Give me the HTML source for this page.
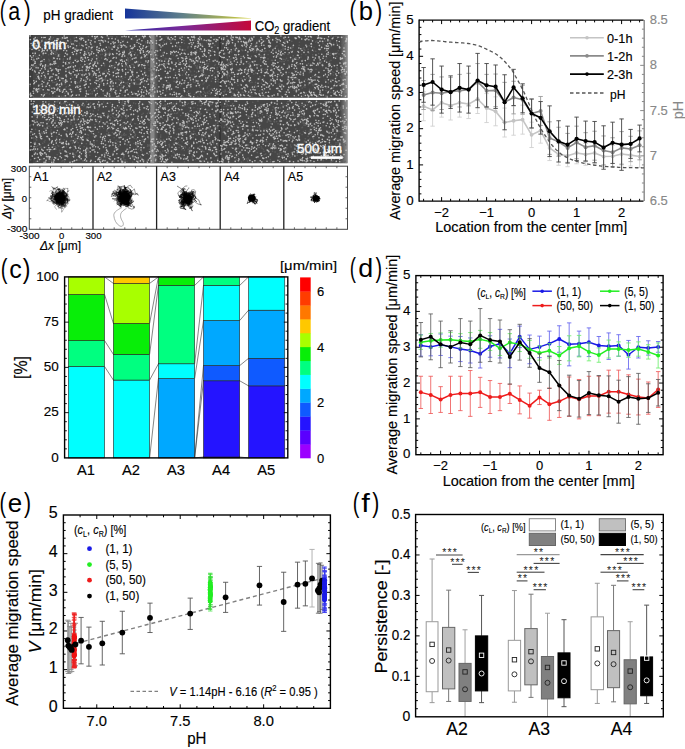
<!DOCTYPE html>
<html><head><meta charset="utf-8"><style>
html,body{margin:0;padding:0;background:#fff;width:685px;height:749px;overflow:hidden}
svg{display:block}
text{font-family:"Liberation Sans", sans-serif}
</style></head><body>
<svg width="685" height="749" viewBox="0 0 685 749">
<text x="-0.25" y="20.3" font-size="27.6" textLength="6.18" lengthAdjust="spacingAndGlyphs">(</text>
<text x="8.15" y="20.3" font-size="26" textLength="11.95" lengthAdjust="spacingAndGlyphs">a</text>
<text x="24.08" y="20.3" font-size="27.6" textLength="6.69" lengthAdjust="spacingAndGlyphs">)</text>
<text x="43.3" y="19.5" font-size="14.5" fill="#000" stroke="#000" stroke-width="0.15" textLength="69.6" lengthAdjust="spacingAndGlyphs" >pH gradient</text>
<defs>
<linearGradient id="gph" x1="0" y1="0" x2="1" y2="0">
<stop offset="0" stop-color="#15349a"/><stop offset="0.45" stop-color="#5f7f8a"/><stop offset="1" stop-color="#d4d03a"/></linearGradient>
<linearGradient id="gco" x1="0" y1="0" x2="1" y2="0">
<stop offset="0" stop-color="#2a2aa8"/><stop offset="0.45" stop-color="#7a2a98"/><stop offset="1" stop-color="#c4083a"/></linearGradient>
<linearGradient id="band" x1="0" y1="0" x2="1" y2="0">
<stop offset="0" stop-color="#909090" stop-opacity="0"/><stop offset="0.15" stop-color="#909090" stop-opacity="0.9"/><stop offset="0.5" stop-color="#909090" stop-opacity="0.85"/><stop offset="0.62" stop-color="#808080" stop-opacity="0.45"/><stop offset="0.85" stop-color="#808080" stop-opacity="0.2"/><stop offset="1" stop-color="#808080" stop-opacity="0"/></linearGradient>
<linearGradient id="redge" x1="0" y1="0" x2="1" y2="0">
<stop offset="0" stop-color="#999" stop-opacity="0"/><stop offset="1" stop-color="#9a9a9a" stop-opacity="0.9"/></linearGradient>
<filter id="soft" x="-5%" y="-5%" width="110%" height="110%"><feGaussianBlur stdDeviation="0.35"/></filter>
</defs>
<polygon points="125,8.4 125,18.4 251,18.4 251,18.2" fill="url(#gph)"/>
<polygon points="125,30.6 251,20.6 251,30.6" fill="url(#gco)"/>
<text x="254.7" y="30.5" font-size="14.5" fill="#000" stroke="#000" stroke-width="0.15" textLength="75.5" lengthAdjust="spacingAndGlyphs" >CO<tspan font-size="10" dy="3">2</tspan><tspan dy="-3"> gradient</tspan></text>
<rect x="29" y="35" width="318.5" height="62.8" fill="#464646"/>
<rect x="149.5" y="35" width="9" height="62.8" fill="url(#band)"/>
<rect x="219.3" y="35" width="1.6" height="62.8" fill="#2e2e2e" opacity="0.8"/>
<rect x="340" y="35" width="7.5" height="62.8" fill="url(#redge)"/>
<rect x="29" y="35" width="4" height="62.8" fill="#333" opacity="0.5"/>
<path d="M173.2 70.1h0M322.7 64.3h0M190.7 71.7h0M88.3 67.1h0M229.4 84.3h0M59.6 54.4h0M58.5 85.4h0M249.6 38.4h0M341.1 94.8h0M237.0 73.5h0M79.7 36.7h0M197.2 39.4h0M90.1 50.6h0M39.3 64.2h0M169.4 87.4h0M194.3 75.0h0M188.2 76.3h0M174.7 52.8h0M346.0 96.7h0M296.1 79.1h0M129.7 49.9h0M121.4 40.1h0M272.6 60.3h0M298.1 59.5h0M333.4 87.7h0M30.0 48.6h0M318.3 64.6h0M340.5 60.1h0M52.9 74.3h0M276.5 52.3h0M57.4 56.2h0M335.3 82.2h0M67.2 50.9h0M61.8 39.5h0M282.4 46.7h0M207.0 63.2h0M90.2 80.6h0M71.3 75.2h0M66.7 61.6h0M97.3 52.3h0M337.5 85.0h0M126.2 90.0h0M96.6 59.9h0M300.6 75.1h0M61.6 96.3h0M97.4 51.6h0M274.7 55.9h0M123.7 40.3h0M58.4 71.5h0M106.8 72.6h0M147.6 63.5h0M333.7 65.4h0M211.9 88.8h0M87.7 45.2h0M317.7 85.8h0M108.9 47.4h0M264.1 93.4h0M92.1 93.9h0M309.4 72.7h0M163.4 42.2h0M42.1 94.7h0M105.4 78.9h0M111.2 86.2h0M218.8 53.8h0M85.4 79.9h0M51.6 49.8h0M207.1 88.0h0M224.5 52.9h0M320.5 48.3h0M35.1 52.3h0M171.0 39.5h0M85.7 58.4h0M211.1 43.9h0M144.6 90.3h0M340.5 76.0h0M248.8 71.6h0M74.3 37.9h0M35.5 91.5h0M251.9 94.7h0M36.5 74.7h0M182.6 80.5h0M130.9 97.0h0M53.7 69.2h0M263.4 90.9h0M263.4 78.9h0M281.2 91.8h0M141.3 77.7h0M315.3 89.1h0M162.0 84.2h0M303.4 70.9h0M227.8 59.2h0M214.5 73.1h0M55.2 74.9h0M344.6 89.6h0M260.6 59.6h0M262.7 71.4h0M169.4 87.1h0M56.4 81.7h0M39.2 72.6h0M182.2 49.9h0M251.1 66.2h0M224.5 92.1h0M110.9 36.5h0M125.2 77.3h0M94.0 46.2h0M316.8 76.2h0M169.8 90.4h0M133.4 76.6h0M92.7 62.2h0M285.2 91.8h0M308.8 59.3h0M214.6 55.2h0M73.0 66.2h0M295.1 87.7h0M255.2 93.9h0M117.5 46.2h0M172.6 52.6h0M97.6 61.1h0M228.1 66.0h0M129.7 87.2h0M341.0 63.5h0M53.5 37.7h0M306.4 38.3h0M254.4 70.7h0M127.7 84.2h0M35.9 44.1h0M173.9 37.3h0M292.7 50.3h0M74.4 38.7h0M229.2 63.1h0M229.4 75.9h0M285.7 94.5h0M246.7 48.0h0M180.4 46.7h0M33.2 64.7h0M256.1 46.8h0M116.1 57.0h0M250.8 67.6h0M224.5 82.1h0M154.5 84.3h0M317.0 41.1h0M325.3 80.0h0M71.0 63.6h0M228.0 91.5h0M149.2 70.6h0M308.5 84.6h0M329.0 64.2h0M236.2 48.3h0M258.6 85.9h0M233.1 79.7h0M97.4 90.9h0M340.5 95.6h0M200.0 84.2h0M131.3 91.5h0M301.0 57.1h0M56.0 62.8h0M204.2 82.8h0M184.3 37.5h0M286.2 39.7h0M283.3 46.4h0M136.0 84.0h0M74.3 44.9h0M193.5 80.1h0M296.0 78.0h0M329.5 65.9h0M330.6 41.1h0M100.0 68.0h0M121.8 80.4h0M232.3 67.8h0M297.1 70.1h0M128.6 59.1h0M297.7 90.9h0M95.8 87.9h0M336.7 67.9h0M211.4 48.1h0M199.6 66.6h0M221.6 37.5h0M337.0 67.4h0M156.7 84.8h0M208.2 65.9h0M248.8 39.8h0M200.5 61.1h0M333.0 92.3h0M115.1 64.8h0M70.0 62.3h0M288.3 90.9h0M180.8 55.2h0M90.5 73.6h0M323.0 43.7h0M276.8 37.2h0M91.3 49.7h0M247.5 55.5h0M142.4 73.7h0M63.0 80.5h0M68.7 67.0h0M109.2 47.9h0M197.9 62.5h0M148.9 61.1h0M197.6 45.6h0M94.5 74.4h0M232.1 68.2h0M299.6 73.2h0M301.3 50.0h0M264.6 85.4h0M315.9 55.1h0M129.6 92.3h0M98.9 96.9h0M311.1 44.0h0M105.6 80.3h0M112.0 41.7h0M293.5 61.6h0M280.1 43.5h0M157.4 77.7h0M35.4 48.1h0M246.0 91.6h0M336.7 42.9h0M190.1 82.2h0M189.1 77.8h0M89.7 40.1h0M63.4 38.1h0M204.6 67.3h0M210.0 44.8h0M88.3 48.3h0M296.1 96.4h0M323.5 41.6h0M49.4 94.0h0M176.2 82.6h0M133.4 64.4h0M193.1 62.1h0M220.2 36.6h0M252.0 87.5h0M87.2 63.6h0M264.1 60.6h0M91.6 45.9h0M192.2 36.7h0M312.9 84.9h0M253.1 88.5h0M229.3 60.6h0M219.8 66.7h0M341.2 85.1h0M111.6 91.6h0M265.7 83.4h0M288.0 60.6h0M313.9 89.6h0M250.0 82.8h0M272.3 60.6h0M258.8 40.1h0M138.1 64.5h0M33.2 57.6h0M232.2 74.0h0M103.4 93.6h0M240.9 56.5h0M238.9 70.7h0M198.7 59.6h0M346.7 75.1h0M252.0 82.4h0M340.4 37.2h0M224.8 81.0h0M111.1 60.4h0M45.8 47.8h0M148.9 41.8h0M109.3 91.2h0M204.1 66.9h0M336.3 70.6h0M345.1 74.8h0M286.3 40.5h0M219.2 82.3h0M44.1 92.7h0M80.5 64.7h0M83.4 66.1h0M223.5 39.4h0M329.4 61.5h0M196.7 72.4h0M145.7 53.3h0M237.4 70.1h0M119.7 79.7h0M123.6 36.7h0M107.4 38.4h0M79.4 82.0h0M153.4 90.7h0M267.0 38.9h0M343.1 93.6h0M53.1 91.2h0M165.9 65.0h0M338.2 50.7h0M195.7 93.2h0M258.8 64.5h0M340.0 85.8h0M221.1 42.8h0M227.6 63.7h0M94.3 39.0h0M197.2 43.4h0M170.1 76.7h0M174.2 51.8h0M214.3 61.5h0M276.3 68.3h0M346.0 94.1h0M262.5 50.4h0M65.9 90.4h0M278.3 74.0h0M143.6 52.4h0M246.9 70.4h0M217.3 74.5h0M268.5 47.4h0M108.7 95.8h0M320.0 89.6h0M42.3 39.5h0M115.7 61.8h0M227.3 42.1h0M201.4 40.2h0M57.2 77.2h0M204.3 74.4h0M148.1 65.1h0M96.5 56.8h0M265.8 87.1h0M53.4 43.1h0M286.2 74.0h0M273.4 48.8h0M164.3 51.6h0M286.5 58.4h0M236.9 96.3h0M132.9 69.4h0M266.2 92.2h0M165.3 58.4h0M60.5 89.4h0M54.7 40.9h0M208.6 65.5h0M247.0 54.1h0M275.6 40.5h0M97.4 76.3h0M55.7 54.4h0M259.6 78.3h0M119.5 44.5h0M143.2 80.2h0M145.9 43.0h0M254.6 70.6h0M320.9 93.3h0M319.2 62.6h0M284.3 54.5h0M130.5 60.3h0M326.0 90.6h0M108.5 57.9h0M145.6 58.0h0M155.2 59.5h0M91.6 70.3h0M282.4 68.9h0M294.8 70.2h0M85.8 82.2h0M309.0 53.0h0M36.8 67.4h0M202.2 70.5h0M336.1 75.7h0M284.7 39.7h0M203.1 84.0h0M56.4 40.8h0M263.4 90.8h0M56.6 74.6h0M75.4 81.4h0M235.5 50.8h0M99.7 82.6h0M195.1 82.6h0M154.8 56.5h0M336.6 77.0h0M186.2 68.7h0M258.3 79.1h0M319.8 60.9h0M291.6 76.6h0M300.3 85.1h0M294.0 90.2h0M333.3 75.0h0M195.8 79.3h0M284.0 61.6h0M163.0 44.7h0M264.7 96.4h0M148.8 46.1h0M94.6 61.8h0M122.3 95.1h0M48.6 54.7h0M66.2 75.5h0M275.7 46.8h0M49.6 63.9h0M214.9 91.4h0M41.3 42.5h0M88.3 49.1h0M104.4 79.7h0M218.3 49.5h0M88.4 53.0h0M84.5 82.2h0M128.6 69.4h0M288.7 65.1h0M112.3 90.1h0M319.5 56.7h0M203.3 94.4h0M182.7 49.3h0M45.6 93.8h0M283.8 59.4h0M197.0 67.4h0M116.8 96.4h0M238.2 50.3h0M33.2 64.7h0M147.5 84.6h0M255.8 72.9h0M79.6 45.4h0M131.8 51.7h0M305.3 67.4h0M231.7 96.6h0M114.3 68.5h0M77.5 82.9h0M30.2 86.1h0M298.0 86.1h0M55.9 52.3h0M256.9 41.7h0M181.9 64.5h0M332.6 71.7h0M301.5 54.4h0M279.9 61.3h0M320.3 41.4h0M291.7 48.6h0M202.0 68.0h0M79.7 86.7h0M128.5 54.8h0M53.9 54.5h0M177.9 79.6h0M143.8 77.9h0M63.3 59.9h0M176.1 95.0h0M292.7 75.8h0M33.7 58.9h0M254.8 50.3h0M208.6 63.8h0M33.1 96.5h0M283.1 48.5h0M225.0 53.6h0M149.0 68.8h0M124.3 56.4h0M154.1 76.6h0M111.1 48.0h0M261.6 56.0h0M329.3 70.2h0M259.2 56.1h0M291.8 41.4h0M74.4 41.6h0M244.6 79.1h0M86.8 60.4h0M295.0 72.1h0M58.4 49.7h0M79.6 43.4h0M158.7 40.2h0M321.5 61.9h0M191.9 75.4h0M272.8 86.1h0M152.1 56.1h0M160.4 36.7h0M156.8 78.6h0M341.0 84.1h0M239.0 73.0h0M35.7 56.1h0M138.3 75.6h0M63.5 58.9h0M191.2 84.1h0M291.3 73.2h0M80.0 82.7h0M316.0 69.4h0M141.5 66.4h0M74.7 79.5h0M342.5 67.4h0M256.5 86.9h0M92.3 93.6h0M228.5 47.9h0M56.2 50.8h0M212.5 78.5h0M134.1 92.7h0M144.3 64.1h0M69.1 95.4h0M72.8 91.1h0M202.0 70.1h0M207.4 52.0h0M318.0 96.5h0M288.9 72.6h0M68.7 86.3h0M121.3 90.7h0M106.1 70.9h0M293.1 47.2h0M203.4 40.5h0M39.9 46.8h0M342.6 93.3h0M238.4 54.6h0M242.5 80.9h0M150.7 72.0h0M284.5 36.8h0M93.0 64.4h0M75.1 59.4h0M210.3 46.4h0M194.5 51.9h0M209.8 56.1h0M233.2 38.1h0M242.4 44.7h0M333.8 72.5h0M178.7 61.0h0M227.5 78.0h0M270.0 81.8h0M183.7 96.7h0M295.4 88.1h0M159.4 62.4h0M209.2 91.2h0M196.5 67.9h0M166.8 91.1h0M131.4 39.1h0M259.7 90.9h0M261.8 72.4h0M268.1 54.5h0M217.9 40.1h0M69.2 63.2h0M189.1 60.1h0M46.3 78.3h0M196.6 50.4h0M126.9 60.0h0M104.5 40.0h0M318.6 94.9h0M240.8 88.8h0M163.3 85.1h0M100.1 81.5h0M209.4 91.1h0M61.0 84.3h0M69.0 68.7h0M331.2 35.8h0M107.1 54.1h0M132.7 39.6h0M313.5 85.7h0M155.7 57.6h0M215.3 38.6h0M39.7 90.8h0M127.4 66.3h0M325.8 95.6h0M179.6 48.4h0M123.4 92.3h0M314.0 47.8h0M295.3 57.5h0M179.5 46.3h0M308.6 96.7h0M93.8 74.5h0M90.5 89.7h0M45.6 42.3h0M259.8 55.0h0M315.1 89.0h0M255.8 44.1h0M250.3 93.2h0M170.9 40.6h0M100.5 54.6h0M255.0 47.8h0M87.2 50.2h0M240.4 84.2h0M147.9 76.3h0M310.1 71.9h0M102.4 54.2h0M323.5 76.6h0M117.5 75.0h0M58.3 96.0h0M169.3 68.1h0M198.0 38.6h0M219.8 53.2h0M109.3 85.0h0M57.4 53.3h0M269.3 50.8h0M118.2 69.3h0M88.9 90.7h0M342.8 37.9h0M176.1 81.7h0M151.7 92.7h0M188.2 46.8h0M206.0 75.3h0M143.8 76.1h0M277.9 67.4h0M190.0 87.5h0M246.6 67.7h0M331.3 46.4h0M276.9 45.9h0M222.5 50.2h0M169.4 83.1h0M279.1 84.2h0M104.6 65.7h0M99.9 71.3h0M187.9 38.0h0M218.9 79.5h0M211.3 89.2h0M86.9 45.1h0M35.4 66.2h0M167.5 62.8h0M113.1 84.7h0M52.8 91.3h0M210.1 69.0h0M280.7 50.4h0M76.1 54.8h0M43.2 55.0h0M226.7 68.0h0M113.7 71.8h0M57.8 86.0h0M84.2 51.4h0M80.4 78.1h0M293.1 83.9h0M49.2 60.9h0M145.3 49.0h0M337.4 38.4h0M184.9 82.4h0M342.3 44.6h0M174.1 81.4h0M42.2 50.5h0M311.9 44.5h0M154.3 54.0h0M164.3 40.5h0M40.7 96.8h0M271.7 80.7h0M102.6 51.3h0M204.7 50.6h0M176.1 92.9h0M145.2 56.4h0M340.8 73.2h0M42.4 60.5h0M235.7 39.4h0M138.6 78.3h0M303.7 71.9h0M310.7 64.1h0M154.3 87.4h0M150.6 83.6h0M98.1 57.1h0M88.0 69.4h0M81.7 48.3h0M97.8 64.4h0M127.6 63.2h0M344.6 77.4h0M303.2 48.3h0M151.2 40.3h0M248.9 58.0h0M116.8 36.9h0M87.5 51.9h0M154.3 92.3h0M256.4 52.2h0M144.2 45.2h0M326.6 57.8h0M272.4 80.1h0M317.3 37.0h0M131.9 59.3h0M56.2 89.8h0M132.9 83.0h0M194.4 39.2h0M154.6 50.4h0M42.7 45.0h0M218.5 37.7h0M128.8 61.8h0M202.2 44.1h0M253.7 51.7h0M259.7 76.6h0M76.4 48.3h0M118.6 79.4h0M158.2 59.5h0M304.2 49.6h0M122.4 56.9h0M98.2 38.3h0M37.6 74.4h0M209.1 85.3h0M339.0 54.0h0M242.3 92.0h0M98.3 78.0h0M241.0 94.3h0M305.0 50.2h0M230.2 41.3h0M165.3 59.8h0M48.8 59.3h0M133.8 66.2h0M118.5 45.5h0M157.3 64.9h0M82.6 76.5h0M105.8 41.5h0M138.1 61.6h0M77.6 71.5h0M252.1 69.7h0M251.7 37.2h0M153.8 58.1h0M49.7 60.5h0M47.1 66.1h0M215.5 64.5h0M133.0 51.3h0M37.3 57.0h0M312.4 70.4h0M112.8 76.7h0M88.7 64.5h0M224.8 94.2h0M144.7 71.1h0M328.4 83.0h0M228.6 73.8h0M160.0 61.2h0M117.3 86.6h0M308.6 59.2h0M318.1 38.1h0M72.9 66.8h0M127.6 57.9h0M339.4 45.0h0M90.8 49.8h0M245.3 50.2h0M30.1 69.1h0M154.6 50.4h0M186.2 75.6h0M203.5 74.0h0M207.5 86.7h0M336.8 56.2h0M139.7 90.0h0M129.1 79.6h0M250.2 77.8h0M335.3 86.3h0M80.3 73.8h0M185.3 70.3h0M146.9 53.3h0M267.1 68.5h0M104.9 51.1h0M132.8 46.7h0M192.6 43.5h0M49.8 40.0h0M62.2 78.9h0M65.5 63.4h0M274.5 65.2h0M81.3 88.8h0M305.4 39.1h0M110.3 66.9h0M282.2 59.8h0M256.7 51.2h0M256.6 55.8h0M135.6 82.3h0M296.9 86.5h0M209.6 61.5h0M253.8 73.9h0M293.1 84.8h0M69.5 58.9h0M241.9 49.9h0M88.3 36.6h0M215.4 93.4h0M337.3 44.0h0M247.7 61.5h0M229.9 60.1h0M325.6 96.3h0M45.2 79.5h0M67.3 38.4h0M120.4 80.6h0M344.7 43.2h0M134.4 37.4h0M201.7 65.4h0M148.1 54.7h0M283.5 87.1h0M119.7 59.8h0M225.6 82.6h0M340.7 59.6h0M249.7 69.2h0M283.4 44.8h0M85.3 42.4h0M325.6 51.2h0M184.5 43.2h0M132.4 37.0h0M209.1 44.6h0M228.0 52.6h0M101.9 65.3h0M145.7 51.7h0M46.0 39.7h0M312.7 54.7h0M54.7 47.0h0M183.0 96.8h0M93.9 88.9h0M183.3 61.2h0M285.5 60.0h0M48.1 69.5h0M238.0 73.9h0M117.6 93.3h0M303.8 96.7h0M170.3 86.8h0M259.5 46.6h0M38.3 46.1h0M67.4 40.4h0M143.5 81.9h0M128.0 67.3h0M33.1 48.7h0M333.8 36.5h0M196.9 85.4h0M280.9 80.8h0M156.3 84.9h0M292.1 82.8h0M342.2 42.0h0M331.0 60.4h0M253.3 51.1h0M318.1 37.2h0M212.6 49.7h0M152.9 58.4h0M238.0 85.4h0M145.4 74.8h0M142.0 52.9h0M316.6 55.5h0M59.6 56.3h0M264.8 48.7h0M265.3 69.2h0M245.4 46.7h0M63.3 44.5h0M140.8 62.2h0M32.8 66.6h0M157.6 55.5h0M200.0 94.1h0M94.7 89.7h0M131.5 82.0h0M64.1 96.2h0M166.1 94.7h0M99.4 60.8h0M253.5 46.7h0M116.4 77.2h0M330.1 55.5h0M87.9 57.7h0M343.4 44.9h0M230.9 58.9h0M233.8 48.8h0M225.1 90.1h0M301.2 74.3h0M189.8 70.5h0M66.0 87.1h0M248.4 63.5h0M240.7 61.5h0M151.7 49.9h0M220.2 70.9h0M193.1 37.8h0M228.6 63.1h0M217.8 72.2h0M325.0 45.1h0M178.3 96.6h0M263.7 55.0h0M263.3 96.4h0M157.2 88.9h0M69.9 96.4h0M185.4 50.1h0M296.1 75.5h0M327.0 86.6h0M282.6 67.1h0M344.7 39.8h0M305.5 79.4h0M109.3 85.2h0M173.7 68.6h0M304.1 47.8h0M118.4 75.2h0M53.1 69.8h0M279.2 65.8h0M106.4 84.8h0M300.8 83.0h0M203.9 91.2h0M282.3 45.1h0M145.7 41.9h0M41.5 57.0h0M303.9 86.8h0M67.0 46.9h0M153.0 87.8h0M225.3 91.0h0M52.6 96.3h0M95.3 74.3h0M307.6 80.3h0M92.2 76.7h0M166.3 36.7h0M137.4 55.1h0M229.4 52.8h0M220.9 78.3h0M87.1 43.6h0M249.7 64.3h0M70.7 42.9h0M328.0 73.1h0M143.1 47.8h0M345.1 78.1h0M263.1 57.9h0M128.1 60.8h0M76.2 74.4h0M164.4 86.0h0M159.4 63.8h0M190.3 93.4h0M139.6 78.9h0M104.3 71.3h0M120.1 89.2h0M120.6 88.1h0M244.2 63.6h0M325.7 59.5h0M265.3 72.6h0M171.9 39.7h0M162.6 53.0h0M169.5 94.2h0M122.6 78.3h0M242.8 50.8h0M160.2 43.9h0M313.5 51.2h0M163.1 56.7h0M289.8 87.8h0M217.0 69.2h0M61.3 90.7h0M57.8 58.1h0M148.5 80.1h0M241.9 56.8h0M314.3 93.9h0M37.2 74.5h0M178.5 57.9h0M177.1 55.1h0M242.4 72.9h0M337.3 95.6h0M344.4 60.0h0M292.4 75.6h0M252.0 96.9h0M50.9 64.1h0M157.0 76.0h0M98.9 96.4h0M96.2 58.4h0M75.1 60.0h0M264.9 40.9h0M82.7 75.5h0M227.2 81.2h0M110.1 85.4h0M261.4 83.3h0M67.7 64.5h0M34.8 88.4h0M329.1 90.6h0M37.5 57.3h0M199.6 68.5h0M65.0 84.1h0M125.4 66.8h0M69.3 70.6h0M70.9 41.2h0M192.1 53.8h0M276.2 50.9h0M161.0 39.1h0M98.8 63.4h0M206.7 63.9h0M299.4 42.2h0M299.2 45.3h0M337.3 67.9h0M158.6 73.3h0M303.6 94.8h0M160.8 36.5h0M78.5 85.9h0M262.5 79.4h0M79.4 68.3h0M38.8 42.5h0M125.1 94.9h0M233.6 87.7h0M44.4 61.3h0M54.6 51.8h0M65.2 92.0h0M134.0 65.7h0M237.1 90.1h0M329.7 70.6h0M188.5 91.1h0M154.8 54.1h0M264.1 51.6h0M146.4 62.1h0M180.9 57.7h0M166.2 63.4h0M45.5 86.9h0M49.4 68.1h0M203.3 60.3h0M100.4 41.9h0M147.7 55.0h0M183.2 49.9h0M267.3 65.6h0M32.6 60.7h0M336.0 36.2h0M217.8 94.6h0M145.7 72.4h0M146.7 54.2h0M222.9 71.9h0M129.7 66.3h0M193.4 81.9h0M46.6 41.5h0M109.6 52.3h0M281.9 61.8h0M302.4 60.4h0M120.4 77.4h0M56.9 96.0h0M293.3 55.9h0M130.4 85.9h0M279.6 75.1h0M47.8 82.5h0M45.0 74.0h0M204.8 92.6h0M232.2 37.2h0M325.9 81.9h0M213.5 36.1h0M263.3 61.4h0M245.2 96.0h0M320.3 40.4h0M277.4 62.8h0M268.0 58.9h0M171.7 62.5h0M67.2 55.4h0M262.6 40.2h0M66.5 86.8h0M240.9 69.3h0M65.7 43.0h0M128.1 94.2h0M207.3 92.2h0M96.7 61.2h0M199.8 87.2h0M68.9 89.3h0M179.5 37.7h0M166.7 58.9h0M243.5 92.6h0M186.2 78.0h0M152.8 83.4h0M63.1 81.2h0M82.6 71.7h0M93.9 57.0h0M81.7 57.2h0M217.2 67.6h0M152.9 70.9h0M296.7 57.7h0M214.8 65.2h0M340.6 55.9h0M250.8 50.1h0M112.6 80.5h0M212.0 51.5h0M50.1 86.3h0M149.5 79.6h0M166.9 73.6h0M207.1 95.5h0M318.1 63.7h0M184.1 50.0h0M268.5 42.1h0M126.9 87.7h0M40.9 78.5h0M209.8 69.6h0M135.3 45.1h0M331.1 82.6h0M285.1 41.8h0M278.3 49.2h0M92.9 68.5h0M223.1 43.2h0M272.2 71.4h0M314.8 92.3h0M248.2 58.1h0M331.2 79.8h0M122.0 88.3h0M260.1 52.0h0M108.8 37.0h0M200.0 51.3h0M122.7 51.3h0M71.5 65.5h0M116.2 53.2h0M117.8 67.0h0M306.7 45.6h0M302.2 88.1h0M222.9 69.1h0M262.4 68.5h0M238.9 92.1h0M275.5 51.7h0M47.0 93.1h0M144.7 84.0h0M103.8 63.5h0M147.2 80.4h0M328.8 66.7h0M209.2 57.1h0M103.4 93.9h0M64.7 93.4h0M238.0 40.2h0M315.6 42.0h0M209.0 43.1h0M343.2 54.7h0M306.2 39.6h0M241.0 40.0h0M39.2 70.7h0M341.3 77.7h0M300.8 83.8h0M195.0 40.5h0M196.8 47.1h0M196.7 57.5h0M187.9 47.9h0M253.2 61.3h0M183.8 40.6h0M184.1 69.9h0M338.0 70.2h0M72.5 54.2h0M136.2 78.8h0M327.3 95.5h0M330.8 92.4h0M301.9 93.0h0M36.2 65.8h0M217.0 77.8h0M224.0 73.3h0M325.5 41.1h0M194.3 94.5h0M39.9 42.6h0M305.2 94.4h0M37.4 37.8h0M292.7 77.9h0M194.5 71.3h0M269.8 85.2h0M30.0 40.0h0M281.5 95.5h0M293.9 60.7h0M136.1 57.0h0M34.5 82.9h0M112.9 71.6h0M196.5 56.3h0M243.7 63.6h0M104.1 89.8h0M85.5 45.0h0M110.1 65.1h0M278.1 56.2h0M105.3 75.8h0M112.3 67.8h0M110.6 89.5h0M88.3 50.0h0M125.3 56.0h0M260.0 77.1h0M280.3 68.9h0M54.7 82.5h0M107.3 49.1h0M161.1 96.4h0M147.3 57.6h0M318.5 96.4h0M152.5 44.1h0M280.0 83.7h0M137.0 84.2h0M150.1 53.4h0M217.8 81.2h0M180.6 85.9h0M34.2 66.3h0M150.3 39.8h0M319.6 44.6h0M95.0 89.5h0M334.2 92.8h0M138.2 92.8h0M74.7 79.5h0M329.5 47.6h0M72.8 77.3h0M309.5 80.3h0M330.6 63.6h0M147.8 43.2h0M116.3 93.3h0M52.5 47.1h0M139.9 38.8h0M127.1 47.0h0M68.7 68.0h0M201.0 70.5h0M271.4 68.0h0M329.9 40.8h0M100.5 40.5h0M127.9 82.4h0M322.7 66.6h0M80.6 56.0h0M209.9 53.8h0M281.0 95.3h0M175.5 72.7h0M297.9 64.3h0M90.3 93.6h0M339.7 37.3h0M271.5 60.3h0M46.2 45.8h0M84.6 80.9h0M96.9 37.0h0M99.4 84.7h0M188.0 75.8h0M177.2 47.0h0M34.6 54.4h0M43.0 51.7h0M225.9 58.4h0M179.7 74.0h0M130.3 57.6h0M309.9 71.4h0M161.9 68.9h0M175.7 56.1h0M319.4 50.1h0M326.4 88.0h0M309.3 45.8h0M191.1 96.1h0M121.3 46.3h0M259.0 50.2h0M214.8 45.4h0M330.1 53.2h0M60.5 77.9h0M139.8 70.0h0M187.4 92.3h0M192.8 59.0h0M30.3 66.2h0M115.1 70.9h0M230.0 64.1h0M58.3 66.2h0M182.5 75.0h0M337.2 52.9h0M170.1 41.0h0M283.3 50.2h0M292.5 84.6h0M110.5 91.1h0M189.5 61.9h0M205.7 93.7h0M185.0 65.3h0M121.9 87.3h0M189.2 56.8h0M92.1 49.0h0M294.1 85.0h0M339.9 91.9h0M246.9 84.6h0M255.3 85.3h0M283.7 46.6h0M288.0 54.4h0M107.2 92.1h0M37.0 67.1h0M138.5 84.3h0M223.3 91.6h0M325.3 75.2h0M50.2 76.6h0M64.5 95.9h0M305.9 54.8h0M88.7 78.3h0M270.0 96.1h0M227.2 43.5h0M260.1 39.4h0M304.8 82.8h0M278.7 89.3h0M210.2 93.5h0M232.3 65.9h0M151.6 57.4h0M37.1 45.7h0M281.9 49.8h0M236.9 83.2h0M249.9 67.4h0M129.9 52.5h0M89.2 75.4h0M247.3 93.5h0M134.6 92.5h0M318.7 53.6h0M331.5 73.7h0M334.8 83.2h0M135.4 52.9h0M195.4 65.7h0M41.0 88.6h0M199.5 64.7h0M265.8 51.1h0M92.9 71.3h0M106.3 55.8h0M52.0 39.0h0M142.4 68.0h0M330.5 74.9h0M161.1 60.7h0M104.4 64.8h0M333.7 43.3h0M167.0 77.8h0M271.4 69.8h0M233.0 93.2h0M315.8 51.2h0M201.3 96.8h0M197.0 47.4h0M272.6 39.3h0M77.4 69.5h0M116.2 79.8h0M260.1 55.3h0M272.8 75.4h0M253.5 63.7h0M166.8 42.3h0M180.3 94.2h0M311.3 39.2h0M52.3 52.3h0M249.9 62.6h0M70.3 61.8h0M211.4 81.3h0M157.5 75.6h0M245.7 73.5h0M44.5 79.3h0M70.5 39.2h0M179.9 36.8h0M52.9 59.7h0M178.3 42.3h0M332.0 87.9h0M184.0 71.8h0M129.8 96.0h0M67.8 54.4h0M99.8 88.8h0M191.0 60.9h0M156.2 90.1h0M111.4 84.2h0M254.2 63.2h0M145.7 62.5h0M173.4 55.1h0M227.5 61.0h0M126.0 83.1h0M174.0 64.8h0M308.5 63.6h0M149.0 90.8h0M339.2 83.9h0M157.0 76.9h0M264.6 53.9h0M259.2 93.9h0M237.6 76.7h0M167.7 75.8h0M101.4 82.9h0M200.7 95.8h0M138.1 79.4h0M35.1 61.3h0M272.7 51.7h0M224.2 49.3h0M156.0 96.6h0M92.1 91.7h0M48.7 71.5h0M290.1 87.0h0M153.8 71.9h0M255.5 82.4h0M266.4 71.2h0M109.5 79.0h0M207.7 69.1h0M342.6 44.2h0M277.2 55.7h0M260.1 94.0h0M116.8 70.5h0M197.2 66.1h0M82.7 74.1h0M312.9 76.4h0M121.4 85.1h0M162.9 44.7h0M221.8 64.0h0M197.7 96.5h0M210.3 94.2h0M141.5 82.2h0M53.7 54.2h0M249.1 78.0h0M292.3 59.1h0M116.5 57.7h0M200.1 37.3h0M148.5 76.0h0M76.9 54.8h0M306.3 92.9h0M108.9 46.7h0M67.1 41.0h0M281.4 81.0h0M113.6 65.7h0M250.2 37.5h0M289.3 88.4h0M96.8 78.9h0M251.4 56.4h0M308.2 49.2h0M180.0 55.0h0M169.8 85.5h0M210.4 73.1h0M342.6 49.5h0M100.4 73.7h0M77.4 94.8h0M137.9 62.7h0M166.4 86.5h0M319.9 77.2h0M84.1 57.5h0M253.7 49.0h0M309.5 89.2h0M101.6 58.1h0M102.3 79.8h0M44.7 78.4h0M49.7 87.3h0M202.0 71.5h0M60.0 38.5h0M141.7 96.1h0M220.0 88.6h0M49.7 42.0h0M36.4 78.5h0M85.7 52.5h0M241.2 78.4h0M132.0 64.4h0M121.4 70.2h0M142.6 57.8h0M108.7 53.7h0M112.5 36.8h0M128.2 72.0h0M114.9 42.7h0M297.9 64.5h0M192.0 54.9h0M310.9 81.9h0M227.1 76.2h0M249.2 66.4h0M160.7 59.7h0M189.6 64.5h0M197.4 68.4h0M279.7 90.4h0M100.8 37.2h0M125.2 37.7h0M282.2 73.8h0M120.3 47.5h0M305.1 87.0h0M246.5 78.1h0M265.7 63.6h0M155.7 69.6h0M308.8 96.5h0M320.4 86.9h0M53.4 50.9h0M337.5 69.1h0M192.9 54.8h0M303.0 67.4h0M343.6 40.4h0M344.6 36.6h0M76.8 59.6h0M232.5 42.6h0M208.0 93.3h0M167.8 82.5h0M217.4 71.4h0M84.7 64.2h0M315.1 77.1h0M98.5 63.2h0M202.1 56.4h0M212.9 74.5h0M35.5 49.3h0M237.9 48.9h0M52.9 82.4h0M135.6 94.4h0M206.9 42.0h0M231.6 51.9h0M287.9 80.1h0M270.1 39.3h0M40.6 84.6h0M74.3 48.1h0M39.3 45.8h0M179.9 94.4h0M131.6 51.7h0M292.2 47.1h0M231.1 73.4h0M326.2 38.5h0M208.3 59.2h0M290.8 51.2h0M256.4 47.1h0M186.7 95.1h0M105.8 52.9h0M320.6 77.1h0M50.7 47.2h0M105.0 53.5h0M297.5 78.7h0M340.3 76.8h0M228.8 59.2h0M257.1 66.0h0M48.5 65.9h0M151.5 68.3h0" stroke="#626262" stroke-width="1.6" stroke-linecap="round" opacity="0.8"/>
<path d="M45.2 37.5h0M341.3 58.5h0M134.4 44.9h0M217.6 91.8h0M87.0 66.4h0M188.2 82.7h0M208.9 50.4h0M89.9 80.1h0M54.6 88.7h0M40.4 47.4h0M178.0 87.5h0M226.2 81.4h0M271.0 80.0h0M46.2 86.3h0M76.6 45.7h0M41.7 37.5h0M307.7 59.1h0M57.2 38.7h0M298.0 72.6h0M320.2 38.1h0M65.5 53.3h0M90.3 42.7h0M93.4 75.0h0M83.1 46.1h0M199.5 58.8h0M77.2 70.6h0M190.8 59.5h0M180.1 38.2h0M224.7 47.6h0M136.2 36.4h0M311.1 71.8h0M154.1 69.0h0M327.6 43.9h0M151.3 79.1h0M147.7 79.1h0M317.6 38.3h0M120.0 53.7h0M267.5 83.8h0M251.5 92.4h0M88.7 59.9h0M300.1 82.7h0M65.5 95.8h0M264.5 88.8h0M144.6 72.9h0M333.6 90.8h0M212.7 90.3h0M346.4 87.2h0M237.6 94.6h0M75.3 60.5h0M208.6 43.9h0M277.2 39.6h0M229.1 52.9h0M132.1 72.9h0M90.5 63.2h0M301.5 96.2h0M113.0 58.2h0M249.7 47.4h0M298.9 48.0h0M206.2 56.6h0M30.1 35.9h0M30.4 55.9h0M117.0 96.5h0M231.9 39.8h0M256.7 50.0h0M182.4 80.0h0M301.3 93.0h0M163.2 55.2h0M155.8 54.9h0M264.8 64.1h0M247.0 45.1h0M277.9 95.0h0M94.1 73.5h0M81.2 38.0h0M161.0 47.0h0M261.4 70.8h0M243.6 95.0h0M48.3 41.8h0M41.1 63.9h0M291.1 77.6h0M203.4 88.2h0M147.7 42.7h0M233.1 37.4h0M102.5 37.6h0M81.0 39.7h0M198.2 43.6h0M221.0 86.2h0M138.9 43.2h0M242.5 80.4h0M309.9 69.7h0M214.3 88.6h0M244.4 95.5h0M120.7 83.2h0M230.3 64.5h0M33.2 65.0h0M113.3 72.6h0M191.2 67.0h0M48.4 43.9h0M222.1 77.5h0M343.7 84.3h0M121.7 63.7h0M190.1 85.0h0M154.8 92.1h0M183.2 60.2h0M181.8 57.7h0M346.6 38.6h0M156.4 40.7h0M244.6 45.0h0M77.1 61.7h0M220.6 82.5h0M170.7 53.9h0M146.4 90.2h0M97.4 36.5h0M310.5 65.4h0M71.7 44.1h0M312.0 81.6h0M50.2 77.1h0M97.6 63.1h0M221.5 38.9h0M326.3 56.3h0M75.4 83.5h0M64.4 38.1h0M236.4 64.6h0M315.2 84.2h0M95.2 38.6h0M221.0 64.6h0M125.2 91.9h0M95.9 75.2h0M53.1 92.3h0M330.5 73.6h0M131.3 80.1h0M316.1 84.4h0M42.7 66.6h0M74.1 69.2h0M330.9 88.7h0M108.6 69.6h0M130.4 46.1h0M265.5 82.3h0M136.5 61.5h0M250.5 80.3h0M176.7 43.0h0M60.1 46.2h0M291.7 66.2h0M234.0 58.1h0M146.7 46.6h0M338.7 72.9h0M70.6 78.8h0M219.3 73.3h0M273.8 73.0h0M307.6 95.1h0M158.7 75.5h0M148.4 60.9h0M145.8 75.4h0M141.5 57.3h0M298.1 84.7h0M244.1 87.4h0M152.1 75.1h0M109.4 55.1h0M61.7 84.7h0M321.8 54.3h0M149.7 43.0h0M74.9 74.9h0M312.5 40.9h0M110.5 82.3h0M101.4 89.5h0M141.6 64.8h0M93.7 53.6h0M164.3 52.8h0M260.9 37.6h0M232.2 84.9h0M133.1 47.5h0M67.8 40.5h0M280.8 72.7h0M34.6 63.5h0M219.5 55.3h0M40.8 61.6h0M141.9 95.3h0M143.8 92.3h0M304.9 71.0h0M69.7 85.2h0M58.4 69.9h0M60.6 41.5h0M159.9 45.4h0M344.1 71.2h0M314.1 94.3h0M270.0 75.3h0M179.7 83.4h0M241.9 45.5h0M197.8 61.1h0M193.2 79.4h0M248.2 70.7h0M279.8 86.3h0M59.1 44.7h0M44.7 45.6h0M333.7 54.7h0M168.9 64.3h0M208.7 52.9h0M276.6 56.1h0M297.8 85.0h0M30.2 69.3h0M59.3 89.9h0M51.8 52.2h0M273.4 72.0h0M241.2 61.1h0M194.8 48.2h0M176.3 51.5h0M243.9 42.3h0M73.4 47.9h0M198.7 71.4h0M30.7 96.2h0M294.5 59.0h0M80.1 86.3h0M339.4 46.7h0M269.4 85.9h0M326.8 48.6h0M68.0 45.9h0M103.1 90.9h0M318.2 64.8h0M70.2 57.4h0M106.2 75.5h0M258.0 83.3h0M168.3 63.8h0M178.1 58.5h0M174.0 77.7h0M255.2 55.8h0M209.4 44.7h0M44.1 59.5h0M143.7 37.8h0M55.0 61.9h0M328.4 87.1h0M39.4 55.2h0M146.6 54.8h0M73.2 71.9h0M295.7 59.2h0M85.7 42.2h0M34.6 82.6h0M102.9 80.1h0M280.4 40.9h0M89.7 55.1h0M273.5 80.9h0M125.8 63.5h0M142.3 64.7h0M281.3 51.8h0M286.6 92.1h0M220.3 94.5h0M327.1 46.3h0M344.0 48.1h0M284.8 43.2h0M125.7 62.9h0M295.7 77.5h0M94.4 90.7h0M304.1 67.0h0M45.8 53.3h0M122.5 61.4h0M328.5 72.2h0M289.5 40.2h0M107.6 80.6h0M137.7 49.7h0M49.8 38.9h0M160.5 69.2h0M156.5 70.4h0M122.0 36.8h0M243.5 56.3h0M185.5 58.9h0M115.4 39.0h0M123.8 54.0h0M66.2 37.6h0M182.1 37.0h0M308.3 57.8h0M170.4 68.0h0M37.4 42.0h0M278.7 69.9h0M186.1 56.8h0M267.9 66.6h0M280.9 86.9h0M313.1 80.2h0M243.4 64.0h0M198.8 71.2h0M196.3 85.9h0M301.7 39.0h0M268.1 73.5h0M219.4 91.4h0M45.5 64.9h0M148.8 93.8h0M82.0 70.3h0M75.5 81.9h0M184.8 80.8h0M127.1 89.9h0M32.0 49.5h0M262.2 89.6h0M276.1 52.6h0M55.5 79.2h0M261.6 39.5h0M326.0 68.1h0M40.4 65.1h0M137.0 42.2h0M310.4 93.0h0M69.1 63.1h0M116.4 76.9h0M64.6 56.2h0M159.8 64.7h0M167.7 72.3h0M327.8 92.8h0M317.3 86.5h0M102.2 50.8h0M175.5 75.2h0M221.9 57.2h0M344.1 54.9h0M35.9 41.4h0M96.2 80.5h0M296.2 38.4h0M104.9 50.6h0M279.1 90.7h0M113.2 42.1h0M336.2 95.3h0M256.9 64.7h0M266.5 82.8h0M191.2 52.4h0M196.2 76.3h0M132.6 74.9h0M76.3 95.2h0M96.8 49.7h0M334.1 93.9h0M323.0 87.3h0M298.7 86.1h0M209.4 40.3h0M261.7 86.9h0M295.3 38.5h0M49.2 80.5h0M184.4 90.5h0M343.8 63.2h0M243.9 76.5h0M249.6 58.3h0M232.5 40.0h0M315.0 80.1h0M284.1 64.1h0M94.8 63.4h0M245.5 69.3h0M64.2 36.0h0M155.9 50.8h0M101.7 49.4h0M161.5 78.3h0M319.1 77.2h0M36.4 88.9h0M222.8 80.6h0M224.3 57.5h0M137.3 40.2h0M240.2 39.1h0M245.6 91.6h0M241.5 72.9h0M285.9 94.5h0M287.3 96.4h0M175.4 36.7h0M224.5 74.9h0M303.3 73.3h0M144.9 36.1h0M293.0 74.0h0M342.0 72.1h0M300.0 83.1h0M343.8 64.1h0M314.1 60.1h0M33.4 55.7h0M141.1 96.5h0M154.9 52.6h0M248.7 41.8h0M126.6 60.0h0M69.2 72.4h0M163.8 84.9h0M137.4 95.6h0M91.8 68.3h0M101.5 36.7h0M125.4 90.6h0M122.2 65.7h0M195.9 52.1h0M199.3 39.8h0M140.5 53.2h0M288.2 82.9h0M251.9 72.2h0M304.4 81.2h0M47.3 43.8h0M266.8 87.2h0M343.3 83.2h0M79.8 70.5h0M227.6 72.8h0M72.4 95.1h0M191.5 52.2h0M340.7 59.3h0M52.0 76.8h0M112.1 49.2h0M125.7 73.0h0M131.1 76.5h0M316.7 96.4h0M311.5 92.2h0M110.0 86.2h0M58.2 71.4h0M53.7 41.9h0M330.5 43.6h0M257.1 68.1h0M30.2 84.3h0M49.0 90.1h0M289.2 66.2h0M171.2 37.5h0M251.6 38.2h0M196.5 92.4h0M244.7 42.9h0M258.3 78.7h0M134.1 83.0h0M213.2 61.1h0M196.4 52.7h0M120.8 90.2h0M140.6 83.0h0M146.0 47.4h0M30.2 94.8h0M268.0 95.9h0M216.5 39.6h0M81.5 38.8h0M223.8 73.9h0M332.6 53.9h0M103.7 49.3h0M76.4 37.5h0M186.3 61.5h0M146.4 94.0h0M129.2 86.4h0M198.5 42.1h0M39.2 73.1h0M306.9 38.9h0M252.3 50.0h0M247.6 86.8h0M260.2 50.8h0M79.2 95.0h0M320.0 92.3h0M201.3 38.9h0M146.7 91.5h0M51.0 53.9h0M43.2 89.7h0M141.9 40.8h0M142.7 48.3h0M167.1 73.5h0M238.3 41.7h0M199.1 39.2h0M169.7 85.2h0M113.0 86.1h0M107.1 59.9h0M280.9 36.0h0M205.4 68.6h0M256.3 93.8h0M249.9 49.5h0M92.9 65.3h0M119.0 69.7h0M58.2 78.3h0M161.8 38.9h0M68.0 93.0h0M298.9 89.7h0M153.3 96.0h0M83.7 80.2h0M328.3 48.6h0M31.1 43.5h0M56.3 85.0h0M221.9 65.0h0M66.1 75.1h0M73.2 44.0h0M218.0 75.2h0M283.6 86.4h0M73.3 54.4h0M75.4 65.9h0M38.8 88.9h0M245.8 85.3h0M184.6 91.6h0M294.4 86.5h0M285.2 49.0h0M139.2 39.2h0M272.0 64.8h0M342.4 53.5h0M166.4 88.8h0M336.8 82.1h0M309.5 92.3h0M115.9 73.5h0M49.9 77.2h0M331.6 66.8h0M76.0 70.6h0M50.5 64.0h0M55.2 61.3h0M289.0 81.1h0M300.3 63.8h0M169.6 39.2h0M279.9 70.7h0M159.1 44.7h0M175.1 39.6h0M67.8 40.7h0M164.5 44.2h0M292.0 73.1h0M304.5 69.7h0M80.4 52.7h0M295.9 71.6h0M234.6 74.5h0M45.0 48.0h0M166.5 87.5h0M328.8 72.0h0M112.0 38.6h0M206.9 60.8h0M324.8 48.4h0M94.7 36.8h0M38.9 85.2h0M305.9 45.2h0M34.7 71.1h0M107.9 73.4h0M318.8 81.5h0M118.5 72.9h0M121.6 82.3h0M111.6 89.0h0M244.8 90.4h0M139.4 94.2h0M214.3 51.5h0M234.8 54.8h0M65.7 38.2h0M223.2 50.6h0M61.5 83.3h0M74.8 82.0h0M116.3 58.0h0M325.3 86.5h0M294.3 95.8h0M221.1 93.0h0M227.1 71.4h0M132.4 59.0h0M210.4 50.9h0M233.2 88.7h0M258.1 49.6h0M38.6 58.3h0M167.4 87.6h0M203.2 67.5h0M221.8 69.6h0M244.7 69.9h0M204.9 50.2h0M68.9 62.7h0M310.8 93.7h0M122.7 71.0h0M194.1 63.6h0M86.3 84.1h0M56.8 49.8h0M118.1 48.2h0M91.1 40.7h0M195.7 46.3h0M233.4 72.5h0M227.8 65.2h0M223.9 53.9h0M176.8 77.9h0M98.0 80.7h0M215.3 95.5h0M225.1 69.4h0M273.2 53.5h0M147.9 62.3h0M262.6 79.8h0M88.5 94.2h0M341.0 66.1h0M345.3 73.8h0M151.7 41.1h0M35.3 72.0h0M257.5 73.5h0M277.9 62.5h0M265.0 72.8h0M230.8 69.4h0M241.2 70.1h0M58.5 77.1h0M252.8 62.0h0M337.2 65.2h0M82.5 67.1h0M143.3 45.9h0M311.4 46.6h0M255.5 46.2h0M193.7 96.8h0M57.9 88.4h0M31.7 95.6h0M317.7 63.2h0M231.9 63.9h0M81.7 57.6h0M169.6 89.0h0M66.0 68.8h0M179.2 69.6h0M280.9 72.5h0M132.3 94.2h0M219.6 52.4h0M203.3 88.9h0M44.5 75.5h0M184.3 53.4h0M80.3 50.0h0M168.5 61.6h0M220.4 52.3h0M226.3 64.8h0M281.9 85.0h0M105.0 95.6h0M203.0 56.3h0M110.5 79.4h0M168.2 77.6h0M110.9 88.4h0M113.6 89.1h0M168.8 60.3h0M212.8 67.8h0M203.4 70.1h0M330.8 81.3h0M59.1 96.3h0M34.7 39.0h0M289.2 52.7h0M39.1 46.6h0M186.7 87.4h0M36.1 45.9h0M33.8 39.1h0M129.7 65.8h0M336.8 75.5h0M300.6 72.0h0M318.3 77.0h0M105.8 58.6h0M181.8 42.5h0M322.7 65.4h0M93.3 65.9h0M285.0 52.5h0M216.0 41.4h0M106.3 47.3h0M190.0 77.9h0M101.8 78.0h0M215.5 81.8h0M345.3 56.2h0M345.6 63.7h0M191.3 46.7h0M56.7 75.3h0M62.4 37.9h0M56.5 69.0h0M91.9 51.9h0M272.9 63.1h0M76.5 77.4h0M345.0 73.9h0M170.8 68.7h0M252.5 87.1h0M278.8 51.0h0M277.0 42.1h0M70.5 66.9h0M88.3 70.2h0M119.8 93.5h0M167.1 85.7h0M329.2 63.5h0M273.4 65.9h0M156.4 43.4h0M238.5 92.2h0M247.8 55.2h0M196.2 57.6h0M153.8 83.1h0M31.9 65.3h0M192.0 44.8h0M261.8 51.3h0M157.6 51.0h0M219.1 62.2h0M246.5 61.8h0M278.1 69.5h0M63.1 65.9h0M110.0 54.0h0M330.2 65.2h0M263.9 45.3h0M229.3 43.0h0M100.0 43.6h0M37.7 91.3h0M335.5 58.3h0M33.8 80.7h0M239.9 38.6h0M272.7 39.9h0M103.7 83.5h0M272.9 50.1h0M190.9 84.8h0M221.1 67.9h0M88.4 40.0h0M89.3 67.9h0M218.7 64.0h0M231.4 70.3h0M234.4 61.0h0M296.6 68.3h0M308.8 96.1h0M292.1 83.1h0M248.5 69.6h0M108.3 42.1h0M239.3 51.0h0M223.9 69.4h0M222.2 62.1h0M105.7 54.4h0M250.6 90.0h0M130.8 55.0h0M171.7 62.1h0M230.2 82.1h0M273.1 85.3h0M259.7 95.3h0M172.0 63.1h0M236.2 55.0h0M292.6 61.4h0M206.3 67.6h0M145.2 36.4h0M118.0 64.9h0M331.2 44.2h0M315.9 95.3h0M280.5 52.9h0M35.9 89.7h0M51.5 54.1h0M327.3 77.0h0M290.8 86.8h0M86.3 66.7h0M59.7 59.0h0M186.9 85.8h0M121.5 76.6h0M74.5 51.5h0M48.4 71.3h0M215.6 79.4h0M162.8 93.1h0M258.8 70.6h0M306.6 46.8h0M122.4 69.5h0M219.7 94.3h0M245.0 38.6h0M329.0 64.4h0M94.9 82.5h0M228.9 88.1h0M204.5 51.4h0M178.9 64.3h0M141.3 71.3h0M77.1 51.3h0M67.3 37.5h0M196.3 80.9h0M157.4 91.0h0M222.6 76.1h0M120.5 90.8h0M140.1 87.5h0M107.2 94.1h0M246.3 46.7h0M261.6 45.3h0M151.9 59.0h0M135.9 57.9h0M80.7 60.3h0M59.4 84.5h0M141.9 79.4h0M165.4 95.4h0M308.5 79.0h0M296.3 91.7h0M324.6 61.1h0M217.7 40.0h0M145.3 55.9h0M227.0 36.3h0M268.8 40.4h0M163.8 65.5h0M296.6 74.5h0M76.6 76.6h0M104.3 73.6h0M160.8 94.3h0M172.1 52.4h0M128.1 94.4h0M140.2 50.7h0M199.4 76.8h0M327.9 40.7h0M134.2 80.0h0M186.8 78.1h0M243.5 41.5h0M45.7 46.6h0M126.1 47.0h0M120.7 42.8h0M38.1 67.9h0M270.0 45.6h0M59.7 80.4h0M55.0 44.4h0M185.3 54.0h0M278.6 66.8h0M195.6 58.7h0M38.6 86.0h0M153.2 86.4h0M63.4 62.2h0M200.8 45.3h0M53.3 93.0h0M327.2 97.0h0M202.3 80.6h0M220.4 65.0h0M84.3 75.1h0M170.2 77.3h0M43.1 53.8h0M65.5 82.5h0M181.6 53.3h0M277.4 67.7h0M121.8 59.8h0M30.4 39.5h0M41.5 94.7h0M308.2 69.1h0M328.0 68.8h0M245.8 42.2h0M168.1 73.2h0M159.4 75.7h0M138.6 75.9h0M95.7 65.8h0M165.4 68.0h0M47.2 50.6h0M256.6 46.0h0M180.8 96.7h0M223.0 80.7h0M274.1 95.1h0M152.6 60.0h0M269.0 37.4h0M178.3 52.4h0M206.2 80.6h0M302.7 66.8h0M249.0 40.6h0M238.8 92.7h0M224.8 65.8h0M191.7 61.0h0M86.5 47.9h0M281.6 67.4h0M42.0 73.4h0M293.0 75.6h0M86.9 94.1h0M87.5 66.9h0M175.6 45.9h0M114.4 47.2h0M82.9 38.3h0M234.4 76.6h0M109.5 94.0h0M164.0 63.7h0M323.7 75.5h0M177.4 81.5h0M264.4 54.7h0M51.9 80.6h0M266.8 72.5h0M66.9 81.4h0M85.4 84.6h0M226.9 74.8h0M53.6 58.1h0M262.1 42.6h0M42.0 61.1h0M300.0 74.3h0M102.7 40.8h0M295.0 87.4h0M252.0 48.5h0M267.7 36.4h0M84.4 55.4h0M333.0 38.0h0M80.8 80.7h0M271.4 52.2h0M54.0 88.1h0M337.3 91.4h0M209.2 41.0h0M264.3 75.5h0M293.3 82.3h0M189.1 95.6h0M176.1 63.1h0M231.7 84.0h0M216.0 93.4h0M115.9 90.7h0M308.1 57.0h0M38.9 72.6h0M226.2 94.5h0M206.7 80.1h0M270.5 46.1h0M241.1 62.6h0M98.3 52.6h0M144.7 80.8h0M204.7 55.4h0M47.3 84.0h0M268.7 87.0h0M279.0 39.7h0M118.9 64.1h0M123.9 86.2h0M94.6 36.7h0M172.8 38.9h0M38.9 72.9h0M221.3 69.0h0M52.1 70.1h0M195.5 54.4h0M100.5 45.3h0M182.9 58.3h0M215.3 77.1h0M117.3 73.0h0M111.7 81.4h0M94.5 72.2h0M263.1 84.7h0M198.0 91.6h0M342.3 84.3h0M143.5 52.1h0M228.3 43.7h0M85.9 41.6h0M236.1 59.5h0M321.8 85.2h0M198.3 56.6h0M131.4 39.0h0M64.9 89.2h0M124.3 36.3h0M340.4 59.1h0M275.3 63.5h0M336.7 40.7h0M179.8 75.4h0M37.5 91.9h0M137.0 77.3h0M54.8 40.6h0M57.2 84.1h0M328.4 91.9h0M198.0 41.4h0M276.1 66.8h0M277.8 74.6h0M209.3 46.3h0M75.1 40.8h0M166.8 53.5h0M332.2 38.8h0M270.4 43.1h0M62.5 92.3h0M99.4 72.2h0M215.1 60.2h0M140.7 44.4h0M250.3 58.6h0M220.2 85.9h0M53.9 61.7h0M141.6 92.8h0M226.6 47.9h0M175.1 36.7h0M192.7 40.1h0M73.5 66.9h0M200.3 48.8h0M214.7 54.9h0M252.5 39.0h0M296.4 63.3h0M84.6 53.6h0M228.8 41.6h0M318.9 49.3h0M159.9 40.2h0M174.4 94.6h0M89.0 46.7h0M203.1 75.0h0M75.1 49.2h0M221.3 50.5h0M38.6 78.3h0M305.0 85.1h0M300.8 48.8h0M128.0 72.5h0M225.0 74.1h0M205.1 50.1h0M105.4 41.0h0M48.0 71.4h0M57.2 89.4h0M333.7 44.8h0M335.9 74.0h0M31.6 59.3h0M144.2 54.7h0M51.1 50.7h0M35.3 63.2h0M182.4 50.0h0M322.7 90.0h0M188.1 84.9h0M141.8 81.9h0M276.3 57.3h0M264.4 57.3h0M84.7 61.4h0M65.8 79.7h0M109.6 66.3h0M286.1 72.4h0M317.8 80.2h0M249.3 81.1h0M248.7 92.0h0M218.2 76.2h0M204.1 68.5h0M328.1 54.2h0M90.0 66.5h0M128.6 79.5h0M231.4 35.9h0M96.0 73.7h0M155.4 77.4h0M178.6 42.6h0M248.3 95.4h0M58.9 73.5h0M224.2 73.3h0M190.0 66.8h0M343.3 89.2h0M167.5 85.6h0M241.3 85.1h0M346.0 40.2h0M97.0 50.0h0M289.2 92.4h0M101.5 65.5h0M311.7 80.0h0M215.8 90.5h0M322.5 41.4h0M335.9 53.6h0M224.5 81.9h0M122.9 54.5h0M316.7 84.2h0M339.3 41.5h0M228.3 81.1h0M332.9 80.2h0M118.6 42.0h0M84.7 51.7h0M210.6 55.5h0M76.9 41.1h0M247.0 85.7h0M68.9 67.2h0M340.4 57.9h0M199.2 85.4h0M37.3 89.2h0M275.2 80.9h0M138.5 65.9h0M327.9 39.6h0M55.8 75.0h0M331.6 44.9h0M89.5 64.0h0M279.8 70.3h0M238.9 39.0h0M93.0 71.6h0M259.4 41.4h0M58.5 55.0h0M161.2 56.2h0M83.7 40.3h0M234.3 94.2h0M230.7 92.1h0M70.0 73.5h0M145.4 87.6h0M219.5 73.4h0M319.6 94.3h0M73.3 62.6h0M56.9 70.1h0M100.8 78.6h0M142.5 36.3h0M311.3 43.5h0M114.9 67.6h0M47.9 83.1h0M256.8 43.0h0M226.5 43.7h0M197.9 41.5h0M119.1 63.4h0M202.3 75.8h0M323.6 56.3h0M140.7 48.6h0M263.6 58.3h0M96.9 47.6h0M163.1 87.0h0M168.6 85.6h0M179.2 71.4h0M110.8 60.9h0M259.4 41.0h0M173.7 51.3h0M122.0 56.5h0M92.6 71.1h0M42.6 50.4h0M113.4 46.9h0M294.2 77.8h0M311.1 43.9h0M89.3 55.0h0M190.9 86.8h0M294.3 88.4h0M35.3 37.5h0M136.5 62.0h0M31.8 57.2h0M70.3 89.3h0M96.5 55.3h0M85.2 87.7h0M65.5 62.7h0M99.7 50.9h0M345.0 79.5h0M263.2 57.5h0M339.6 94.9h0M231.2 49.7h0M45.2 69.1h0M184.0 88.6h0M346.2 85.8h0M106.5 96.1h0M223.9 38.1h0M95.7 94.5h0M282.0 81.1h0M239.6 37.2h0M326.7 54.0h0M274.3 68.8h0M184.5 68.0h0M320.9 86.9h0M154.8 88.0h0M85.3 57.2h0M131.5 38.7h0M156.9 35.9h0M336.8 85.8h0M181.7 39.6h0M113.2 83.1h0M122.9 41.6h0M165.2 71.2h0M69.9 58.9h0M206.2 81.4h0M158.8 96.5h0M110.8 81.7h0M54.9 91.8h0M202.5 46.4h0M288.0 89.9h0M71.0 89.8h0M333.7 57.6h0M280.3 79.9h0M209.4 59.5h0M129.0 85.7h0M277.8 93.7h0M51.4 70.7h0M253.4 49.1h0M36.4 90.5h0M277.2 79.4h0M135.2 62.6h0M287.3 41.5h0M258.8 79.1h0M176.5 94.1h0M229.9 89.9h0M91.4 60.8h0M122.4 66.3h0M268.8 96.5h0M318.3 88.0h0M339.0 80.7h0M263.4 41.4h0M158.9 65.7h0M63.2 91.0h0M147.9 50.7h0M55.7 68.7h0M136.5 93.8h0M230.8 62.1h0M79.7 38.8h0M247.9 73.3h0M186.7 66.8h0M159.9 91.3h0M47.4 50.0h0M281.4 55.1h0M134.9 62.2h0M123.6 82.3h0M60.1 69.8h0M256.2 56.8h0M261.0 57.5h0M227.1 42.1h0M130.4 70.1h0M223.6 64.2h0M41.6 68.8h0M304.0 52.4h0M95.8 73.8h0M103.3 42.0h0M53.3 74.0h0M309.3 83.0h0M216.7 89.3h0M298.6 52.2h0M150.5 95.4h0M328.5 75.0h0M229.4 56.8h0M58.5 56.0h0M103.0 74.5h0M237.5 74.3h0M318.5 35.8h0M95.0 41.9h0M147.0 91.7h0M178.0 84.7h0M87.8 57.5h0M282.9 53.7h0M261.2 72.5h0M237.5 37.6h0M143.9 96.1h0M148.7 52.8h0M346.5 71.9h0M250.4 65.4h0M227.3 59.7h0M116.9 53.6h0M101.8 78.3h0M57.6 43.0h0M190.5 96.4h0M277.4 76.7h0M264.8 48.4h0M191.6 36.9h0M194.6 37.8h0M66.4 43.2h0M139.3 64.9h0M99.0 40.5h0M68.3 93.9h0M341.9 91.7h0M73.1 48.1h0M308.3 36.7h0M76.9 75.5h0M335.4 92.4h0M297.4 55.2h0M262.3 93.1h0M314.9 95.2h0M271.3 83.9h0M252.3 61.7h0M211.4 92.7h0M211.0 37.4h0M171.6 89.1h0M254.5 65.3h0M325.8 82.1h0M100.9 78.7h0M305.5 36.2h0M326.7 62.2h0M298.5 36.6h0M131.2 54.4h0M98.8 76.1h0M282.0 75.6h0M318.2 42.8h0M120.7 60.4h0M281.0 81.0h0M343.8 89.2h0M197.9 81.1h0M289.1 67.6h0M245.1 88.0h0M293.4 45.4h0M39.3 79.1h0M288.3 47.4h0M299.4 82.1h0M81.9 45.3h0M238.3 73.9h0M80.5 91.4h0M98.1 86.8h0M329.5 43.2h0M251.9 69.4h0M319.9 63.0h0M160.4 50.1h0M298.1 55.4h0M318.5 37.9h0M311.4 37.0h0M259.1 93.9h0M131.7 72.0h0M160.9 39.8h0M295.7 66.0h0M283.9 38.0h0M81.5 49.9h0M288.5 37.2h0M36.9 58.9h0M152.3 87.6h0M302.0 50.5h0M265.0 57.7h0M272.6 76.2h0M52.1 64.5h0M164.0 63.9h0M205.8 78.1h0M157.3 67.6h0M292.0 77.5h0M91.0 44.2h0M115.9 94.0h0M152.5 89.6h0M335.5 78.6h0M146.7 81.4h0M188.9 94.1h0M188.7 74.7h0M246.8 74.3h0M86.2 70.6h0M165.5 77.4h0M275.2 48.4h0M147.0 51.5h0M334.5 65.8h0M172.4 94.8h0M277.8 88.4h0M189.2 43.6h0M147.7 40.9h0M156.6 63.4h0M181.8 95.7h0M198.6 45.9h0M86.5 77.4h0M193.3 60.9h0M186.2 60.9h0M244.6 72.1h0M45.2 66.1h0M109.1 71.5h0M176.5 82.4h0M335.5 81.2h0M225.6 66.9h0M65.7 80.5h0M92.2 59.0h0M214.9 52.0h0M303.4 69.2h0M338.0 37.2h0M176.9 55.6h0M212.0 75.5h0M217.1 93.3h0M169.5 58.5h0M267.4 69.7h0M115.0 92.2h0M101.3 40.4h0M200.3 91.5h0M300.7 85.8h0M223.3 67.1h0M121.9 45.9h0M170.2 86.8h0M205.4 95.9h0M283.3 69.1h0M217.1 61.4h0M317.2 86.8h0M86.3 91.0h0M244.4 57.8h0M265.8 61.6h0M249.7 66.7h0M229.7 92.2h0M312.0 65.2h0M152.5 79.6h0M241.2 41.6h0M191.3 52.9h0M235.1 46.0h0M124.2 51.2h0M118.7 70.4h0M303.4 75.0h0M234.7 82.4h0M153.7 62.0h0M236.2 48.4h0M268.5 92.2h0M308.9 39.8h0M320.0 49.5h0M71.0 73.6h0M139.6 46.8h0M222.5 68.6h0M199.9 67.1h0M225.2 83.4h0M258.2 79.0h0M292.0 64.6h0M232.5 42.7h0M55.7 63.5h0M245.6 50.2h0M333.9 53.5h0M185.5 64.5h0M337.5 45.2h0M109.5 74.6h0M144.6 56.8h0M71.5 91.9h0M169.9 71.2h0M107.5 93.1h0M63.3 78.5h0M50.6 68.3h0M132.8 94.0h0M168.9 87.1h0M39.1 50.2h0M342.4 58.4h0M41.9 51.7h0M144.8 68.1h0M150.8 54.5h0M180.1 64.5h0M87.8 67.5h0M212.6 70.9h0M264.3 63.5h0M97.3 93.5h0M67.1 54.4h0M161.9 61.1h0M96.6 88.5h0M125.7 69.3h0M222.9 43.8h0M166.4 43.9h0M201.7 80.5h0M300.5 93.3h0M65.7 63.9h0M241.0 58.7h0M329.0 66.1h0M305.3 39.9h0M153.0 78.4h0M295.2 66.1h0M301.8 82.3h0M160.8 79.2h0M193.4 42.7h0M314.8 87.5h0M312.5 50.2h0M276.0 38.2h0M188.2 54.3h0M189.9 59.2h0M204.1 62.3h0M270.3 76.1h0M117.9 47.9h0M105.1 55.8h0M164.4 66.7h0M272.2 95.9h0M112.6 53.9h0M194.1 36.2h0M231.0 38.1h0M218.0 71.7h0M151.1 96.4h0M128.7 36.9h0M63.7 50.5h0M263.6 81.1h0M141.9 89.8h0M81.5 49.8h0M210.8 68.4h0M280.3 54.7h0M315.5 74.5h0M248.3 71.0h0M96.9 70.3h0M328.6 36.7h0M134.5 54.7h0M110.6 83.0h0M235.3 44.0h0M253.1 89.6h0M50.5 37.0h0M220.4 89.7h0M204.2 66.8h0M158.7 70.5h0M318.9 72.4h0M266.2 64.3h0M309.8 82.9h0M191.0 54.3h0M125.0 95.7h0M232.5 40.2h0M194.8 62.0h0M219.5 53.1h0M316.5 65.3h0M292.3 51.7h0M311.1 69.2h0M202.6 62.4h0M328.4 70.2h0M199.2 58.0h0M174.8 52.3h0M170.8 51.9h0M54.2 58.2h0M38.4 76.4h0M59.9 91.2h0M130.3 52.4h0M204.0 53.7h0M259.1 54.4h0M321.7 38.4h0M47.7 89.8h0M247.9 51.9h0M233.5 57.9h0M190.9 52.6h0M200.9 75.5h0M298.0 51.5h0M210.4 70.5h0M306.8 65.2h0M303.8 92.4h0M159.2 60.6h0M336.9 71.3h0M198.0 83.4h0M221.4 67.5h0M238.3 51.8h0M149.6 36.3h0M258.2 86.2h0M263.1 95.3h0M269.2 42.4h0M131.6 92.2h0M63.9 89.5h0M282.3 44.8h0M96.2 80.6h0M236.8 37.6h0M197.7 47.3h0M301.9 68.6h0M34.0 60.0h0M33.1 91.2h0M311.0 79.7h0M30.5 93.2h0M113.5 75.6h0M271.8 70.0h0M66.5 50.8h0M261.4 43.4h0M149.1 92.8h0M159.4 45.1h0M235.9 57.2h0M280.1 58.2h0M292.5 86.3h0M86.3 69.3h0M171.0 43.3h0M319.0 56.7h0M223.6 39.5h0M331.1 95.8h0M246.6 43.8h0M239.9 64.5h0M179.8 49.2h0M77.9 87.5h0M221.2 81.5h0M264.0 60.4h0M204.0 54.3h0M237.4 62.2h0M278.3 53.7h0M150.7 40.8h0M42.2 48.9h0M35.1 61.8h0M150.0 89.8h0M43.3 96.1h0M59.9 86.6h0M143.3 50.8h0M223.3 57.6h0M34.9 43.8h0M245.0 79.8h0M344.6 51.3h0M273.6 56.8h0M193.3 52.8h0M160.3 91.7h0M109.6 61.8h0M317.7 63.4h0M287.4 68.5h0M140.6 79.9h0M236.7 59.1h0M346.0 41.4h0M299.1 79.9h0M254.8 64.8h0M267.1 38.5h0M242.2 88.8h0M159.1 81.1h0M250.3 66.5h0M273.9 65.4h0M67.9 67.8h0M268.5 45.9h0M176.1 86.9h0M34.0 88.6h0M141.1 58.0h0M251.2 70.9h0M121.0 45.3h0M163.1 90.2h0M345.1 79.7h0M250.4 77.9h0M319.4 45.6h0M75.7 87.4h0M36.1 67.8h0M157.5 92.0h0M227.8 49.6h0M50.2 64.7h0M204.7 64.4h0M214.0 39.6h0M143.7 86.6h0M121.4 47.3h0M86.4 93.2h0M305.3 60.6h0M134.2 58.3h0M309.4 91.4h0M331.6 88.2h0M245.3 43.0h0M328.4 46.0h0M264.1 57.7h0M41.4 76.1h0M110.6 90.1h0M87.1 76.7h0M168.1 38.7h0M119.1 54.7h0M275.4 83.0h0M326.3 45.9h0M96.7 58.7h0M131.3 48.4h0M268.3 36.1h0M200.0 43.9h0M129.1 53.7h0M176.4 93.3h0M263.1 62.1h0M343.5 51.3h0M89.5 74.7h0M273.8 80.1h0M190.5 80.0h0M135.3 93.8h0M264.5 84.8h0M200.9 92.0h0M178.6 94.0h0M170.3 94.0h0M130.5 67.4h0M207.4 69.4h0M297.0 87.7h0M87.4 79.0h0M196.4 60.6h0M66.5 91.5h0M343.2 80.1h0M210.8 40.9h0M131.5 55.9h0M57.2 58.8h0M145.9 61.1h0M51.6 43.9h0M331.3 69.7h0M103.6 63.3h0M144.9 65.5h0M85.9 81.4h0M325.4 74.3h0M333.9 85.7h0M200.0 67.8h0M248.7 58.3h0M54.0 63.5h0M288.7 77.1h0M42.5 86.4h0M44.7 67.5h0M86.0 54.2h0M103.0 73.4h0M255.0 89.9h0M190.1 39.5h0M41.9 41.0h0M70.4 46.6h0M123.6 45.0h0M299.4 57.8h0M181.7 83.8h0M87.0 66.5h0M42.8 65.5h0M324.0 70.5h0M125.6 74.6h0M188.9 66.3h0M231.5 79.3h0M312.0 95.6h0M334.5 85.4h0M246.1 84.7h0M91.3 47.9h0M296.9 62.5h0M36.3 81.4h0M72.3 52.5h0M321.7 47.4h0M291.8 52.1h0M281.4 59.1h0M207.9 77.6h0M257.3 48.5h0M242.5 46.0h0M107.4 83.4h0M78.2 61.1h0M65.9 71.4h0M85.4 57.9h0M340.0 63.1h0M188.5 37.8h0M113.1 42.3h0M226.2 45.2h0M85.9 44.6h0M264.5 75.7h0M122.4 55.1h0M117.3 69.3h0M210.3 43.9h0M78.4 74.1h0M118.5 76.5h0M85.5 41.8h0M51.9 88.3h0M199.9 37.0h0M142.7 74.4h0M99.1 86.7h0M31.4 68.0h0M211.9 47.3h0M342.6 69.2h0M71.3 82.0h0M38.7 77.5h0M294.4 74.9h0M37.1 39.7h0M292.9 87.6h0M115.2 92.6h0M287.6 42.4h0M310.3 36.6h0M132.6 48.6h0M96.4 66.4h0M44.3 94.9h0M96.4 77.5h0M141.3 91.9h0M207.4 66.2h0M270.8 70.2h0M172.6 46.4h0M283.2 74.3h0M176.7 96.3h0M177.0 81.2h0M81.7 57.8h0M229.7 51.6h0M345.5 96.4h0M234.2 79.8h0M115.7 83.1h0M302.5 63.9h0M209.0 75.9h0M108.7 38.6h0M87.5 67.9h0M231.6 88.2h0M114.7 46.1h0M162.8 45.8h0M111.8 65.7h0M246.8 42.3h0M84.9 64.6h0M194.9 46.6h0M239.0 70.4h0M335.0 94.2h0M228.7 41.2h0M195.2 52.4h0M118.1 40.4h0M248.8 76.0h0M116.9 49.9h0M344.3 69.6h0M250.8 50.8h0M328.4 79.8h0M191.1 42.7h0M168.1 37.3h0M96.4 83.6h0M65.0 48.4h0M138.0 95.0h0M81.9 61.3h0M198.6 38.6h0M208.2 40.1h0M131.1 55.5h0M345.8 62.6h0M124.6 56.0h0M124.9 45.7h0M129.9 78.1h0M141.5 49.8h0M42.0 84.0h0M124.3 52.4h0M298.5 95.1h0M204.3 40.0h0M294.7 82.5h0M35.3 53.4h0M294.4 64.9h0M85.8 96.1h0M97.1 46.8h0M249.9 96.2h0M253.9 37.0h0M36.3 48.9h0M240.5 94.5h0M66.4 76.7h0M243.8 37.6h0M315.9 55.0h0M148.4 84.3h0M202.0 74.1h0M48.1 73.9h0M77.1 86.2h0M275.1 75.5h0M234.2 95.6h0M292.6 79.6h0M143.9 36.6h0M346.7 39.7h0M43.5 72.2h0M344.3 63.0h0M96.1 37.0h0M80.9 58.0h0M140.4 52.3h0M308.3 97.0h0M339.9 47.8h0M250.7 45.8h0M176.3 66.4h0M129.7 83.8h0M99.4 84.9h0M272.5 74.3h0M53.9 43.2h0M285.3 94.5h0M105.7 76.6h0M270.0 89.0h0M72.9 48.3h0M49.7 78.2h0M143.3 78.5h0M82.0 74.9h0M116.2 62.6h0M216.8 94.0h0M90.5 83.7h0M45.7 46.6h0M250.6 40.9h0M296.3 90.2h0M99.3 79.1h0M235.5 95.6h0M186.8 58.3h0M308.1 52.1h0M319.2 58.0h0M158.9 86.9h0M269.6 47.1h0M238.6 96.3h0M156.6 69.9h0M237.7 79.9h0M153.6 59.1h0M85.9 74.1h0M134.4 83.9h0M43.8 82.3h0M80.6 89.0h0M290.6 57.6h0M61.3 48.7h0M95.6 95.7h0M285.4 37.3h0M32.5 70.0h0M173.8 69.6h0M296.4 87.1h0M72.5 95.1h0M175.3 64.6h0M77.7 50.4h0M88.8 53.0h0M202.2 51.6h0M115.1 42.6h0M51.7 91.5h0M168.8 63.5h0M71.3 96.0h0M33.8 83.8h0M43.6 53.4h0M183.8 63.7h0M253.0 70.7h0M252.2 39.9h0M122.7 52.6h0M182.4 61.4h0M64.0 43.7h0M49.1 39.2h0M234.9 94.8h0M217.9 47.9h0M223.4 66.1h0M119.5 85.0h0M113.1 54.5h0M44.2 50.6h0M322.2 65.1h0M260.8 65.8h0M113.9 57.5h0M191.1 54.7h0M193.1 37.3h0M152.6 42.9h0M181.4 68.3h0M318.5 89.2h0M312.9 63.0h0M123.3 87.7h0M67.5 59.0h0M49.4 85.5h0M265.9 92.5h0M88.7 87.0h0M250.8 69.1h0M170.4 85.1h0M179.6 93.7h0M323.0 58.3h0M200.5 62.1h0M315.4 88.1h0M156.8 58.3h0M130.3 76.5h0M240.6 73.8h0M195.0 76.9h0M31.7 65.1h0M249.6 80.4h0M288.0 49.6h0M323.4 95.1h0M226.4 86.0h0M92.2 47.3h0M98.7 68.5h0M312.9 57.2h0M325.6 86.6h0M43.9 37.6h0M346.0 66.4h0M276.6 88.5h0M126.1 36.7h0M304.4 92.8h0M156.3 76.2h0M33.5 93.3h0M223.5 95.6h0M248.0 57.8h0M86.7 67.3h0M303.8 68.5h0M200.7 49.3h0M76.4 50.4h0M126.2 64.7h0M328.3 52.4h0M102.1 81.1h0M327.0 50.2h0M124.5 61.2h0M49.1 41.5h0M204.6 50.8h0M103.8 85.1h0M182.5 70.3h0M237.7 81.2h0M321.7 95.2h0M65.3 81.1h0M37.7 43.1h0M110.9 43.7h0M78.1 50.1h0M287.2 83.9h0M188.7 69.4h0M266.8 72.0h0M54.2 63.9h0M94.0 64.6h0M339.6 47.9h0M132.0 71.4h0M238.7 54.5h0M154.9 66.3h0M324.4 38.8h0M311.9 69.9h0M320.2 59.7h0M235.9 37.2h0M100.3 75.5h0M134.2 67.5h0M341.3 70.1h0M241.8 70.3h0M109.8 96.1h0M150.3 37.3h0M164.6 61.2h0M95.1 62.0h0M52.8 93.4h0M194.8 53.3h0M203.4 72.0h0M153.1 85.3h0M174.1 92.3h0M272.7 78.2h0M81.3 78.9h0M340.2 85.6h0M43.7 53.2h0M30.4 76.5h0M310.7 77.8h0M240.2 69.0h0M261.2 69.3h0M283.0 45.3h0M178.9 74.3h0M51.5 70.2h0M319.9 41.2h0M262.4 79.8h0M311.8 94.9h0M231.8 72.4h0M180.2 62.7h0M220.5 56.5h0M282.9 69.2h0M167.6 67.3h0M254.5 87.0h0M288.1 79.2h0M107.2 35.8h0M68.0 41.0h0M190.5 40.5h0M179.8 82.1h0M169.4 89.2h0M143.8 65.5h0M113.8 43.8h0M212.9 43.4h0M76.6 53.6h0M260.5 95.7h0M98.6 50.5h0M337.1 71.3h0M282.2 96.9h0M238.8 50.9h0M340.9 90.4h0M30.7 95.0h0M235.3 50.0h0M180.1 54.3h0M275.3 60.3h0M57.0 90.2h0M134.7 46.5h0M251.5 43.8h0M221.6 63.0h0M68.3 94.2h0M249.5 39.2h0M314.9 75.3h0M290.5 83.0h0M83.7 55.0h0M84.4 85.4h0M330.0 70.9h0M240.8 95.6h0M194.9 62.8h0M118.8 96.1h0M68.5 47.4h0M299.5 37.4h0M92.6 68.2h0M104.8 59.3h0M37.8 76.7h0M53.4 53.5h0M62.0 78.4h0M98.7 69.7h0M40.3 70.5h0M138.3 91.4h0M91.2 53.9h0M305.1 39.5h0M185.3 65.5h0M122.0 46.1h0M187.9 37.6h0M32.8 53.3h0M149.5 51.6h0M255.0 61.2h0M222.7 71.9h0M255.1 92.8h0M207.7 78.3h0M206.2 40.5h0M294.2 68.2h0M42.3 81.3h0M188.7 93.8h0M162.0 64.6h0M313.7 92.6h0M273.9 63.0h0M166.5 80.8h0M314.1 63.8h0M252.4 70.2h0M204.6 48.9h0M119.1 51.4h0M341.7 37.4h0M99.2 48.2h0M288.3 76.9h0M127.5 42.3h0M243.1 81.5h0M233.1 79.5h0M219.4 37.6h0M281.8 89.1h0M82.8 59.2h0M341.5 95.6h0M288.7 87.4h0M79.6 89.4h0M290.5 48.0h0M318.8 85.6h0M320.1 90.8h0M59.2 46.2h0M285.2 46.4h0M140.1 84.1h0M292.9 60.2h0M160.6 78.4h0M345.3 74.2h0M139.7 50.5h0M89.1 73.2h0M258.0 49.4h0M265.6 72.8h0M211.3 68.0h0M160.1 36.7h0M200.2 76.3h0M311.1 95.3h0M235.1 45.6h0M302.0 61.1h0M335.1 93.6h0M58.4 39.0h0M45.4 77.1h0M185.7 74.0h0M132.7 72.1h0M59.9 48.4h0M262.3 49.8h0M65.9 75.5h0M341.4 93.1h0M309.2 79.5h0M32.3 45.3h0M214.3 68.4h0M295.1 37.7h0M228.0 40.2h0M269.1 41.3h0M184.1 83.1h0M342.0 84.6h0M277.7 54.1h0M232.2 68.9h0M186.6 72.2h0M170.8 59.0h0M271.6 75.4h0M338.8 92.5h0M283.5 42.5h0M189.4 66.2h0M280.2 91.5h0M92.2 36.4h0M305.4 95.5h0M137.0 72.6h0M151.9 59.3h0M231.7 78.1h0M315.3 58.1h0M186.5 63.4h0M342.3 67.5h0M320.7 95.1h0" stroke="#cdcdcd" stroke-width="1.6" stroke-linecap="round" opacity="0.88" filter="url(#soft)"/>
<rect x="29" y="100" width="318.5" height="63.2" fill="#464646"/>
<rect x="149.5" y="100" width="9" height="63.2" fill="url(#band)"/>
<rect x="219.3" y="100" width="1.6" height="63.2" fill="#2e2e2e" opacity="0.8"/>
<rect x="340" y="100" width="7.5" height="63.2" fill="url(#redge)"/>
<rect x="29" y="100" width="4" height="63.2" fill="#333" opacity="0.5"/>
<path d="M322.9 159.2h0M312.6 105.9h0M217.4 126.9h0M197.8 108.8h0M90.6 128.2h0M99.8 128.8h0M37.6 106.1h0M254.8 126.7h0M192.3 146.0h0M143.6 104.3h0M278.0 137.1h0M238.3 139.1h0M337.4 123.1h0M270.6 123.5h0M211.1 141.5h0M129.4 106.1h0M180.0 145.0h0M217.0 128.4h0M233.4 112.0h0M86.4 120.7h0M288.4 112.8h0M66.0 106.9h0M42.1 117.8h0M211.3 151.4h0M134.6 123.6h0M121.2 119.6h0M276.2 134.6h0M111.7 107.4h0M278.2 144.4h0M292.4 115.5h0M202.7 157.4h0M217.6 159.0h0M82.8 160.9h0M47.5 126.4h0M37.2 150.7h0M247.6 160.8h0M284.9 159.2h0M200.5 161.7h0M267.2 122.1h0M338.6 124.0h0M91.1 105.5h0M177.5 112.9h0M325.7 159.3h0M98.2 107.2h0M197.4 111.3h0M202.1 150.9h0M110.0 126.8h0M315.3 128.2h0M138.4 155.8h0M287.7 155.9h0M247.7 126.2h0M249.4 151.9h0M232.5 115.5h0M123.4 126.0h0M274.3 135.1h0M204.1 151.7h0M64.2 139.7h0M135.2 135.3h0M294.5 116.1h0M331.3 105.6h0M207.9 134.2h0M104.3 135.3h0M179.0 128.5h0M257.5 101.0h0M149.3 149.2h0M74.8 154.2h0M94.3 142.8h0M84.7 128.5h0M163.7 105.8h0M251.5 130.4h0M248.1 134.0h0M206.0 133.2h0M124.2 156.2h0M57.2 154.8h0M303.4 131.5h0M276.0 142.3h0M221.5 118.8h0M131.1 122.3h0M125.6 159.9h0M138.0 124.7h0M162.8 151.1h0M181.2 134.9h0M110.8 117.9h0M58.0 114.2h0M113.4 153.3h0M189.0 107.6h0M176.4 108.2h0M209.2 128.0h0M301.8 116.8h0M299.4 116.1h0M341.2 139.9h0M43.3 150.5h0M117.2 123.1h0M76.3 152.4h0M58.4 146.3h0M155.2 142.7h0M122.7 105.6h0M319.8 141.1h0M83.6 160.9h0M318.8 112.0h0M35.9 138.4h0M73.9 145.9h0M178.4 144.5h0M210.4 148.3h0M290.2 137.9h0M217.2 120.9h0M72.3 106.5h0M301.4 113.5h0M165.0 120.3h0M226.2 133.7h0M302.0 127.7h0M144.5 140.9h0M265.8 157.8h0M128.6 155.4h0M340.8 161.3h0M70.7 124.2h0M275.1 152.0h0M42.3 125.1h0M259.3 147.5h0M199.4 113.8h0M158.7 104.4h0M129.8 127.1h0M290.6 137.1h0M161.1 115.9h0M129.7 142.1h0M171.0 111.5h0M290.2 136.3h0M336.4 133.8h0M227.3 127.1h0M222.6 157.4h0M340.8 141.5h0M166.1 104.7h0M296.1 124.9h0M151.0 104.3h0M40.6 124.9h0M338.7 146.4h0M254.4 142.0h0M116.3 111.2h0M220.7 104.7h0M216.2 132.5h0M201.7 108.3h0M51.2 130.0h0M75.9 140.3h0M127.9 139.0h0M267.5 138.2h0M198.3 113.0h0M139.8 161.0h0M114.9 118.3h0M186.1 134.4h0M280.4 119.0h0M334.9 102.2h0M280.3 135.9h0M315.4 110.2h0M248.2 159.1h0M241.2 107.7h0M321.6 160.5h0M64.9 151.8h0M54.9 105.8h0M281.9 145.1h0M333.1 139.7h0M192.0 117.6h0M211.3 161.9h0M234.7 154.7h0M92.4 146.1h0M261.7 105.2h0M289.7 111.6h0M98.7 104.6h0M239.8 109.6h0M339.0 100.8h0M286.3 147.6h0M210.2 136.0h0M282.7 140.0h0M74.0 149.9h0M141.9 136.8h0M192.2 156.5h0M161.1 153.4h0M55.7 120.9h0M242.3 138.5h0M293.6 113.6h0M284.6 149.8h0M75.1 109.4h0M214.6 160.9h0M224.3 127.2h0M190.4 150.7h0M195.3 133.9h0M217.8 158.2h0M283.4 152.5h0M114.2 137.8h0M290.6 145.0h0M331.4 157.2h0M70.2 132.1h0M143.2 113.4h0M188.5 161.4h0M273.3 106.9h0M108.3 123.6h0M310.3 129.1h0M80.4 134.7h0M108.1 103.2h0M217.6 161.8h0M275.7 146.2h0M78.2 135.4h0M231.6 147.6h0M171.4 104.1h0M323.8 117.2h0M263.8 129.4h0M276.7 121.6h0M59.1 127.2h0M181.9 149.6h0M157.7 141.9h0M149.1 145.9h0M85.0 155.0h0M329.1 102.3h0M301.8 148.7h0M249.4 107.3h0M262.0 148.3h0M228.3 160.2h0M329.9 139.8h0M322.9 109.7h0M124.3 133.4h0M195.4 159.5h0M231.3 139.1h0M226.7 159.0h0M156.7 146.3h0M220.0 125.6h0M137.2 110.3h0M33.3 121.5h0M124.9 105.8h0M183.6 122.4h0M323.3 148.9h0M240.6 153.0h0M116.8 108.0h0M223.0 114.8h0M342.0 127.0h0M310.6 115.9h0M59.5 139.4h0M249.4 116.6h0M323.5 160.7h0M247.6 161.3h0M341.4 109.9h0M261.3 146.8h0M261.7 121.7h0M202.0 137.0h0M299.2 104.0h0M148.7 120.2h0M280.6 108.0h0M49.3 107.9h0M66.6 127.6h0M304.1 122.7h0M61.9 142.1h0M135.2 136.0h0M266.7 128.9h0M262.2 139.0h0M299.7 147.8h0M315.4 146.8h0M119.2 131.9h0M274.5 149.1h0M261.2 152.7h0M291.1 134.1h0M232.8 103.5h0M181.1 145.6h0M319.3 153.1h0M169.0 114.9h0M310.4 141.3h0M90.5 103.1h0M308.1 136.3h0M64.5 161.8h0M215.9 147.5h0M285.4 116.6h0M195.3 111.4h0M223.9 127.6h0M280.2 107.9h0M94.9 124.6h0M30.3 125.8h0M334.8 154.1h0M86.9 152.0h0M101.1 115.6h0M231.9 118.9h0M93.6 106.1h0M85.8 112.7h0M318.8 103.4h0M201.0 113.9h0M258.1 101.0h0M147.5 146.2h0M38.0 126.1h0M133.1 130.6h0M229.0 105.7h0M304.2 117.4h0M274.5 109.0h0M59.5 112.7h0M56.4 116.1h0M74.0 106.1h0M299.8 133.4h0M187.2 132.1h0M286.7 103.6h0M44.2 141.8h0M32.0 132.0h0M227.8 153.1h0M30.0 125.6h0M129.0 136.5h0M40.3 147.2h0M333.1 134.6h0M240.9 152.2h0M297.2 151.3h0M184.2 106.2h0M281.6 152.8h0M251.9 120.2h0M338.8 139.2h0M128.8 149.2h0M100.8 115.6h0M316.7 104.2h0M305.4 125.2h0M211.1 143.4h0M315.8 114.3h0M59.3 132.3h0M100.8 126.9h0M64.7 106.3h0M209.6 104.0h0M114.3 124.7h0M59.9 150.4h0M315.5 102.8h0M285.5 111.6h0M261.0 104.5h0M266.0 158.2h0M111.9 111.0h0M137.7 153.8h0M277.0 110.5h0M315.6 146.3h0M333.1 160.7h0M80.0 145.6h0M37.6 112.6h0M199.8 115.2h0M99.0 122.8h0M175.4 157.3h0M214.0 135.1h0M257.7 112.4h0M284.4 147.8h0M287.8 128.5h0M201.5 105.4h0M175.1 140.5h0M330.8 156.0h0M137.3 147.4h0M301.1 160.0h0M245.5 121.1h0M306.6 101.8h0M209.6 129.0h0M309.5 139.1h0M93.4 111.0h0M41.2 147.1h0M278.0 123.8h0M100.7 135.1h0M91.7 133.2h0M138.7 120.5h0M248.8 116.1h0M134.8 135.5h0M328.3 110.0h0M126.9 117.6h0M129.6 130.8h0M289.7 112.0h0M257.6 127.4h0M211.1 131.8h0M220.9 111.9h0M225.0 125.6h0M278.3 137.5h0M159.1 161.6h0M86.5 101.6h0M68.8 143.3h0M58.9 146.1h0M57.8 119.1h0M227.0 102.1h0M167.0 162.4h0M260.5 124.8h0M317.7 135.9h0M286.8 122.0h0M150.7 144.0h0M270.9 143.5h0M77.4 126.8h0M130.6 115.1h0M66.6 146.9h0M74.6 122.6h0M35.7 144.2h0M228.0 105.6h0M330.9 162.1h0M267.5 150.4h0M252.8 102.2h0M116.3 115.4h0M36.7 140.1h0M217.2 123.1h0M266.9 115.2h0M118.8 107.9h0M104.3 153.2h0M185.1 146.2h0M304.8 141.8h0M144.3 160.4h0M55.2 126.2h0M310.3 142.8h0M141.9 151.8h0M270.0 145.4h0M114.3 142.7h0M237.6 152.5h0M192.3 158.0h0M258.0 113.7h0M213.1 112.9h0M225.5 120.9h0M346.0 121.9h0M280.1 152.3h0M148.1 137.1h0M103.6 123.9h0M169.0 144.6h0M190.8 110.7h0M235.5 132.6h0M196.2 128.2h0M304.5 141.1h0M239.5 131.7h0M157.1 127.1h0M244.9 127.8h0M51.8 114.4h0M46.7 103.8h0M143.6 124.1h0M174.4 113.2h0M103.7 128.3h0M121.8 116.9h0M185.6 147.8h0M49.0 101.6h0M171.8 155.9h0M230.1 123.3h0M338.1 142.6h0M291.4 152.7h0M42.1 112.8h0M280.4 124.9h0M315.1 105.2h0M327.0 139.0h0M160.2 151.9h0M199.5 129.1h0M88.2 149.1h0M76.1 119.3h0M57.7 101.8h0M123.9 103.5h0M178.5 122.2h0M35.5 129.4h0M120.6 115.1h0M201.3 121.3h0M47.1 158.1h0M337.7 115.4h0M238.7 136.8h0M108.6 134.0h0M113.9 117.8h0M173.5 103.6h0M102.7 161.4h0M273.9 121.2h0M345.6 121.1h0M299.6 120.7h0M313.1 128.6h0M306.1 109.2h0M154.8 122.0h0M277.5 154.1h0M72.8 126.1h0M84.5 104.9h0M71.0 105.3h0M125.4 127.3h0M316.5 141.0h0M270.9 121.2h0M131.8 126.2h0M103.6 102.0h0M117.1 158.0h0M46.0 131.8h0M103.3 147.8h0M41.9 132.2h0M259.5 129.3h0M75.3 155.6h0M35.9 157.9h0M289.1 155.3h0M304.1 123.6h0M228.2 129.8h0M215.2 124.2h0M300.6 119.8h0M207.6 105.0h0M48.4 155.3h0M142.8 123.9h0M342.2 145.3h0M79.1 134.2h0M182.9 138.0h0M116.2 117.8h0M329.2 137.5h0M204.4 143.4h0M268.2 111.8h0M277.9 130.5h0M77.5 120.3h0M343.8 152.9h0M316.1 131.6h0M231.4 125.2h0M262.6 133.8h0M143.1 161.0h0M188.5 103.3h0M287.8 106.7h0M118.5 128.7h0M96.9 128.5h0M169.2 133.5h0M236.5 143.0h0M45.8 115.4h0M66.8 121.3h0M174.6 153.3h0M34.3 150.7h0M79.2 146.4h0M298.7 161.5h0M212.2 104.2h0M120.9 127.6h0M243.6 160.5h0M307.6 104.7h0M70.6 140.9h0M95.4 136.7h0M191.2 134.4h0M140.4 156.9h0M122.8 123.0h0M81.0 118.7h0M71.9 140.2h0M36.3 115.7h0M285.8 153.3h0M137.4 146.1h0M286.5 140.8h0M226.6 147.2h0M131.1 121.2h0M111.0 115.0h0M192.5 134.0h0M90.3 106.1h0M37.6 113.9h0M79.3 139.1h0M287.0 133.7h0M233.9 126.7h0M53.4 146.8h0M272.5 109.9h0M128.2 142.8h0M253.4 110.9h0M152.5 124.6h0M202.8 151.3h0M76.2 124.0h0M322.2 111.7h0M85.8 149.2h0M227.5 130.1h0M175.1 104.6h0M232.9 117.1h0M169.7 158.0h0M187.0 125.1h0M141.5 118.3h0M225.6 144.9h0M66.3 101.1h0M155.0 111.0h0M219.5 110.7h0M189.6 130.0h0M338.2 120.5h0M112.9 121.6h0M238.7 115.6h0M106.4 144.6h0M197.6 105.2h0M298.0 108.6h0M123.7 134.4h0M174.5 148.0h0M76.8 141.1h0M86.5 108.0h0M251.3 148.6h0M64.0 102.9h0M93.4 136.2h0M39.8 159.4h0M35.6 146.5h0M284.9 124.5h0M288.1 111.6h0M275.4 136.2h0M299.6 149.7h0M279.2 154.0h0M110.4 102.7h0M84.1 146.8h0M193.9 131.2h0M179.7 102.3h0M323.3 135.8h0M215.3 131.2h0M310.2 129.9h0M200.6 150.0h0M76.8 151.7h0M227.7 121.3h0M76.9 132.5h0M122.8 100.9h0M291.1 146.9h0M314.9 147.8h0M158.4 157.1h0M105.9 116.7h0M178.3 142.6h0M61.2 104.3h0M325.0 101.7h0M265.1 129.7h0M334.0 153.7h0M176.9 134.5h0M250.7 116.9h0M36.0 161.8h0M202.1 150.1h0M200.4 105.5h0M62.4 115.3h0M335.7 151.1h0M122.5 128.3h0M336.6 131.9h0M130.2 133.4h0M83.3 135.9h0M52.5 132.9h0M65.0 103.2h0M269.1 131.9h0M80.4 125.4h0M311.1 123.0h0M116.3 130.4h0M313.5 138.7h0M179.9 139.5h0M141.6 158.4h0M116.1 114.3h0M184.3 150.1h0M274.5 141.5h0M30.5 150.0h0M318.7 108.5h0M92.1 114.3h0M71.1 109.8h0M188.9 143.6h0M177.0 134.1h0M247.5 151.6h0M338.1 144.3h0M187.3 104.3h0M123.1 112.7h0M333.8 145.6h0M70.5 121.6h0M163.5 139.5h0M338.5 121.3h0M251.3 126.2h0M316.4 131.7h0M272.8 136.7h0M257.9 147.3h0M153.5 128.3h0M226.5 144.8h0M217.7 122.9h0M184.7 132.2h0M150.7 120.6h0M50.4 104.9h0M79.1 106.2h0M147.9 160.5h0M156.8 157.0h0M248.0 158.1h0M236.3 159.8h0M284.9 105.7h0M30.6 160.0h0M137.8 141.1h0M331.9 161.6h0M196.2 121.0h0M216.9 143.7h0M59.5 150.3h0M31.0 124.7h0M297.2 155.4h0M302.9 154.1h0M174.0 127.0h0M181.4 132.6h0M98.7 123.7h0M181.7 102.0h0M211.1 104.8h0M207.1 104.4h0M88.4 129.0h0M270.6 161.7h0M272.5 151.2h0M167.8 132.7h0M203.1 160.5h0M298.6 101.6h0M248.5 145.1h0M312.1 158.1h0M155.4 126.3h0M104.4 112.6h0M308.1 146.5h0M292.9 120.7h0M271.8 101.8h0M187.7 120.0h0M125.0 161.7h0M30.8 159.6h0M241.6 162.0h0M158.3 156.2h0M204.6 136.3h0M228.7 116.9h0M221.6 111.6h0M40.1 145.2h0M38.2 157.6h0M101.6 156.9h0M127.2 144.9h0M137.1 143.6h0M87.0 114.9h0M114.3 161.3h0M315.5 124.6h0M333.3 158.4h0M74.9 138.9h0M97.1 122.0h0M126.3 114.6h0M215.7 114.2h0M135.0 109.5h0M114.5 148.5h0M120.8 160.5h0M64.9 102.5h0M108.7 132.5h0M128.2 125.5h0M266.8 141.6h0M106.3 155.0h0M144.1 136.0h0M144.0 147.4h0M213.1 131.5h0M84.5 105.5h0M112.5 153.2h0M323.1 125.8h0M52.8 113.1h0M326.2 108.7h0M161.7 105.3h0M187.0 122.0h0M341.5 161.4h0M189.2 152.3h0M243.3 129.3h0M274.0 102.9h0M83.1 151.6h0M193.8 142.9h0M221.5 152.6h0M109.6 111.7h0M121.4 154.3h0M189.5 147.8h0M274.5 121.9h0M263.4 149.3h0M191.4 133.2h0M179.0 128.8h0M96.5 136.1h0M301.3 116.5h0M162.1 123.8h0M123.7 157.9h0M260.5 106.1h0M193.5 122.3h0M145.6 107.6h0M220.7 122.9h0M244.5 108.2h0M193.9 128.1h0M232.4 104.7h0M279.4 133.2h0M109.5 111.1h0M287.7 101.6h0M215.6 119.7h0M138.5 160.3h0M73.6 112.2h0M33.4 123.3h0M53.8 103.5h0M246.4 159.0h0M83.1 137.8h0M335.1 111.7h0M78.9 131.9h0M46.3 136.5h0M294.1 155.0h0M65.9 135.1h0M189.5 128.6h0M88.1 138.1h0M78.1 142.8h0M58.0 100.9h0M300.8 121.6h0M159.3 132.4h0M181.6 101.9h0M289.3 161.1h0M126.0 118.4h0M117.9 141.5h0M196.9 135.2h0M223.5 116.8h0M194.6 133.6h0M228.2 140.2h0M340.8 108.9h0M191.6 137.3h0M80.9 123.6h0M107.7 134.3h0M252.4 117.1h0M176.3 113.5h0M159.6 161.8h0M311.0 123.1h0M137.8 112.0h0M309.4 157.8h0M44.4 128.4h0M156.6 115.5h0M240.5 151.7h0M146.5 161.3h0M222.8 115.7h0M246.6 109.0h0M160.6 136.5h0M88.3 107.4h0M150.0 153.6h0M94.3 129.9h0M223.2 112.2h0M148.4 154.2h0M280.4 135.2h0M228.3 101.2h0M104.7 122.7h0M47.9 128.5h0M224.2 141.8h0M222.6 132.3h0M295.3 115.7h0M124.1 115.4h0M123.6 154.3h0M174.6 157.0h0M183.8 124.7h0M225.1 102.9h0M181.7 122.5h0M183.0 125.9h0M240.1 140.8h0M30.2 133.0h0M161.5 123.7h0M88.7 150.6h0M86.5 116.7h0M133.5 157.0h0M181.8 110.4h0M97.2 119.7h0M290.3 101.0h0M106.6 145.3h0M57.0 136.9h0M295.7 129.1h0M250.4 135.4h0M309.3 160.5h0M217.4 145.4h0M253.1 151.8h0M158.7 140.8h0M161.2 153.6h0M289.3 121.3h0M201.8 161.6h0M262.5 114.6h0M182.0 105.7h0M115.1 150.3h0M86.4 138.7h0M270.4 159.6h0M164.9 104.3h0M163.3 140.9h0M270.9 153.5h0M50.6 127.5h0M261.1 117.6h0M286.8 161.3h0M134.1 138.3h0M44.6 142.1h0M331.6 148.7h0M133.0 157.9h0M30.8 135.5h0M49.0 126.1h0M115.4 108.5h0M307.8 150.8h0M199.3 110.9h0M191.4 114.7h0M203.7 142.2h0M329.2 116.0h0M114.3 112.3h0M328.8 150.3h0M141.0 127.3h0M290.0 136.7h0M215.9 126.0h0M217.8 100.8h0M85.1 152.5h0M322.3 135.4h0M238.6 127.6h0M143.8 136.7h0M277.5 156.8h0M110.4 128.8h0M169.4 146.9h0M306.1 160.7h0M242.0 138.0h0M65.4 104.5h0M36.6 139.0h0M212.6 103.2h0M309.8 143.3h0M248.0 116.1h0M125.9 134.9h0M135.5 134.2h0M236.9 137.8h0M132.7 162.0h0M110.6 135.2h0M151.0 103.0h0M141.6 141.1h0M305.4 125.2h0M80.2 139.8h0M45.2 132.6h0M66.7 143.8h0M270.6 148.7h0M138.4 149.4h0M192.8 115.2h0M254.0 114.2h0M330.9 151.2h0M33.3 143.3h0M173.1 104.0h0M179.7 137.5h0M37.8 110.5h0M272.8 116.8h0M304.0 125.1h0M238.8 123.7h0M35.4 142.2h0M121.9 135.2h0M251.9 134.8h0M89.7 110.8h0M292.2 156.2h0M136.4 138.9h0M334.7 110.1h0M190.1 149.2h0M236.9 136.1h0M280.5 123.7h0M100.8 120.1h0M129.8 128.0h0M67.9 152.6h0M234.3 144.1h0M238.4 148.2h0M171.4 116.9h0M99.2 107.8h0M336.0 142.6h0M231.0 138.1h0M166.6 133.0h0M42.7 143.2h0M165.2 106.1h0M328.4 132.6h0M34.8 115.8h0M131.4 131.4h0M30.0 125.9h0M239.2 141.7h0M137.5 145.3h0M76.1 103.4h0M36.4 111.4h0M290.5 120.2h0M317.1 145.8h0M283.7 160.5h0M235.7 142.4h0M287.0 141.7h0M165.3 142.9h0M56.1 149.3h0M49.8 159.0h0M243.1 158.8h0M232.4 125.6h0M189.0 128.5h0M59.5 152.2h0M83.5 114.3h0M133.9 143.5h0M159.7 119.8h0M215.1 120.1h0M87.4 149.9h0M173.4 143.3h0M38.8 161.4h0M87.2 134.6h0M84.9 120.9h0M276.7 132.7h0M341.2 107.8h0M307.0 156.7h0M132.5 157.3h0M117.1 144.3h0M134.4 133.2h0M229.1 153.3h0M132.3 105.8h0M118.6 146.4h0M137.4 128.8h0M237.0 125.9h0M309.6 125.7h0M183.0 154.6h0M46.9 124.4h0M242.5 141.4h0M169.4 127.8h0M317.6 156.2h0M112.6 127.8h0M32.7 107.4h0M140.3 123.5h0M252.2 109.4h0M173.0 152.7h0M68.0 114.1h0M142.0 136.5h0M328.1 113.5h0M174.0 138.0h0M290.2 157.4h0M315.0 111.0h0M135.7 103.6h0M40.4 125.3h0M168.1 138.6h0M328.6 108.0h0M335.9 144.4h0M72.5 143.1h0M68.3 105.3h0M238.4 109.4h0M240.2 127.1h0M240.7 120.2h0M223.9 106.7h0M302.8 149.8h0M144.9 140.8h0M59.5 139.4h0M105.4 160.0h0M67.6 102.6h0M312.1 143.0h0M226.2 106.2h0M169.5 145.8h0M52.3 149.8h0M217.3 108.5h0M195.0 126.5h0M282.6 135.6h0M294.6 147.6h0M187.8 113.0h0M343.8 120.4h0M229.4 152.3h0M88.8 103.9h0M279.7 145.9h0M81.1 119.5h0M226.1 135.6h0M299.4 130.5h0M89.6 147.9h0M161.4 117.3h0M74.5 116.2h0M69.2 110.3h0M193.9 107.7h0M86.4 143.8h0M86.9 147.3h0M36.2 119.7h0M76.7 134.1h0M183.7 146.9h0M167.7 153.3h0M48.4 137.6h0M48.5 121.8h0M317.4 115.3h0M49.0 161.3h0M33.8 137.9h0M77.0 138.3h0M291.1 108.2h0M321.2 142.6h0M68.0 112.5h0M153.6 149.2h0M304.0 112.2h0M305.5 138.7h0M40.9 133.7h0M119.0 135.9h0M275.4 108.0h0M54.4 104.4h0M200.0 146.2h0M115.4 145.3h0M305.5 130.8h0M60.3 101.6h0M63.7 146.9h0M288.4 101.3h0M231.4 157.2h0M124.1 159.9h0M278.5 112.5h0M89.0 152.6h0M122.2 102.7h0M35.0 142.6h0M245.6 111.5h0M317.5 122.4h0M108.8 115.6h0M236.4 147.8h0M301.5 105.2h0M230.1 120.7h0M57.0 141.1h0M83.8 106.1h0M337.7 104.0h0M183.5 124.9h0M85.4 161.5h0M50.4 104.5h0M131.6 137.0h0M207.5 144.4h0M212.2 129.7h0M340.8 107.5h0M178.2 120.7h0M339.9 131.3h0M188.2 149.3h0M342.9 142.0h0M41.9 110.4h0M70.4 104.0h0M41.1 159.4h0M159.3 146.8h0M112.6 113.7h0M341.7 106.1h0M304.2 104.5h0M181.3 128.1h0M209.0 138.2h0M69.9 154.3h0M94.2 116.5h0M46.0 114.5h0M215.2 129.9h0M332.1 151.4h0M142.4 119.9h0M189.3 117.8h0M143.5 141.0h0M101.0 159.1h0M309.9 142.1h0M258.0 162.2h0M181.5 126.5h0M235.5 148.7h0M169.3 114.4h0M345.6 144.9h0M244.1 106.2h0M159.4 139.0h0M306.2 119.6h0M57.6 145.2h0M302.1 134.6h0M255.8 121.1h0M130.4 108.0h0M62.5 149.6h0M288.8 136.0h0M202.9 132.6h0M283.1 106.1h0M98.4 110.1h0M341.0 131.2h0M253.7 119.7h0M286.8 148.8h0M155.2 162.2h0M342.1 147.5h0M137.9 159.1h0M336.3 135.7h0M144.2 139.4h0M130.4 108.0h0M126.0 124.5h0M182.7 134.0h0M323.5 140.6h0M172.7 130.7h0M281.2 139.9h0M162.3 124.0h0M264.5 141.0h0M139.6 109.8h0M83.1 102.6h0M257.3 152.6h0M210.6 102.6h0M141.9 114.6h0M60.6 138.5h0M300.7 152.6h0M286.9 116.3h0M262.4 118.8h0M139.8 148.2h0M36.0 138.9h0M130.4 129.9h0M102.2 113.2h0M335.4 129.4h0M97.0 140.8h0M309.1 131.3h0M215.2 151.4h0M309.9 129.5h0M208.9 110.1h0M79.0 160.1h0M106.5 134.1h0M98.9 107.5h0M114.1 126.9h0M107.5 157.5h0M123.4 157.0h0M238.3 156.5h0M176.6 102.0h0M77.6 105.6h0M70.4 104.0h0M106.9 131.1h0M240.7 112.8h0M160.0 146.3h0M63.3 143.8h0M56.9 101.6h0M275.6 133.8h0M220.6 118.8h0M77.9 135.8h0M127.1 161.7h0M281.8 155.9h0M86.4 123.8h0M149.9 108.2h0M182.0 137.9h0M123.8 111.7h0M38.6 115.1h0M184.5 161.7h0M255.8 116.2h0M114.0 113.3h0M307.3 101.2h0M318.6 148.4h0M124.3 135.2h0M65.3 144.1h0M63.0 160.5h0M160.7 139.9h0M335.4 156.3h0M290.2 138.8h0M148.3 133.5h0M268.9 120.3h0M327.9 138.7h0M323.6 110.0h0M186.9 132.2h0M123.9 135.2h0M187.8 123.2h0M112.4 132.6h0M153.7 116.2h0M45.6 128.7h0M243.8 109.0h0M314.2 109.3h0M63.2 103.7h0M286.8 112.4h0M49.3 143.5h0M106.0 122.5h0M211.3 118.4h0M309.9 126.8h0M230.3 141.7h0M203.7 146.9h0M124.5 111.2h0M173.7 152.0h0M180.8 130.0h0M313.6 152.7h0M330.9 144.8h0M244.2 126.3h0M104.3 153.8h0M237.9 160.7h0M105.7 157.7h0M95.5 146.6h0M168.2 152.1h0M224.2 119.0h0M285.0 112.6h0M262.2 139.7h0M265.7 154.1h0M73.6 154.7h0M268.8 150.1h0M335.7 137.3h0M276.8 131.2h0M329.0 131.4h0M199.3 101.9h0M159.9 108.3h0M32.3 133.0h0M52.7 107.1h0M335.9 114.0h0M136.4 145.7h0M41.1 153.9h0M180.2 105.2h0M60.4 120.4h0M239.3 132.5h0M127.2 105.1h0M258.3 116.2h0M173.4 126.6h0M210.6 158.8h0M283.0 155.5h0M116.2 140.2h0M243.7 147.5h0M161.8 157.6h0M182.3 155.0h0M179.8 145.0h0M99.9 114.9h0M200.6 139.6h0M190.0 152.8h0M302.4 127.3h0M53.2 123.7h0M80.3 151.6h0M115.1 142.3h0M259.7 129.2h0M308.9 123.7h0M177.4 159.0h0M90.9 143.3h0M40.0 115.7h0M184.8 157.9h0M305.7 149.3h0M73.1 136.5h0M119.3 106.5h0M264.0 151.2h0M168.7 136.6h0M139.6 121.7h0M55.2 146.6h0M258.7 118.9h0M122.7 161.7h0M98.6 132.2h0M52.7 157.8h0M269.9 133.6h0M148.3 110.4h0M81.9 141.0h0M176.4 122.9h0M200.7 113.9h0M292.1 138.5h0M71.2 122.8h0M67.0 131.4h0M172.0 113.6h0M341.4 144.2h0M148.6 138.8h0M233.1 106.3h0M193.2 137.4h0M124.7 124.2h0M236.0 140.4h0M314.4 112.8h0M144.6 154.6h0M57.2 105.9h0M50.2 117.8h0M80.2 123.7h0M185.1 116.0h0M213.6 143.9h0M130.9 109.6h0M341.6 127.4h0M54.8 107.7h0M259.8 127.6h0M326.8 146.8h0M55.8 147.4h0M335.6 162.3h0M299.2 139.4h0M321.8 149.8h0M162.6 118.5h0M34.1 106.2h0M156.4 106.0h0M71.5 128.7h0M111.1 160.2h0M88.6 135.1h0M194.6 125.8h0M280.2 159.5h0M294.3 104.8h0M142.1 126.5h0M319.0 143.3h0M147.8 144.9h0M338.6 106.1h0M338.1 107.0h0M32.7 103.8h0M303.0 119.9h0M305.2 138.7h0M45.9 160.3h0M80.9 159.1h0M311.9 134.4h0M54.9 106.1h0M103.5 113.0h0M267.2 113.6h0M168.3 106.5h0M297.1 121.7h0M37.8 145.8h0M247.8 131.5h0M269.8 120.9h0M286.0 150.5h0M179.2 147.5h0M123.7 134.5h0M227.1 104.3h0M219.6 150.7h0M340.9 162.4h0M160.6 137.4h0M62.0 161.2h0M45.0 140.3h0M172.7 150.7h0M324.0 158.1h0M338.3 156.9h0M36.0 107.4h0M182.2 141.8h0M300.5 151.4h0M267.7 130.0h0M93.9 114.4h0M268.1 120.7h0M52.7 142.3h0M213.7 142.8h0M180.7 115.5h0M337.9 131.8h0M210.7 141.3h0M33.1 111.7h0M138.1 159.1h0M43.3 159.1h0M221.3 127.0h0M264.2 154.8h0M277.4 101.7h0M303.0 122.9h0M296.4 131.4h0M302.7 105.0h0M188.6 152.1h0M130.1 151.9h0M76.3 135.1h0M36.5 146.5h0M114.7 143.0h0M57.6 127.2h0M207.1 110.3h0M124.7 143.0h0M205.6 137.3h0M44.0 147.1h0M182.2 138.6h0M38.3 156.9h0M42.6 133.6h0M161.7 117.4h0M61.8 116.0h0M286.9 110.8h0M159.8 155.4h0M122.9 153.0h0M66.9 121.1h0M149.2 104.4h0M79.9 136.5h0M154.5 100.9h0M109.1 116.8h0M160.8 135.0h0M168.5 153.0h0M296.7 144.3h0M174.4 157.6h0M121.8 126.6h0M58.5 127.2h0M345.2 161.3h0M126.5 129.0h0M106.8 129.9h0M277.0 118.1h0M344.5 162.0h0M266.8 109.5h0M51.5 160.5h0M336.9 139.1h0M112.9 116.4h0M300.5 110.8h0M189.6 111.1h0M89.8 155.2h0M313.3 138.1h0M147.5 113.4h0M56.8 108.4h0M121.8 104.5h0M122.9 110.0h0M241.4 144.8h0M334.3 110.8h0M292.4 151.8h0M312.6 141.8h0M285.0 152.8h0M46.0 147.0h0M300.2 158.5h0M230.5 128.7h0M148.7 134.5h0M153.9 126.3h0M293.9 144.7h0M169.5 144.3h0M44.0 147.4h0M184.2 123.5h0M344.3 115.8h0M102.8 161.2h0M268.7 116.8h0M260.6 155.9h0M223.7 117.3h0M116.1 132.6h0M164.5 162.4h0M149.4 145.1h0M133.7 103.1h0M51.1 159.4h0M161.5 143.8h0M149.1 112.1h0M142.6 139.8h0M199.2 128.6h0M187.6 127.2h0M301.5 109.3h0M125.2 104.3h0M306.6 120.4h0M271.3 102.5h0M267.3 107.7h0M135.8 123.7h0M202.6 151.1h0M322.2 146.4h0M236.1 157.1h0M150.1 122.6h0M50.8 132.0h0M283.0 105.2h0M196.8 142.0h0M171.7 116.5h0M324.7 148.4h0M44.3 117.8h0M185.5 125.8h0M240.5 121.0h0M108.2 114.1h0M160.5 153.6h0M196.7 114.2h0M178.7 110.7h0M94.6 134.9h0M310.7 152.0h0M326.7 156.9h0" stroke="#626262" stroke-width="1.6" stroke-linecap="round" opacity="0.8"/>
<path d="M119.3 102.6h0M313.3 156.2h0M60.7 113.3h0M116.6 149.9h0M112.4 109.4h0M333.5 110.5h0M286.3 159.1h0M159.5 123.2h0M61.6 124.5h0M270.4 115.5h0M68.6 143.5h0M278.2 114.1h0M252.8 126.8h0M160.3 123.2h0M102.4 161.3h0M224.1 140.8h0M317.9 141.8h0M48.8 114.8h0M59.7 103.1h0M63.3 142.5h0M232.6 122.0h0M326.4 103.7h0M188.1 160.3h0M318.0 153.0h0M243.3 142.8h0M298.7 106.6h0M174.0 126.2h0M317.7 160.1h0M323.0 147.5h0M97.6 114.3h0M205.2 102.4h0M39.7 159.6h0M120.0 132.1h0M331.0 112.1h0M258.8 135.3h0M253.3 148.3h0M286.9 145.0h0M107.6 162.2h0M82.6 127.8h0M324.3 154.5h0M137.3 111.5h0M81.4 153.7h0M302.1 158.7h0M143.9 147.8h0M181.2 133.9h0M66.4 141.4h0M104.5 156.7h0M116.5 147.8h0M35.4 149.1h0M322.3 139.4h0M314.5 129.6h0M183.8 159.1h0M87.2 107.0h0M282.5 112.3h0M308.2 140.4h0M299.1 147.4h0M206.5 140.3h0M256.5 142.6h0M59.6 113.2h0M155.1 146.1h0M143.0 121.8h0M196.7 115.4h0M34.0 101.5h0M116.6 135.6h0M191.4 119.4h0M51.8 136.2h0M263.1 137.9h0M277.1 104.1h0M40.1 112.6h0M244.9 135.3h0M209.2 101.9h0M55.7 114.9h0M130.3 105.5h0M323.5 154.1h0M46.3 154.3h0M239.4 139.4h0M162.6 108.1h0M284.0 116.1h0M121.2 108.9h0M94.5 106.9h0M216.4 103.7h0M302.1 160.3h0M164.1 108.0h0M228.5 159.4h0M233.7 124.2h0M229.2 128.3h0M328.1 102.1h0M318.8 120.7h0M297.7 116.4h0M235.5 108.0h0M162.2 129.3h0M139.4 126.9h0M44.8 152.9h0M274.2 137.0h0M254.4 126.3h0M215.5 155.8h0M212.8 102.3h0M78.6 108.1h0M283.4 124.8h0M173.0 123.2h0M62.2 122.7h0M232.5 156.3h0M160.1 156.2h0M160.9 116.9h0M344.2 114.2h0M293.2 106.6h0M253.1 130.8h0M315.4 104.7h0M36.7 137.3h0M49.7 107.2h0M90.2 151.8h0M66.0 143.3h0M239.1 144.2h0M189.1 121.0h0M225.0 119.2h0M336.9 105.0h0M316.3 122.6h0M285.2 151.9h0M339.4 101.0h0M63.8 146.9h0M133.7 149.5h0M251.9 146.9h0M331.3 101.7h0M54.2 160.1h0M263.2 144.2h0M43.1 150.6h0M252.9 129.2h0M326.3 102.4h0M141.1 147.6h0M165.6 159.5h0M101.8 155.1h0M233.2 140.9h0M341.9 157.3h0M86.5 157.1h0M56.6 139.2h0M55.0 123.1h0M316.3 144.4h0M255.0 110.4h0M321.2 146.5h0M256.0 130.3h0M110.6 141.9h0M202.8 128.7h0M294.7 125.4h0M219.5 161.7h0M82.5 124.9h0M38.3 157.6h0M49.4 151.4h0M54.8 101.7h0M262.5 142.0h0M201.0 130.2h0M82.1 105.0h0M203.5 142.8h0M153.9 123.6h0M137.7 111.0h0M224.1 132.1h0M329.5 140.6h0M228.1 113.1h0M77.5 129.7h0M64.7 101.6h0M159.6 102.3h0M280.8 148.9h0M223.6 112.5h0M260.8 131.0h0M152.6 130.5h0M245.7 139.6h0M72.0 120.0h0M322.3 141.7h0M151.0 156.6h0M323.9 109.9h0M194.5 156.1h0M244.6 107.8h0M310.3 116.7h0M310.5 124.1h0M255.4 115.2h0M129.8 138.4h0M166.7 139.2h0M306.6 108.9h0M151.5 117.0h0M196.3 116.1h0M299.2 108.6h0M198.0 148.3h0M227.3 124.0h0M254.9 160.8h0M146.6 127.4h0M205.8 149.0h0M228.5 152.0h0M294.4 132.6h0M183.0 113.0h0M323.1 122.4h0M47.0 123.6h0M142.1 159.4h0M280.1 121.1h0M329.0 137.1h0M161.0 157.2h0M235.5 111.8h0M37.4 107.0h0M112.9 155.0h0M334.2 158.6h0M207.4 153.9h0M310.8 160.8h0M90.5 127.2h0M99.5 148.7h0M37.6 149.1h0M43.8 131.8h0M61.6 143.4h0M182.7 132.8h0M48.6 104.7h0M74.0 118.3h0M116.5 119.8h0M204.4 161.3h0M202.8 132.8h0M175.8 147.6h0M253.6 151.5h0M152.9 150.0h0M37.4 116.1h0M228.0 122.0h0M48.9 147.8h0M316.4 128.2h0M278.4 141.2h0M155.3 155.1h0M135.8 144.0h0M340.8 155.6h0M281.0 117.5h0M136.3 152.2h0M173.3 106.9h0M156.7 139.2h0M79.2 116.7h0M229.0 138.6h0M275.8 110.1h0M199.5 112.0h0M49.2 159.1h0M334.3 150.4h0M182.4 102.7h0M37.3 154.1h0M228.4 142.5h0M240.3 138.6h0M244.8 139.3h0M103.4 106.9h0M173.8 130.8h0M39.7 153.0h0M307.8 118.5h0M61.2 135.6h0M39.6 144.5h0M199.7 130.6h0M47.2 119.4h0M115.9 147.6h0M78.0 105.0h0M245.6 145.4h0M54.0 149.3h0M338.6 120.8h0M162.8 142.4h0M52.2 121.6h0M133.9 132.1h0M243.3 157.3h0M287.5 134.7h0M61.0 125.7h0M174.7 106.1h0M64.0 129.5h0M240.5 115.9h0M346.5 128.8h0M341.2 150.7h0M54.8 148.9h0M182.9 105.6h0M161.1 144.4h0M156.4 155.2h0M261.5 119.4h0M167.6 159.4h0M223.7 109.6h0M158.5 112.0h0M109.6 135.4h0M118.1 160.9h0M205.2 133.6h0M231.8 108.9h0M247.1 134.2h0M217.7 106.0h0M191.6 146.6h0M131.5 126.1h0M312.7 105.4h0M169.2 138.9h0M67.1 128.1h0M334.6 133.8h0M141.7 117.1h0M136.8 128.4h0M139.6 132.2h0M226.7 145.5h0M288.1 114.6h0M39.3 130.9h0M168.2 110.7h0M185.5 127.4h0M219.3 121.4h0M151.4 103.6h0M73.1 131.9h0M76.8 160.0h0M72.5 161.7h0M286.0 129.1h0M173.8 129.8h0M138.2 116.3h0M145.3 123.0h0M284.4 140.8h0M314.0 161.5h0M119.4 134.0h0M146.5 108.8h0M288.1 104.4h0M121.6 154.2h0M337.0 126.8h0M324.6 141.6h0M311.1 132.4h0M273.8 147.6h0M222.8 161.9h0M97.4 129.3h0M73.2 101.8h0M181.9 146.5h0M319.0 137.7h0M221.4 150.0h0M276.2 107.5h0M55.7 158.1h0M81.3 121.1h0M259.6 125.6h0M238.8 107.1h0M165.0 112.5h0M252.4 113.8h0M340.9 137.0h0M303.0 120.6h0M334.5 154.5h0M329.4 142.7h0M291.0 125.4h0M238.0 112.3h0M92.9 114.4h0M326.1 153.6h0M70.1 153.5h0M201.4 124.7h0M147.7 106.6h0M270.3 154.9h0M53.9 159.9h0M173.9 117.9h0M90.4 107.0h0M274.2 148.1h0M245.5 104.6h0M299.0 136.9h0M285.4 147.7h0M95.9 135.7h0M193.7 148.1h0M228.3 122.8h0M329.9 110.8h0M345.1 141.1h0M72.8 110.7h0M268.0 110.6h0M116.5 114.8h0M302.7 147.3h0M118.8 115.9h0M325.1 150.0h0M73.5 101.9h0M257.8 108.9h0M238.3 132.4h0M337.5 130.9h0M302.0 154.3h0M80.0 112.5h0M217.7 160.4h0M321.0 134.6h0M221.6 111.5h0M105.0 124.1h0M264.0 106.0h0M212.9 140.7h0M113.0 124.7h0M46.1 160.3h0M328.4 155.4h0M99.6 121.8h0M170.5 140.3h0M294.6 110.1h0M243.3 125.9h0M93.9 140.6h0M39.6 109.8h0M81.0 131.3h0M334.9 127.9h0M122.3 113.4h0M338.0 116.3h0M215.3 129.2h0M176.6 143.4h0M275.7 114.2h0M162.2 156.7h0M323.3 152.3h0M204.2 120.0h0M75.8 134.7h0M262.7 158.1h0M94.7 137.0h0M80.4 122.0h0M124.8 144.0h0M79.7 156.8h0M167.6 124.7h0M181.0 133.0h0M122.0 109.5h0M201.4 151.8h0M51.7 141.7h0M294.6 124.7h0M150.5 132.1h0M120.2 125.2h0M44.7 117.5h0M125.9 151.4h0M103.5 146.9h0M148.3 109.5h0M119.4 114.9h0M311.0 129.6h0M82.9 115.8h0M302.9 110.5h0M307.0 124.0h0M345.4 100.8h0M217.1 110.4h0M333.8 111.6h0M258.6 123.8h0M240.0 145.9h0M171.2 102.8h0M279.0 156.5h0M320.3 123.2h0M330.5 124.1h0M134.5 152.3h0M193.0 160.0h0M176.2 139.0h0M203.6 123.8h0M123.9 110.5h0M161.4 161.4h0M298.1 123.0h0M43.1 105.2h0M271.6 102.6h0M138.3 157.9h0M109.0 158.5h0M246.4 111.6h0M97.7 152.5h0M314.2 115.7h0M99.9 161.5h0M150.9 129.3h0M58.2 108.5h0M59.1 134.3h0M310.6 106.7h0M327.3 132.1h0M162.3 155.6h0M301.5 150.6h0M199.5 158.0h0M218.4 106.0h0M137.8 118.4h0M228.4 136.6h0M173.7 132.9h0M170.2 127.7h0M163.8 115.5h0M319.3 140.9h0M320.9 103.6h0M170.2 131.0h0M227.6 157.4h0M226.4 124.8h0M57.4 130.5h0M216.1 111.8h0M94.0 103.8h0M120.6 124.6h0M117.7 121.4h0M279.9 136.2h0M149.6 151.7h0M250.8 141.3h0M309.4 143.7h0M338.0 140.6h0M317.1 109.8h0M228.8 159.4h0M136.9 161.2h0M269.5 144.0h0M320.8 142.6h0M165.0 162.1h0M329.5 127.0h0M41.0 138.5h0M247.7 126.1h0M39.8 105.8h0M259.8 120.9h0M152.4 151.3h0M155.8 159.3h0M139.7 109.7h0M160.4 158.9h0M33.7 106.4h0M68.0 121.9h0M125.8 151.5h0M197.1 158.3h0M163.4 146.9h0M257.5 140.6h0M180.1 123.9h0M80.3 148.8h0M313.3 111.2h0M268.9 151.8h0M242.7 129.0h0M330.1 120.6h0M154.2 125.5h0M138.4 120.1h0M59.9 142.3h0M243.7 147.7h0M224.8 148.6h0M309.7 115.9h0M110.1 140.0h0M137.8 141.6h0M268.4 119.0h0M234.0 133.2h0M268.2 108.9h0M103.6 113.8h0M51.5 142.9h0M158.2 151.0h0M327.0 105.7h0M188.6 127.8h0M206.8 127.8h0M115.6 146.0h0M44.1 162.3h0M318.0 132.4h0M294.8 145.0h0M112.1 110.8h0M235.1 144.1h0M293.0 136.7h0M210.0 149.7h0M245.1 132.9h0M165.0 130.4h0M199.4 126.1h0M323.1 118.3h0M139.2 106.0h0M41.1 114.8h0M261.7 155.6h0M236.5 151.6h0M99.7 104.7h0M336.4 112.3h0M144.1 141.7h0M98.7 102.0h0M267.0 161.2h0M325.1 114.4h0M108.9 111.3h0M234.8 157.7h0M230.6 122.8h0M300.8 152.0h0M185.0 104.8h0M281.4 121.0h0M53.2 120.8h0M209.4 105.9h0M52.3 147.3h0M130.2 124.3h0M257.9 156.9h0M290.1 100.8h0M317.7 134.1h0M212.2 109.3h0M290.9 119.4h0M99.6 126.5h0M336.6 117.1h0M196.9 142.8h0M329.3 107.0h0M216.7 155.5h0M46.4 132.7h0M112.8 128.7h0M298.7 123.9h0M323.0 148.0h0M95.6 146.8h0M155.1 121.9h0M171.9 162.2h0M279.4 135.2h0M51.6 122.9h0M35.0 122.6h0M238.0 111.8h0M192.0 104.1h0M230.4 112.1h0M102.5 139.7h0M158.3 129.4h0M204.2 102.9h0M52.8 125.5h0M179.5 109.8h0M214.2 132.6h0M117.5 105.7h0M305.4 149.3h0M98.3 116.7h0M315.3 110.5h0M252.7 112.5h0M222.1 150.1h0M273.5 143.9h0M186.6 137.7h0M196.7 152.0h0M214.1 147.6h0M121.8 162.0h0M167.8 119.9h0M145.5 138.9h0M70.3 133.5h0M294.0 119.6h0M72.9 154.2h0M244.7 109.7h0M66.3 156.1h0M152.9 115.9h0M187.8 115.5h0M336.3 105.2h0M149.6 158.5h0M87.1 140.0h0M304.4 113.4h0M194.3 152.0h0M114.8 120.7h0M215.4 128.0h0M239.0 159.5h0M229.2 157.5h0M139.0 108.5h0M279.5 111.7h0M305.6 153.3h0M344.0 142.1h0M175.6 155.6h0M168.1 150.9h0M88.1 140.6h0M259.1 107.4h0M164.4 125.4h0M34.0 121.1h0M339.6 159.5h0M118.0 117.0h0M202.8 140.6h0M198.7 132.9h0M263.7 158.4h0M254.8 150.8h0M238.0 127.4h0M311.5 158.2h0M310.0 133.0h0M219.3 130.8h0M72.7 128.5h0M292.6 112.7h0M173.6 110.6h0M298.8 135.9h0M117.2 134.9h0M49.4 119.7h0M154.8 113.1h0M157.3 103.9h0M87.2 140.1h0M232.9 116.8h0M248.5 118.2h0M188.7 114.2h0M101.6 141.7h0M247.6 103.5h0M285.0 113.0h0M54.8 111.0h0M242.2 126.5h0M142.5 104.4h0M261.1 153.5h0M228.6 161.9h0M49.5 139.8h0M77.6 138.5h0M309.7 144.6h0M161.6 145.2h0M49.4 139.0h0M109.9 120.1h0M260.2 160.7h0M71.2 120.1h0M160.6 101.2h0M242.4 105.6h0M276.7 132.9h0M203.8 116.0h0M187.5 141.9h0M326.6 111.7h0M90.6 119.4h0M343.2 129.5h0M217.9 125.7h0M179.5 154.6h0M144.0 124.1h0M166.2 129.3h0M118.0 128.5h0M201.4 101.6h0M210.8 101.8h0M182.7 122.7h0M123.3 139.1h0M195.7 139.4h0M52.4 113.2h0M114.1 133.9h0M193.2 134.2h0M330.5 123.8h0M112.4 161.5h0M65.2 155.8h0M210.2 149.9h0M137.7 137.5h0M138.1 143.6h0M220.9 119.0h0M289.5 108.8h0M221.2 109.6h0M103.4 136.9h0M81.8 143.4h0M306.1 154.5h0M81.5 132.4h0M326.8 131.2h0M169.2 132.7h0M158.5 114.7h0M114.4 151.4h0M308.3 121.4h0M193.0 103.6h0M91.2 131.6h0M280.9 130.7h0M206.5 100.9h0M306.1 123.6h0M157.5 132.3h0M159.0 111.6h0M206.9 112.4h0M152.0 150.8h0M282.6 158.1h0M211.8 130.2h0M41.1 155.4h0M277.9 160.3h0M162.7 127.0h0M315.9 120.3h0M64.4 119.7h0M109.9 145.6h0M326.1 106.3h0M308.8 102.1h0M326.2 155.3h0M114.2 124.3h0M212.5 150.5h0M300.5 122.0h0M155.0 148.3h0M191.5 102.1h0M240.2 107.7h0M193.4 122.8h0M160.3 106.6h0M42.6 104.4h0M331.7 136.8h0M253.4 122.5h0M287.7 156.4h0M73.4 156.6h0M95.2 127.4h0M320.4 152.7h0M90.4 131.3h0M64.7 129.4h0M130.3 145.1h0M323.7 136.0h0M279.7 161.5h0M79.4 106.9h0M127.7 121.9h0M321.3 155.7h0M34.5 154.4h0M177.9 154.7h0M272.4 130.1h0M95.5 119.6h0M172.0 147.3h0M238.0 138.8h0M163.4 109.3h0M143.8 127.6h0M102.6 137.9h0M230.3 138.4h0M54.4 104.7h0M297.2 130.7h0M340.1 140.0h0M263.5 104.8h0M74.5 142.6h0M94.0 145.2h0M83.0 103.5h0M114.7 125.3h0M144.1 107.9h0M50.7 149.6h0M92.2 150.1h0M179.0 156.8h0M273.5 137.5h0M87.7 126.8h0M216.2 106.7h0M40.8 110.4h0M200.3 118.1h0M55.6 140.6h0M283.3 141.1h0M225.5 142.3h0M267.2 150.1h0M70.4 115.7h0M66.3 134.0h0M185.3 143.2h0M128.6 141.9h0M318.0 123.2h0M138.9 103.8h0M45.3 107.0h0M271.4 102.9h0M59.9 120.2h0M240.9 123.2h0M84.8 112.6h0M109.3 146.0h0M228.4 117.3h0M228.5 140.4h0M243.2 136.5h0M78.6 156.5h0M183.2 148.2h0M180.1 125.0h0M65.0 151.0h0M203.9 122.9h0M80.0 126.5h0M244.8 109.1h0M30.3 150.1h0M325.7 156.4h0M41.7 138.7h0M48.4 111.2h0M286.0 135.4h0M206.1 129.1h0M158.8 107.6h0M77.9 150.8h0M261.8 112.1h0M256.6 122.7h0M271.1 127.1h0M112.9 161.0h0M211.4 134.8h0M321.1 107.7h0M274.8 145.9h0M175.4 155.0h0M326.6 158.7h0M214.6 125.7h0M83.7 120.0h0M136.0 149.3h0M191.2 137.6h0M323.9 122.0h0M85.6 156.0h0M193.8 143.5h0M120.4 131.7h0M287.4 128.0h0M227.2 120.1h0M256.2 135.2h0M131.2 114.4h0M55.8 109.2h0M200.3 157.3h0M207.8 162.2h0M260.2 113.1h0M314.4 124.0h0M58.2 159.4h0M176.2 157.9h0M85.8 153.4h0M112.0 123.3h0M157.9 141.8h0M344.9 121.5h0M251.8 142.6h0M167.2 159.7h0M142.4 104.2h0M197.6 124.0h0M288.2 124.4h0M149.1 120.1h0M79.5 155.5h0M279.3 132.4h0M62.4 143.3h0M104.1 115.6h0M115.4 132.5h0M143.6 120.8h0M252.4 161.8h0M139.5 107.8h0M93.1 104.2h0M31.9 129.4h0M244.4 159.1h0M120.9 137.4h0M320.6 145.8h0M225.5 158.0h0M197.2 112.5h0M225.9 152.0h0M236.5 148.7h0M232.2 126.7h0M67.2 136.4h0M244.1 142.4h0M275.8 148.0h0M216.6 151.9h0M199.2 134.2h0M272.4 148.6h0M340.0 144.9h0M225.7 158.0h0M73.4 140.8h0M92.1 119.9h0M183.7 140.3h0M153.5 139.0h0M171.0 114.3h0M64.5 113.1h0M147.9 137.1h0M128.7 126.6h0M287.0 123.1h0M81.9 127.9h0M286.5 105.7h0M98.5 158.3h0M175.5 143.1h0M80.5 128.3h0M123.8 154.7h0M288.5 137.0h0M128.0 153.0h0M165.2 150.7h0M191.2 110.5h0M289.7 118.3h0M74.1 107.2h0M176.9 118.0h0M44.9 112.2h0M39.5 133.4h0M128.7 156.0h0M307.0 120.7h0M41.2 153.3h0M38.6 124.1h0M54.1 132.3h0M166.7 131.7h0M283.6 151.2h0M157.9 121.9h0M187.0 158.3h0M110.5 123.6h0M124.9 103.8h0M190.5 138.8h0M323.9 155.7h0M229.1 157.7h0M172.5 108.9h0M286.4 117.8h0M167.4 115.8h0M270.3 117.4h0M306.2 161.7h0M47.2 128.0h0M325.3 104.1h0M333.0 131.1h0M31.2 104.1h0M211.4 162.1h0M191.1 150.9h0M255.5 107.2h0M243.0 141.0h0M165.8 131.6h0M319.5 157.5h0M98.1 147.1h0M147.0 153.2h0M78.7 147.9h0M240.2 112.6h0M46.8 110.1h0M131.1 107.5h0M211.7 161.8h0M225.4 142.6h0M158.8 117.9h0M229.7 155.5h0M266.4 139.6h0M50.3 157.0h0M94.8 137.1h0M228.8 101.3h0M242.0 150.1h0M133.6 114.4h0M161.2 129.4h0M301.9 119.3h0M274.0 161.5h0M292.9 108.3h0M300.3 159.7h0M57.5 117.2h0M76.0 125.0h0M189.7 131.6h0M186.9 121.9h0M221.0 154.0h0M78.3 136.8h0M48.8 156.5h0M184.0 122.1h0M88.8 127.4h0M85.3 115.5h0M73.6 116.7h0M124.6 128.9h0M232.8 113.4h0M318.2 115.9h0M175.6 108.4h0M144.2 133.5h0M141.7 144.7h0M209.5 147.6h0M40.2 135.1h0M91.8 144.1h0M142.3 154.6h0M135.2 156.7h0M106.0 147.8h0M40.4 137.1h0M151.3 160.7h0M267.3 113.3h0M247.8 148.1h0M180.0 101.0h0M150.8 155.7h0M107.7 128.6h0M72.6 132.4h0M220.7 145.6h0M327.6 116.2h0M49.0 104.0h0M130.9 134.6h0M249.7 151.0h0M147.4 162.2h0M229.8 144.6h0M299.4 114.8h0M40.5 154.6h0M252.8 143.0h0M96.1 121.2h0M114.7 158.9h0M55.4 107.8h0M317.0 115.5h0M95.8 156.5h0M65.8 101.5h0M46.1 130.4h0M266.7 110.9h0M43.1 122.7h0M323.5 152.2h0M55.0 127.2h0M343.5 139.4h0M316.5 101.4h0M165.3 113.0h0M337.1 105.7h0M63.8 121.5h0M278.8 148.2h0M71.5 136.8h0M303.7 110.8h0M166.4 152.5h0M103.1 160.4h0M248.0 130.0h0M214.3 115.1h0M231.8 156.6h0M336.3 112.9h0M86.7 161.0h0M232.9 148.2h0M39.7 125.4h0M160.3 125.2h0M31.3 101.1h0M166.4 160.8h0M336.3 161.4h0M239.4 105.1h0M201.9 134.9h0M232.1 134.6h0M337.7 146.8h0M214.5 131.4h0M187.6 156.9h0M143.3 155.2h0M137.9 162.1h0M271.2 148.1h0M225.4 133.7h0M215.2 129.1h0M98.3 159.4h0M62.9 114.5h0M221.5 148.2h0M134.4 159.4h0M169.6 134.0h0M106.6 150.8h0M119.3 111.3h0M261.4 106.7h0M112.5 104.6h0M314.0 149.1h0M156.0 146.6h0M231.6 112.5h0M37.2 117.6h0M69.7 147.8h0M53.2 117.4h0M62.6 108.2h0M256.6 140.4h0M236.1 143.6h0M224.7 116.0h0M173.9 157.2h0M164.9 141.4h0M78.6 107.5h0M159.8 112.2h0M202.5 156.2h0M92.2 144.4h0M163.4 127.3h0M345.7 133.3h0M221.7 119.9h0M182.1 125.1h0M162.1 154.5h0M107.6 151.2h0M274.3 138.9h0M41.0 122.7h0M246.4 148.0h0M212.3 102.5h0M120.3 144.8h0M210.4 126.7h0M330.7 151.1h0M74.2 115.3h0M81.2 158.8h0M192.7 123.1h0M93.9 149.9h0M178.3 108.7h0M74.1 119.7h0M267.6 106.1h0M329.5 150.6h0M129.9 147.8h0M125.1 162.4h0M159.8 123.3h0M83.4 129.8h0M192.2 128.0h0M245.9 138.0h0M168.8 115.0h0M105.9 106.5h0M184.0 123.3h0M238.0 130.5h0M70.9 110.3h0M185.7 113.9h0M331.5 123.1h0M313.8 136.3h0M139.8 140.5h0M246.3 125.9h0M33.2 103.7h0M75.9 148.3h0M158.2 109.8h0M127.2 139.8h0M284.0 148.6h0M231.2 125.7h0M61.4 121.0h0M128.2 116.1h0M68.2 119.1h0M335.8 119.7h0M104.7 155.0h0M173.1 128.4h0M144.3 121.2h0M46.9 136.5h0M154.7 113.4h0M220.1 111.9h0M30.9 142.5h0M235.7 140.1h0M236.6 155.1h0M261.8 161.9h0M295.4 119.0h0M200.6 156.2h0M283.4 110.9h0M264.0 130.9h0M118.6 157.7h0M299.6 140.1h0M295.5 136.8h0M306.6 122.4h0M140.3 144.0h0M37.0 106.7h0M327.5 139.5h0M62.5 147.5h0M139.7 101.9h0M95.5 115.7h0M143.5 161.7h0M72.9 153.3h0M165.3 109.2h0M302.7 157.6h0M186.8 139.1h0M309.7 101.5h0M275.7 112.1h0M129.0 106.1h0M168.2 114.2h0M60.4 106.6h0M200.7 141.7h0M315.2 134.8h0M123.5 105.8h0M44.4 115.3h0M213.9 153.4h0M323.2 104.3h0M246.8 145.1h0M260.3 134.9h0M298.3 116.1h0M331.0 146.7h0M92.1 144.9h0M293.5 161.8h0M90.5 161.5h0M90.3 144.0h0M116.4 130.0h0M126.2 151.0h0M215.1 137.3h0M43.6 104.0h0M162.5 159.7h0M339.2 146.3h0M90.3 148.1h0M267.4 131.8h0M321.0 159.9h0M307.9 147.1h0M261.0 110.9h0M118.2 157.8h0M339.8 144.6h0M67.0 135.9h0M196.3 111.6h0M342.9 121.1h0M239.6 116.5h0M181.9 109.5h0M301.6 111.7h0M269.5 129.4h0M170.1 116.4h0M51.8 162.3h0M149.0 101.8h0M184.9 102.9h0M87.9 120.4h0M127.1 149.3h0M75.2 142.0h0M130.9 151.5h0M88.5 122.8h0M266.7 130.6h0M215.8 149.4h0M105.4 136.4h0M224.9 132.7h0M248.1 135.7h0M83.8 150.5h0M255.4 115.5h0M50.9 118.5h0M259.1 119.6h0M155.6 160.8h0M313.2 150.3h0M289.5 131.6h0M176.8 122.9h0M102.0 104.0h0M200.3 141.3h0M235.2 161.4h0M278.8 156.7h0M266.3 157.5h0M126.1 128.5h0M238.5 160.7h0M242.3 146.5h0M107.1 162.4h0M136.9 152.7h0M115.7 132.9h0M215.1 116.7h0M108.4 153.2h0M307.6 160.9h0M46.5 156.4h0M210.1 116.8h0M316.4 150.0h0M37.4 125.1h0M261.9 120.8h0M238.6 117.2h0M226.1 145.5h0M318.3 125.9h0M302.4 113.8h0M165.6 145.5h0M35.0 143.2h0M122.3 154.2h0M245.8 104.7h0M174.2 144.7h0M64.7 121.7h0M177.3 154.0h0M205.1 109.5h0M338.1 124.7h0M92.9 146.7h0M275.3 108.0h0M289.4 107.6h0M70.3 147.5h0M67.6 156.8h0M238.7 140.3h0M128.7 100.9h0M80.7 137.5h0M232.1 142.7h0M118.3 113.0h0M217.8 109.7h0M328.8 110.2h0M317.6 145.6h0M159.4 142.6h0M296.9 150.6h0M325.6 154.8h0M205.9 148.0h0M190.6 108.0h0M77.9 108.2h0M330.7 154.0h0M340.5 117.6h0M101.3 134.0h0M140.3 142.7h0M306.0 119.3h0M80.6 130.5h0M218.4 100.8h0M47.2 156.7h0M187.0 127.1h0M338.7 110.4h0M186.6 144.0h0M49.9 114.1h0M220.2 102.2h0M304.6 132.8h0M157.2 131.7h0M260.5 120.6h0M207.6 143.7h0M266.1 107.9h0M142.2 122.8h0M277.5 138.5h0M99.7 159.7h0M304.0 114.7h0M231.1 144.5h0M185.4 102.4h0M85.0 121.4h0M87.4 127.4h0M87.8 126.8h0M331.4 159.9h0M86.2 152.4h0M30.9 131.7h0M336.5 104.4h0M45.7 162.1h0M257.6 130.6h0M344.0 123.0h0M60.1 118.4h0M318.7 130.4h0M307.5 158.3h0M64.9 129.8h0M208.9 135.6h0M313.6 110.7h0M85.4 159.1h0M110.0 159.2h0M217.6 102.8h0M70.6 147.6h0M209.4 136.3h0M323.1 145.6h0M87.6 120.1h0M111.9 127.3h0M192.9 101.8h0M295.7 104.4h0M114.5 107.6h0M320.1 130.7h0M51.4 133.8h0M223.1 121.4h0M235.6 112.2h0M208.7 149.5h0M200.9 161.3h0M316.4 150.8h0M323.3 114.5h0M53.1 119.7h0M305.6 154.5h0M344.8 116.8h0M108.6 141.8h0M215.6 111.1h0M167.6 149.3h0M277.0 118.1h0M157.7 143.2h0M294.1 151.9h0M107.9 155.2h0M296.1 102.3h0M75.1 146.6h0M226.8 114.5h0M126.1 123.3h0M280.1 150.4h0M270.8 135.4h0M133.3 119.1h0M264.0 117.1h0M228.0 131.2h0M319.0 148.4h0M68.7 144.4h0M74.7 160.6h0M238.7 135.4h0M85.2 134.3h0M85.6 150.9h0M334.2 139.8h0M198.2 113.6h0M47.2 149.7h0M150.3 157.9h0M268.1 150.7h0M230.8 130.1h0M32.4 120.9h0M60.7 153.4h0M101.4 143.6h0M339.2 101.1h0M45.0 152.9h0M312.8 143.8h0M268.4 156.7h0M314.1 127.2h0M273.0 145.0h0M32.3 156.1h0M193.2 120.1h0M256.3 157.4h0M186.0 158.9h0M326.2 125.7h0M125.5 128.6h0M334.8 101.3h0M44.5 147.5h0M274.8 103.2h0M200.2 100.8h0M270.6 130.9h0M302.4 160.7h0M49.3 157.8h0M204.5 119.1h0M157.2 116.2h0M248.5 152.8h0M320.0 153.1h0M86.9 113.8h0M314.1 112.1h0M292.4 153.1h0M199.5 149.3h0M178.2 137.2h0M140.7 121.3h0M306.1 158.7h0M162.4 147.3h0M42.6 153.9h0M252.9 138.1h0M260.6 153.8h0M204.9 104.5h0M243.1 126.2h0M297.7 105.3h0M205.6 109.2h0M216.1 103.1h0M333.8 126.3h0M79.8 152.4h0M318.0 149.0h0M260.2 141.4h0M275.8 130.9h0M48.8 117.4h0M135.6 110.1h0M113.0 145.1h0M308.3 146.7h0M69.5 104.6h0M286.2 154.5h0M116.9 153.8h0M115.8 143.2h0M302.1 103.2h0M342.8 157.5h0M343.6 139.9h0M83.5 122.0h0M271.8 135.4h0M122.7 162.0h0M205.3 122.3h0M206.7 120.8h0M192.0 118.7h0M327.1 112.8h0M180.7 158.0h0M289.9 161.3h0M125.7 127.6h0M47.0 107.7h0M281.9 112.6h0M42.0 149.7h0M97.7 104.2h0M208.6 104.9h0M132.8 130.1h0M44.9 105.8h0M72.6 133.2h0M120.1 120.5h0M345.5 133.0h0M178.8 134.8h0M315.6 142.9h0M255.3 105.6h0M306.2 142.1h0M267.1 103.9h0M43.0 101.7h0M86.8 122.3h0M190.4 135.8h0M83.2 139.9h0M215.5 139.5h0M201.8 155.2h0M306.0 153.4h0M160.7 103.7h0M31.1 146.2h0M321.1 130.2h0M311.9 125.8h0M251.6 155.2h0M231.3 142.9h0M249.9 160.4h0M229.9 118.3h0M119.0 100.8h0M304.4 119.6h0M205.2 146.8h0M200.4 108.9h0M39.2 143.7h0M247.1 102.0h0M274.6 132.1h0M208.2 123.7h0M260.7 140.4h0M42.8 116.9h0M333.5 124.2h0M340.7 146.7h0M205.1 134.0h0M112.3 106.2h0M126.9 110.0h0M289.5 161.5h0M286.8 141.1h0M330.7 102.3h0M346.3 119.8h0M195.7 118.4h0M224.1 142.9h0M202.3 146.4h0M335.4 110.1h0M231.9 113.5h0M236.3 130.6h0M54.6 107.1h0M227.1 155.8h0M90.0 116.8h0M226.7 141.8h0M286.4 141.1h0M59.4 117.6h0M92.9 131.2h0M227.1 115.7h0M139.7 123.5h0M155.4 123.1h0M229.9 121.5h0M222.4 159.8h0M49.3 138.8h0M284.2 157.4h0M223.5 113.0h0M339.9 143.2h0M156.3 109.6h0M135.7 128.0h0M215.8 106.1h0M124.1 112.9h0M102.4 126.5h0M220.9 120.2h0M132.9 137.0h0M141.0 150.0h0M210.1 143.0h0M154.3 143.9h0M330.5 118.3h0M339.0 125.5h0M286.3 158.7h0M169.3 109.8h0M127.6 101.1h0M66.6 144.4h0M287.6 109.2h0M293.1 115.1h0M320.8 135.3h0M104.6 138.8h0M246.4 114.7h0M194.1 152.8h0M70.0 162.3h0M57.4 111.0h0M166.6 121.4h0M95.3 161.6h0M87.6 113.1h0M233.1 133.2h0M227.9 109.6h0M123.1 114.1h0M290.8 115.5h0M90.3 142.0h0M167.7 103.7h0M163.1 122.8h0M230.4 117.3h0M242.6 121.7h0M147.2 106.6h0M34.8 154.0h0M196.1 121.0h0M108.9 127.7h0M344.8 128.3h0M236.3 118.8h0M117.8 149.1h0M216.5 149.4h0M88.8 107.5h0M272.2 124.0h0M125.3 141.0h0M66.7 105.3h0M48.4 114.4h0M333.0 129.4h0M297.3 152.8h0M214.5 154.4h0M296.3 139.7h0M233.5 133.4h0M58.8 122.7h0M126.5 128.5h0M346.7 127.0h0M215.8 138.6h0M146.2 116.9h0M334.1 108.0h0M165.6 155.4h0M325.4 111.2h0M78.3 119.2h0M66.8 135.0h0M154.7 149.0h0M274.6 119.5h0M154.3 155.9h0M168.9 125.2h0M263.2 141.0h0M343.2 129.6h0M194.9 126.2h0M340.9 121.6h0M167.8 118.1h0M203.5 135.4h0M132.5 119.9h0M85.8 149.7h0M157.3 121.7h0M269.4 133.9h0M33.4 124.8h0M280.8 139.9h0M225.0 121.7h0M338.2 122.3h0M152.5 144.9h0M60.9 123.3h0M273.9 129.4h0M188.6 116.6h0M285.5 140.6h0M89.3 130.3h0M264.5 104.5h0M37.4 161.3h0M181.4 133.0h0M312.1 146.9h0M233.7 105.7h0M321.3 159.4h0M263.1 105.1h0M185.3 132.2h0M65.7 151.2h0M283.2 107.0h0M128.5 151.9h0M236.0 148.4h0M251.6 114.7h0M343.3 108.0h0M222.2 158.7h0M281.4 149.8h0M87.6 123.2h0M225.9 101.0h0M319.5 129.6h0M311.1 152.9h0M70.4 112.7h0M298.2 149.4h0M337.1 131.2h0M279.0 135.7h0M141.9 129.9h0M239.0 136.6h0M44.1 158.6h0M32.1 116.9h0M49.3 113.0h0M336.9 130.0h0M81.4 138.1h0M182.4 129.0h0M107.6 126.1h0M73.8 108.2h0M282.0 128.9h0M49.2 149.5h0M207.8 127.9h0M344.0 154.6h0M118.5 130.7h0M172.2 119.5h0M163.9 161.6h0M53.5 144.5h0M239.4 141.7h0M160.9 141.4h0M215.4 147.2h0M219.6 140.6h0M93.5 133.7h0M150.2 113.2h0M169.7 103.5h0M199.9 161.1h0M242.2 108.6h0M288.7 125.0h0M71.6 134.7h0M155.6 125.6h0M224.7 103.9h0M315.6 148.8h0M312.8 136.7h0M319.3 128.7h0M296.2 145.9h0M233.5 116.4h0M332.1 119.6h0M105.1 140.7h0M53.1 115.4h0M178.8 134.0h0M303.7 152.0h0M329.3 140.3h0M193.9 116.8h0M187.2 144.6h0M346.1 150.3h0M175.3 110.5h0M251.4 149.3h0M208.9 136.4h0M64.6 129.0h0M155.8 102.6h0M48.4 145.3h0M84.6 160.2h0M41.7 149.2h0M112.7 109.8h0M239.6 135.4h0M122.8 139.3h0M205.4 147.1h0M225.1 133.8h0M140.4 160.9h0M308.9 133.9h0M254.6 147.4h0M202.3 103.6h0M268.5 145.8h0M161.8 128.3h0M157.4 149.7h0M221.4 161.4h0M243.6 124.5h0M120.8 159.3h0M317.6 109.1h0M59.5 124.1h0M60.1 156.5h0M113.2 154.3h0M125.1 101.8h0M308.3 126.2h0M32.2 112.1h0M307.0 159.9h0M335.1 138.7h0M272.9 161.8h0M67.0 155.2h0M115.8 120.4h0M221.7 146.1h0M32.8 134.6h0M171.4 151.2h0M174.5 149.2h0M157.3 127.8h0M41.2 136.5h0M223.4 160.0h0M162.6 158.2h0M265.6 145.7h0M162.3 143.5h0M198.5 120.1h0M238.8 158.9h0M211.2 144.8h0M130.4 128.5h0M247.4 109.5h0M235.9 137.1h0M298.0 114.4h0M344.9 116.9h0M163.8 156.1h0M112.8 142.8h0M184.2 125.4h0M109.9 156.5h0M156.4 151.5h0M260.0 108.3h0M113.6 128.5h0M224.6 144.9h0M264.8 109.6h0M263.8 134.1h0M193.7 142.3h0M281.7 129.0h0M86.4 155.0h0M100.0 116.7h0M33.4 106.3h0M86.6 113.4h0M161.9 144.4h0M252.2 110.0h0M186.0 142.9h0M290.8 135.3h0M141.3 132.9h0M343.2 106.1h0M239.5 121.2h0M286.9 115.9h0M246.7 126.2h0M144.7 119.5h0M206.0 102.0h0M319.4 111.9h0M105.0 160.8h0M53.8 132.4h0M203.4 124.6h0M86.8 148.4h0M175.7 149.8h0M79.6 157.5h0M310.7 106.6h0M269.6 104.9h0M278.2 107.9h0M229.1 158.3h0M180.9 158.6h0M136.4 157.8h0M281.7 145.2h0M218.0 140.1h0M186.0 115.5h0M184.3 155.2h0M275.3 138.4h0M32.1 149.7h0M99.8 157.5h0M171.0 136.7h0M130.3 109.3h0M233.3 131.6h0M142.5 136.6h0M326.5 110.5h0M308.8 124.8h0M267.4 137.2h0M176.5 149.2h0M315.1 150.1h0M51.5 134.1h0M292.6 107.6h0M342.9 127.2h0M327.4 157.2h0M204.7 115.5h0M329.8 151.9h0M298.1 161.1h0M195.3 103.4h0M277.1 115.0h0M216.3 103.8h0M89.6 120.9h0M103.3 122.7h0M202.8 121.8h0M108.4 135.3h0M334.6 150.0h0M252.5 109.8h0M88.3 104.5h0M146.4 116.1h0M107.7 117.8h0M75.4 147.1h0M66.2 151.9h0M310.0 142.8h0M252.6 130.1h0M249.6 133.7h0M294.9 156.1h0M117.4 130.6h0M325.6 141.8h0M310.2 157.3h0M281.4 127.8h0M256.5 148.9h0M181.9 138.3h0M310.4 123.5h0M215.8 120.6h0M329.1 101.8h0M292.9 140.2h0M34.6 158.5h0M259.2 144.7h0M198.8 141.5h0M81.4 114.5h0M140.9 127.1h0M305.4 105.3h0M34.1 146.8h0M335.7 115.3h0M314.7 113.5h0M293.1 121.6h0M78.9 124.4h0M345.0 126.4h0M87.0 111.5h0M305.5 148.0h0M294.2 138.1h0M287.3 122.6h0M106.6 149.9h0M197.6 126.3h0M84.5 123.9h0M272.6 147.1h0M270.5 154.0h0M54.3 112.1h0M81.6 110.9h0M59.7 139.7h0M144.5 128.1h0M271.4 112.7h0M148.4 160.0h0M100.5 137.0h0M160.0 105.9h0M52.3 140.9h0M165.2 101.1h0M276.5 113.4h0M156.5 109.9h0M299.7 112.0h0M71.2 129.9h0M341.1 151.7h0M329.6 158.0h0M90.6 113.8h0M323.4 155.6h0M261.3 121.1h0M82.2 139.6h0M193.8 152.8h0M245.2 150.4h0M44.5 133.2h0M127.3 139.8h0M88.6 104.3h0M183.0 120.7h0M33.7 149.1h0M155.4 112.7h0M227.3 141.6h0M325.3 144.9h0M190.6 118.1h0M190.3 136.7h0M273.1 133.9h0M116.5 110.6h0M144.6 139.7h0M53.5 113.4h0M169.9 125.9h0M239.3 120.8h0M212.8 142.1h0M54.7 157.6h0M132.9 156.0h0M108.0 116.2h0M235.3 109.3h0M297.7 140.4h0M189.5 153.4h0M327.3 149.5h0M297.0 105.2h0M301.8 145.2h0M223.4 113.9h0M213.5 125.6h0M34.8 144.4h0M266.0 109.7h0M292.6 154.6h0M320.5 152.8h0M244.1 136.1h0M82.6 136.9h0M280.3 145.6h0M298.9 139.1h0M151.8 139.4h0M223.9 149.2h0M176.5 103.8h0M102.3 155.0h0M172.2 119.7h0M238.7 153.8h0M309.6 153.0h0M34.5 133.8h0M236.1 112.9h0M152.4 141.7h0M206.3 159.0h0M178.2 119.5h0M280.5 124.3h0M316.2 130.5h0M339.7 161.7h0M284.1 132.8h0M76.5 127.4h0M91.3 115.7h0M147.3 131.8h0M307.1 120.2h0M135.8 142.6h0M119.2 137.8h0M85.4 129.7h0M34.1 109.5h0M102.9 113.3h0M226.2 156.4h0M210.9 157.9h0M276.6 136.2h0M342.1 136.9h0M186.5 131.7h0M123.4 108.0h0M282.5 146.2h0M320.5 127.8h0M289.3 140.3h0M209.8 114.4h0M123.7 128.0h0M249.3 148.5h0M242.7 155.1h0M318.5 141.4h0M106.3 152.9h0M227.8 159.1h0M297.3 146.3h0M189.5 151.0h0M288.1 153.9h0M239.8 152.3h0M215.4 139.7h0M117.7 123.6h0M289.0 134.5h0M165.1 108.1h0M260.2 111.2h0M252.0 116.6h0M79.8 132.2h0M53.7 162.1h0M100.4 162.3h0M130.3 158.4h0M216.8 143.7h0M148.1 129.5h0M146.8 131.7h0M56.7 125.8h0M193.9 155.6h0M304.0 106.7h0M66.7 113.1h0M298.6 152.3h0M206.1 132.3h0M121.9 161.0h0M83.1 118.7h0M46.2 119.8h0M105.3 145.0h0M53.2 125.1h0M56.3 143.1h0M35.5 153.0h0M56.4 132.7h0M291.8 102.6h0M60.5 122.7h0M329.1 133.0h0M103.2 143.6h0M222.2 146.0h0M51.4 109.6h0M246.9 122.3h0M235.0 101.1h0M306.5 120.1h0M61.4 157.7h0M346.7 108.1h0M304.2 160.8h0M297.7 144.6h0M143.1 160.0h0M31.8 138.0h0M250.3 142.3h0M281.6 103.2h0M257.6 109.4h0M120.2 141.9h0M81.5 133.3h0M49.6 156.7h0M125.7 116.0h0M324.0 105.5h0M42.7 125.9h0M94.9 151.9h0M336.6 121.1h0M183.7 122.0h0M99.4 105.9h0M74.0 161.0h0M66.2 116.4h0M305.5 133.1h0M344.3 132.7h0M183.1 126.7h0M231.5 142.2h0M133.6 110.7h0M147.9 119.1h0M194.3 112.5h0M281.2 117.2h0M303.3 153.1h0M155.4 117.3h0M311.2 102.8h0M292.2 141.7h0M186.5 132.7h0M230.9 153.6h0M172.1 108.3h0M138.1 146.5h0M202.3 139.0h0M101.1 117.4h0M149.9 102.8h0M198.3 158.8h0M45.8 102.0h0M132.1 150.9h0M51.6 133.5h0M300.8 160.2h0M124.2 122.6h0M204.1 142.7h0M35.9 136.2h0M128.4 102.6h0M63.0 143.7h0M177.2 154.7h0M236.6 101.3h0M184.9 101.9h0M72.4 112.6h0M295.0 149.0h0M37.1 122.1h0M151.2 141.4h0M331.3 132.7h0M193.2 154.8h0M65.0 159.6h0M122.8 153.4h0M231.0 105.7h0M208.4 103.8h0M327.2 155.3h0M69.7 134.2h0M235.4 149.7h0M230.5 113.5h0M325.8 105.0h0M113.1 113.6h0M156.8 119.9h0M147.4 133.3h0M322.5 135.4h0M97.8 159.8h0M191.8 145.4h0M107.4 103.2h0M107.0 122.0h0M277.2 100.9h0M282.3 157.4h0M91.0 160.4h0M328.1 150.9h0M73.6 156.9h0M165.5 124.8h0M279.7 115.2h0M327.4 123.3h0M176.9 143.6h0M152.9 139.1h0M262.3 140.2h0M223.3 144.5h0M332.7 155.9h0M206.5 117.6h0M257.5 145.4h0M228.3 121.2h0M171.8 124.6h0M235.1 141.4h0M47.4 136.5h0M120.9 159.0h0M187.9 118.8h0M252.2 143.9h0M182.6 135.3h0M33.6 107.5h0M94.8 108.2h0M233.8 138.2h0M337.5 107.7h0M40.5 152.3h0" stroke="#cdcdcd" stroke-width="1.6" stroke-linecap="round" opacity="0.88" filter="url(#soft)"/>
<text x="32.2" y="49" font-size="13" fill="#fff" textLength="34" lengthAdjust="spacingAndGlyphs" stroke="#fff" stroke-width="0.35">0 min</text>
<text x="32.8" y="114.1" font-size="13" fill="#fff" textLength="48" lengthAdjust="spacingAndGlyphs" stroke="#fff" stroke-width="0.35">180 min</text>
<text x="297" y="152.5" font-size="13" fill="#fff" textLength="45" lengthAdjust="spacingAndGlyphs" stroke="#fff" stroke-width="0.35">500 μm</text>
<rect x="311" y="156.3" width="31.6" height="2.6" fill="#fff" stroke="none" stroke-width="1" />
<rect x="29.3" y="166.2" width="318.2" height="63.1" fill="none" stroke="#444" stroke-width="1" />
<line x1="93" y1="166.2" x2="93" y2="229.3" stroke="#222" stroke-width="1.3" />
<line x1="156.6" y1="166.2" x2="156.6" y2="229.3" stroke="#222" stroke-width="1.3" />
<line x1="220.2" y1="166.2" x2="220.2" y2="229.3" stroke="#222" stroke-width="1.3" />
<line x1="283.8" y1="166.2" x2="283.8" y2="229.3" stroke="#222" stroke-width="1.3" />
<line x1="39.92" y1="166.2" x2="39.92" y2="168.2" stroke="#444" stroke-width="0.8" />
<line x1="39.92" y1="229.3" x2="39.92" y2="227.3" stroke="#444" stroke-width="0.8" />
<line x1="50.53" y1="166.2" x2="50.53" y2="168.2" stroke="#444" stroke-width="0.8" />
<line x1="50.53" y1="229.3" x2="50.53" y2="227.3" stroke="#444" stroke-width="0.8" />
<line x1="61.15" y1="166.2" x2="61.15" y2="168.2" stroke="#444" stroke-width="0.8" />
<line x1="61.15" y1="229.3" x2="61.15" y2="227.3" stroke="#444" stroke-width="0.8" />
<line x1="71.77" y1="166.2" x2="71.77" y2="168.2" stroke="#444" stroke-width="0.8" />
<line x1="71.77" y1="229.3" x2="71.77" y2="227.3" stroke="#444" stroke-width="0.8" />
<line x1="82.38" y1="166.2" x2="82.38" y2="168.2" stroke="#444" stroke-width="0.8" />
<line x1="82.38" y1="229.3" x2="82.38" y2="227.3" stroke="#444" stroke-width="0.8" />
<line x1="103.6" y1="166.2" x2="103.6" y2="168.2" stroke="#444" stroke-width="0.8" />
<line x1="103.6" y1="229.3" x2="103.6" y2="227.3" stroke="#444" stroke-width="0.8" />
<line x1="114.2" y1="166.2" x2="114.2" y2="168.2" stroke="#444" stroke-width="0.8" />
<line x1="114.2" y1="229.3" x2="114.2" y2="227.3" stroke="#444" stroke-width="0.8" />
<line x1="124.8" y1="166.2" x2="124.8" y2="168.2" stroke="#444" stroke-width="0.8" />
<line x1="124.8" y1="229.3" x2="124.8" y2="227.3" stroke="#444" stroke-width="0.8" />
<line x1="135.4" y1="166.2" x2="135.4" y2="168.2" stroke="#444" stroke-width="0.8" />
<line x1="135.4" y1="229.3" x2="135.4" y2="227.3" stroke="#444" stroke-width="0.8" />
<line x1="146" y1="166.2" x2="146" y2="168.2" stroke="#444" stroke-width="0.8" />
<line x1="146" y1="229.3" x2="146" y2="227.3" stroke="#444" stroke-width="0.8" />
<line x1="167.2" y1="166.2" x2="167.2" y2="168.2" stroke="#444" stroke-width="0.8" />
<line x1="167.2" y1="229.3" x2="167.2" y2="227.3" stroke="#444" stroke-width="0.8" />
<line x1="177.8" y1="166.2" x2="177.8" y2="168.2" stroke="#444" stroke-width="0.8" />
<line x1="177.8" y1="229.3" x2="177.8" y2="227.3" stroke="#444" stroke-width="0.8" />
<line x1="188.4" y1="166.2" x2="188.4" y2="168.2" stroke="#444" stroke-width="0.8" />
<line x1="188.4" y1="229.3" x2="188.4" y2="227.3" stroke="#444" stroke-width="0.8" />
<line x1="199" y1="166.2" x2="199" y2="168.2" stroke="#444" stroke-width="0.8" />
<line x1="199" y1="229.3" x2="199" y2="227.3" stroke="#444" stroke-width="0.8" />
<line x1="209.6" y1="166.2" x2="209.6" y2="168.2" stroke="#444" stroke-width="0.8" />
<line x1="209.6" y1="229.3" x2="209.6" y2="227.3" stroke="#444" stroke-width="0.8" />
<line x1="230.8" y1="166.2" x2="230.8" y2="168.2" stroke="#444" stroke-width="0.8" />
<line x1="230.8" y1="229.3" x2="230.8" y2="227.3" stroke="#444" stroke-width="0.8" />
<line x1="241.4" y1="166.2" x2="241.4" y2="168.2" stroke="#444" stroke-width="0.8" />
<line x1="241.4" y1="229.3" x2="241.4" y2="227.3" stroke="#444" stroke-width="0.8" />
<line x1="252" y1="166.2" x2="252" y2="168.2" stroke="#444" stroke-width="0.8" />
<line x1="252" y1="229.3" x2="252" y2="227.3" stroke="#444" stroke-width="0.8" />
<line x1="262.6" y1="166.2" x2="262.6" y2="168.2" stroke="#444" stroke-width="0.8" />
<line x1="262.6" y1="229.3" x2="262.6" y2="227.3" stroke="#444" stroke-width="0.8" />
<line x1="273.2" y1="166.2" x2="273.2" y2="168.2" stroke="#444" stroke-width="0.8" />
<line x1="273.2" y1="229.3" x2="273.2" y2="227.3" stroke="#444" stroke-width="0.8" />
<line x1="294.42" y1="166.2" x2="294.42" y2="168.2" stroke="#444" stroke-width="0.8" />
<line x1="294.42" y1="229.3" x2="294.42" y2="227.3" stroke="#444" stroke-width="0.8" />
<line x1="305.03" y1="166.2" x2="305.03" y2="168.2" stroke="#444" stroke-width="0.8" />
<line x1="305.03" y1="229.3" x2="305.03" y2="227.3" stroke="#444" stroke-width="0.8" />
<line x1="315.65" y1="166.2" x2="315.65" y2="168.2" stroke="#444" stroke-width="0.8" />
<line x1="315.65" y1="229.3" x2="315.65" y2="227.3" stroke="#444" stroke-width="0.8" />
<line x1="326.27" y1="166.2" x2="326.27" y2="168.2" stroke="#444" stroke-width="0.8" />
<line x1="326.27" y1="229.3" x2="326.27" y2="227.3" stroke="#444" stroke-width="0.8" />
<line x1="336.88" y1="166.2" x2="336.88" y2="168.2" stroke="#444" stroke-width="0.8" />
<line x1="336.88" y1="229.3" x2="336.88" y2="227.3" stroke="#444" stroke-width="0.8" />
<line x1="29.3" y1="176.72" x2="31.3" y2="176.72" stroke="#444" stroke-width="0.8" />
<line x1="347.5" y1="176.72" x2="345.5" y2="176.72" stroke="#444" stroke-width="0.8" />
<line x1="29.3" y1="187.23" x2="31.3" y2="187.23" stroke="#444" stroke-width="0.8" />
<line x1="347.5" y1="187.23" x2="345.5" y2="187.23" stroke="#444" stroke-width="0.8" />
<line x1="29.3" y1="197.75" x2="31.3" y2="197.75" stroke="#444" stroke-width="0.8" />
<line x1="347.5" y1="197.75" x2="345.5" y2="197.75" stroke="#444" stroke-width="0.8" />
<line x1="29.3" y1="208.27" x2="31.3" y2="208.27" stroke="#444" stroke-width="0.8" />
<line x1="347.5" y1="208.27" x2="345.5" y2="208.27" stroke="#444" stroke-width="0.8" />
<line x1="29.3" y1="218.78" x2="31.3" y2="218.78" stroke="#444" stroke-width="0.8" />
<line x1="347.5" y1="218.78" x2="345.5" y2="218.78" stroke="#444" stroke-width="0.8" />
<text x="33.3" y="181.2" font-size="12.5" fill="#000" stroke="#000" stroke-width="0.15" textLength="15.3" lengthAdjust="spacingAndGlyphs" >A1</text>
<text x="97" y="181.2" font-size="12.5" fill="#000" stroke="#000" stroke-width="0.15" textLength="15.3" lengthAdjust="spacingAndGlyphs" >A2</text>
<text x="160.6" y="181.2" font-size="12.5" fill="#000" stroke="#000" stroke-width="0.15" textLength="15.3" lengthAdjust="spacingAndGlyphs" >A3</text>
<text x="224.2" y="181.2" font-size="12.5" fill="#000" stroke="#000" stroke-width="0.15" textLength="15.3" lengthAdjust="spacingAndGlyphs" >A4</text>
<text x="287.8" y="181.2" font-size="12.5" fill="#000" stroke="#000" stroke-width="0.15" textLength="15.3" lengthAdjust="spacingAndGlyphs" >A5</text>
<path d="M63.9 202.3L63.7 200.5L61.3 200.4L59.2 197.4L59.7 197.7L60.7 196.0L60.7 196.0L57.7 197.2L58.5 201.9L59.0 201.3L61.5 201.4L63.1 200.4L63.3 202.2L64.4 202.1L61.9 202.7M60.2 200.2L60.6 202.1L60.5 202.2L61.7 199.7L60.8 198.6L64.6 198.4L65.5 199.6L64.5 196.4L66.0 195.8L66.9 193.4L65.5 196.2L67.8 193.8L64.6 194.1L65.7 194.7L65.8 193.1M61.8 201.4L60.8 198.3L59.2 199.8L56.0 199.4L54.4 199.1L54.3 199.0L57.7 199.7L60.5 199.3L59.5 200.0L54.1 199.7L54.8 197.2L56.2 196.2L51.7 195.9L50.5 195.1L50.9 197.7M60.3 197.9L61.0 194.4L63.3 192.6L63.9 190.9L61.7 190.7L65.3 192.6L63.7 192.5L61.1 192.9L59.9 194.7L57.3 194.3L55.9 193.2L57.6 193.8L58.9 196.5L61.2 193.9L62.2 190.9M59.8 203.8L59.4 202.6L59.8 202.3L59.9 200.4L62.0 202.0L61.4 202.3L62.6 203.9L63.1 204.8L62.4 202.2L61.2 203.8L63.0 203.6L61.7 203.8L64.8 205.9L63.1 205.2L60.0 202.4M60.6 198.1L62.4 200.5L63.8 202.9L62.4 200.3L63.2 205.3L63.6 202.5L63.8 204.9L61.5 205.9L60.2 207.7L61.7 207.5L65.4 206.0L63.7 208.9L61.7 212.3L61.5 209.1L61.4 208.5M60.6 197.4L62.6 193.0L61.4 192.9L64.8 189.4L63.7 187.9L62.1 190.0L62.8 193.4L61.4 194.3L63.5 196.3L62.6 198.6L60.6 202.1L60.9 201.5L61.3 202.9L64.6 202.2L63.5 203.0M57.4 192.9L59.2 192.6L61.4 191.0L55.7 192.1L56.4 195.7L57.7 196.5L59.0 195.9L59.2 193.5L60.3 192.3L59.4 194.1L61.2 192.4L65.0 191.7L66.2 194.1L66.1 194.7L69.1 196.7M61.3 192.5L59.8 195.2L60.2 193.6L58.9 193.4L60.3 194.5L62.2 193.2L64.0 192.6L63.1 196.4L63.0 196.2L62.3 195.6L65.1 198.5L66.1 198.8L67.6 198.6L67.9 199.3L67.4 202.4M65.3 202.0L61.1 205.2L62.4 203.8L62.2 205.5L64.3 206.5L64.2 205.9L65.5 205.1L63.3 203.3L62.8 203.6L66.9 200.5L67.3 200.1L67.3 202.5L69.1 201.9L67.3 198.9L66.6 201.3M59.2 200.1L60.6 200.7L62.7 200.3L60.9 197.8L62.6 197.1L61.8 198.8L60.1 202.2L61.4 200.8L60.1 202.7L57.8 201.1L58.0 201.2L58.1 201.7L57.6 201.2L60.2 202.2L59.3 205.2M54.0 198.3L55.8 200.1L56.3 199.2L57.8 198.7L58.9 193.2L59.7 192.0L61.5 193.9L62.8 193.5L63.4 193.2L63.6 193.3L61.6 197.5L62.9 193.6L64.4 191.2L63.6 190.6L62.3 191.7M59.0 193.7L59.1 194.7L62.6 194.2L60.1 193.7L61.3 192.4L59.8 193.9L59.8 194.7L58.6 193.3L58.1 193.4L57.6 194.6L58.9 195.9L59.9 194.4L57.7 196.2L57.9 196.6L55.9 196.3M58.1 195.4L57.0 192.7L57.4 195.4L56.3 195.8L54.5 197.3L58.5 194.9L58.2 197.9L59.0 198.2L55.2 197.9L57.3 200.6L58.8 199.3L57.5 195.7L55.7 198.0L55.8 195.5L58.7 192.4M63.8 197.0L64.1 198.4L64.3 200.8L64.0 200.0L62.4 197.0L60.9 199.0L62.4 201.6L67.5 202.7L67.8 199.8L66.7 203.9L67.2 203.2L67.2 199.1L65.1 196.5L60.5 198.1L62.3 197.7M61.0 195.0L61.8 196.7L64.6 199.8L65.2 199.4L63.2 198.1L64.1 199.2L63.8 202.3L64.8 202.0L64.0 201.9L61.9 199.6L62.4 198.4L61.7 200.7L61.2 203.0L61.1 205.6L61.9 201.6M63.7 197.4L59.6 197.6L60.0 195.2L58.8 196.5L61.6 198.8L63.8 200.9L58.7 199.3L59.2 194.0L60.8 196.0L59.2 195.4L57.4 195.6L57.6 195.8L55.8 196.7L55.5 198.6L56.4 195.7M55.7 198.2L55.1 199.1L57.0 199.1L54.0 196.7L55.6 194.7L58.1 194.8L59.2 193.4L59.1 188.0L58.8 189.9L57.1 188.9L57.3 189.8L55.9 191.8L53.1 194.4L50.9 193.1L54.2 191.6M55.0 198.2L53.7 196.1L52.8 194.8L51.5 193.0L55.3 192.1L57.6 189.9L58.8 188.1L58.0 190.1L57.1 187.0L56.3 187.6L57.7 186.5L57.3 187.5L54.3 188.1L53.2 189.8L53.5 190.1M52.8 197.7L52.6 195.9L52.2 193.6L53.2 195.2L54.9 194.4L58.5 196.4L56.8 196.2L53.9 196.2L55.8 198.8L55.3 195.2L55.4 198.1L56.0 200.5L57.9 203.4L59.3 201.6L60.2 206.3M58.4 192.4L62.6 193.7L61.2 192.8L58.1 194.6L58.6 193.7L57.9 193.2L60.1 193.2L62.8 192.0L61.4 191.5L60.2 191.9L62.2 194.7L59.9 197.4L60.1 200.5L59.8 198.7L61.3 199.9M58.6 198.1L59.0 198.7L55.8 196.3L56.2 196.9L55.5 193.6L58.4 193.4L56.6 196.8L59.0 198.9L60.7 199.9L58.8 199.8L59.6 200.9L60.5 198.7L59.3 198.0L59.0 196.3L55.5 194.1M60.9 198.0L62.0 194.3L61.0 196.3L57.1 194.4L54.1 197.0L54.7 196.0L55.4 196.0L57.5 198.4L59.5 199.0L61.0 200.5L63.2 196.8L63.6 197.0L63.6 196.6L63.2 197.7L63.3 197.9M56.8 194.2L55.6 191.1L54.9 190.0L51.9 186.9L51.6 186.7L56.5 189.2L55.3 189.0L53.7 188.2L53.5 188.9L52.8 191.2L54.6 195.5L52.5 197.0L52.4 194.0L52.4 191.1L53.0 197.0M63.9 203.5L65.9 200.0L66.2 200.1L66.6 198.0L62.2 202.0L64.3 202.3L63.0 202.3L60.4 203.8L60.7 203.1L59.8 202.5L60.1 201.4L61.9 201.5L61.6 199.6L63.8 202.0L64.8 198.1M59.0 201.0L59.1 203.2L58.3 204.3L59.5 199.1L58.7 198.5L57.6 196.8L60.9 196.6L62.3 194.2L58.1 193.6L59.1 192.5L60.2 194.5L59.3 194.7L57.9 197.0L61.5 198.1L60.4 196.7M59.2 200.7L57.8 203.3L55.6 202.9L58.5 205.9L57.8 206.8L62.9 208.4L58.4 208.1L63.1 205.0L64.6 200.4L67.3 198.6L68.3 200.3L62.3 197.4L62.7 194.5L62.5 192.9L64.9 192.4M57.3 199.9L59.8 199.5L60.4 200.3L59.4 197.8L60.5 197.2L57.8 198.9L58.8 199.1L57.5 198.6L58.8 199.5L57.3 197.6L58.2 198.0L60.0 195.7L61.8 199.3L63.5 199.5L64.9 196.9M58.7 204.2L55.6 201.4L57.6 199.9L56.7 197.6L60.2 196.4L59.6 193.1L61.1 193.4L62.0 196.9L62.2 194.6L60.0 195.1L62.6 193.0L61.9 193.1L63.0 191.8L63.4 193.8L63.0 193.9M61.9 199.7L64.1 197.5L66.2 197.1L63.5 196.1L60.8 195.9L62.8 191.7L60.3 193.7L59.7 195.6L57.1 195.7L52.3 194.2L54.4 196.9L58.0 196.8L56.4 196.2L53.0 199.0L55.8 197.1M65.5 193.9L66.1 192.7L62.3 193.9L59.9 196.5L58.1 196.8L57.4 197.2L56.4 198.9L57.8 198.9L57.8 202.7L56.6 201.4L58.4 201.1L55.3 200.6L55.0 198.5L55.7 196.2L55.6 194.2M64.7 197.2L65.2 197.8L66.1 197.5L67.1 197.8L61.8 198.4L59.2 200.2L59.6 199.3L54.8 195.1L52.9 194.6L50.8 198.7L52.5 198.5L51.2 197.8L51.4 196.9L51.9 198.6L49.2 199.0M63.3 193.9L62.7 193.5L60.3 195.7L59.6 198.1L60.4 197.5L60.9 196.8L57.7 199.7L58.6 201.8L55.2 203.5L57.2 203.0L53.3 202.8L52.6 202.0L53.3 200.0L53.5 199.8L56.9 199.5M67.1 194.5L66.2 197.1L62.7 198.4L63.2 197.2L62.5 200.3L61.4 200.6L62.2 202.7L58.0 199.5L55.6 198.8L57.1 200.4L56.8 203.1L56.9 204.0L55.7 205.2L54.6 206.8L56.7 209.7M58.7 194.5L60.4 195.4L59.4 193.0L61.0 189.7L60.0 192.4L59.5 193.7L60.5 195.2L62.5 196.7L61.6 194.4L60.9 193.4L61.6 196.2L63.0 195.0L63.1 195.2L62.0 198.0L63.0 198.7M56.3 190.1L55.2 193.0L55.2 193.3L55.1 194.6L55.4 198.2L55.6 197.7L58.7 199.1L60.1 200.1L60.0 200.5L61.1 200.5L57.3 203.0L56.6 201.5L56.2 199.8L54.8 199.5L57.0 198.8M61.4 193.9L62.8 192.1L63.9 191.1L62.4 189.2L59.8 189.5L57.9 189.8L60.3 188.8L59.6 189.3L58.5 190.0L59.0 192.6L57.7 192.6L57.6 195.4L55.8 195.9L57.7 197.2L56.5 195.3M54.4 196.4L54.4 193.6L56.5 194.3L56.3 193.6L57.5 193.4L58.7 192.8L60.8 190.1L58.7 194.2L60.8 197.7L59.2 199.1L61.2 200.8L60.8 203.4L61.5 200.5L66.1 200.5L68.1 199.0M57.2 200.6L59.0 199.0L59.6 196.4L55.6 198.6L53.8 200.0L56.3 200.5L59.5 201.0L60.2 200.8L61.0 201.3L59.1 200.9L58.4 206.2L60.9 204.0L62.0 200.1L61.9 203.5L61.9 205.5M58.9 199.4L59.7 195.0L58.2 198.9L56.7 201.2L60.3 200.8L62.2 201.3L60.9 202.2L61.7 199.9L60.7 197.2L60.0 197.2L58.1 193.6L59.5 196.4L57.8 196.7L56.7 191.7L61.0 192.8M55.8 201.8L57.5 204.2L59.1 204.8L62.0 203.7L62.3 201.1L59.9 201.3L60.3 198.0L61.0 199.9L58.5 199.1L62.0 197.4L62.9 198.9L63.0 199.2L63.9 199.6L63.8 196.6L64.0 195.2M64.5 204.7L66.3 200.0L67.7 200.0L65.0 197.5L66.6 196.3L66.0 196.6L67.3 191.5L69.1 190.5L67.6 192.3L67.7 188.3L68.2 188.7L65.6 188.3L62.0 190.6L64.7 190.0L63.4 187.8M57.9 194.9L58.1 198.5L60.3 200.4L58.4 201.8L57.1 199.8L58.8 199.5L63.7 199.7L62.8 201.0L60.3 202.1L63.3 201.5L62.1 203.4L59.7 203.7L58.7 203.8L57.3 204.5L58.6 207.4M58.9 199.3L55.6 197.7L56.5 195.1L56.5 193.6L57.7 195.1L57.0 196.6L56.2 196.9L57.5 198.1L58.8 201.4L57.7 200.8L54.3 202.3L52.6 200.8L52.2 201.3L52.3 200.5L53.1 199.7M59.9 195.1L58.9 192.9L60.6 195.1L61.9 196.0L60.5 197.2L57.5 192.4L55.4 195.8L56.2 198.9L55.2 200.8L58.6 202.5L59.3 204.2L58.5 207.1L56.4 204.9L56.7 202.9L60.3 203.8M57.8 203.0L60.6 201.9L63.6 203.9L62.3 202.3L62.7 204.2L65.5 206.6L64.2 202.5L60.6 205.0L62.6 206.8L62.4 206.2L63.1 206.5L63.0 203.9L60.1 203.7L59.8 206.0L57.8 201.5M54.1 197.9L57.8 197.2L56.6 198.0L59.9 200.1L61.6 201.8L60.9 201.6L61.6 204.8L57.2 203.2L58.2 202.3L58.1 201.5L56.4 202.2L59.2 201.2L60.1 203.0L58.8 202.5L56.4 205.2M65.2 197.4L68.6 199.1L64.4 200.0L64.5 200.8L65.5 199.7L67.2 200.2L70.3 199.8L64.6 203.3L65.3 199.3L63.7 197.7L65.3 196.5L67.1 195.6L68.4 194.7L65.4 196.1L64.5 197.2M55.0 194.9L54.8 198.9L56.0 195.6L50.2 199.4L51.6 196.8L54.2 198.6L58.8 198.9L58.0 200.4L55.5 199.4L53.9 198.2L51.9 195.3L50.4 196.3L51.3 196.3L52.9 197.9L54.4 201.9M60.9 199.2L59.8 201.2L62.6 195.2L64.0 193.3L64.4 193.8L61.6 191.5L60.9 197.1L58.5 196.4L58.0 196.0L60.4 200.2L60.2 200.8L59.6 203.6L59.5 204.5L59.2 206.1L59.1 203.9M65.7 192.2L65.6 191.9L63.4 196.5L63.8 195.8L61.8 196.6L61.6 196.3L60.2 199.3L60.6 198.9L58.1 197.3L59.7 195.9L61.0 195.9L61.7 196.7L60.7 196.3L60.5 197.7L65.1 199.4M56.1 204.7L56.2 202.8L56.7 202.3L57.5 201.9L57.6 204.0L61.1 203.7L64.1 205.1L66.0 205.0L66.0 206.0L63.6 205.5L61.2 206.7L61.5 207.1L60.7 204.9L62.5 203.5L61.9 203.1M61.4 198.2L59.3 196.1L61.3 195.7L60.7 194.2L62.5 195.4L61.2 192.3L64.6 191.6L62.0 191.2L59.6 191.7L58.6 189.9L60.0 188.9L56.4 190.3L55.7 188.8L52.8 188.2L52.2 188.0M58.5 201.8L60.7 202.1L61.7 200.9L58.8 201.7L61.5 200.0L60.1 198.5L57.5 199.6L55.6 202.1L59.2 201.9L59.2 200.0L61.0 200.0L58.0 198.0L59.1 197.0L60.0 197.6L62.8 197.4M63.2 201.3L65.5 200.4L65.6 205.1L64.8 203.4L64.6 200.7L62.6 199.6L61.8 201.4L59.6 200.8L60.1 200.0L61.5 204.2L59.3 202.0L58.4 200.6L57.5 201.2L61.0 205.7L60.8 201.2M64.7 198.0L63.5 200.2L63.0 199.6L61.1 201.2L62.6 199.3L61.3 201.6L59.8 200.5L58.4 199.8L60.2 199.8L62.1 200.8L58.0 200.6L58.1 197.2L59.8 197.1L58.8 198.2L60.8 199.6M58.4 197.9L63.3 195.4L63.2 195.7L65.8 197.0L65.8 196.5L67.7 196.8L66.9 197.2L67.7 197.4L67.6 198.9L65.6 198.4L65.3 199.7L65.9 198.6L63.4 197.9L62.2 199.6L63.3 199.6M56.8 194.1L57.3 195.6L58.2 195.3L59.5 191.7L61.7 195.1L61.9 195.8L61.4 197.7L59.5 196.6L60.3 194.0L61.2 195.2L61.1 194.4L64.4 193.7L64.3 195.6L64.0 197.8L63.7 198.3M60.0 200.0L58.7 201.5L60.8 199.2L57.9 196.6L56.5 198.0L56.9 201.7L60.2 198.4L59.4 197.8L62.6 199.3L64.2 197.6L67.8 195.5L67.2 193.9L64.9 194.7L62.8 196.3L63.5 196.5M61.9 201.4L63.9 198.9L64.8 200.6L63.7 199.6L65.7 200.8L65.5 203.3L66.9 206.2L65.6 207.5L61.3 205.5L64.4 203.0L63.8 201.9L64.4 203.8L67.2 203.1L67.2 204.4L68.9 203.3M64.1 193.7L64.3 191.4L63.0 190.4L66.2 194.2L67.2 194.8L62.9 191.8L63.0 193.7L63.8 192.6L62.0 194.1L66.2 195.8L65.6 195.8L66.0 196.6L62.8 199.7L63.4 200.6L62.3 202.5M63.0 195.8L64.8 194.6L60.8 196.5L58.9 195.6L57.1 195.6L56.7 196.1L57.8 199.4L58.9 200.3L59.9 201.7L61.7 201.9L59.3 199.8L59.9 199.0L59.1 197.9L57.8 200.1L59.5 197.4M60.6 197.9L59.6 200.0L60.3 200.0L58.6 201.6L59.2 201.9L57.9 204.5L52.1 201.3L49.5 198.5L48.4 197.5L48.7 197.9L52.2 199.0L53.1 198.6L54.3 200.1L53.4 203.4L53.9 204.6M52.7 198.6L52.5 201.2L55.0 201.5L56.7 200.6L55.2 202.6L53.2 201.3L51.5 199.2L51.4 200.7L50.2 201.9L47.4 200.0L46.8 201.1L50.4 196.4L51.3 199.6L52.0 202.7L54.9 202.9M55.8 196.0L59.1 194.5L57.1 193.9L59.8 194.4L56.8 193.5L58.4 196.1L61.5 197.2L62.3 195.4L61.0 193.0L60.6 194.2L60.7 192.7L61.7 194.9L64.0 190.9L59.0 189.4L60.1 192.1M62.2 198.1L62.5 197.6L61.0 195.8L67.0 195.5L67.5 196.7L68.7 196.7L69.8 200.7L67.8 199.4L65.2 198.6L62.4 199.2L63.5 201.4L65.7 200.4L65.6 198.7L65.3 198.8L65.9 198.6M56.8 201.0L56.8 198.1L53.8 199.4L50.8 200.6L54.5 201.4L56.5 202.2L55.6 202.3L52.4 203.2L54.2 203.0L56.8 202.3L53.8 204.7L54.4 203.0L53.9 201.9L54.8 199.1L55.4 198.4M61.9 197.1L63.0 195.4L63.5 195.1L65.2 196.0L66.8 195.3L65.1 195.4L62.7 195.1L64.9 193.3L63.4 193.8L66.3 198.2L64.7 197.3L64.8 196.1L60.7 197.4L61.3 198.0L62.3 198.4M58.1 199.9L58.2 200.0L56.3 200.1L56.5 198.2L55.3 197.4L55.7 196.3L53.9 196.5L52.1 197.3L51.1 197.0L53.9 192.8L51.9 192.2L52.2 191.0L51.1 190.4L49.9 191.2L49.3 191.4M60.1 200.0L58.9 199.0L59.8 194.8L59.9 193.4L61.6 193.1L59.8 195.5L58.7 194.0L59.7 190.6L59.4 192.6L57.1 194.8L56.7 194.0L53.8 197.0L56.8 196.4L57.8 192.9L58.1 194.0" fill="none" stroke="#000" stroke-width="0.3"/>
<ellipse cx="60" cy="198" rx="5.2" ry="5.2" fill="#000"/>
<path d="M131.5 195.5L131.6 195.9L132.5 193.6L131.2 192.6L128.8 191.5L127.5 191.5L125.7 192.7L124.6 187.5L126.7 187.6L125.2 188.9L125.6 189.7L124.0 190.6L121.3 193.7L119.4 193.6L119.8 194.3M123.8 198.9L117.5 198.4L117.5 197.4L120.5 195.4L120.5 191.8L121.0 189.2L118.3 193.8L119.8 193.8L120.3 191.3L118.5 192.4L115.0 193.0L112.5 193.4L111.3 196.6L113.9 195.5L111.2 194.0M123.9 194.1L124.3 195.9L123.9 195.0L125.1 194.5L126.4 193.9L128.9 193.5L126.4 193.7L124.9 192.1L124.4 193.7L120.4 193.7L120.2 193.5L121.7 191.3L122.9 191.1L123.0 191.0L122.3 190.4M125.4 203.6L127.0 204.4L127.6 202.8L128.2 205.9L125.5 206.5L127.0 206.1L128.0 207.7L131.5 209.1L133.8 208.6L134.4 207.9L134.0 206.1L134.3 207.9L133.1 207.4L133.4 206.5L134.3 206.2M120.8 194.2L122.3 195.5L124.3 196.0L124.6 193.3L127.0 192.0L128.6 190.3L127.0 191.1L126.0 190.3L127.4 192.0L127.8 191.8L126.1 191.4L125.0 191.8L126.2 191.9L124.7 191.2L126.9 192.0M125.2 198.3L126.1 198.4L128.0 199.8L122.7 199.3L128.1 196.9L128.0 198.9L127.7 201.1L125.2 198.6L124.8 197.2L122.9 198.2L123.5 198.2L122.9 198.6L122.8 197.2L123.8 197.9L124.0 199.1M121.2 197.1L120.5 199.4L121.7 203.0L124.7 201.9L122.8 202.4L122.4 201.7L120.7 202.4L121.4 202.7L122.1 200.7L118.4 200.0L117.8 198.9L120.0 198.6L123.0 198.8L124.3 199.6L125.8 197.2M127.8 197.8L125.8 198.9L126.3 201.0L127.4 201.4L124.3 204.0L127.0 204.8L127.6 206.4L125.8 206.9L125.7 204.4L126.3 204.4L129.1 205.5L125.9 201.5L125.7 200.8L124.0 198.0L123.7 195.9M122.4 200.1L123.0 198.6L121.2 198.1L124.5 197.2L127.5 195.9L126.9 197.2L125.3 197.3L122.9 198.5L125.1 197.3L125.3 196.6L121.5 201.5L122.8 202.6L123.6 202.5L127.9 198.9L127.0 198.0M123.9 199.6L122.7 197.1L120.8 197.9L122.8 199.3L125.7 198.3L127.4 199.4L126.8 197.9L128.2 196.7L127.4 195.1L130.2 195.2L128.9 194.9L128.1 195.3L124.8 193.4L125.7 195.6L123.8 196.0M122.8 190.7L122.4 189.3L124.1 189.6L124.0 187.7L124.3 185.0L124.7 188.5L122.6 190.7L125.2 190.9L127.1 191.5L126.0 188.5L124.0 186.6L128.2 187.9L127.6 186.3L130.4 185.2L132.5 188.1M124.7 195.5L124.6 193.3L125.7 196.6L127.2 198.5L125.8 199.0L123.9 198.1L125.2 202.4L125.3 202.1L121.9 202.0L120.5 199.2L118.2 199.3L118.0 200.3L118.1 200.1L121.2 201.3L122.8 203.6M125.2 194.5L123.7 192.0L124.4 191.7L125.3 193.7L123.8 194.3L126.1 194.7L127.6 194.6L125.7 194.4L122.3 195.9L121.5 198.4L119.6 198.5L120.6 198.1L121.6 196.7L119.9 194.3L119.3 193.1M125.2 196.4L124.0 195.2L120.7 194.7L121.7 192.6L121.5 194.2L120.5 194.8L120.1 199.3L122.9 201.3L121.8 202.1L121.7 202.4L120.9 202.3L119.9 202.4L123.3 199.6L121.1 200.3L122.8 199.4M126.3 198.8L127.1 201.1L125.8 202.0L126.0 200.4L126.8 197.9L124.0 199.8L122.0 202.6L124.1 201.3L122.6 197.0L122.6 194.1L125.5 191.4L125.5 187.0L124.8 190.2L124.0 189.3L123.2 190.6M127.2 196.8L123.3 197.4L125.2 201.5L125.4 201.5L124.3 202.5L127.5 200.3L127.4 198.2L125.9 197.8L126.7 196.3L126.0 198.8L126.7 199.9L127.3 199.4L127.8 200.2L127.5 201.8L127.3 203.0M124.5 199.7L123.3 198.5L121.3 200.6L122.5 200.7L123.8 199.0L124.0 197.9L120.7 197.4L119.4 200.0L118.5 198.6L120.7 198.5L118.6 198.8L117.7 201.8L116.4 200.1L112.1 198.7L116.4 198.3M121.5 198.4L121.2 198.2L125.9 201.8L128.7 204.4L126.7 200.3L127.8 200.8L127.6 200.3L128.7 201.1L128.8 201.7L128.1 200.7L130.3 200.0L133.4 200.9L132.8 202.6L131.2 201.9L130.1 201.5M126.6 203.9L127.4 201.5L125.6 197.9L126.9 199.4L127.3 199.9L128.0 200.5L128.8 200.6L126.7 202.1L128.9 198.8L128.2 196.6L128.8 196.2L131.0 198.3L129.6 197.3L128.2 198.4L126.2 199.1M120.2 200.7L121.4 198.4L120.2 198.5L121.1 193.3L121.7 196.4L121.1 194.0L123.6 194.7L124.0 196.0L121.8 195.0L120.0 193.1L119.8 191.6L123.0 192.9L124.6 190.3L124.2 190.6L124.5 192.0M122.0 194.7L123.9 198.9L127.7 198.3L126.0 198.5L126.7 201.6L126.1 199.9L127.8 198.4L126.0 199.3L125.6 197.3L125.0 196.5L124.5 195.3L125.6 194.8L124.4 196.9L122.7 198.3L123.9 197.7M125.1 192.9L125.5 191.4L123.9 192.4L122.6 193.0L123.5 195.2L124.3 197.2L122.9 196.6L124.2 198.8L125.0 197.7L123.1 196.0L125.2 194.4L124.7 195.7L125.4 194.6L128.9 195.1L129.0 196.7M123.5 199.6L123.4 197.8L121.7 198.5L122.1 198.1L121.5 197.6L123.1 199.5L122.8 199.8L119.6 197.6L118.8 196.0L120.5 192.4L121.6 194.0L125.8 193.4L126.4 196.4L127.9 194.8L127.0 193.0M124.7 199.6L127.1 200.4L128.4 202.0L126.7 202.8L128.2 202.1L126.2 202.0L126.4 202.8L123.1 201.8L126.7 203.7L126.3 202.7L125.7 200.6L124.8 200.2L122.6 199.9L123.3 197.4L122.6 194.7M124.6 198.2L123.7 198.2L124.7 199.4L122.4 198.7L120.0 195.2L122.2 196.8L124.6 198.2L123.7 198.5L122.8 200.8L118.8 201.2L118.3 202.2L120.9 200.7L123.6 202.3L120.9 205.2L119.1 202.2M127.3 195.3L127.5 195.4L125.5 198.4L128.0 198.5L130.5 198.4L130.5 197.8L127.7 197.1L125.7 197.9L125.9 196.9L128.0 197.6L131.0 196.9L129.8 195.6L129.8 195.5L129.4 198.7L130.4 197.5M125.7 196.7L125.1 196.4L125.2 197.6L126.9 197.7L125.3 197.7L124.9 197.2L122.7 197.0L119.7 199.2L121.4 200.4L120.0 200.6L122.6 200.0L120.9 199.6L117.2 201.1L118.5 198.4L120.2 200.3M126.4 199.5L129.0 199.7L131.1 199.2L129.4 198.5L127.1 199.1L125.7 199.6L126.2 202.3L129.1 201.0L128.5 200.4L127.1 203.4L129.0 202.5L126.3 201.0L126.2 203.5L123.8 205.5L121.3 205.5M121.0 196.2L117.1 197.4L117.8 195.6L114.6 195.6L115.3 193.2L116.9 193.3L115.5 192.2L111.9 193.9L114.6 193.9L113.2 192.2L113.5 191.0L114.9 190.0L117.2 192.7L116.8 191.6L112.2 192.1M125.6 194.6L127.4 193.7L125.1 195.4L125.8 191.9L124.5 190.1L124.1 191.0L123.3 191.7L124.9 191.6L122.7 190.3L124.2 193.9L123.9 194.8L122.5 194.0L124.4 193.4L124.6 193.9L126.6 194.6M124.3 196.6L123.3 198.4L127.1 195.5L128.7 193.9L127.3 193.6L126.2 193.3L125.0 196.7L122.4 195.6L121.2 196.1L119.2 196.1L119.8 199.6L121.3 199.3L121.7 202.4L121.7 200.7L120.8 199.8M127.1 194.5L125.9 194.6L124.1 196.0L123.4 196.9L124.4 199.6L127.4 197.9L124.8 195.8L125.6 196.8L125.5 196.8L128.0 198.4L128.1 199.3L125.2 201.2L128.7 201.2L127.6 203.0L126.5 202.7M126.3 197.0L127.4 193.7L122.9 195.2L123.9 195.8L123.3 196.0L124.1 194.1L124.6 193.0L128.2 194.0L128.4 196.1L129.7 197.8L128.2 198.1L129.4 198.4L129.2 197.3L129.2 199.8L126.7 197.2M120.9 192.9L123.4 196.5L124.4 196.8L126.8 198.6L122.7 198.4L127.1 197.7L125.6 196.6L128.3 195.9L128.7 198.1L128.7 198.1L126.6 195.9L128.3 193.8L129.9 196.3L132.0 196.1L130.0 196.4M128.4 199.1L128.9 198.8L130.2 195.3L127.7 198.2L128.2 199.4L124.7 197.8L123.9 197.6L126.0 196.6L126.1 195.4L125.6 196.3L126.2 198.1L123.9 199.4L124.8 197.9L127.0 196.7L126.2 197.7M128.7 196.3L130.9 197.1L129.1 198.4L128.9 197.1L128.3 199.3L128.6 198.7L129.7 196.2L130.4 198.6L127.9 196.6L126.2 196.4L124.7 196.4L123.0 197.0L124.1 197.8L123.2 199.3L120.6 198.0M124.3 201.3L123.6 202.1L126.5 205.1L129.4 203.1L129.5 203.6L130.2 204.0L129.6 203.6L126.8 204.3L127.2 202.8L130.1 202.4L128.5 203.1L129.0 203.8L128.5 204.6L128.4 206.1L128.7 204.1M121.5 199.2L123.4 196.6L124.6 196.6L125.0 195.3L123.1 194.5L121.8 194.0L122.3 194.4L125.7 193.0L124.9 193.6L125.9 192.1L123.4 193.0L124.1 194.4L125.3 192.0L127.1 192.3L130.5 192.1M118.2 197.2L119.0 197.8L119.8 196.9L117.4 196.7L117.4 195.6L118.1 195.3L115.2 194.0L114.5 193.9L118.1 194.1L119.6 190.8L122.1 190.4L123.2 189.1L123.2 191.2L123.3 192.1L122.1 191.3M125.3 197.0L125.5 195.9L124.8 197.3L127.2 196.7L125.9 197.0L127.4 197.5L129.0 197.2L127.0 194.0L128.3 194.7L126.9 195.6L124.7 197.5L126.5 199.5L125.6 201.8L126.9 204.2L123.9 205.3M128.4 196.7L129.7 197.0L131.8 196.6L131.3 194.7L134.3 193.6L131.8 192.4L131.4 192.9L131.6 195.9L132.7 193.6L132.4 193.6L133.1 194.2L134.7 194.7L137.3 193.3L138.3 195.3L136.0 193.2M122.6 198.7L125.6 196.1L125.1 194.1L126.4 194.6L126.3 196.2L126.7 198.8L126.1 197.7L126.0 197.7L128.1 197.0L127.0 195.9L125.5 192.7L125.7 194.0L125.9 193.0L127.4 194.6L127.6 196.0M124.2 198.7L125.2 196.6L124.3 195.5L125.0 191.2L125.5 191.7L125.1 192.9L122.6 193.7L121.4 192.9L124.1 192.8L125.9 193.1L125.3 192.8L122.8 192.6L123.2 195.5L124.6 197.1L123.1 195.8M125.6 199.1L123.7 200.8L122.7 201.0L122.1 202.0L123.8 203.4L122.3 203.2L126.4 202.8L127.1 202.6L126.0 205.2L128.6 203.4L129.2 206.2L129.6 205.6L131.0 206.4L128.4 204.4L130.8 202.9M124.4 195.7L127.7 193.7L127.8 193.4L127.1 191.6L125.5 191.8L125.9 189.1L126.0 188.3L125.8 188.3L125.5 188.7L126.2 189.4L123.2 185.9L120.9 187.4L118.3 186.4L122.0 186.7L121.8 188.2M126.4 196.0L126.4 192.6L126.8 194.0L123.7 195.9L127.0 191.6L126.5 194.5L127.5 193.5L126.2 193.2L127.2 192.0L124.5 192.7L123.1 196.0L121.4 196.6L121.3 194.1L120.7 190.9L121.6 189.8M120.8 192.8L123.5 194.1L121.8 194.0L123.1 195.3L123.2 191.8L126.2 192.0L128.5 190.2L129.5 193.1L131.1 191.3L130.1 194.5L128.3 195.9L127.6 193.4L129.0 195.7L129.8 196.2L131.1 192.9M124.4 202.6L125.2 204.1L124.7 204.1L122.7 204.5L123.3 203.3L123.4 203.0L123.8 203.9L125.6 199.6L126.0 201.4L123.9 200.8L128.1 199.4L129.5 199.7L126.6 199.1L123.3 198.4L124.9 199.4M125.4 195.9L126.4 198.2L127.6 199.9L128.2 200.5L126.3 202.9L124.4 200.9L123.1 199.4L125.6 198.9L125.0 198.3L125.0 200.5L127.6 199.5L130.3 200.4L130.4 202.5L130.2 202.7L130.0 200.3M120.8 194.6L119.6 193.9L119.0 196.1L119.5 197.6L120.5 196.1L120.3 193.6L117.7 194.6L118.2 194.9L120.4 192.8L120.4 189.2L119.2 190.9L116.9 189.1L116.9 192.7L118.8 192.7L120.3 193.2M123.2 195.8L124.1 195.7L125.4 194.9L126.7 194.3L128.5 196.3L127.0 200.3L127.3 198.9L124.9 198.9L125.1 197.4L123.1 196.6L121.3 195.5L120.0 196.4L115.9 199.9L115.8 199.6L114.1 201.3M124.0 196.4L122.4 197.5L123.3 196.3L126.2 194.8L128.1 195.3L125.4 195.0L126.2 194.4L126.2 194.4L126.7 193.5L129.7 194.3L131.8 194.1L131.5 192.7L131.0 195.6L131.0 194.5L129.5 195.7M123.9 203.5L124.4 203.0L125.6 205.4L122.9 203.5L121.8 199.6L121.7 199.2L123.3 200.2L124.5 201.0L123.8 205.6L126.4 204.4L124.6 204.7L126.4 205.0L127.5 206.1L128.0 203.7L126.9 200.2M127.2 195.9L127.3 199.7L125.7 199.5L124.2 196.2L125.9 196.1L125.7 197.5L125.2 198.7L127.3 197.4L127.8 197.6L129.4 201.8L127.3 204.2L127.2 204.8L127.6 203.9L125.2 203.4L123.7 205.4M125.8 195.8L125.1 197.8L122.6 198.1L123.0 196.5L124.9 195.9L126.7 196.3L125.4 196.2L127.0 194.7L125.4 194.7L126.3 196.0L124.5 194.1L124.3 193.9L124.8 191.6L123.9 190.1L126.6 187.1M121.7 195.9L118.9 195.2L118.0 192.7L117.7 195.3L118.4 197.8L121.1 197.9L120.8 194.1L117.6 194.7L118.2 195.2L117.2 194.8L115.9 196.5L116.7 193.1L116.3 195.5L115.1 193.7L114.2 193.1M124.7 196.9L124.9 196.0L126.0 198.5L124.3 198.8L124.8 199.0L124.7 199.7L124.3 198.4L123.0 199.5L122.2 196.3L121.6 195.5L123.3 197.4L121.5 199.5L122.3 201.9L121.6 202.7L123.0 204.9M120.7 197.4L121.2 197.1L120.0 196.7L120.5 200.0L120.9 201.6L120.3 201.7L120.6 201.5L118.4 201.1L123.4 200.8L121.2 204.5L122.3 204.5L119.9 203.5L119.8 202.7L118.5 203.4L116.7 204.9M124.5 196.2L121.8 196.9L122.6 194.5L125.6 194.3L122.9 196.6L121.3 195.1L119.1 193.7L119.0 192.1L119.9 190.8L120.0 187.5L119.4 188.1L120.8 188.2L121.3 189.4L120.0 190.9L120.8 190.5M120.8 201.1L122.9 201.1L124.8 203.2L124.5 203.7L125.4 203.9L125.1 202.6L126.3 202.5L128.9 202.8L128.6 200.3L128.1 200.5L127.5 199.0L122.3 197.3L122.6 199.9L120.8 200.6L118.8 201.9M123.7 197.4L124.3 196.2L123.2 198.0L120.8 196.3L122.4 197.5L121.1 196.2L121.5 199.4L124.2 198.7L123.3 198.4L120.3 198.7L119.9 200.3L118.8 200.6L118.2 199.4L121.6 197.6L121.6 198.2M129.9 198.3L128.7 198.6L131.3 199.4L131.8 203.1L129.7 204.6L127.8 206.1L128.4 206.5L128.6 206.2L123.3 203.4L126.9 203.1L126.5 203.6L127.9 203.5L129.4 204.0L128.0 203.8L129.4 201.7M124.6 195.3L124.1 192.8L124.3 192.1L126.2 191.9L129.5 194.3L127.8 198.0L127.7 198.6L125.3 198.4L124.1 196.1L122.2 198.4L121.4 198.3L120.2 197.4L119.6 197.1L120.0 198.5L120.1 198.1M121.9 199.0L122.7 198.3L119.7 197.9L116.4 200.3L117.0 202.1L117.1 203.1L120.4 203.9L118.9 200.7L118.2 200.6L116.6 196.9L115.9 196.4L113.2 196.0L115.1 193.9L115.9 193.8L116.7 194.3M121.2 198.6L124.7 198.8L121.9 197.9L125.1 197.2L125.0 194.8L122.0 194.5L122.5 193.3L123.0 192.7L119.2 192.3L120.4 196.3L117.9 196.7L118.8 197.2L119.2 199.6L121.4 198.0L119.9 197.7M119.8 197.5L121.2 196.3L120.7 194.9L121.0 195.7L119.3 197.2L117.8 197.1L118.6 195.3L118.3 193.4L120.3 193.2L117.8 194.6L117.5 197.8L117.6 198.7L116.0 198.0L116.2 199.2L118.9 199.1M123.7 194.5L122.4 194.3L124.2 197.4L123.6 196.1L121.8 197.4L124.2 198.4L126.9 198.2L125.9 198.4L123.5 197.7L122.4 194.3L122.5 195.4L124.8 195.1L126.6 193.8L128.3 192.7L127.6 190.6M129.3 196.0L130.7 195.9L130.5 197.1L127.9 197.8L126.9 195.9L128.4 195.7L130.3 195.9L129.1 195.0L128.7 194.0L129.9 193.2L131.8 192.8L131.0 192.0L134.4 188.9L134.9 191.4L136.0 195.0M128.9 192.5L128.7 191.2L128.0 191.3L129.4 193.1L129.0 192.0L129.1 192.5L127.9 194.4L129.9 193.2L131.6 191.5L130.2 189.2L130.2 192.7L127.6 191.9L125.4 192.4L127.1 190.2L128.1 194.0M123.5 197.2L124.4 193.8L122.7 194.8L122.7 196.2L121.0 195.9L119.9 193.9L121.3 197.0L119.8 197.6L121.2 199.8L120.1 196.8L121.2 195.4L119.1 194.9L119.4 195.3L119.3 191.7L115.8 192.8M128.3 198.8L126.0 200.2L124.1 202.1L124.5 203.1L123.0 203.6L119.5 205.2L117.7 204.4L119.7 205.4L120.3 202.1L122.9 201.1L120.6 203.3L125.5 202.3L127.4 203.6L127.9 204.3L128.2 200.2M122.3 196.1L121.0 196.3L121.1 197.6L125.3 196.3L126.5 199.5L126.4 196.5L126.1 198.8L127.1 196.2L127.4 196.0L126.4 197.6L121.8 200.2L125.3 199.3L123.5 196.7L124.3 195.8L120.8 192.3M126.1 200.3L123.7 202.6L122.8 202.4L121.2 203.8L121.1 203.2L121.9 201.4L124.5 201.7L123.4 199.2L123.7 199.3L123.5 197.1L125.8 197.3L127.4 198.3L126.8 197.0L124.3 198.6L124.0 200.9M128.9 199.1L128.7 200.8L131.4 200.5L132.1 203.1L129.8 203.9L129.2 204.4L130.6 203.7L130.9 206.2L131.8 206.7L131.6 206.2L133.1 205.3L131.8 203.9L130.8 203.8L130.4 203.1L134.1 201.0M125.3 199.8L125.4 200.0L123.2 200.1L124.8 198.6L125.6 200.1L125.8 200.3L123.2 202.2L127.4 204.2L130.2 198.9L128.5 198.0L128.3 196.9L124.7 196.5L121.8 195.9L123.5 199.2L124.5 200.3M118.9 193.8L120.4 195.1L120.9 194.0L120.3 194.9L123.7 194.9L119.7 199.0L121.3 197.9L124.0 199.1L123.1 198.0L124.7 198.0L127.1 196.9L125.5 194.6L125.0 198.4L121.0 199.0L119.3 197.2M130.4 191.4L129.0 187.8L127.3 189.4L127.0 191.7L128.0 191.2L127.7 192.5L126.7 188.9L125.6 190.0L125.8 187.3L124.1 189.2L122.6 191.4L120.6 188.5L118.7 193.1L117.7 192.2L118.9 191.5M118.2 195.6L120.4 192.7L118.3 192.6L119.0 191.7L122.5 191.5L120.3 192.2L121.0 192.5L120.7 196.4L123.6 197.3L123.3 198.6L124.7 198.9L123.0 200.7L124.0 198.3L125.3 200.0L126.4 199.2M123.8 195.5L123.2 197.7L124.4 195.8L125.2 198.1L127.8 199.0L126.1 198.3L124.8 197.0L122.5 197.2L123.0 196.1L126.4 195.5L127.7 199.2L127.1 202.4L127.7 205.4L128.9 203.1L127.3 200.0M122.7 195.5L123.3 191.9L120.0 191.5L119.2 193.5L119.0 192.4L120.2 189.8L121.0 192.1L122.8 191.1L126.0 192.3L126.7 194.5L129.0 193.1L128.6 193.1L128.3 194.3L129.2 194.4L130.3 197.0M125.4 192.8L121.8 192.5L121.6 192.6L121.9 192.8L124.4 193.1L123.5 192.5L124.7 191.7L124.1 191.8L122.6 189.3L120.4 187.9L118.7 187.7L119.7 187.5L117.6 190.3L117.9 187.0L118.1 185.3M123.1 195.9L123.7 192.8L124.0 194.9L121.4 196.3L122.5 196.8L125.3 195.4L124.3 196.2L125.3 196.3L125.8 195.9L126.4 195.2L126.6 194.2L125.6 191.6L124.2 191.9L122.9 192.4L125.0 192.4M122.1 196.3L118.9 197.9L121.8 195.8L127.1 194.2L128.3 194.6L130.8 196.6L132.2 199.1L132.0 200.1L129.7 203.2L129.3 203.9L129.2 202.0L127.1 200.7L126.3 198.5L126.3 199.3L126.8 198.1M124.4 201.4L126.0 200.6L125.2 201.8L121.4 202.5L119.7 201.0L119.4 202.2L116.8 202.8L120.0 200.5L121.2 204.3L121.0 205.2L120.5 204.7L116.6 203.7L120.6 206.3L119.8 206.3L119.4 205.4M121.9 201.9L121.3 204.3L120.9 206.6L120.8 203.6L119.9 203.4L121.9 204.2L120.2 206.5L121.1 206.2L120.3 207.4L120.4 204.2L120.7 204.4L120.6 203.1L121.4 200.2L123.2 198.9L120.9 199.4M129.1 201.1L126.5 199.3L127.6 199.8L128.3 200.9L125.0 203.3L122.8 203.3L121.3 203.7L124.0 204.3L122.8 203.8L123.0 203.0L124.7 201.1L125.8 199.0L127.0 200.4L127.3 202.3L129.7 202.1M125.6 193.8L123.9 196.2L120.4 199.2L122.3 198.0L122.9 196.7L125.4 195.6L127.8 195.8L125.7 197.7L126.8 198.7L128.7 197.8L125.8 197.6L126.4 198.2L124.9 199.1L122.7 199.4L124.1 200.0M126.5 192.9L125.9 192.9L125.4 192.6L125.7 194.3L127.2 194.4L126.7 195.4L123.8 197.1L122.9 198.6L123.8 199.2L126.4 201.2L127.4 199.3L125.6 198.4L125.0 197.2L123.4 199.5L120.3 204.0M124.5 197.5L121.0 197.8L122.1 199.5L118.9 198.1L122.1 198.3L124.7 199.6L127.0 198.5L128.2 198.6L124.2 199.1L123.0 199.6L123.1 196.5L125.6 196.4L125.9 192.9L126.0 193.7L126.9 191.8M128.4 193.3L129.1 194.6L130.1 193.0L130.5 189.7L131.3 190.4L131.9 191.5L128.3 194.5L128.5 196.8L124.3 198.8L123.5 197.0L124.7 197.8L128.6 201.6L128.0 202.3L128.7 202.1L126.7 200.6" fill="none" stroke="#000" stroke-width="0.4"/>
<ellipse cx="124.5" cy="197.5" rx="5.5" ry="5" fill="#000"/>
<path d="M122 207.5 C118 209.5 113.5 212 113.8 215.5 C114.2 219.5 116 224 119.8 226 C123 227.3 124.3 224.5 122.6 221.5 C120.6 218.5 119.6 215 121.6 212.3 C123 210.3 125 209.5 126.5 208.3" fill="none" stroke="#777" stroke-width="0.6"/>
<path d="M187.8 201.9L186.1 203.4L185.8 202.5L189.2 202.5L189.0 203.5L190.9 203.0L191.6 200.9L190.7 200.0L188.1 197.2L185.2 196.9L185.1 196.5L185.4 194.3L185.4 195.1L186.9 193.9L186.2 190.7M186.1 192.5L183.7 194.9L180.2 196.6L181.4 196.2L182.6 197.3L184.9 197.0L184.0 196.0L182.6 196.2L181.6 198.2L178.8 196.3L177.8 192.8L181.9 189.1L181.9 188.9L185.2 186.2L187.3 185.9M187.1 196.7L188.2 194.8L188.0 195.7L191.2 191.7L193.6 193.9L192.2 194.8L191.0 198.0L191.1 197.7L190.4 197.4L189.9 195.9L193.3 192.8L186.5 193.0L186.4 194.1L186.1 194.2L186.8 196.3M186.3 197.5L189.8 198.5L187.9 202.5L189.2 201.2L187.0 201.5L185.6 199.4L183.5 198.5L185.7 197.7L183.3 198.9L183.8 200.4L186.2 199.9L186.0 199.7L184.2 200.8L186.8 200.9L186.5 200.3M185.4 196.3L184.8 195.0L184.3 192.5L185.1 193.1L183.3 189.5L183.6 192.1L182.7 191.8L182.1 193.5L180.9 195.6L180.9 197.5L181.5 197.1L179.4 196.0L179.6 197.4L180.6 196.3L181.9 198.2M187.1 197.3L186.4 198.8L187.5 197.2L188.1 196.4L186.8 198.8L188.3 197.5L188.3 198.4L187.1 198.2L188.3 195.1L188.8 196.7L189.6 194.5L190.0 193.3L190.8 194.8L190.9 193.7L189.6 195.6M185.0 199.9L186.1 199.3L190.4 199.3L193.9 195.7L189.5 197.7L190.5 197.2L190.1 194.0L188.8 192.5L188.3 194.6L188.3 195.5L187.1 195.0L187.3 194.8L189.5 193.6L192.7 192.2L194.1 191.4M192.0 198.9L192.4 200.1L190.9 198.2L187.1 200.4L185.9 199.2L186.0 202.6L183.1 202.7L182.7 203.3L180.0 202.2L182.0 204.6L185.3 202.7L185.5 202.1L183.3 199.3L184.9 199.7L184.9 201.7M184.7 199.9L185.0 199.7L186.0 199.9L186.6 200.3L190.1 199.6L191.6 200.6L190.7 201.8L188.9 203.6L187.4 202.3L188.0 203.5L189.5 204.6L189.0 202.5L189.9 202.7L188.0 204.0L188.3 201.9M188.7 194.9L187.1 195.9L184.4 196.1L182.3 197.6L181.4 198.0L179.3 197.4L181.6 198.3L178.9 200.0L181.1 199.2L184.1 197.3L184.2 199.3L186.8 201.5L184.9 198.1L185.8 195.7L185.7 193.7M190.4 200.7L191.2 200.6L190.9 199.9L191.3 200.2L191.8 199.3L194.8 199.7L196.7 202.0L194.4 198.7L196.0 198.0L195.5 197.6L195.1 195.6L194.3 195.0L193.7 191.2L194.7 192.4L191.1 191.6M187.6 200.2L187.6 202.5L187.6 200.4L186.4 201.6L185.4 202.8L187.4 203.5L189.2 202.8L189.0 201.4L187.8 198.4L186.8 196.6L184.4 197.0L185.4 196.5L188.0 198.3L189.8 197.3L187.0 198.3M188.3 200.5L189.0 202.5L188.4 203.4L186.7 199.0L186.0 201.5L183.2 203.1L182.4 202.0L182.9 202.1L181.5 202.0L182.8 203.2L181.8 205.5L185.6 209.2L183.4 208.6L180.5 208.5L182.0 205.7M183.1 199.0L184.6 197.6L184.4 193.2L183.4 193.9L184.0 197.1L182.3 193.2L183.5 192.6L184.3 194.3L185.6 197.2L188.1 194.4L188.0 198.2L187.2 199.9L187.1 199.1L189.9 200.9L189.3 202.3M183.9 196.5L185.8 196.7L184.0 197.7L184.9 200.0L186.8 199.4L186.0 199.1L185.7 201.6L188.6 203.7L189.2 202.9L190.6 201.9L190.8 198.7L189.8 201.2L187.8 198.4L187.5 201.3L190.0 200.5M186.2 198.2L184.7 198.3L184.4 195.7L183.6 195.5L182.4 193.8L184.4 197.5L184.1 196.8L185.3 196.5L184.1 199.1L182.6 197.8L181.8 196.3L181.8 197.5L184.8 198.7L185.1 196.5L185.2 195.0M187.2 201.2L187.6 200.6L186.3 200.4L186.6 198.6L185.8 200.2L183.0 199.2L181.3 201.9L182.9 202.5L183.9 202.7L184.7 199.6L185.4 200.5L183.1 201.8L184.6 198.9L184.0 198.3L183.4 199.0M184.0 197.9L184.7 199.2L185.0 198.7L186.4 195.2L188.1 194.9L185.9 194.5L182.8 191.2L182.6 190.5L184.3 189.5L182.3 188.6L185.7 189.4L184.8 188.4L183.1 188.9L184.2 191.7L186.4 192.7M185.7 196.1L181.8 194.5L183.0 194.3L184.0 192.2L185.8 193.3L186.0 194.4L182.2 193.7L181.1 197.3L181.3 196.5L183.3 194.8L186.1 193.9L186.1 192.7L187.6 189.3L188.8 188.6L188.8 187.4M188.1 199.0L189.1 199.5L190.1 201.2L189.2 198.9L186.8 200.1L186.2 201.8L186.4 199.7L188.1 203.0L187.7 201.0L186.2 202.4L185.3 201.4L186.7 201.2L186.9 200.0L185.9 200.2L186.3 201.1M186.1 199.4L187.1 199.5L188.1 201.2L188.4 201.1L186.6 201.5L186.5 200.7L185.2 201.5L189.8 202.0L189.8 202.5L188.6 202.4L187.3 200.9L187.8 201.1L187.5 199.5L188.0 197.6L189.3 197.0M187.5 200.7L188.5 198.2L188.0 198.9L186.0 194.7L186.0 194.9L186.9 195.3L187.2 196.0L189.6 197.0L190.4 196.5L192.1 196.3L193.0 192.8L193.0 193.1L191.8 195.8L192.1 195.7L190.8 199.2M189.6 200.3L188.1 202.4L189.0 201.7L188.7 198.6L189.7 196.7L191.0 196.0L189.7 196.9L189.9 195.0L189.5 196.4L188.9 194.2L188.4 192.9L187.3 193.4L187.2 193.4L184.4 194.5L184.3 194.1M187.9 203.8L185.6 200.6L187.1 199.0L189.4 197.3L188.4 198.8L189.9 199.6L190.5 199.3L189.5 198.8L191.6 200.0L191.3 200.5L192.4 202.4L191.8 201.9L192.0 206.2L192.1 207.8L189.1 208.5M183.7 195.5L182.9 195.5L183.5 196.4L184.3 195.8L189.0 196.7L190.1 200.4L191.5 201.2L191.8 204.2L189.5 202.1L189.6 198.3L188.1 200.3L187.3 200.4L188.5 198.2L188.9 197.2L186.9 196.8M187.3 197.4L186.2 199.2L188.3 200.1L188.1 198.1L186.6 196.2L187.0 198.0L188.7 198.0L187.9 198.3L188.1 199.4L190.6 198.1L194.0 194.5L190.4 192.2L188.4 192.3L191.9 191.6L193.4 191.5M187.9 195.7L191.8 195.9L190.4 200.0L190.5 200.6L190.0 199.0L187.3 198.7L190.1 199.4L189.6 201.1L187.8 203.3L187.8 201.5L188.9 202.1L188.2 202.2L189.9 204.4L188.2 199.3L191.7 198.8M186.4 199.7L185.7 201.4L183.7 200.8L181.8 203.3L181.9 204.8L184.7 202.2L184.6 203.2L184.9 202.5L186.5 203.8L185.6 203.1L186.9 203.1L187.2 200.8L190.2 200.2L190.5 200.0L190.4 200.2M185.2 199.5L187.5 200.1L188.7 200.9L188.7 203.8L187.4 204.1L189.2 204.1L187.2 201.8L190.0 199.9L189.8 200.7L189.8 197.4L186.3 197.3L185.1 197.0L185.4 197.4L183.3 194.6L185.2 193.8M184.3 193.1L185.5 191.3L183.8 193.0L184.7 194.4L182.7 189.7L181.4 189.9L180.7 192.1L181.9 190.8L183.3 191.2L182.8 193.7L180.3 195.9L182.7 192.5L182.8 192.7L181.2 192.2L180.3 192.8M186.0 192.6L188.2 194.7L186.7 196.5L190.3 193.9L189.3 193.4L190.1 193.3L187.5 195.9L186.9 197.4L191.0 196.2L190.0 197.9L189.6 198.9L189.4 203.8L190.4 203.9L190.4 204.2L187.3 203.3M189.5 195.2L189.5 195.3L188.4 199.9L189.6 200.4L188.0 200.4L187.5 200.1L187.9 204.3L190.2 206.9L192.4 211.1L190.8 207.9L190.9 207.6L190.7 205.8L191.7 208.2L191.7 207.0L193.5 205.8M186.5 199.4L182.6 202.6L182.8 203.2L183.8 203.5L181.7 206.2L183.2 206.2L189.1 203.3L190.2 202.8L187.4 205.8L184.7 205.5L184.8 205.3L183.4 207.1L184.1 204.2L182.3 204.2L180.7 204.6M188.4 196.9L185.0 194.8L185.8 194.2L189.2 193.8L189.7 195.3L189.7 196.1L191.3 196.1L191.6 195.7L194.8 196.2L195.7 191.2L194.2 189.8L193.7 189.7L191.4 190.0L192.5 192.5L191.2 194.9M185.8 200.2L184.5 201.9L188.8 201.1L190.8 198.4L189.5 203.1L189.2 203.6L186.2 203.2L185.0 204.9L184.2 208.9L182.6 208.6L179.5 207.1L182.3 206.2L180.4 206.5L182.7 206.6L184.8 203.5M192.5 200.5L188.4 203.6L187.6 204.1L184.1 202.5L181.2 203.7L181.3 201.7L181.1 203.4L180.3 204.0L178.8 200.7L178.6 200.0L179.7 201.5L179.6 200.6L181.6 201.2L181.9 201.4L178.6 200.2M183.1 197.5L185.0 194.7L186.8 194.0L186.5 193.6L187.9 192.8L184.2 193.8L184.2 195.3L185.5 193.4L186.0 194.0L186.0 194.6L186.7 193.9L186.5 196.0L184.7 196.1L183.2 194.4L182.8 195.0M191.7 197.9L193.0 198.9L192.7 193.5L192.5 194.0L190.3 194.6L192.6 192.9L191.3 194.9L187.9 193.4L188.3 195.5L190.4 197.0L194.2 197.8L191.4 197.5L192.2 198.3L188.4 199.0L187.0 198.6M191.5 198.0L190.0 197.9L188.7 201.5L190.1 202.9L188.7 201.4L189.0 197.3L190.7 195.2L190.6 196.1L189.0 196.9L190.1 200.3L190.6 203.4L191.1 202.6L192.4 201.4L192.2 202.3L193.8 202.4M183.5 202.1L184.1 201.3L183.0 202.1L183.9 203.0L184.0 205.3L183.8 205.5L184.4 206.8L183.5 205.6L183.4 203.9L182.6 201.3L184.3 203.7L182.9 204.6L181.2 202.7L181.2 202.6L182.5 198.9M183.9 198.7L183.7 202.4L183.6 201.0L186.0 196.1L182.8 201.0L182.1 201.0L182.2 199.2L182.4 196.8L184.5 198.3L185.9 196.7L182.6 196.0L181.1 196.9L178.8 195.4L179.7 196.4L180.5 194.3M185.6 204.0L187.4 202.1L190.7 201.6L190.4 199.9L192.8 199.9L192.3 198.2L189.6 198.5L189.5 201.2L187.7 200.4L189.4 201.6L188.1 203.9L188.8 205.0L189.3 206.2L188.4 205.2L190.3 205.3M188.5 201.6L188.8 202.1L184.8 200.9L186.5 199.1L186.0 199.5L185.9 200.9L186.9 200.4L188.8 199.6L187.4 200.0L188.5 199.7L186.6 198.7L187.0 199.8L190.1 199.4L189.5 195.6L191.6 197.4M187.5 196.5L182.9 198.0L181.9 200.6L183.7 202.7L183.7 204.4L181.6 206.5L182.0 203.8L181.7 201.7L182.6 200.1L180.8 199.4L180.9 199.6L182.7 201.7L183.7 204.3L179.7 203.7L182.0 201.0M186.9 199.1L184.3 198.0L185.6 197.5L188.4 201.7L188.2 199.4L188.1 198.4L185.5 197.7L184.8 197.1L186.7 199.1L187.4 198.4L188.2 198.4L188.5 196.7L183.0 198.4L182.3 197.5L182.7 197.5M186.7 202.7L186.9 202.7L185.4 202.2L186.4 201.8L187.0 199.9L187.7 198.0L186.9 196.7L187.3 198.7L187.8 197.2L188.0 199.1L189.2 199.9L187.1 198.8L186.0 198.0L186.5 198.1L186.0 199.1M185.5 197.6L185.9 195.3L184.5 193.1L182.9 193.3L183.1 194.3L184.0 192.7L187.5 195.5L185.4 194.5L184.7 195.2L186.0 195.4L181.7 200.7L183.6 201.9L182.6 201.8L184.6 200.7L186.8 200.7M191.8 198.6L194.1 195.8L196.0 196.8L194.7 198.8L193.6 200.2L194.8 201.9L198.0 204.0L201.5 204.8L200.7 205.0L199.6 202.3L198.8 199.9L197.4 199.3L195.7 197.4L195.2 197.4L197.0 198.6M190.1 197.2L189.3 195.1L187.7 196.6L187.3 196.5L186.3 199.4L186.3 201.3L186.4 202.7L184.8 200.0L186.9 199.4L187.4 200.8L188.6 201.1L186.5 199.7L186.6 200.7L187.6 201.1L186.2 200.9M190.1 196.1L188.9 197.9L191.6 198.6L191.3 197.0L190.7 195.7L190.7 197.2L191.2 199.5L189.2 197.3L191.4 199.2L189.4 199.3L187.4 199.2L187.9 200.8L186.2 198.5L187.3 197.9L189.8 195.9M185.7 191.0L187.8 193.9L188.5 193.8L184.9 191.8L184.2 195.6L186.0 194.8L186.9 196.1L187.8 194.7L187.0 196.7L188.3 196.3L192.5 196.9L191.4 198.6L192.5 198.4L195.2 200.3L194.6 201.4M189.3 197.7L190.5 196.9L189.8 198.2L187.5 197.6L185.8 198.9L185.0 202.1L187.8 200.6L188.1 199.8L188.0 200.9L190.6 204.5L193.5 201.9L192.2 201.3L191.3 201.3L192.2 200.3L190.8 204.3M189.4 204.4L188.3 206.3L191.1 208.0L189.6 208.2L188.1 205.5L188.0 205.9L187.6 205.1L188.7 203.4L189.4 204.4L190.4 204.9L188.4 203.9L187.6 204.7L184.6 204.5L182.1 205.2L181.6 204.7M190.1 203.2L188.2 203.0L184.7 202.3L183.8 203.2L183.9 203.0L182.3 202.1L180.8 201.9L178.6 202.1L181.2 206.3L184.4 208.0L186.0 210.0L186.1 209.8L183.0 208.1L185.4 204.3L186.1 203.8M186.6 199.4L186.7 197.4L186.6 194.4L189.3 194.7L190.7 193.4L193.7 195.6L193.8 196.3L194.0 195.2L193.3 195.1L193.5 198.1L195.0 198.6L195.6 198.1L194.1 195.4L191.4 193.6L191.0 193.7M188.7 201.7L189.8 201.2L188.9 200.5L189.8 198.8L187.1 198.4L188.9 200.6L189.9 197.1L189.5 198.5L191.2 201.7L189.3 202.1L186.5 201.5L185.9 202.7L186.3 199.3L186.2 199.9L188.9 198.6M185.2 196.9L187.2 196.6L187.4 197.5L186.0 199.5L183.3 202.6L182.5 200.7L181.6 198.5L180.6 197.2L179.1 197.0L180.3 196.1L181.2 194.9L182.1 194.6L180.7 195.1L181.0 194.2L181.4 195.5M184.2 197.1L185.5 197.3L187.0 201.5L184.9 201.9L184.5 204.1L185.7 201.3L187.8 201.1L187.2 200.9L187.6 199.2L186.9 201.5L185.2 200.2L186.7 198.5L186.5 199.0L185.0 198.4L183.6 198.1M188.3 198.5L188.6 199.2L189.9 197.3L189.9 200.1L189.3 199.5L189.2 198.2L190.0 198.2L189.5 199.5L191.4 197.0L190.3 196.6L187.6 197.9L191.3 199.4L193.2 195.9L191.9 193.8L192.9 194.0M187.0 199.8L188.4 202.6L190.7 203.9L187.6 205.6L187.7 202.4L188.0 201.6L187.8 203.1L185.4 203.8L187.7 201.4L190.1 200.0L188.6 201.5L188.5 198.1L187.3 199.3L186.4 198.4L186.5 198.4" fill="none" stroke="#000" stroke-width="0.4"/>
<ellipse cx="187.5" cy="199" rx="4.5" ry="4.2" fill="#000"/>
<path d="M177 186 C180 188 184 190 186 193" fill="none" stroke="#000" stroke-width="0.5"/>
<path d="M251.9 199.0L251.4 199.3L252.3 199.6L253.7 198.6L253.6 198.0L252.8 197.8L252.9 198.2L253.3 200.3L253.9 198.6L254.0 198.0L253.3 199.3L253.0 197.4L253.2 197.2L252.0 196.4L251.4 196.5M251.1 198.3L252.8 197.6L252.0 197.4L253.0 196.8L254.2 195.7L253.1 195.9L252.2 195.5L252.5 196.4L252.6 196.3L253.8 196.8L253.4 198.0L252.4 198.2L253.0 198.2L252.4 198.5L251.8 197.9M250.0 200.5L249.6 201.4L250.2 200.9L250.9 200.9L251.1 199.4L251.2 200.1L251.7 200.9L253.1 201.1L254.8 199.4L254.3 197.0L254.9 197.2L256.2 196.9L254.0 198.2L252.6 197.1L252.4 197.7M250.9 198.5L249.3 200.1L249.4 200.1L250.1 200.1L250.4 199.1L250.4 199.4L251.5 199.2L251.6 199.4L252.2 199.5L251.9 198.9L252.9 199.1L252.9 202.3L253.6 202.7L253.6 201.4L254.5 201.1M251.9 200.0L252.8 200.1L252.8 201.9L253.2 200.6L253.8 200.6L253.7 201.0L253.7 202.6L253.8 202.5L254.7 201.6L255.4 201.3L256.2 200.3L256.2 198.6L255.5 198.6L255.6 200.4L257.0 199.0M250.5 200.4L251.0 199.0L251.5 197.9L250.7 196.7L250.6 198.9L251.0 198.8L253.4 198.3L253.1 198.0L253.4 197.8L254.6 197.5L254.9 197.8L253.9 196.9L253.7 194.9L253.5 195.3L253.5 195.4M252.4 197.6L253.0 196.1L253.7 195.5L254.0 195.3L253.4 194.8L254.5 194.1L253.2 194.6L253.3 194.9L252.3 194.6L253.1 193.9L253.6 194.9L253.6 194.1L255.2 194.5L255.1 194.5L253.9 194.5M252.2 196.7L252.2 197.9L252.6 197.8L253.5 198.7L254.2 197.9L252.3 198.7L252.4 198.3L252.8 197.9L252.1 199.6L250.6 200.2L251.7 201.7L251.9 201.9L251.1 201.6L249.2 200.8L249.4 200.5M251.0 200.2L249.6 200.2L249.4 200.1L249.6 201.7L248.8 202.7L250.4 202.2L249.9 200.7L249.3 202.4L247.5 202.5L247.2 203.9L247.9 202.2L247.7 202.1L248.2 200.9L248.2 200.2L248.9 200.3M252.2 197.2L252.9 196.7L252.0 196.5L251.7 196.3L250.0 197.7L250.7 199.0L250.4 199.6L250.7 199.5L252.4 198.9L252.9 197.2L253.3 197.2L252.3 196.7L250.3 195.8L250.6 193.6L251.7 194.9M250.5 195.6L249.3 194.7L248.8 196.9L248.0 197.7L249.5 196.9L249.4 197.6L249.0 198.8L251.2 198.7L250.5 199.2L250.9 198.5L250.9 198.5L251.4 199.5L251.0 198.2L249.6 199.9L249.4 199.4M256.1 200.1L257.8 199.8L256.7 199.2L256.9 199.5L256.9 201.5L257.7 200.2L257.6 200.6L256.5 202.6L257.0 203.6L256.1 202.1L256.4 201.6L255.5 201.3L255.4 201.2L254.9 201.3L257.3 202.2M250.9 201.8L250.5 200.1L249.4 198.0L250.6 197.0L249.4 196.6L249.4 195.6L249.1 195.8L249.9 195.1L250.5 195.6L251.1 195.3L250.1 196.4L250.8 195.9L250.1 196.7L252.1 197.2L254.4 197.5M252.4 199.0L253.3 197.6L253.3 198.8L251.8 199.0L252.5 200.5L253.8 200.3L255.6 199.1L254.0 200.2L254.4 199.0L255.2 199.7L255.6 199.2L254.1 197.6L253.7 197.5L253.1 197.0L253.8 196.0M250.5 201.7L250.0 200.8L251.1 198.9L252.7 197.7L251.8 196.5L250.9 196.0L251.9 196.1L253.1 197.0L251.9 197.1L251.3 196.8L251.4 197.2L251.9 195.3L251.7 195.1L253.4 195.1L253.3 195.4M253.2 196.2L252.9 196.2L252.8 196.1L252.2 196.4L251.0 198.0L251.0 196.3L250.8 197.3L250.7 197.3L248.6 198.6L248.9 196.8L248.7 198.2L249.3 196.8L249.0 197.2L251.1 197.5L251.9 197.2M251.9 196.4L250.6 195.3L250.2 196.7L250.3 197.9L251.1 198.1L250.7 200.1L251.8 201.0L254.1 202.2L254.1 202.2L254.5 204.0L253.3 201.8L252.7 201.6L252.1 202.1L252.6 201.8L252.6 203.3M255.3 201.3L254.7 202.2L253.4 200.1L254.9 200.8L255.2 201.9L256.5 201.9L256.4 202.2L256.8 202.0L255.2 204.0L254.2 203.0L254.6 202.6L254.9 204.5L256.0 203.6L255.9 203.1L256.8 201.9M250.1 195.3L250.8 195.9L251.5 196.9L250.4 196.6L249.6 197.9L250.6 196.6L251.2 196.9L251.4 197.6L250.9 197.4L250.3 196.9L249.5 198.1L250.2 197.9L248.9 200.0L249.2 200.1L250.0 201.5M251.3 194.1L251.1 194.4L250.6 196.1L250.3 196.6L249.7 197.4L249.3 198.3L249.6 198.5L250.1 197.0L249.8 197.3L249.7 198.5L250.7 197.8L251.9 197.7L252.4 198.9L251.3 198.1L251.4 197.9" fill="none" stroke="#000" stroke-width="0.45"/>
<ellipse cx="251.8" cy="198.2" rx="3.8" ry="3.4" fill="#000"/>
<path d="M313.4 196.0L314.2 194.0L314.2 192.3L315.3 192.9L316.6 192.9L316.9 193.0L316.1 193.5L314.9 193.6L315.6 194.0L315.2 196.3L315.3 195.9L315.4 195.6L315.1 195.5L317.0 195.7L317.0 196.5M319.0 197.6L318.2 199.9L316.6 199.4L317.1 201.4L316.1 198.9L316.7 198.4L316.2 198.7L316.4 199.0L315.9 200.1L317.3 199.9L316.7 200.5L317.1 199.3L316.5 200.2L316.3 199.7L316.5 199.5M315.5 194.6L317.1 195.1L316.2 196.2L316.4 196.4L317.3 198.6L317.7 200.0L319.5 198.9L318.7 199.5L316.8 199.2L317.9 200.0L318.3 198.1L320.2 198.6L320.5 199.0L318.6 197.6L317.2 199.4M314.0 197.6L313.9 198.1L314.5 198.4L313.4 195.5L313.8 195.9L315.0 196.0L314.5 196.5L313.1 195.7L312.4 196.1L314.6 197.0L315.7 197.3L315.9 196.9L315.7 194.8L314.5 193.8L315.4 194.8M317.5 200.7L317.1 201.5L318.7 201.2L319.5 200.8L317.7 200.7L316.7 200.6L316.2 200.6L314.2 202.4L315.5 201.7L314.7 201.4L315.4 201.5L315.8 199.4L314.7 200.5L315.0 198.9L314.2 197.5M313.7 200.1L313.7 200.9L314.0 199.3L313.5 201.3L312.9 200.1L314.3 200.0L314.4 201.2L312.8 201.4L312.1 199.8L311.6 200.7L311.7 198.8L311.0 200.1L312.3 198.9L314.9 198.5L313.8 198.4M317.2 200.9L318.0 200.2L317.3 198.7L317.1 198.1L317.2 196.9L316.6 196.1L315.3 195.2L314.4 194.3L315.0 194.7L313.8 195.4L314.2 197.0L314.1 196.9L313.6 197.1L314.2 197.3L314.1 197.9M315.7 198.4L314.8 198.6L313.9 197.8L314.2 199.8L315.2 199.6L315.1 200.4L316.4 201.4L316.2 201.3L315.8 200.8L315.0 200.3L313.0 199.0L313.6 198.0L314.2 196.8L314.0 197.3L313.1 196.7M319.9 196.8L318.9 196.3L318.7 196.4L319.3 197.3L318.7 197.0L317.1 195.7L316.2 196.6L316.3 197.4L317.1 197.3L319.0 196.9L318.1 196.6L319.0 196.6L318.0 197.1L318.9 197.1L318.4 198.2M317.3 199.7L316.4 199.8L316.7 198.0L317.7 198.1L317.2 200.2L317.2 199.4L317.0 199.8L317.7 199.6L316.7 198.8L315.8 197.7L315.8 197.3L315.8 196.6L315.0 196.5L314.7 197.7L313.9 197.9M315.4 195.7L316.1 196.0L314.1 196.7L315.1 196.1L316.7 196.4L315.5 197.0L315.2 195.9L313.2 196.3L312.7 197.0L313.3 196.6L313.0 198.4L314.8 199.0L314.5 198.0L314.2 199.6L314.7 199.2M313.3 198.3L312.7 198.3L313.6 199.3L313.9 198.8L314.2 200.5L314.7 199.0L316.2 199.1L319.4 198.6L319.0 198.3L319.1 197.7L317.4 195.9L317.1 195.6L316.5 197.8L317.1 198.8L316.5 199.0M315.1 197.6L315.9 198.2L316.1 198.4L314.7 197.6L315.1 197.3L314.4 197.7L313.7 197.1L314.6 196.8L316.0 197.4L316.7 198.5L314.6 198.4L313.5 197.9L313.6 199.1L313.7 200.6L313.3 200.3M315.7 199.7L315.6 199.0L315.3 197.6L316.5 198.3L316.8 198.5L316.1 198.1L316.8 197.4L316.0 198.9L317.4 199.1L317.8 199.2L318.9 198.7L318.7 199.1L319.8 198.8L319.7 198.2L318.7 197.6M315.6 199.6L315.0 198.9L314.7 199.1L315.4 197.9L315.7 197.0L316.4 196.2L315.3 195.7L315.2 194.9L315.5 195.3L315.5 195.8L316.3 195.3L316.3 195.5L314.3 196.0L313.7 195.5L313.4 195.8M316.1 198.9L315.4 199.4L315.8 199.0L315.7 199.6L316.1 200.1L316.2 201.0L318.2 201.2L316.5 202.5L315.9 200.9L313.7 201.1L314.8 201.7L314.5 202.8L314.5 201.8L314.7 201.7L314.8 201.8M311.7 200.7L311.4 201.1L311.0 201.0L311.2 199.3L311.9 199.8L311.2 197.7L310.9 197.0L311.4 197.0L313.2 197.7L313.2 197.9L310.7 197.1L310.2 197.0L310.9 197.3L312.2 196.7L312.7 196.7M315.5 198.6L315.3 198.7L315.2 199.6L315.2 199.7L317.6 200.2L317.9 201.0L316.8 201.4L317.4 201.5L318.1 202.0L319.0 201.1L319.1 200.3L320.0 200.3L318.4 200.2L317.3 200.9L316.8 198.7" fill="none" stroke="#000" stroke-width="0.45"/>
<ellipse cx="316" cy="198.4" rx="3.5" ry="2.9" fill="#000"/>
<text x="27" y="171.7" font-size="9.5" text-anchor="end" fill="#000" stroke="#000" stroke-width="0.15" textLength="16.2" lengthAdjust="spacingAndGlyphs" >300</text>
<text x="27" y="201.6" font-size="9.5" text-anchor="end" fill="#000" stroke="#000" stroke-width="0.15" >0</text>
<text x="27.4" y="232.2" font-size="9.5" text-anchor="end" fill="#000" stroke="#000" stroke-width="0.15" textLength="20.4" lengthAdjust="spacingAndGlyphs" >-300</text>
<text x="29.5" y="239" font-size="9.5" text-anchor="middle" fill="#000" stroke="#000" stroke-width="0.15" textLength="20" lengthAdjust="spacingAndGlyphs" >-300</text>
<text x="61.7" y="239" font-size="9.5" text-anchor="middle" fill="#000" stroke="#000" stroke-width="0.15" >0</text>
<text x="93.5" y="239" font-size="9.5" text-anchor="middle" fill="#000" stroke="#000" stroke-width="0.15" textLength="16.2" lengthAdjust="spacingAndGlyphs" >300</text>
<text x="40" y="249.5" font-size="12.5" fill="#000" stroke="#000" stroke-width="0.15" textLength="41" lengthAdjust="spacingAndGlyphs" ><tspan font-style="italic">Δx</tspan> [μm]</text>
<text x="10.5" y="219" font-size="12.5" fill="#000" stroke="#000" stroke-width="0.15" textLength="41" lengthAdjust="spacingAndGlyphs" transform="rotate(-90 10.5 219)" ><tspan font-style="italic">Δy</tspan> [μm]</text>
<text x="349.38" y="20.4" font-size="27.6" textLength="6.56" lengthAdjust="spacingAndGlyphs">(</text>
<text x="358.76" y="20.4" font-size="26" textLength="14.21" lengthAdjust="spacingAndGlyphs">b</text>
<text x="375.48" y="20.4" font-size="27.6" textLength="6.56" lengthAdjust="spacingAndGlyphs">)</text>
<line x1="419.1" y1="193.86" x2="421.4" y2="193.86" stroke="#000" stroke-width="1" />
<line x1="419.1" y1="186.62" x2="421.4" y2="186.62" stroke="#000" stroke-width="1" />
<line x1="419.1" y1="179.38" x2="421.4" y2="179.38" stroke="#000" stroke-width="1" />
<line x1="419.1" y1="172.14" x2="421.4" y2="172.14" stroke="#000" stroke-width="1" />
<line x1="419.1" y1="164.9" x2="423.1" y2="164.9" stroke="#000" stroke-width="1" />
<line x1="419.1" y1="157.66" x2="421.4" y2="157.66" stroke="#000" stroke-width="1" />
<line x1="419.1" y1="150.42" x2="421.4" y2="150.42" stroke="#000" stroke-width="1" />
<line x1="419.1" y1="143.18" x2="421.4" y2="143.18" stroke="#000" stroke-width="1" />
<line x1="419.1" y1="135.94" x2="421.4" y2="135.94" stroke="#000" stroke-width="1" />
<line x1="419.1" y1="128.7" x2="423.1" y2="128.7" stroke="#000" stroke-width="1" />
<line x1="419.1" y1="121.46" x2="421.4" y2="121.46" stroke="#000" stroke-width="1" />
<line x1="419.1" y1="114.22" x2="421.4" y2="114.22" stroke="#000" stroke-width="1" />
<line x1="419.1" y1="106.98" x2="421.4" y2="106.98" stroke="#000" stroke-width="1" />
<line x1="419.1" y1="99.74" x2="421.4" y2="99.74" stroke="#000" stroke-width="1" />
<line x1="419.1" y1="92.5" x2="423.1" y2="92.5" stroke="#000" stroke-width="1" />
<line x1="419.1" y1="85.26" x2="421.4" y2="85.26" stroke="#000" stroke-width="1" />
<line x1="419.1" y1="78.02" x2="421.4" y2="78.02" stroke="#000" stroke-width="1" />
<line x1="419.1" y1="70.78" x2="421.4" y2="70.78" stroke="#000" stroke-width="1" />
<line x1="419.1" y1="63.54" x2="421.4" y2="63.54" stroke="#000" stroke-width="1" />
<line x1="419.1" y1="56.3" x2="423.1" y2="56.3" stroke="#000" stroke-width="1" />
<line x1="419.1" y1="49.06" x2="421.4" y2="49.06" stroke="#000" stroke-width="1" />
<line x1="419.1" y1="41.82" x2="421.4" y2="41.82" stroke="#000" stroke-width="1" />
<line x1="419.1" y1="34.58" x2="421.4" y2="34.58" stroke="#000" stroke-width="1" />
<line x1="419.1" y1="27.34" x2="421.4" y2="27.34" stroke="#000" stroke-width="1" />
<line x1="423.6" y1="201.1" x2="423.6" y2="198.8" stroke="#000" stroke-width="1" />
<line x1="423.6" y1="20.1" x2="423.6" y2="22.4" stroke="#000" stroke-width="1" />
<line x1="432.6" y1="201.1" x2="432.6" y2="198.8" stroke="#000" stroke-width="1" />
<line x1="432.6" y1="20.1" x2="432.6" y2="22.4" stroke="#000" stroke-width="1" />
<line x1="441.6" y1="201.1" x2="441.6" y2="197.1" stroke="#000" stroke-width="1" />
<line x1="441.6" y1="20.1" x2="441.6" y2="24.1" stroke="#000" stroke-width="1" />
<line x1="450.6" y1="201.1" x2="450.6" y2="198.8" stroke="#000" stroke-width="1" />
<line x1="450.6" y1="20.1" x2="450.6" y2="22.4" stroke="#000" stroke-width="1" />
<line x1="459.6" y1="201.1" x2="459.6" y2="198.8" stroke="#000" stroke-width="1" />
<line x1="459.6" y1="20.1" x2="459.6" y2="22.4" stroke="#000" stroke-width="1" />
<line x1="468.6" y1="201.1" x2="468.6" y2="198.8" stroke="#000" stroke-width="1" />
<line x1="468.6" y1="20.1" x2="468.6" y2="22.4" stroke="#000" stroke-width="1" />
<line x1="477.6" y1="201.1" x2="477.6" y2="198.8" stroke="#000" stroke-width="1" />
<line x1="477.6" y1="20.1" x2="477.6" y2="22.4" stroke="#000" stroke-width="1" />
<line x1="486.6" y1="201.1" x2="486.6" y2="197.1" stroke="#000" stroke-width="1" />
<line x1="486.6" y1="20.1" x2="486.6" y2="24.1" stroke="#000" stroke-width="1" />
<line x1="495.6" y1="201.1" x2="495.6" y2="198.8" stroke="#000" stroke-width="1" />
<line x1="495.6" y1="20.1" x2="495.6" y2="22.4" stroke="#000" stroke-width="1" />
<line x1="504.6" y1="201.1" x2="504.6" y2="198.8" stroke="#000" stroke-width="1" />
<line x1="504.6" y1="20.1" x2="504.6" y2="22.4" stroke="#000" stroke-width="1" />
<line x1="513.6" y1="201.1" x2="513.6" y2="198.8" stroke="#000" stroke-width="1" />
<line x1="513.6" y1="20.1" x2="513.6" y2="22.4" stroke="#000" stroke-width="1" />
<line x1="522.6" y1="201.1" x2="522.6" y2="198.8" stroke="#000" stroke-width="1" />
<line x1="522.6" y1="20.1" x2="522.6" y2="22.4" stroke="#000" stroke-width="1" />
<line x1="531.6" y1="201.1" x2="531.6" y2="197.1" stroke="#000" stroke-width="1" />
<line x1="531.6" y1="20.1" x2="531.6" y2="24.1" stroke="#000" stroke-width="1" />
<line x1="540.6" y1="201.1" x2="540.6" y2="198.8" stroke="#000" stroke-width="1" />
<line x1="540.6" y1="20.1" x2="540.6" y2="22.4" stroke="#000" stroke-width="1" />
<line x1="549.6" y1="201.1" x2="549.6" y2="198.8" stroke="#000" stroke-width="1" />
<line x1="549.6" y1="20.1" x2="549.6" y2="22.4" stroke="#000" stroke-width="1" />
<line x1="558.6" y1="201.1" x2="558.6" y2="198.8" stroke="#000" stroke-width="1" />
<line x1="558.6" y1="20.1" x2="558.6" y2="22.4" stroke="#000" stroke-width="1" />
<line x1="567.6" y1="201.1" x2="567.6" y2="198.8" stroke="#000" stroke-width="1" />
<line x1="567.6" y1="20.1" x2="567.6" y2="22.4" stroke="#000" stroke-width="1" />
<line x1="576.6" y1="201.1" x2="576.6" y2="197.1" stroke="#000" stroke-width="1" />
<line x1="576.6" y1="20.1" x2="576.6" y2="24.1" stroke="#000" stroke-width="1" />
<line x1="585.6" y1="201.1" x2="585.6" y2="198.8" stroke="#000" stroke-width="1" />
<line x1="585.6" y1="20.1" x2="585.6" y2="22.4" stroke="#000" stroke-width="1" />
<line x1="594.6" y1="201.1" x2="594.6" y2="198.8" stroke="#000" stroke-width="1" />
<line x1="594.6" y1="20.1" x2="594.6" y2="22.4" stroke="#000" stroke-width="1" />
<line x1="603.6" y1="201.1" x2="603.6" y2="198.8" stroke="#000" stroke-width="1" />
<line x1="603.6" y1="20.1" x2="603.6" y2="22.4" stroke="#000" stroke-width="1" />
<line x1="612.6" y1="201.1" x2="612.6" y2="198.8" stroke="#000" stroke-width="1" />
<line x1="612.6" y1="20.1" x2="612.6" y2="22.4" stroke="#000" stroke-width="1" />
<line x1="621.6" y1="201.1" x2="621.6" y2="197.1" stroke="#000" stroke-width="1" />
<line x1="621.6" y1="20.1" x2="621.6" y2="24.1" stroke="#000" stroke-width="1" />
<line x1="630.6" y1="201.1" x2="630.6" y2="198.8" stroke="#000" stroke-width="1" />
<line x1="630.6" y1="20.1" x2="630.6" y2="22.4" stroke="#000" stroke-width="1" />
<line x1="639.6" y1="201.1" x2="639.6" y2="198.8" stroke="#000" stroke-width="1" />
<line x1="639.6" y1="20.1" x2="639.6" y2="22.4" stroke="#000" stroke-width="1" />
<line x1="644.2" y1="192.05" x2="641.9" y2="192.05" stroke="#888" stroke-width="1" />
<line x1="644.2" y1="183" x2="641.9" y2="183" stroke="#888" stroke-width="1" />
<line x1="644.2" y1="173.95" x2="641.9" y2="173.95" stroke="#888" stroke-width="1" />
<line x1="644.2" y1="164.9" x2="641.9" y2="164.9" stroke="#888" stroke-width="1" />
<line x1="644.2" y1="155.85" x2="640.2" y2="155.85" stroke="#888" stroke-width="1" />
<line x1="644.2" y1="146.8" x2="641.9" y2="146.8" stroke="#888" stroke-width="1" />
<line x1="644.2" y1="137.75" x2="641.9" y2="137.75" stroke="#888" stroke-width="1" />
<line x1="644.2" y1="128.7" x2="641.9" y2="128.7" stroke="#888" stroke-width="1" />
<line x1="644.2" y1="119.65" x2="641.9" y2="119.65" stroke="#888" stroke-width="1" />
<line x1="644.2" y1="110.6" x2="640.2" y2="110.6" stroke="#888" stroke-width="1" />
<line x1="644.2" y1="101.55" x2="641.9" y2="101.55" stroke="#888" stroke-width="1" />
<line x1="644.2" y1="92.5" x2="641.9" y2="92.5" stroke="#888" stroke-width="1" />
<line x1="644.2" y1="83.45" x2="641.9" y2="83.45" stroke="#888" stroke-width="1" />
<line x1="644.2" y1="74.4" x2="641.9" y2="74.4" stroke="#888" stroke-width="1" />
<line x1="644.2" y1="65.35" x2="640.2" y2="65.35" stroke="#888" stroke-width="1" />
<line x1="644.2" y1="56.3" x2="641.9" y2="56.3" stroke="#888" stroke-width="1" />
<line x1="644.2" y1="47.25" x2="641.9" y2="47.25" stroke="#888" stroke-width="1" />
<line x1="644.2" y1="38.2" x2="641.9" y2="38.2" stroke="#888" stroke-width="1" />
<line x1="644.2" y1="29.15" x2="641.9" y2="29.15" stroke="#888" stroke-width="1" />
<line x1="644.2" y1="20.1" x2="644.2" y2="201.1" stroke="#888" stroke-width="1.4" />
<line x1="419.1" y1="20.1" x2="643.5" y2="20.1" stroke="#000" stroke-width="1.4" />
<line x1="419.1" y1="201.1" x2="643.5" y2="201.1" stroke="#000" stroke-width="1.4" />
<line x1="419.1" y1="19.4" x2="419.1" y2="201.8" stroke="#000" stroke-width="1.4" />
<text x="413.6" y="204.8" font-size="13.3" text-anchor="end" fill="#000" stroke="#000" stroke-width="0.15" >0</text>
<text x="413.6" y="168.6" font-size="13.3" text-anchor="end" fill="#000" stroke="#000" stroke-width="0.15" >1</text>
<text x="413.6" y="132.4" font-size="13.3" text-anchor="end" fill="#000" stroke="#000" stroke-width="0.15" >2</text>
<text x="413.6" y="96.2" font-size="13.3" text-anchor="end" fill="#000" stroke="#000" stroke-width="0.15" >3</text>
<text x="413.6" y="60" font-size="13.3" text-anchor="end" fill="#000" stroke="#000" stroke-width="0.15" >4</text>
<text x="413.6" y="23.8" font-size="13.3" text-anchor="end" fill="#000" stroke="#000" stroke-width="0.15" >5</text>
<text x="649.7" y="205" font-size="13" fill="#888" stroke="#888" stroke-width="0.15" >6.5</text>
<text x="649.7" y="159.75" font-size="13" fill="#888" stroke="#888" stroke-width="0.15" >7</text>
<text x="649.7" y="114.5" font-size="13" fill="#888" stroke="#888" stroke-width="0.15" >7.5</text>
<text x="649.7" y="69.25" font-size="13" fill="#888" stroke="#888" stroke-width="0.15" >8</text>
<text x="649.7" y="24" font-size="13" fill="#888" stroke="#888" stroke-width="0.15" >8.5</text>
<text x="441.6" y="217.2" font-size="13" text-anchor="middle" fill="#000" stroke="#000" stroke-width="0.15" >−2</text>
<text x="486.6" y="217.2" font-size="13" text-anchor="middle" fill="#000" stroke="#000" stroke-width="0.15" >−1</text>
<text x="531.6" y="217.2" font-size="13" text-anchor="middle" fill="#000" stroke="#000" stroke-width="0.15" >0</text>
<text x="576.6" y="217.2" font-size="13" text-anchor="middle" fill="#000" stroke="#000" stroke-width="0.15" >1</text>
<text x="621.6" y="217.2" font-size="13" text-anchor="middle" fill="#000" stroke="#000" stroke-width="0.15" >2</text>
<text x="435.2" y="232.2" font-size="14" fill="#000" stroke="#000" stroke-width="0.15" textLength="192" lengthAdjust="spacingAndGlyphs" >Location from the center [mm]</text>
<text x="399.8" y="220.1" font-size="14" fill="#000" stroke="#000" stroke-width="0.15" textLength="218.5" lengthAdjust="spacingAndGlyphs" transform="rotate(-90 399.8 220.1)" >Average migration speed [μm/min]</text>
<text x="683.5" y="119.2" font-size="14.5" fill="#888" stroke="#888" stroke-width="0.15" transform="rotate(-90 683.5 119.2)" >pH</text>
<line x1="423.6" y1="91.78" x2="423.6" y2="120.74" stroke="#d0d0d0" stroke-width="0.9" />
<line x1="421.4" y1="91.78" x2="425.8" y2="91.78" stroke="#d0d0d0" stroke-width="0.9" />
<line x1="421.4" y1="120.74" x2="425.8" y2="120.74" stroke="#d0d0d0" stroke-width="0.9" />
<line x1="432.6" y1="93.59" x2="432.6" y2="126.17" stroke="#d0d0d0" stroke-width="0.9" />
<line x1="430.4" y1="93.59" x2="434.8" y2="93.59" stroke="#d0d0d0" stroke-width="0.9" />
<line x1="430.4" y1="126.17" x2="434.8" y2="126.17" stroke="#d0d0d0" stroke-width="0.9" />
<line x1="441.6" y1="88.16" x2="441.6" y2="117.12" stroke="#d0d0d0" stroke-width="0.9" />
<line x1="439.4" y1="88.16" x2="443.8" y2="88.16" stroke="#d0d0d0" stroke-width="0.9" />
<line x1="439.4" y1="117.12" x2="443.8" y2="117.12" stroke="#d0d0d0" stroke-width="0.9" />
<line x1="450.6" y1="91.05" x2="450.6" y2="120.01" stroke="#d0d0d0" stroke-width="0.9" />
<line x1="448.4" y1="91.05" x2="452.8" y2="91.05" stroke="#d0d0d0" stroke-width="0.9" />
<line x1="448.4" y1="120.01" x2="452.8" y2="120.01" stroke="#d0d0d0" stroke-width="0.9" />
<line x1="459.6" y1="88.16" x2="459.6" y2="117.12" stroke="#d0d0d0" stroke-width="0.9" />
<line x1="457.4" y1="88.16" x2="461.8" y2="88.16" stroke="#d0d0d0" stroke-width="0.9" />
<line x1="457.4" y1="117.12" x2="461.8" y2="117.12" stroke="#d0d0d0" stroke-width="0.9" />
<line x1="468.6" y1="89.6" x2="468.6" y2="118.56" stroke="#d0d0d0" stroke-width="0.9" />
<line x1="466.4" y1="89.6" x2="470.8" y2="89.6" stroke="#d0d0d0" stroke-width="0.9" />
<line x1="466.4" y1="118.56" x2="470.8" y2="118.56" stroke="#d0d0d0" stroke-width="0.9" />
<line x1="477.6" y1="84.54" x2="477.6" y2="113.5" stroke="#d0d0d0" stroke-width="0.9" />
<line x1="475.4" y1="84.54" x2="479.8" y2="84.54" stroke="#d0d0d0" stroke-width="0.9" />
<line x1="475.4" y1="113.5" x2="479.8" y2="113.5" stroke="#d0d0d0" stroke-width="0.9" />
<line x1="486.6" y1="93.59" x2="486.6" y2="122.55" stroke="#d0d0d0" stroke-width="0.9" />
<line x1="484.4" y1="93.59" x2="488.8" y2="93.59" stroke="#d0d0d0" stroke-width="0.9" />
<line x1="484.4" y1="122.55" x2="488.8" y2="122.55" stroke="#d0d0d0" stroke-width="0.9" />
<line x1="495.6" y1="96.84" x2="495.6" y2="125.8" stroke="#d0d0d0" stroke-width="0.9" />
<line x1="493.4" y1="96.84" x2="497.8" y2="96.84" stroke="#d0d0d0" stroke-width="0.9" />
<line x1="493.4" y1="125.8" x2="497.8" y2="125.8" stroke="#d0d0d0" stroke-width="0.9" />
<line x1="504.6" y1="108.07" x2="504.6" y2="137.03" stroke="#d0d0d0" stroke-width="0.9" />
<line x1="502.4" y1="108.07" x2="506.8" y2="108.07" stroke="#d0d0d0" stroke-width="0.9" />
<line x1="502.4" y1="137.03" x2="506.8" y2="137.03" stroke="#d0d0d0" stroke-width="0.9" />
<line x1="513.6" y1="106.26" x2="513.6" y2="135.22" stroke="#d0d0d0" stroke-width="0.9" />
<line x1="511.4" y1="106.26" x2="515.8" y2="106.26" stroke="#d0d0d0" stroke-width="0.9" />
<line x1="511.4" y1="135.22" x2="515.8" y2="135.22" stroke="#d0d0d0" stroke-width="0.9" />
<line x1="522.6" y1="105.17" x2="522.6" y2="134.13" stroke="#d0d0d0" stroke-width="0.9" />
<line x1="520.4" y1="105.17" x2="524.8" y2="105.17" stroke="#d0d0d0" stroke-width="0.9" />
<line x1="520.4" y1="134.13" x2="524.8" y2="134.13" stroke="#d0d0d0" stroke-width="0.9" />
<line x1="531.6" y1="122.18" x2="531.6" y2="147.52" stroke="#d0d0d0" stroke-width="0.9" />
<line x1="529.4" y1="122.18" x2="533.8" y2="122.18" stroke="#d0d0d0" stroke-width="0.9" />
<line x1="529.4" y1="147.52" x2="533.8" y2="147.52" stroke="#d0d0d0" stroke-width="0.9" />
<line x1="540.6" y1="117.84" x2="540.6" y2="143.18" stroke="#d0d0d0" stroke-width="0.9" />
<line x1="538.4" y1="117.84" x2="542.8" y2="117.84" stroke="#d0d0d0" stroke-width="0.9" />
<line x1="538.4" y1="143.18" x2="542.8" y2="143.18" stroke="#d0d0d0" stroke-width="0.9" />
<line x1="549.6" y1="135.22" x2="549.6" y2="160.56" stroke="#d0d0d0" stroke-width="0.9" />
<line x1="547.4" y1="135.22" x2="551.8" y2="135.22" stroke="#d0d0d0" stroke-width="0.9" />
<line x1="547.4" y1="160.56" x2="551.8" y2="160.56" stroke="#d0d0d0" stroke-width="0.9" />
<line x1="558.6" y1="143.54" x2="558.6" y2="165.26" stroke="#d0d0d0" stroke-width="0.9" />
<line x1="556.4" y1="143.54" x2="560.8" y2="143.54" stroke="#d0d0d0" stroke-width="0.9" />
<line x1="556.4" y1="165.26" x2="560.8" y2="165.26" stroke="#d0d0d0" stroke-width="0.9" />
<line x1="567.6" y1="144.99" x2="567.6" y2="166.71" stroke="#d0d0d0" stroke-width="0.9" />
<line x1="565.4" y1="144.99" x2="569.8" y2="144.99" stroke="#d0d0d0" stroke-width="0.9" />
<line x1="565.4" y1="166.71" x2="569.8" y2="166.71" stroke="#d0d0d0" stroke-width="0.9" />
<line x1="576.6" y1="142.09" x2="576.6" y2="163.81" stroke="#d0d0d0" stroke-width="0.9" />
<line x1="574.4" y1="142.09" x2="578.8" y2="142.09" stroke="#d0d0d0" stroke-width="0.9" />
<line x1="574.4" y1="163.81" x2="578.8" y2="163.81" stroke="#d0d0d0" stroke-width="0.9" />
<line x1="585.6" y1="143.54" x2="585.6" y2="165.26" stroke="#d0d0d0" stroke-width="0.9" />
<line x1="583.4" y1="143.54" x2="587.8" y2="143.54" stroke="#d0d0d0" stroke-width="0.9" />
<line x1="583.4" y1="165.26" x2="587.8" y2="165.26" stroke="#d0d0d0" stroke-width="0.9" />
<line x1="594.6" y1="142.09" x2="594.6" y2="163.81" stroke="#d0d0d0" stroke-width="0.9" />
<line x1="592.4" y1="142.09" x2="596.8" y2="142.09" stroke="#d0d0d0" stroke-width="0.9" />
<line x1="592.4" y1="163.81" x2="596.8" y2="163.81" stroke="#d0d0d0" stroke-width="0.9" />
<line x1="603.6" y1="145.71" x2="603.6" y2="167.43" stroke="#d0d0d0" stroke-width="0.9" />
<line x1="601.4" y1="145.71" x2="605.8" y2="145.71" stroke="#d0d0d0" stroke-width="0.9" />
<line x1="601.4" y1="167.43" x2="605.8" y2="167.43" stroke="#d0d0d0" stroke-width="0.9" />
<line x1="612.6" y1="145.35" x2="612.6" y2="167.07" stroke="#d0d0d0" stroke-width="0.9" />
<line x1="610.4" y1="145.35" x2="614.8" y2="145.35" stroke="#d0d0d0" stroke-width="0.9" />
<line x1="610.4" y1="167.07" x2="614.8" y2="167.07" stroke="#d0d0d0" stroke-width="0.9" />
<line x1="621.6" y1="143.18" x2="621.6" y2="164.9" stroke="#d0d0d0" stroke-width="0.9" />
<line x1="619.4" y1="143.18" x2="623.8" y2="143.18" stroke="#d0d0d0" stroke-width="0.9" />
<line x1="619.4" y1="164.9" x2="623.8" y2="164.9" stroke="#d0d0d0" stroke-width="0.9" />
<line x1="630.6" y1="144.27" x2="630.6" y2="165.99" stroke="#d0d0d0" stroke-width="0.9" />
<line x1="628.4" y1="144.27" x2="632.8" y2="144.27" stroke="#d0d0d0" stroke-width="0.9" />
<line x1="628.4" y1="165.99" x2="632.8" y2="165.99" stroke="#d0d0d0" stroke-width="0.9" />
<line x1="639.6" y1="145.71" x2="639.6" y2="167.43" stroke="#d0d0d0" stroke-width="0.9" />
<line x1="637.4" y1="145.71" x2="641.8" y2="145.71" stroke="#d0d0d0" stroke-width="0.9" />
<line x1="637.4" y1="167.43" x2="641.8" y2="167.43" stroke="#d0d0d0" stroke-width="0.9" />
<polyline points="423.6,106.26 432.6,109.88 441.6,102.64 450.6,105.53 459.6,102.64 468.6,104.08 477.6,99.02 486.6,108.07 495.6,111.32 504.6,122.55 513.6,120.74 522.6,119.65 531.6,134.85 540.6,130.51 549.6,147.89 558.6,154.4 567.6,155.85 576.6,152.95 585.6,154.4 594.6,152.95 603.6,156.57 612.6,156.21 621.6,154.04 630.6,155.13 639.6,156.57" fill="none" stroke="#c4c4c4" stroke-width="1.6" stroke-linejoin="round" />
<circle cx="423.6" cy="106.26" r="1.9" fill="#c4c4c4"/>
<circle cx="432.6" cy="109.88" r="1.9" fill="#c4c4c4"/>
<circle cx="441.6" cy="102.64" r="1.9" fill="#c4c4c4"/>
<circle cx="450.6" cy="105.53" r="1.9" fill="#c4c4c4"/>
<circle cx="459.6" cy="102.64" r="1.9" fill="#c4c4c4"/>
<circle cx="468.6" cy="104.08" r="1.9" fill="#c4c4c4"/>
<circle cx="477.6" cy="99.02" r="1.9" fill="#c4c4c4"/>
<circle cx="486.6" cy="108.07" r="1.9" fill="#c4c4c4"/>
<circle cx="495.6" cy="111.32" r="1.9" fill="#c4c4c4"/>
<circle cx="504.6" cy="122.55" r="1.9" fill="#c4c4c4"/>
<circle cx="513.6" cy="120.74" r="1.9" fill="#c4c4c4"/>
<circle cx="522.6" cy="119.65" r="1.9" fill="#c4c4c4"/>
<circle cx="531.6" cy="134.85" r="1.9" fill="#c4c4c4"/>
<circle cx="540.6" cy="130.51" r="1.9" fill="#c4c4c4"/>
<circle cx="549.6" cy="147.89" r="1.9" fill="#c4c4c4"/>
<circle cx="558.6" cy="154.4" r="1.9" fill="#c4c4c4"/>
<circle cx="567.6" cy="155.85" r="1.9" fill="#c4c4c4"/>
<circle cx="576.6" cy="152.95" r="1.9" fill="#c4c4c4"/>
<circle cx="585.6" cy="154.4" r="1.9" fill="#c4c4c4"/>
<circle cx="594.6" cy="152.95" r="1.9" fill="#c4c4c4"/>
<circle cx="603.6" cy="156.57" r="1.9" fill="#c4c4c4"/>
<circle cx="612.6" cy="156.21" r="1.9" fill="#c4c4c4"/>
<circle cx="621.6" cy="154.04" r="1.9" fill="#c4c4c4"/>
<circle cx="630.6" cy="155.13" r="1.9" fill="#c4c4c4"/>
<circle cx="639.6" cy="156.57" r="1.9" fill="#c4c4c4"/>
<line x1="423.6" y1="80.55" x2="423.6" y2="109.51" stroke="#9a9a9a" stroke-width="0.9" />
<line x1="421.4" y1="80.55" x2="425.8" y2="80.55" stroke="#9a9a9a" stroke-width="0.9" />
<line x1="421.4" y1="109.51" x2="425.8" y2="109.51" stroke="#9a9a9a" stroke-width="0.9" />
<line x1="432.6" y1="74.4" x2="432.6" y2="110.6" stroke="#9a9a9a" stroke-width="0.9" />
<line x1="430.4" y1="74.4" x2="434.8" y2="74.4" stroke="#9a9a9a" stroke-width="0.9" />
<line x1="430.4" y1="110.6" x2="434.8" y2="110.6" stroke="#9a9a9a" stroke-width="0.9" />
<line x1="441.6" y1="76.93" x2="441.6" y2="109.51" stroke="#9a9a9a" stroke-width="0.9" />
<line x1="439.4" y1="76.93" x2="443.8" y2="76.93" stroke="#9a9a9a" stroke-width="0.9" />
<line x1="439.4" y1="109.51" x2="443.8" y2="109.51" stroke="#9a9a9a" stroke-width="0.9" />
<line x1="450.6" y1="77.3" x2="450.6" y2="106.26" stroke="#9a9a9a" stroke-width="0.9" />
<line x1="448.4" y1="77.3" x2="452.8" y2="77.3" stroke="#9a9a9a" stroke-width="0.9" />
<line x1="448.4" y1="106.26" x2="452.8" y2="106.26" stroke="#9a9a9a" stroke-width="0.9" />
<line x1="459.6" y1="74.4" x2="459.6" y2="106.98" stroke="#9a9a9a" stroke-width="0.9" />
<line x1="457.4" y1="74.4" x2="461.8" y2="74.4" stroke="#9a9a9a" stroke-width="0.9" />
<line x1="457.4" y1="106.98" x2="461.8" y2="106.98" stroke="#9a9a9a" stroke-width="0.9" />
<line x1="468.6" y1="73.31" x2="468.6" y2="105.89" stroke="#9a9a9a" stroke-width="0.9" />
<line x1="466.4" y1="73.31" x2="470.8" y2="73.31" stroke="#9a9a9a" stroke-width="0.9" />
<line x1="466.4" y1="105.89" x2="470.8" y2="105.89" stroke="#9a9a9a" stroke-width="0.9" />
<line x1="477.6" y1="63.54" x2="477.6" y2="99.74" stroke="#9a9a9a" stroke-width="0.9" />
<line x1="475.4" y1="63.54" x2="479.8" y2="63.54" stroke="#9a9a9a" stroke-width="0.9" />
<line x1="475.4" y1="99.74" x2="479.8" y2="99.74" stroke="#9a9a9a" stroke-width="0.9" />
<line x1="486.6" y1="74.4" x2="486.6" y2="106.98" stroke="#9a9a9a" stroke-width="0.9" />
<line x1="484.4" y1="74.4" x2="488.8" y2="74.4" stroke="#9a9a9a" stroke-width="0.9" />
<line x1="484.4" y1="106.98" x2="488.8" y2="106.98" stroke="#9a9a9a" stroke-width="0.9" />
<line x1="495.6" y1="74.04" x2="495.6" y2="106.62" stroke="#9a9a9a" stroke-width="0.9" />
<line x1="493.4" y1="74.04" x2="497.8" y2="74.04" stroke="#9a9a9a" stroke-width="0.9" />
<line x1="493.4" y1="106.62" x2="497.8" y2="106.62" stroke="#9a9a9a" stroke-width="0.9" />
<line x1="504.6" y1="82.36" x2="504.6" y2="122.18" stroke="#9a9a9a" stroke-width="0.9" />
<line x1="502.4" y1="82.36" x2="506.8" y2="82.36" stroke="#9a9a9a" stroke-width="0.9" />
<line x1="502.4" y1="122.18" x2="506.8" y2="122.18" stroke="#9a9a9a" stroke-width="0.9" />
<line x1="513.6" y1="81.28" x2="513.6" y2="113.86" stroke="#9a9a9a" stroke-width="0.9" />
<line x1="511.4" y1="81.28" x2="515.8" y2="81.28" stroke="#9a9a9a" stroke-width="0.9" />
<line x1="511.4" y1="113.86" x2="515.8" y2="113.86" stroke="#9a9a9a" stroke-width="0.9" />
<line x1="522.6" y1="85.26" x2="522.6" y2="114.22" stroke="#9a9a9a" stroke-width="0.9" />
<line x1="520.4" y1="85.26" x2="524.8" y2="85.26" stroke="#9a9a9a" stroke-width="0.9" />
<line x1="520.4" y1="114.22" x2="524.8" y2="114.22" stroke="#9a9a9a" stroke-width="0.9" />
<line x1="531.6" y1="99.02" x2="531.6" y2="127.98" stroke="#9a9a9a" stroke-width="0.9" />
<line x1="529.4" y1="99.02" x2="533.8" y2="99.02" stroke="#9a9a9a" stroke-width="0.9" />
<line x1="529.4" y1="127.98" x2="533.8" y2="127.98" stroke="#9a9a9a" stroke-width="0.9" />
<line x1="540.6" y1="96.48" x2="540.6" y2="125.44" stroke="#9a9a9a" stroke-width="0.9" />
<line x1="538.4" y1="96.48" x2="542.8" y2="96.48" stroke="#9a9a9a" stroke-width="0.9" />
<line x1="538.4" y1="125.44" x2="542.8" y2="125.44" stroke="#9a9a9a" stroke-width="0.9" />
<line x1="549.6" y1="121.82" x2="549.6" y2="154.4" stroke="#9a9a9a" stroke-width="0.9" />
<line x1="547.4" y1="121.82" x2="551.8" y2="121.82" stroke="#9a9a9a" stroke-width="0.9" />
<line x1="547.4" y1="154.4" x2="551.8" y2="154.4" stroke="#9a9a9a" stroke-width="0.9" />
<line x1="558.6" y1="127.25" x2="558.6" y2="156.21" stroke="#9a9a9a" stroke-width="0.9" />
<line x1="556.4" y1="127.25" x2="560.8" y2="127.25" stroke="#9a9a9a" stroke-width="0.9" />
<line x1="556.4" y1="156.21" x2="560.8" y2="156.21" stroke="#9a9a9a" stroke-width="0.9" />
<line x1="567.6" y1="133.41" x2="567.6" y2="162.37" stroke="#9a9a9a" stroke-width="0.9" />
<line x1="565.4" y1="133.41" x2="569.8" y2="133.41" stroke="#9a9a9a" stroke-width="0.9" />
<line x1="565.4" y1="162.37" x2="569.8" y2="162.37" stroke="#9a9a9a" stroke-width="0.9" />
<line x1="576.6" y1="126.17" x2="576.6" y2="158.75" stroke="#9a9a9a" stroke-width="0.9" />
<line x1="574.4" y1="126.17" x2="578.8" y2="126.17" stroke="#9a9a9a" stroke-width="0.9" />
<line x1="574.4" y1="158.75" x2="578.8" y2="158.75" stroke="#9a9a9a" stroke-width="0.9" />
<line x1="585.6" y1="132.68" x2="585.6" y2="161.64" stroke="#9a9a9a" stroke-width="0.9" />
<line x1="583.4" y1="132.68" x2="587.8" y2="132.68" stroke="#9a9a9a" stroke-width="0.9" />
<line x1="583.4" y1="161.64" x2="587.8" y2="161.64" stroke="#9a9a9a" stroke-width="0.9" />
<line x1="594.6" y1="131.23" x2="594.6" y2="160.19" stroke="#9a9a9a" stroke-width="0.9" />
<line x1="592.4" y1="131.23" x2="596.8" y2="131.23" stroke="#9a9a9a" stroke-width="0.9" />
<line x1="592.4" y1="160.19" x2="596.8" y2="160.19" stroke="#9a9a9a" stroke-width="0.9" />
<line x1="603.6" y1="135.94" x2="603.6" y2="164.9" stroke="#9a9a9a" stroke-width="0.9" />
<line x1="601.4" y1="135.94" x2="605.8" y2="135.94" stroke="#9a9a9a" stroke-width="0.9" />
<line x1="601.4" y1="164.9" x2="605.8" y2="164.9" stroke="#9a9a9a" stroke-width="0.9" />
<line x1="612.6" y1="137.75" x2="612.6" y2="166.71" stroke="#9a9a9a" stroke-width="0.9" />
<line x1="610.4" y1="137.75" x2="614.8" y2="137.75" stroke="#9a9a9a" stroke-width="0.9" />
<line x1="610.4" y1="166.71" x2="614.8" y2="166.71" stroke="#9a9a9a" stroke-width="0.9" />
<line x1="621.6" y1="131.6" x2="621.6" y2="164.18" stroke="#9a9a9a" stroke-width="0.9" />
<line x1="619.4" y1="131.6" x2="623.8" y2="131.6" stroke="#9a9a9a" stroke-width="0.9" />
<line x1="619.4" y1="164.18" x2="623.8" y2="164.18" stroke="#9a9a9a" stroke-width="0.9" />
<line x1="630.6" y1="136.3" x2="630.6" y2="161.64" stroke="#9a9a9a" stroke-width="0.9" />
<line x1="628.4" y1="136.3" x2="632.8" y2="136.3" stroke="#9a9a9a" stroke-width="0.9" />
<line x1="628.4" y1="161.64" x2="632.8" y2="161.64" stroke="#9a9a9a" stroke-width="0.9" />
<line x1="639.6" y1="130.87" x2="639.6" y2="159.83" stroke="#9a9a9a" stroke-width="0.9" />
<line x1="637.4" y1="130.87" x2="641.8" y2="130.87" stroke="#9a9a9a" stroke-width="0.9" />
<line x1="637.4" y1="159.83" x2="641.8" y2="159.83" stroke="#9a9a9a" stroke-width="0.9" />
<polyline points="423.6,95.03 432.6,92.5 441.6,93.22 450.6,91.78 459.6,90.69 468.6,89.6 477.6,81.64 486.6,90.69 495.6,90.33 504.6,102.27 513.6,97.57 522.6,99.74 531.6,113.5 540.6,110.96 549.6,138.11 558.6,141.73 567.6,147.89 576.6,142.46 585.6,147.16 594.6,145.71 603.6,150.42 612.6,152.23 621.6,147.89 630.6,148.97 639.6,145.35" fill="none" stroke="#8a8a8a" stroke-width="1.6" stroke-linejoin="round" />
<circle cx="423.6" cy="95.03" r="2.0" fill="#8a8a8a"/>
<circle cx="432.6" cy="92.5" r="2.0" fill="#8a8a8a"/>
<circle cx="441.6" cy="93.22" r="2.0" fill="#8a8a8a"/>
<circle cx="450.6" cy="91.78" r="2.0" fill="#8a8a8a"/>
<circle cx="459.6" cy="90.69" r="2.0" fill="#8a8a8a"/>
<circle cx="468.6" cy="89.6" r="2.0" fill="#8a8a8a"/>
<circle cx="477.6" cy="81.64" r="2.0" fill="#8a8a8a"/>
<circle cx="486.6" cy="90.69" r="2.0" fill="#8a8a8a"/>
<circle cx="495.6" cy="90.33" r="2.0" fill="#8a8a8a"/>
<circle cx="504.6" cy="102.27" r="2.0" fill="#8a8a8a"/>
<circle cx="513.6" cy="97.57" r="2.0" fill="#8a8a8a"/>
<circle cx="522.6" cy="99.74" r="2.0" fill="#8a8a8a"/>
<circle cx="531.6" cy="113.5" r="2.0" fill="#8a8a8a"/>
<circle cx="540.6" cy="110.96" r="2.0" fill="#8a8a8a"/>
<circle cx="549.6" cy="138.11" r="2.0" fill="#8a8a8a"/>
<circle cx="558.6" cy="141.73" r="2.0" fill="#8a8a8a"/>
<circle cx="567.6" cy="147.89" r="2.0" fill="#8a8a8a"/>
<circle cx="576.6" cy="142.46" r="2.0" fill="#8a8a8a"/>
<circle cx="585.6" cy="147.16" r="2.0" fill="#8a8a8a"/>
<circle cx="594.6" cy="145.71" r="2.0" fill="#8a8a8a"/>
<circle cx="603.6" cy="150.42" r="2.0" fill="#8a8a8a"/>
<circle cx="612.6" cy="152.23" r="2.0" fill="#8a8a8a"/>
<circle cx="621.6" cy="147.89" r="2.0" fill="#8a8a8a"/>
<circle cx="630.6" cy="148.97" r="2.0" fill="#8a8a8a"/>
<circle cx="639.6" cy="145.35" r="2.0" fill="#8a8a8a"/>
<polyline points="419.1,41.4 419.7,41.36 420.52,41.3 421.49,41.23 422.57,41.16 423.69,41.08 424.8,41 425.91,40.91 427.06,40.8 428.26,40.68 429.5,40.58 430.78,40.52 432.1,40.5 433.5,40.55 434.98,40.64 436.5,40.77 438.02,40.91 439.5,41.06 440.9,41.2 442.19,41.33 443.39,41.47 444.55,41.61 445.71,41.74 446.91,41.88 448.2,42 449.58,42.11 451.03,42.21 452.51,42.31 454.02,42.41 455.52,42.5 457,42.6 458.47,42.69 459.96,42.78 461.44,42.87 462.91,42.96 464.33,43.07 465.7,43.2 467,43.34 468.24,43.49 469.44,43.66 470.62,43.84 471.8,44.05 473,44.3 474.22,44.58 475.43,44.88 476.65,45.21 477.87,45.57 479.08,45.97 480.3,46.4 481.52,46.88 482.73,47.4 483.95,47.95 485.17,48.53 486.38,49.11 487.6,49.7 488.83,50.29 490.09,50.88 491.34,51.49 492.57,52.11 493.76,52.74 494.9,53.4 495.97,54.06 496.97,54.73 497.94,55.41 498.89,56.13 499.84,56.88 500.8,57.7 501.77,58.57 502.74,59.5 503.71,60.46 504.67,61.47 505.63,62.52 506.6,63.6 507.6,64.76 508.64,66 509.68,67.29 510.67,68.56 511.6,69.78 512.4,70.9 513.04,71.87 513.55,72.71 513.98,73.51 514.39,74.31 514.85,75.18 515.4,76.2 516.06,77.36 516.78,78.61 517.54,79.94 518.33,81.33 519.12,82.75 519.9,84.2 520.66,85.64 521.42,87.1 522.18,88.59 522.96,90.15 523.76,91.81 524.6,93.6 525.48,95.56 526.4,97.68 527.34,99.9 528.3,102.16 529.26,104.41 530.2,106.6 531.13,108.75 532.07,110.91 533,113.07 533.93,115.19 534.87,117.24 535.8,119.2 536.74,121.08 537.69,122.89 538.63,124.64 539.57,126.32 540.5,127.94 541.4,129.5 542.27,130.97 543.11,132.34 543.94,133.64 544.77,134.92 545.62,136.19 546.5,137.5 547.41,138.84 548.33,140.19 549.26,141.54 550.23,142.89 551.24,144.21 552.3,145.5 553.43,146.79 554.62,148.08 555.86,149.36 557.11,150.59 558.37,151.74 559.6,152.8 560.82,153.75 562.03,154.62 563.25,155.41 564.47,156.15 565.68,156.84 566.9,157.5 568.1,158.12 569.28,158.67 570.46,159.19 571.66,159.67 572.9,160.14 574.2,160.6 575.56,161.06 576.97,161.5 578.42,161.93 579.91,162.33 581.43,162.72 583,163.1 584.62,163.46 586.3,163.8 588.01,164.13 589.75,164.44 591.48,164.73 593.2,165 594.88,165.24 596.55,165.46 598.21,165.66 599.9,165.85 601.62,166.03 603.4,166.2 605.25,166.37 607.16,166.54 609.1,166.69 611.07,166.84 613.04,166.98 615,167.1 616.89,167.21 618.72,167.31 620.55,167.39 622.46,167.47 624.52,167.54 626.8,167.6 629.55,167.65 632.77,167.7 636.14,167.73 639.34,167.76 642.07,167.78 644,167.8" fill="none" stroke="#555" stroke-width="1.3" stroke-linejoin="round" stroke-dasharray="3.5 2.5"/>
<line x1="423.6" y1="67.52" x2="423.6" y2="102.27" stroke="#444" stroke-width="0.9" />
<line x1="421.4" y1="67.52" x2="425.8" y2="67.52" stroke="#444" stroke-width="0.9" />
<line x1="421.4" y1="102.27" x2="425.8" y2="102.27" stroke="#444" stroke-width="0.9" />
<line x1="432.6" y1="58.83" x2="432.6" y2="105.17" stroke="#444" stroke-width="0.9" />
<line x1="430.4" y1="58.83" x2="434.8" y2="58.83" stroke="#444" stroke-width="0.9" />
<line x1="430.4" y1="105.17" x2="434.8" y2="105.17" stroke="#444" stroke-width="0.9" />
<line x1="441.6" y1="66.07" x2="441.6" y2="113.13" stroke="#444" stroke-width="0.9" />
<line x1="439.4" y1="66.07" x2="443.8" y2="66.07" stroke="#444" stroke-width="0.9" />
<line x1="439.4" y1="113.13" x2="443.8" y2="113.13" stroke="#444" stroke-width="0.9" />
<line x1="450.6" y1="75.85" x2="450.6" y2="108.43" stroke="#444" stroke-width="0.9" />
<line x1="448.4" y1="75.85" x2="452.8" y2="75.85" stroke="#444" stroke-width="0.9" />
<line x1="448.4" y1="108.43" x2="452.8" y2="108.43" stroke="#444" stroke-width="0.9" />
<line x1="459.6" y1="63.54" x2="459.6" y2="112.05" stroke="#444" stroke-width="0.9" />
<line x1="457.4" y1="63.54" x2="461.8" y2="63.54" stroke="#444" stroke-width="0.9" />
<line x1="457.4" y1="112.05" x2="461.8" y2="112.05" stroke="#444" stroke-width="0.9" />
<line x1="468.6" y1="66.07" x2="468.6" y2="113.13" stroke="#444" stroke-width="0.9" />
<line x1="466.4" y1="66.07" x2="470.8" y2="66.07" stroke="#444" stroke-width="0.9" />
<line x1="466.4" y1="113.13" x2="470.8" y2="113.13" stroke="#444" stroke-width="0.9" />
<line x1="477.6" y1="53.4" x2="477.6" y2="107.7" stroke="#444" stroke-width="0.9" />
<line x1="475.4" y1="53.4" x2="479.8" y2="53.4" stroke="#444" stroke-width="0.9" />
<line x1="475.4" y1="107.7" x2="479.8" y2="107.7" stroke="#444" stroke-width="0.9" />
<line x1="486.6" y1="63.54" x2="486.6" y2="106.98" stroke="#444" stroke-width="0.9" />
<line x1="484.4" y1="63.54" x2="488.8" y2="63.54" stroke="#444" stroke-width="0.9" />
<line x1="484.4" y1="106.98" x2="488.8" y2="106.98" stroke="#444" stroke-width="0.9" />
<line x1="495.6" y1="64.99" x2="495.6" y2="108.43" stroke="#444" stroke-width="0.9" />
<line x1="493.4" y1="64.99" x2="497.8" y2="64.99" stroke="#444" stroke-width="0.9" />
<line x1="493.4" y1="108.43" x2="497.8" y2="108.43" stroke="#444" stroke-width="0.9" />
<line x1="504.6" y1="74.76" x2="504.6" y2="129.79" stroke="#444" stroke-width="0.9" />
<line x1="502.4" y1="74.76" x2="506.8" y2="74.76" stroke="#444" stroke-width="0.9" />
<line x1="502.4" y1="129.79" x2="506.8" y2="129.79" stroke="#444" stroke-width="0.9" />
<line x1="513.6" y1="69.33" x2="513.6" y2="105.53" stroke="#444" stroke-width="0.9" />
<line x1="511.4" y1="69.33" x2="515.8" y2="69.33" stroke="#444" stroke-width="0.9" />
<line x1="511.4" y1="105.53" x2="515.8" y2="105.53" stroke="#444" stroke-width="0.9" />
<line x1="522.6" y1="83.81" x2="522.6" y2="112.77" stroke="#444" stroke-width="0.9" />
<line x1="520.4" y1="83.81" x2="524.8" y2="83.81" stroke="#444" stroke-width="0.9" />
<line x1="520.4" y1="112.77" x2="524.8" y2="112.77" stroke="#444" stroke-width="0.9" />
<line x1="531.6" y1="99.02" x2="531.6" y2="127.98" stroke="#444" stroke-width="0.9" />
<line x1="529.4" y1="99.02" x2="533.8" y2="99.02" stroke="#444" stroke-width="0.9" />
<line x1="529.4" y1="127.98" x2="533.8" y2="127.98" stroke="#444" stroke-width="0.9" />
<line x1="540.6" y1="101.55" x2="540.6" y2="134.13" stroke="#444" stroke-width="0.9" />
<line x1="538.4" y1="101.55" x2="542.8" y2="101.55" stroke="#444" stroke-width="0.9" />
<line x1="538.4" y1="134.13" x2="542.8" y2="134.13" stroke="#444" stroke-width="0.9" />
<line x1="549.6" y1="105.89" x2="549.6" y2="156.57" stroke="#444" stroke-width="0.9" />
<line x1="547.4" y1="105.89" x2="551.8" y2="105.89" stroke="#444" stroke-width="0.9" />
<line x1="547.4" y1="156.57" x2="551.8" y2="156.57" stroke="#444" stroke-width="0.9" />
<line x1="558.6" y1="120.74" x2="558.6" y2="162" stroke="#444" stroke-width="0.9" />
<line x1="556.4" y1="120.74" x2="560.8" y2="120.74" stroke="#444" stroke-width="0.9" />
<line x1="556.4" y1="162" x2="560.8" y2="162" stroke="#444" stroke-width="0.9" />
<line x1="567.6" y1="126.17" x2="567.6" y2="163.09" stroke="#444" stroke-width="0.9" />
<line x1="565.4" y1="126.17" x2="569.8" y2="126.17" stroke="#444" stroke-width="0.9" />
<line x1="565.4" y1="163.09" x2="569.8" y2="163.09" stroke="#444" stroke-width="0.9" />
<line x1="576.6" y1="117.12" x2="576.6" y2="160.56" stroke="#444" stroke-width="0.9" />
<line x1="574.4" y1="117.12" x2="578.8" y2="117.12" stroke="#444" stroke-width="0.9" />
<line x1="574.4" y1="160.56" x2="578.8" y2="160.56" stroke="#444" stroke-width="0.9" />
<line x1="585.6" y1="121.1" x2="585.6" y2="160.92" stroke="#444" stroke-width="0.9" />
<line x1="583.4" y1="121.1" x2="587.8" y2="121.1" stroke="#444" stroke-width="0.9" />
<line x1="583.4" y1="160.92" x2="587.8" y2="160.92" stroke="#444" stroke-width="0.9" />
<line x1="594.6" y1="121.46" x2="594.6" y2="162.73" stroke="#444" stroke-width="0.9" />
<line x1="592.4" y1="121.46" x2="596.8" y2="121.46" stroke="#444" stroke-width="0.9" />
<line x1="592.4" y1="162.73" x2="596.8" y2="162.73" stroke="#444" stroke-width="0.9" />
<line x1="603.6" y1="125.8" x2="603.6" y2="169.24" stroke="#444" stroke-width="0.9" />
<line x1="601.4" y1="125.8" x2="605.8" y2="125.8" stroke="#444" stroke-width="0.9" />
<line x1="601.4" y1="169.24" x2="605.8" y2="169.24" stroke="#444" stroke-width="0.9" />
<line x1="612.6" y1="122.18" x2="612.6" y2="163.45" stroke="#444" stroke-width="0.9" />
<line x1="610.4" y1="122.18" x2="614.8" y2="122.18" stroke="#444" stroke-width="0.9" />
<line x1="610.4" y1="163.45" x2="614.8" y2="163.45" stroke="#444" stroke-width="0.9" />
<line x1="621.6" y1="118.93" x2="621.6" y2="170.33" stroke="#444" stroke-width="0.9" />
<line x1="619.4" y1="118.93" x2="623.8" y2="118.93" stroke="#444" stroke-width="0.9" />
<line x1="619.4" y1="170.33" x2="623.8" y2="170.33" stroke="#444" stroke-width="0.9" />
<line x1="630.6" y1="129.42" x2="630.6" y2="158.38" stroke="#444" stroke-width="0.9" />
<line x1="628.4" y1="129.42" x2="632.8" y2="129.42" stroke="#444" stroke-width="0.9" />
<line x1="628.4" y1="158.38" x2="632.8" y2="158.38" stroke="#444" stroke-width="0.9" />
<line x1="639.6" y1="125.08" x2="639.6" y2="151.87" stroke="#444" stroke-width="0.9" />
<line x1="637.4" y1="125.08" x2="641.8" y2="125.08" stroke="#444" stroke-width="0.9" />
<line x1="637.4" y1="151.87" x2="641.8" y2="151.87" stroke="#444" stroke-width="0.9" />
<polyline points="423.6,84.9 432.6,82 441.6,89.6 450.6,92.14 459.6,87.79 468.6,89.6 477.6,80.55 486.6,85.26 495.6,86.71 504.6,102.27 513.6,87.43 522.6,98.29 531.6,113.5 540.6,117.84 549.6,131.23 558.6,141.37 567.6,144.63 576.6,138.84 585.6,141.01 594.6,142.09 603.6,147.52 612.6,142.82 621.6,144.63 630.6,143.9 639.6,138.47" fill="none" stroke="#000" stroke-width="1.6" stroke-linejoin="round" />
<circle cx="423.6" cy="84.9" r="2.1" fill="#000"/>
<circle cx="432.6" cy="82" r="2.1" fill="#000"/>
<circle cx="441.6" cy="89.6" r="2.1" fill="#000"/>
<circle cx="450.6" cy="92.14" r="2.1" fill="#000"/>
<circle cx="459.6" cy="87.79" r="2.1" fill="#000"/>
<circle cx="468.6" cy="89.6" r="2.1" fill="#000"/>
<circle cx="477.6" cy="80.55" r="2.1" fill="#000"/>
<circle cx="486.6" cy="85.26" r="2.1" fill="#000"/>
<circle cx="495.6" cy="86.71" r="2.1" fill="#000"/>
<circle cx="504.6" cy="102.27" r="2.1" fill="#000"/>
<circle cx="513.6" cy="87.43" r="2.1" fill="#000"/>
<circle cx="522.6" cy="98.29" r="2.1" fill="#000"/>
<circle cx="531.6" cy="113.5" r="2.1" fill="#000"/>
<circle cx="540.6" cy="117.84" r="2.1" fill="#000"/>
<circle cx="549.6" cy="131.23" r="2.1" fill="#000"/>
<circle cx="558.6" cy="141.37" r="2.1" fill="#000"/>
<circle cx="567.6" cy="144.63" r="2.1" fill="#000"/>
<circle cx="576.6" cy="138.84" r="2.1" fill="#000"/>
<circle cx="585.6" cy="141.01" r="2.1" fill="#000"/>
<circle cx="594.6" cy="142.09" r="2.1" fill="#000"/>
<circle cx="603.6" cy="147.52" r="2.1" fill="#000"/>
<circle cx="612.6" cy="142.82" r="2.1" fill="#000"/>
<circle cx="621.6" cy="144.63" r="2.1" fill="#000"/>
<circle cx="630.6" cy="143.9" r="2.1" fill="#000"/>
<circle cx="639.6" cy="138.47" r="2.1" fill="#000"/>
<line x1="570" y1="37.7" x2="603.8" y2="37.7" stroke="#c4c4c4" stroke-width="1.6" />
<circle cx="587" cy="37.7" r="1.8" fill="#c4c4c4"/>
<text x="607" y="42.5" font-size="13.5" fill="#000" stroke="#000" stroke-width="0.15" textLength="25.5" lengthAdjust="spacingAndGlyphs" >0-1h</text>
<line x1="570" y1="55.9" x2="603.8" y2="55.9" stroke="#8a8a8a" stroke-width="1.6" />
<circle cx="587" cy="55.9" r="1.8" fill="#8a8a8a"/>
<text x="607" y="60.7" font-size="13.5" fill="#000" stroke="#000" stroke-width="0.15" textLength="25.5" lengthAdjust="spacingAndGlyphs" >1-2h</text>
<line x1="570" y1="74.1" x2="603.8" y2="74.1" stroke="#000" stroke-width="1.6" />
<circle cx="587" cy="74.1" r="1.8" fill="#000"/>
<text x="607" y="78.9" font-size="13.5" fill="#000" stroke="#000" stroke-width="0.15" textLength="25.5" lengthAdjust="spacingAndGlyphs" >2-3h</text>
<line x1="570" y1="93" x2="603.8" y2="93" stroke="#555" stroke-width="1.3" stroke-dasharray="3.5 2.5"/>
<text x="610" y="98.6" font-size="13.5" fill="#000" stroke="#000" stroke-width="0.15" textLength="15.5" lengthAdjust="spacingAndGlyphs" >pH</text>
<text x="0.76" y="277.5" font-size="27.6" textLength="6.69" lengthAdjust="spacingAndGlyphs">(</text>
<text x="9.15" y="277.5" font-size="26" textLength="12.5" lengthAdjust="spacingAndGlyphs">c</text>
<text x="22.66" y="277.5" font-size="27.6" textLength="7.69" lengthAdjust="spacingAndGlyphs">)</text>
<rect x="68.35" y="366.5" width="36.2" height="91.4" fill="#00ffff" stroke="#222" stroke-width="0.6" />
<rect x="68.35" y="340.61" width="36.2" height="25.88" fill="#00ff80" stroke="#222" stroke-width="0.6" />
<rect x="68.35" y="294.46" width="36.2" height="46.15" fill="#08ee08" stroke="#222" stroke-width="0.6" />
<rect x="68.35" y="276.9" width="36.2" height="17.56" fill="#a8ff00" stroke="#222" stroke-width="0.6" />
<rect x="113.4" y="380.07" width="36.2" height="77.83" fill="#00ffff" stroke="#222" stroke-width="0.6" />
<rect x="113.4" y="354.37" width="36.2" height="25.7" fill="#00ff80" stroke="#222" stroke-width="0.6" />
<rect x="113.4" y="323.42" width="36.2" height="30.95" fill="#08ee08" stroke="#222" stroke-width="0.6" />
<rect x="113.4" y="283.42" width="36.2" height="40" fill="#a8ff00" stroke="#222" stroke-width="0.6" />
<rect x="113.4" y="276.9" width="36.2" height="6.52" fill="#ffc800" stroke="#222" stroke-width="0.6" />
<rect x="158.45" y="378.62" width="36.2" height="79.28" fill="#00a8ff" stroke="#222" stroke-width="0.6" />
<rect x="158.45" y="363.78" width="36.2" height="14.84" fill="#00ffff" stroke="#222" stroke-width="0.6" />
<rect x="158.45" y="285.41" width="36.2" height="78.37" fill="#00ff80" stroke="#222" stroke-width="0.6" />
<rect x="158.45" y="276.9" width="36.2" height="8.51" fill="#08ee08" stroke="#222" stroke-width="0.6" />
<rect x="203.5" y="457" width="36.2" height="0.9" fill="#5a00ff" stroke="#222" stroke-width="0.6" />
<rect x="203.5" y="380.79" width="36.2" height="76.2" fill="#2414ff" stroke="#222" stroke-width="0.6" />
<rect x="203.5" y="365.59" width="36.2" height="15.2" fill="#0f5aff" stroke="#222" stroke-width="0.6" />
<rect x="203.5" y="320.52" width="36.2" height="45.07" fill="#00a8ff" stroke="#222" stroke-width="0.6" />
<rect x="203.5" y="285.41" width="36.2" height="35.11" fill="#00ffff" stroke="#222" stroke-width="0.6" />
<rect x="203.5" y="276.9" width="36.2" height="8.51" fill="#00ff80" stroke="#222" stroke-width="0.6" />
<rect x="248.55" y="385.86" width="36.2" height="72.04" fill="#2414ff" stroke="#222" stroke-width="0.6" />
<rect x="248.55" y="358.35" width="36.2" height="27.51" fill="#0f5aff" stroke="#222" stroke-width="0.6" />
<rect x="248.55" y="310.2" width="36.2" height="48.15" fill="#00a8ff" stroke="#222" stroke-width="0.6" />
<rect x="248.55" y="276.9" width="36.2" height="33.3" fill="#00ffff" stroke="#222" stroke-width="0.6" />
<line x1="104.55" y1="366.5" x2="113.4" y2="380.07" stroke="#333" stroke-width="0.6" />
<line x1="104.55" y1="340.61" x2="113.4" y2="354.37" stroke="#333" stroke-width="0.6" />
<line x1="104.55" y1="294.46" x2="113.4" y2="323.42" stroke="#333" stroke-width="0.6" />
<line x1="104.55" y1="276.9" x2="113.4" y2="283.42" stroke="#333" stroke-width="0.6" />
<line x1="104.55" y1="276.9" x2="113.4" y2="276.9" stroke="#333" stroke-width="0.6" />
<line x1="149.6" y1="457.9" x2="158.45" y2="378.62" stroke="#333" stroke-width="0.6" />
<line x1="149.6" y1="380.07" x2="158.45" y2="363.78" stroke="#333" stroke-width="0.6" />
<line x1="149.6" y1="354.37" x2="158.45" y2="285.41" stroke="#333" stroke-width="0.6" />
<line x1="149.6" y1="323.42" x2="158.45" y2="276.9" stroke="#333" stroke-width="0.6" />
<line x1="149.6" y1="283.42" x2="158.45" y2="276.9" stroke="#333" stroke-width="0.6" />
<line x1="149.6" y1="276.9" x2="158.45" y2="276.9" stroke="#333" stroke-width="0.6" />
<line x1="194.65" y1="457.9" x2="203.5" y2="457" stroke="#333" stroke-width="0.6" />
<line x1="194.65" y1="457.9" x2="203.5" y2="380.79" stroke="#333" stroke-width="0.6" />
<line x1="194.65" y1="457.9" x2="203.5" y2="365.59" stroke="#333" stroke-width="0.6" />
<line x1="194.65" y1="378.62" x2="203.5" y2="320.52" stroke="#333" stroke-width="0.6" />
<line x1="194.65" y1="363.78" x2="203.5" y2="285.41" stroke="#333" stroke-width="0.6" />
<line x1="194.65" y1="285.41" x2="203.5" y2="276.9" stroke="#333" stroke-width="0.6" />
<line x1="194.65" y1="276.9" x2="203.5" y2="276.9" stroke="#333" stroke-width="0.6" />
<line x1="239.7" y1="457" x2="248.55" y2="457.9" stroke="#333" stroke-width="0.6" />
<line x1="239.7" y1="380.79" x2="248.55" y2="385.86" stroke="#333" stroke-width="0.6" />
<line x1="239.7" y1="365.59" x2="248.55" y2="358.35" stroke="#333" stroke-width="0.6" />
<line x1="239.7" y1="320.52" x2="248.55" y2="310.2" stroke="#333" stroke-width="0.6" />
<line x1="239.7" y1="285.41" x2="248.55" y2="276.9" stroke="#333" stroke-width="0.6" />
<line x1="239.7" y1="276.9" x2="248.55" y2="276.9" stroke="#333" stroke-width="0.6" />
<line x1="64.6" y1="448.85" x2="66.9" y2="448.85" stroke="#000" stroke-width="0.9" />
<line x1="287.8" y1="448.85" x2="285.5" y2="448.85" stroke="#000" stroke-width="0.9" />
<line x1="64.6" y1="439.8" x2="66.9" y2="439.8" stroke="#000" stroke-width="0.9" />
<line x1="287.8" y1="439.8" x2="285.5" y2="439.8" stroke="#000" stroke-width="0.9" />
<line x1="64.6" y1="430.75" x2="66.9" y2="430.75" stroke="#000" stroke-width="0.9" />
<line x1="287.8" y1="430.75" x2="285.5" y2="430.75" stroke="#000" stroke-width="0.9" />
<line x1="64.6" y1="421.7" x2="66.9" y2="421.7" stroke="#000" stroke-width="0.9" />
<line x1="287.8" y1="421.7" x2="285.5" y2="421.7" stroke="#000" stroke-width="0.9" />
<line x1="64.6" y1="412.65" x2="68.6" y2="412.65" stroke="#000" stroke-width="0.9" />
<line x1="287.8" y1="412.65" x2="283.8" y2="412.65" stroke="#000" stroke-width="0.9" />
<line x1="64.6" y1="403.6" x2="66.9" y2="403.6" stroke="#000" stroke-width="0.9" />
<line x1="287.8" y1="403.6" x2="285.5" y2="403.6" stroke="#000" stroke-width="0.9" />
<line x1="64.6" y1="394.55" x2="66.9" y2="394.55" stroke="#000" stroke-width="0.9" />
<line x1="287.8" y1="394.55" x2="285.5" y2="394.55" stroke="#000" stroke-width="0.9" />
<line x1="64.6" y1="385.5" x2="66.9" y2="385.5" stroke="#000" stroke-width="0.9" />
<line x1="287.8" y1="385.5" x2="285.5" y2="385.5" stroke="#000" stroke-width="0.9" />
<line x1="64.6" y1="376.45" x2="66.9" y2="376.45" stroke="#000" stroke-width="0.9" />
<line x1="287.8" y1="376.45" x2="285.5" y2="376.45" stroke="#000" stroke-width="0.9" />
<line x1="64.6" y1="367.4" x2="68.6" y2="367.4" stroke="#000" stroke-width="0.9" />
<line x1="287.8" y1="367.4" x2="283.8" y2="367.4" stroke="#000" stroke-width="0.9" />
<line x1="64.6" y1="358.35" x2="66.9" y2="358.35" stroke="#000" stroke-width="0.9" />
<line x1="287.8" y1="358.35" x2="285.5" y2="358.35" stroke="#000" stroke-width="0.9" />
<line x1="64.6" y1="349.3" x2="66.9" y2="349.3" stroke="#000" stroke-width="0.9" />
<line x1="287.8" y1="349.3" x2="285.5" y2="349.3" stroke="#000" stroke-width="0.9" />
<line x1="64.6" y1="340.25" x2="66.9" y2="340.25" stroke="#000" stroke-width="0.9" />
<line x1="287.8" y1="340.25" x2="285.5" y2="340.25" stroke="#000" stroke-width="0.9" />
<line x1="64.6" y1="331.2" x2="66.9" y2="331.2" stroke="#000" stroke-width="0.9" />
<line x1="287.8" y1="331.2" x2="285.5" y2="331.2" stroke="#000" stroke-width="0.9" />
<line x1="64.6" y1="322.15" x2="68.6" y2="322.15" stroke="#000" stroke-width="0.9" />
<line x1="287.8" y1="322.15" x2="283.8" y2="322.15" stroke="#000" stroke-width="0.9" />
<line x1="64.6" y1="313.1" x2="66.9" y2="313.1" stroke="#000" stroke-width="0.9" />
<line x1="287.8" y1="313.1" x2="285.5" y2="313.1" stroke="#000" stroke-width="0.9" />
<line x1="64.6" y1="304.05" x2="66.9" y2="304.05" stroke="#000" stroke-width="0.9" />
<line x1="287.8" y1="304.05" x2="285.5" y2="304.05" stroke="#000" stroke-width="0.9" />
<line x1="64.6" y1="295" x2="66.9" y2="295" stroke="#000" stroke-width="0.9" />
<line x1="287.8" y1="295" x2="285.5" y2="295" stroke="#000" stroke-width="0.9" />
<line x1="64.6" y1="285.95" x2="66.9" y2="285.95" stroke="#000" stroke-width="0.9" />
<line x1="287.8" y1="285.95" x2="285.5" y2="285.95" stroke="#000" stroke-width="0.9" />
<rect x="64.6" y="276.9" width="223.2" height="181" fill="none" stroke="#000" stroke-width="1.4" />
<text x="58.8" y="461.7" font-size="13.5" text-anchor="end" fill="#000" stroke="#000" stroke-width="0.15" >0</text>
<text x="58.8" y="416.45" font-size="13.5" text-anchor="end" fill="#000" stroke="#000" stroke-width="0.15" >25</text>
<text x="58.8" y="371.2" font-size="13.5" text-anchor="end" fill="#000" stroke="#000" stroke-width="0.15" >50</text>
<text x="58.8" y="325.95" font-size="13.5" text-anchor="end" fill="#000" stroke="#000" stroke-width="0.15" >75</text>
<text x="58.8" y="280.7" font-size="13.5" text-anchor="end" fill="#000" stroke="#000" stroke-width="0.15" >100</text>
<text x="85.95" y="475" font-size="14.3" text-anchor="middle" fill="#000" stroke="#000" stroke-width="0.15" textLength="18" lengthAdjust="spacingAndGlyphs" >A1</text>
<text x="131" y="475" font-size="14.3" text-anchor="middle" fill="#000" stroke="#000" stroke-width="0.15" textLength="18" lengthAdjust="spacingAndGlyphs" >A2</text>
<text x="176.05" y="475" font-size="14.3" text-anchor="middle" fill="#000" stroke="#000" stroke-width="0.15" textLength="18" lengthAdjust="spacingAndGlyphs" >A3</text>
<text x="221.1" y="475" font-size="14.3" text-anchor="middle" fill="#000" stroke="#000" stroke-width="0.15" textLength="18" lengthAdjust="spacingAndGlyphs" >A4</text>
<text x="266.15" y="475" font-size="14.3" text-anchor="middle" fill="#000" stroke="#000" stroke-width="0.15" textLength="18" lengthAdjust="spacingAndGlyphs" >A5</text>
<text x="26.8" y="367.5" font-size="18.5" text-anchor="middle" fill="#000" stroke="#000" stroke-width="0.15" textLength="23" lengthAdjust="spacingAndGlyphs" transform="rotate(-90 26.8 367.5)" >[%]</text>
<rect x="300.1" y="444.11" width="10.6" height="14.19" fill="#9b00ff" stroke="none" stroke-width="1" />
<rect x="300.1" y="430.22" width="10.6" height="14.19" fill="#5a00ff" stroke="none" stroke-width="1" />
<rect x="300.1" y="416.32" width="10.6" height="14.19" fill="#2414ff" stroke="none" stroke-width="1" />
<rect x="300.1" y="402.43" width="10.6" height="14.19" fill="#0f5aff" stroke="none" stroke-width="1" />
<rect x="300.1" y="388.54" width="10.6" height="14.19" fill="#00a8ff" stroke="none" stroke-width="1" />
<rect x="300.1" y="374.65" width="10.6" height="14.19" fill="#00ffff" stroke="none" stroke-width="1" />
<rect x="300.1" y="360.75" width="10.6" height="14.19" fill="#00ff80" stroke="none" stroke-width="1" />
<rect x="300.1" y="346.86" width="10.6" height="14.19" fill="#08ee08" stroke="none" stroke-width="1" />
<rect x="300.1" y="332.97" width="10.6" height="14.19" fill="#a8ff00" stroke="none" stroke-width="1" />
<rect x="300.1" y="319.08" width="10.6" height="14.19" fill="#ffc800" stroke="none" stroke-width="1" />
<rect x="300.1" y="305.18" width="10.6" height="14.19" fill="#ff7800" stroke="none" stroke-width="1" />
<rect x="300.1" y="291.29" width="10.6" height="14.19" fill="#ff3c00" stroke="none" stroke-width="1" />
<rect x="300.1" y="277.4" width="10.6" height="14.19" fill="#ff0000" stroke="none" stroke-width="1" />
<text x="317" y="462.7" font-size="13" fill="#000" stroke="#000" stroke-width="0.15" >0</text>
<text x="317" y="407.13" font-size="13" fill="#000" stroke="#000" stroke-width="0.15" >2</text>
<text x="317" y="351.56" font-size="13" fill="#000" stroke="#000" stroke-width="0.15" >4</text>
<text x="317" y="295.99" font-size="13" fill="#000" stroke="#000" stroke-width="0.15" >6</text>
<text x="280" y="270" font-size="13.5" fill="#000" stroke="#000" stroke-width="0.15" textLength="57" lengthAdjust="spacingAndGlyphs" >[μm/min]</text>
<text x="349.75" y="277" font-size="27.6" textLength="6.18" lengthAdjust="spacingAndGlyphs">(</text>
<text x="358.37" y="277" font-size="26" textLength="14.95" lengthAdjust="spacingAndGlyphs">d</text>
<text x="375.48" y="277" font-size="27.6" textLength="6.56" lengthAdjust="spacingAndGlyphs">)</text>
<line x1="415.9" y1="447.54" x2="418.2" y2="447.54" stroke="#000" stroke-width="1" />
<line x1="663.1" y1="447.54" x2="660.8" y2="447.54" stroke="#000" stroke-width="1" />
<line x1="415.9" y1="440.37" x2="418.2" y2="440.37" stroke="#000" stroke-width="1" />
<line x1="663.1" y1="440.37" x2="660.8" y2="440.37" stroke="#000" stroke-width="1" />
<line x1="415.9" y1="433.21" x2="418.2" y2="433.21" stroke="#000" stroke-width="1" />
<line x1="663.1" y1="433.21" x2="660.8" y2="433.21" stroke="#000" stroke-width="1" />
<line x1="415.9" y1="426.04" x2="418.2" y2="426.04" stroke="#000" stroke-width="1" />
<line x1="663.1" y1="426.04" x2="660.8" y2="426.04" stroke="#000" stroke-width="1" />
<line x1="415.9" y1="418.88" x2="419.9" y2="418.88" stroke="#000" stroke-width="1" />
<line x1="663.1" y1="418.88" x2="659.1" y2="418.88" stroke="#000" stroke-width="1" />
<line x1="415.9" y1="411.72" x2="418.2" y2="411.72" stroke="#000" stroke-width="1" />
<line x1="663.1" y1="411.72" x2="660.8" y2="411.72" stroke="#000" stroke-width="1" />
<line x1="415.9" y1="404.55" x2="418.2" y2="404.55" stroke="#000" stroke-width="1" />
<line x1="663.1" y1="404.55" x2="660.8" y2="404.55" stroke="#000" stroke-width="1" />
<line x1="415.9" y1="397.39" x2="418.2" y2="397.39" stroke="#000" stroke-width="1" />
<line x1="663.1" y1="397.39" x2="660.8" y2="397.39" stroke="#000" stroke-width="1" />
<line x1="415.9" y1="390.22" x2="418.2" y2="390.22" stroke="#000" stroke-width="1" />
<line x1="663.1" y1="390.22" x2="660.8" y2="390.22" stroke="#000" stroke-width="1" />
<line x1="415.9" y1="383.06" x2="419.9" y2="383.06" stroke="#000" stroke-width="1" />
<line x1="663.1" y1="383.06" x2="659.1" y2="383.06" stroke="#000" stroke-width="1" />
<line x1="415.9" y1="375.9" x2="418.2" y2="375.9" stroke="#000" stroke-width="1" />
<line x1="663.1" y1="375.9" x2="660.8" y2="375.9" stroke="#000" stroke-width="1" />
<line x1="415.9" y1="368.73" x2="418.2" y2="368.73" stroke="#000" stroke-width="1" />
<line x1="663.1" y1="368.73" x2="660.8" y2="368.73" stroke="#000" stroke-width="1" />
<line x1="415.9" y1="361.57" x2="418.2" y2="361.57" stroke="#000" stroke-width="1" />
<line x1="663.1" y1="361.57" x2="660.8" y2="361.57" stroke="#000" stroke-width="1" />
<line x1="415.9" y1="354.4" x2="418.2" y2="354.4" stroke="#000" stroke-width="1" />
<line x1="663.1" y1="354.4" x2="660.8" y2="354.4" stroke="#000" stroke-width="1" />
<line x1="415.9" y1="347.24" x2="419.9" y2="347.24" stroke="#000" stroke-width="1" />
<line x1="663.1" y1="347.24" x2="659.1" y2="347.24" stroke="#000" stroke-width="1" />
<line x1="415.9" y1="340.08" x2="418.2" y2="340.08" stroke="#000" stroke-width="1" />
<line x1="663.1" y1="340.08" x2="660.8" y2="340.08" stroke="#000" stroke-width="1" />
<line x1="415.9" y1="332.91" x2="418.2" y2="332.91" stroke="#000" stroke-width="1" />
<line x1="663.1" y1="332.91" x2="660.8" y2="332.91" stroke="#000" stroke-width="1" />
<line x1="415.9" y1="325.75" x2="418.2" y2="325.75" stroke="#000" stroke-width="1" />
<line x1="663.1" y1="325.75" x2="660.8" y2="325.75" stroke="#000" stroke-width="1" />
<line x1="415.9" y1="318.58" x2="418.2" y2="318.58" stroke="#000" stroke-width="1" />
<line x1="663.1" y1="318.58" x2="660.8" y2="318.58" stroke="#000" stroke-width="1" />
<line x1="415.9" y1="311.42" x2="419.9" y2="311.42" stroke="#000" stroke-width="1" />
<line x1="663.1" y1="311.42" x2="659.1" y2="311.42" stroke="#000" stroke-width="1" />
<line x1="415.9" y1="304.26" x2="418.2" y2="304.26" stroke="#000" stroke-width="1" />
<line x1="663.1" y1="304.26" x2="660.8" y2="304.26" stroke="#000" stroke-width="1" />
<line x1="415.9" y1="297.09" x2="418.2" y2="297.09" stroke="#000" stroke-width="1" />
<line x1="663.1" y1="297.09" x2="660.8" y2="297.09" stroke="#000" stroke-width="1" />
<line x1="415.9" y1="289.93" x2="418.2" y2="289.93" stroke="#000" stroke-width="1" />
<line x1="663.1" y1="289.93" x2="660.8" y2="289.93" stroke="#000" stroke-width="1" />
<line x1="415.9" y1="282.76" x2="418.2" y2="282.76" stroke="#000" stroke-width="1" />
<line x1="663.1" y1="282.76" x2="660.8" y2="282.76" stroke="#000" stroke-width="1" />
<line x1="420.84" y1="454.7" x2="420.84" y2="452.4" stroke="#000" stroke-width="1" />
<line x1="420.84" y1="275.6" x2="420.84" y2="277.9" stroke="#000" stroke-width="1" />
<line x1="430.73" y1="454.7" x2="430.73" y2="452.4" stroke="#000" stroke-width="1" />
<line x1="430.73" y1="275.6" x2="430.73" y2="277.9" stroke="#000" stroke-width="1" />
<line x1="440.62" y1="454.7" x2="440.62" y2="450.7" stroke="#000" stroke-width="1" />
<line x1="440.62" y1="275.6" x2="440.62" y2="279.6" stroke="#000" stroke-width="1" />
<line x1="450.51" y1="454.7" x2="450.51" y2="452.4" stroke="#000" stroke-width="1" />
<line x1="450.51" y1="275.6" x2="450.51" y2="277.9" stroke="#000" stroke-width="1" />
<line x1="460.4" y1="454.7" x2="460.4" y2="452.4" stroke="#000" stroke-width="1" />
<line x1="460.4" y1="275.6" x2="460.4" y2="277.9" stroke="#000" stroke-width="1" />
<line x1="470.28" y1="454.7" x2="470.28" y2="452.4" stroke="#000" stroke-width="1" />
<line x1="470.28" y1="275.6" x2="470.28" y2="277.9" stroke="#000" stroke-width="1" />
<line x1="480.17" y1="454.7" x2="480.17" y2="452.4" stroke="#000" stroke-width="1" />
<line x1="480.17" y1="275.6" x2="480.17" y2="277.9" stroke="#000" stroke-width="1" />
<line x1="490.06" y1="454.7" x2="490.06" y2="450.7" stroke="#000" stroke-width="1" />
<line x1="490.06" y1="275.6" x2="490.06" y2="279.6" stroke="#000" stroke-width="1" />
<line x1="499.95" y1="454.7" x2="499.95" y2="452.4" stroke="#000" stroke-width="1" />
<line x1="499.95" y1="275.6" x2="499.95" y2="277.9" stroke="#000" stroke-width="1" />
<line x1="509.84" y1="454.7" x2="509.84" y2="452.4" stroke="#000" stroke-width="1" />
<line x1="509.84" y1="275.6" x2="509.84" y2="277.9" stroke="#000" stroke-width="1" />
<line x1="519.72" y1="454.7" x2="519.72" y2="452.4" stroke="#000" stroke-width="1" />
<line x1="519.72" y1="275.6" x2="519.72" y2="277.9" stroke="#000" stroke-width="1" />
<line x1="529.61" y1="454.7" x2="529.61" y2="452.4" stroke="#000" stroke-width="1" />
<line x1="529.61" y1="275.6" x2="529.61" y2="277.9" stroke="#000" stroke-width="1" />
<line x1="539.5" y1="454.7" x2="539.5" y2="450.7" stroke="#000" stroke-width="1" />
<line x1="539.5" y1="275.6" x2="539.5" y2="279.6" stroke="#000" stroke-width="1" />
<line x1="549.39" y1="454.7" x2="549.39" y2="452.4" stroke="#000" stroke-width="1" />
<line x1="549.39" y1="275.6" x2="549.39" y2="277.9" stroke="#000" stroke-width="1" />
<line x1="559.28" y1="454.7" x2="559.28" y2="452.4" stroke="#000" stroke-width="1" />
<line x1="559.28" y1="275.6" x2="559.28" y2="277.9" stroke="#000" stroke-width="1" />
<line x1="569.16" y1="454.7" x2="569.16" y2="452.4" stroke="#000" stroke-width="1" />
<line x1="569.16" y1="275.6" x2="569.16" y2="277.9" stroke="#000" stroke-width="1" />
<line x1="579.05" y1="454.7" x2="579.05" y2="452.4" stroke="#000" stroke-width="1" />
<line x1="579.05" y1="275.6" x2="579.05" y2="277.9" stroke="#000" stroke-width="1" />
<line x1="588.94" y1="454.7" x2="588.94" y2="450.7" stroke="#000" stroke-width="1" />
<line x1="588.94" y1="275.6" x2="588.94" y2="279.6" stroke="#000" stroke-width="1" />
<line x1="598.83" y1="454.7" x2="598.83" y2="452.4" stroke="#000" stroke-width="1" />
<line x1="598.83" y1="275.6" x2="598.83" y2="277.9" stroke="#000" stroke-width="1" />
<line x1="608.72" y1="454.7" x2="608.72" y2="452.4" stroke="#000" stroke-width="1" />
<line x1="608.72" y1="275.6" x2="608.72" y2="277.9" stroke="#000" stroke-width="1" />
<line x1="618.6" y1="454.7" x2="618.6" y2="452.4" stroke="#000" stroke-width="1" />
<line x1="618.6" y1="275.6" x2="618.6" y2="277.9" stroke="#000" stroke-width="1" />
<line x1="628.49" y1="454.7" x2="628.49" y2="452.4" stroke="#000" stroke-width="1" />
<line x1="628.49" y1="275.6" x2="628.49" y2="277.9" stroke="#000" stroke-width="1" />
<line x1="638.38" y1="454.7" x2="638.38" y2="450.7" stroke="#000" stroke-width="1" />
<line x1="638.38" y1="275.6" x2="638.38" y2="279.6" stroke="#000" stroke-width="1" />
<line x1="648.27" y1="454.7" x2="648.27" y2="452.4" stroke="#000" stroke-width="1" />
<line x1="648.27" y1="275.6" x2="648.27" y2="277.9" stroke="#000" stroke-width="1" />
<line x1="658.16" y1="454.7" x2="658.16" y2="452.4" stroke="#000" stroke-width="1" />
<line x1="658.16" y1="275.6" x2="658.16" y2="277.9" stroke="#000" stroke-width="1" />
<rect x="415.9" y="275.6" width="247.2" height="179.1" fill="none" stroke="#000" stroke-width="1.4" />
<text x="410.4" y="458.4" font-size="13.3" text-anchor="end" fill="#000" stroke="#000" stroke-width="0.15" >0</text>
<text x="410.4" y="422.58" font-size="13.3" text-anchor="end" fill="#000" stroke="#000" stroke-width="0.15" >1</text>
<text x="410.4" y="386.76" font-size="13.3" text-anchor="end" fill="#000" stroke="#000" stroke-width="0.15" >2</text>
<text x="410.4" y="350.94" font-size="13.3" text-anchor="end" fill="#000" stroke="#000" stroke-width="0.15" >3</text>
<text x="410.4" y="315.12" font-size="13.3" text-anchor="end" fill="#000" stroke="#000" stroke-width="0.15" >4</text>
<text x="410.4" y="279.3" font-size="13.3" text-anchor="end" fill="#000" stroke="#000" stroke-width="0.15" >5</text>
<text x="440.62" y="469.5" font-size="13" text-anchor="middle" fill="#000" stroke="#000" stroke-width="0.15" >−2</text>
<text x="490.06" y="469.5" font-size="13" text-anchor="middle" fill="#000" stroke="#000" stroke-width="0.15" >−1</text>
<text x="539.5" y="469.5" font-size="13" text-anchor="middle" fill="#000" stroke="#000" stroke-width="0.15" >0</text>
<text x="588.94" y="469.5" font-size="13" text-anchor="middle" fill="#000" stroke="#000" stroke-width="0.15" >1</text>
<text x="638.38" y="469.5" font-size="13" text-anchor="middle" fill="#000" stroke="#000" stroke-width="0.15" >2</text>
<text x="442.7" y="485.8" font-size="14" fill="#000" stroke="#000" stroke-width="0.15" textLength="192" lengthAdjust="spacingAndGlyphs" >Location from the center [mm]</text>
<text x="396.6" y="474.5" font-size="14" fill="#000" stroke="#000" stroke-width="0.15" textLength="219.7" lengthAdjust="spacingAndGlyphs" transform="rotate(-90 396.6 474.5)" >Average migration speed [μm/min]</text>
<line x1="420.84" y1="376.25" x2="420.84" y2="408.49" stroke="#ee5050" stroke-width="0.8" />
<line x1="418.64" y1="376.25" x2="423.04" y2="376.25" stroke="#ee5050" stroke-width="0.8" />
<line x1="418.64" y1="408.49" x2="423.04" y2="408.49" stroke="#ee5050" stroke-width="0.8" />
<line x1="430.73" y1="376.25" x2="430.73" y2="413.51" stroke="#ee5050" stroke-width="0.8" />
<line x1="428.53" y1="376.25" x2="432.93" y2="376.25" stroke="#ee5050" stroke-width="0.8" />
<line x1="428.53" y1="413.51" x2="432.93" y2="413.51" stroke="#ee5050" stroke-width="0.8" />
<line x1="440.62" y1="386.64" x2="440.62" y2="412.43" stroke="#ee5050" stroke-width="0.8" />
<line x1="438.42" y1="386.64" x2="442.82" y2="386.64" stroke="#ee5050" stroke-width="0.8" />
<line x1="438.42" y1="412.43" x2="442.82" y2="412.43" stroke="#ee5050" stroke-width="0.8" />
<line x1="450.51" y1="376.25" x2="450.51" y2="413.51" stroke="#ee5050" stroke-width="0.8" />
<line x1="448.31" y1="376.25" x2="452.71" y2="376.25" stroke="#ee5050" stroke-width="0.8" />
<line x1="448.31" y1="413.51" x2="452.71" y2="413.51" stroke="#ee5050" stroke-width="0.8" />
<line x1="460.4" y1="376.25" x2="460.4" y2="410.64" stroke="#ee5050" stroke-width="0.8" />
<line x1="458.2" y1="376.25" x2="462.6" y2="376.25" stroke="#ee5050" stroke-width="0.8" />
<line x1="458.2" y1="410.64" x2="462.6" y2="410.64" stroke="#ee5050" stroke-width="0.8" />
<line x1="470.28" y1="370.52" x2="470.28" y2="416.37" stroke="#ee5050" stroke-width="0.8" />
<line x1="468.08" y1="370.52" x2="472.48" y2="370.52" stroke="#ee5050" stroke-width="0.8" />
<line x1="468.08" y1="416.37" x2="472.48" y2="416.37" stroke="#ee5050" stroke-width="0.8" />
<line x1="480.17" y1="377.33" x2="480.17" y2="407.42" stroke="#ee5050" stroke-width="0.8" />
<line x1="477.97" y1="377.33" x2="482.37" y2="377.33" stroke="#ee5050" stroke-width="0.8" />
<line x1="477.97" y1="407.42" x2="482.37" y2="407.42" stroke="#ee5050" stroke-width="0.8" />
<line x1="490.06" y1="380.55" x2="490.06" y2="413.51" stroke="#ee5050" stroke-width="0.8" />
<line x1="487.86" y1="380.55" x2="492.26" y2="380.55" stroke="#ee5050" stroke-width="0.8" />
<line x1="487.86" y1="413.51" x2="492.26" y2="413.51" stroke="#ee5050" stroke-width="0.8" />
<line x1="499.95" y1="383.42" x2="499.95" y2="410.64" stroke="#ee5050" stroke-width="0.8" />
<line x1="497.75" y1="383.42" x2="502.15" y2="383.42" stroke="#ee5050" stroke-width="0.8" />
<line x1="497.75" y1="410.64" x2="502.15" y2="410.64" stroke="#ee5050" stroke-width="0.8" />
<line x1="509.84" y1="384.13" x2="509.84" y2="403.48" stroke="#ee5050" stroke-width="0.8" />
<line x1="507.64" y1="384.13" x2="512.04" y2="384.13" stroke="#ee5050" stroke-width="0.8" />
<line x1="507.64" y1="403.48" x2="512.04" y2="403.48" stroke="#ee5050" stroke-width="0.8" />
<line x1="519.72" y1="385.93" x2="519.72" y2="413.87" stroke="#ee5050" stroke-width="0.8" />
<line x1="517.52" y1="385.93" x2="521.92" y2="385.93" stroke="#ee5050" stroke-width="0.8" />
<line x1="517.52" y1="413.87" x2="521.92" y2="413.87" stroke="#ee5050" stroke-width="0.8" />
<line x1="529.61" y1="393.09" x2="529.61" y2="418.16" stroke="#ee5050" stroke-width="0.8" />
<line x1="527.41" y1="393.09" x2="531.81" y2="393.09" stroke="#ee5050" stroke-width="0.8" />
<line x1="527.41" y1="418.16" x2="531.81" y2="418.16" stroke="#ee5050" stroke-width="0.8" />
<line x1="539.5" y1="390.22" x2="539.5" y2="404.55" stroke="#ee5050" stroke-width="0.8" />
<line x1="537.3" y1="390.22" x2="541.7" y2="390.22" stroke="#ee5050" stroke-width="0.8" />
<line x1="537.3" y1="404.55" x2="541.7" y2="404.55" stroke="#ee5050" stroke-width="0.8" />
<line x1="549.39" y1="388.07" x2="549.39" y2="420.31" stroke="#ee5050" stroke-width="0.8" />
<line x1="547.19" y1="388.07" x2="551.59" y2="388.07" stroke="#ee5050" stroke-width="0.8" />
<line x1="547.19" y1="420.31" x2="551.59" y2="420.31" stroke="#ee5050" stroke-width="0.8" />
<line x1="559.28" y1="385.21" x2="559.28" y2="417.45" stroke="#ee5050" stroke-width="0.8" />
<line x1="557.08" y1="385.21" x2="561.48" y2="385.21" stroke="#ee5050" stroke-width="0.8" />
<line x1="557.08" y1="417.45" x2="561.48" y2="417.45" stroke="#ee5050" stroke-width="0.8" />
<line x1="569.16" y1="376.97" x2="569.16" y2="416.37" stroke="#ee5050" stroke-width="0.8" />
<line x1="566.96" y1="376.97" x2="571.36" y2="376.97" stroke="#ee5050" stroke-width="0.8" />
<line x1="566.96" y1="416.37" x2="571.36" y2="416.37" stroke="#ee5050" stroke-width="0.8" />
<line x1="579.05" y1="379.48" x2="579.05" y2="418.88" stroke="#ee5050" stroke-width="0.8" />
<line x1="576.85" y1="379.48" x2="581.25" y2="379.48" stroke="#ee5050" stroke-width="0.8" />
<line x1="576.85" y1="418.88" x2="581.25" y2="418.88" stroke="#ee5050" stroke-width="0.8" />
<line x1="588.94" y1="376.25" x2="588.94" y2="415.66" stroke="#ee5050" stroke-width="0.8" />
<line x1="586.74" y1="376.25" x2="591.14" y2="376.25" stroke="#ee5050" stroke-width="0.8" />
<line x1="586.74" y1="415.66" x2="591.14" y2="415.66" stroke="#ee5050" stroke-width="0.8" />
<line x1="598.83" y1="376.25" x2="598.83" y2="415.66" stroke="#ee5050" stroke-width="0.8" />
<line x1="596.63" y1="376.25" x2="601.03" y2="376.25" stroke="#ee5050" stroke-width="0.8" />
<line x1="596.63" y1="415.66" x2="601.03" y2="415.66" stroke="#ee5050" stroke-width="0.8" />
<line x1="608.72" y1="370.16" x2="608.72" y2="413.15" stroke="#ee5050" stroke-width="0.8" />
<line x1="606.52" y1="370.16" x2="610.92" y2="370.16" stroke="#ee5050" stroke-width="0.8" />
<line x1="606.52" y1="413.15" x2="610.92" y2="413.15" stroke="#ee5050" stroke-width="0.8" />
<line x1="618.6" y1="370.16" x2="618.6" y2="413.15" stroke="#ee5050" stroke-width="0.8" />
<line x1="616.4" y1="370.16" x2="620.8" y2="370.16" stroke="#ee5050" stroke-width="0.8" />
<line x1="616.4" y1="413.15" x2="620.8" y2="413.15" stroke="#ee5050" stroke-width="0.8" />
<line x1="628.49" y1="374.82" x2="628.49" y2="414.22" stroke="#ee5050" stroke-width="0.8" />
<line x1="626.29" y1="374.82" x2="630.69" y2="374.82" stroke="#ee5050" stroke-width="0.8" />
<line x1="626.29" y1="414.22" x2="630.69" y2="414.22" stroke="#ee5050" stroke-width="0.8" />
<line x1="638.38" y1="379.12" x2="638.38" y2="414.94" stroke="#ee5050" stroke-width="0.8" />
<line x1="636.18" y1="379.12" x2="640.58" y2="379.12" stroke="#ee5050" stroke-width="0.8" />
<line x1="636.18" y1="414.94" x2="640.58" y2="414.94" stroke="#ee5050" stroke-width="0.8" />
<line x1="648.27" y1="381.99" x2="648.27" y2="414.22" stroke="#ee5050" stroke-width="0.8" />
<line x1="646.07" y1="381.99" x2="650.47" y2="381.99" stroke="#ee5050" stroke-width="0.8" />
<line x1="646.07" y1="414.22" x2="650.47" y2="414.22" stroke="#ee5050" stroke-width="0.8" />
<line x1="658.16" y1="371.6" x2="658.16" y2="407.42" stroke="#ee5050" stroke-width="0.8" />
<line x1="655.96" y1="371.6" x2="660.36" y2="371.6" stroke="#ee5050" stroke-width="0.8" />
<line x1="655.96" y1="407.42" x2="660.36" y2="407.42" stroke="#ee5050" stroke-width="0.8" />
<polyline points="420.84,392.37 430.73,394.88 440.62,399.54 450.51,394.88 460.4,393.45 470.28,393.45 480.17,392.37 490.06,397.03 499.95,397.03 509.84,393.81 519.72,399.9 529.61,405.63 539.5,397.39 549.39,404.19 559.28,401.33 569.16,396.67 579.05,399.18 588.94,395.96 598.83,395.96 608.72,391.66 618.6,391.66 628.49,394.52 638.38,397.03 648.27,398.1 658.16,389.51" fill="none" stroke="#ee1c1c" stroke-width="1.5" stroke-linejoin="round" />
<circle cx="420.84" cy="392.37" r="2.0" fill="#ee1c1c"/>
<circle cx="430.73" cy="394.88" r="2.0" fill="#ee1c1c"/>
<circle cx="440.62" cy="399.54" r="2.0" fill="#ee1c1c"/>
<circle cx="450.51" cy="394.88" r="2.0" fill="#ee1c1c"/>
<circle cx="460.4" cy="393.45" r="2.0" fill="#ee1c1c"/>
<circle cx="470.28" cy="393.45" r="2.0" fill="#ee1c1c"/>
<circle cx="480.17" cy="392.37" r="2.0" fill="#ee1c1c"/>
<circle cx="490.06" cy="397.03" r="2.0" fill="#ee1c1c"/>
<circle cx="499.95" cy="397.03" r="2.0" fill="#ee1c1c"/>
<circle cx="509.84" cy="393.81" r="2.0" fill="#ee1c1c"/>
<circle cx="519.72" cy="399.9" r="2.0" fill="#ee1c1c"/>
<circle cx="529.61" cy="405.63" r="2.0" fill="#ee1c1c"/>
<circle cx="539.5" cy="397.39" r="2.0" fill="#ee1c1c"/>
<circle cx="549.39" cy="404.19" r="2.0" fill="#ee1c1c"/>
<circle cx="559.28" cy="401.33" r="2.0" fill="#ee1c1c"/>
<circle cx="569.16" cy="396.67" r="2.0" fill="#ee1c1c"/>
<circle cx="579.05" cy="399.18" r="2.0" fill="#ee1c1c"/>
<circle cx="588.94" cy="395.96" r="2.0" fill="#ee1c1c"/>
<circle cx="598.83" cy="395.96" r="2.0" fill="#ee1c1c"/>
<circle cx="608.72" cy="391.66" r="2.0" fill="#ee1c1c"/>
<circle cx="618.6" cy="391.66" r="2.0" fill="#ee1c1c"/>
<circle cx="628.49" cy="394.52" r="2.0" fill="#ee1c1c"/>
<circle cx="638.38" cy="397.03" r="2.0" fill="#ee1c1c"/>
<circle cx="648.27" cy="398.1" r="2.0" fill="#ee1c1c"/>
<circle cx="658.16" cy="389.51" r="2.0" fill="#ee1c1c"/>
<line x1="420.84" y1="334.7" x2="420.84" y2="356.19" stroke="#5a5aee" stroke-width="0.8" />
<line x1="418.64" y1="334.7" x2="423.04" y2="334.7" stroke="#5a5aee" stroke-width="0.8" />
<line x1="418.64" y1="356.19" x2="423.04" y2="356.19" stroke="#5a5aee" stroke-width="0.8" />
<line x1="430.73" y1="337.93" x2="430.73" y2="355.84" stroke="#5a5aee" stroke-width="0.8" />
<line x1="428.53" y1="337.93" x2="432.93" y2="337.93" stroke="#5a5aee" stroke-width="0.8" />
<line x1="428.53" y1="355.84" x2="432.93" y2="355.84" stroke="#5a5aee" stroke-width="0.8" />
<line x1="440.62" y1="333.99" x2="440.62" y2="355.48" stroke="#5a5aee" stroke-width="0.8" />
<line x1="438.42" y1="333.99" x2="442.82" y2="333.99" stroke="#5a5aee" stroke-width="0.8" />
<line x1="438.42" y1="355.48" x2="442.82" y2="355.48" stroke="#5a5aee" stroke-width="0.8" />
<line x1="450.51" y1="336.14" x2="450.51" y2="357.63" stroke="#5a5aee" stroke-width="0.8" />
<line x1="448.31" y1="336.14" x2="452.71" y2="336.14" stroke="#5a5aee" stroke-width="0.8" />
<line x1="448.31" y1="357.63" x2="452.71" y2="357.63" stroke="#5a5aee" stroke-width="0.8" />
<line x1="460.4" y1="336.49" x2="460.4" y2="361.57" stroke="#5a5aee" stroke-width="0.8" />
<line x1="458.2" y1="336.49" x2="462.6" y2="336.49" stroke="#5a5aee" stroke-width="0.8" />
<line x1="458.2" y1="361.57" x2="462.6" y2="361.57" stroke="#5a5aee" stroke-width="0.8" />
<line x1="470.28" y1="337.93" x2="470.28" y2="363" stroke="#5a5aee" stroke-width="0.8" />
<line x1="468.08" y1="337.93" x2="472.48" y2="337.93" stroke="#5a5aee" stroke-width="0.8" />
<line x1="468.08" y1="363" x2="472.48" y2="363" stroke="#5a5aee" stroke-width="0.8" />
<line x1="480.17" y1="339.36" x2="480.17" y2="368.02" stroke="#5a5aee" stroke-width="0.8" />
<line x1="477.97" y1="339.36" x2="482.37" y2="339.36" stroke="#5a5aee" stroke-width="0.8" />
<line x1="477.97" y1="368.02" x2="482.37" y2="368.02" stroke="#5a5aee" stroke-width="0.8" />
<line x1="490.06" y1="335.78" x2="490.06" y2="357.27" stroke="#5a5aee" stroke-width="0.8" />
<line x1="487.86" y1="335.78" x2="492.26" y2="335.78" stroke="#5a5aee" stroke-width="0.8" />
<line x1="487.86" y1="357.27" x2="492.26" y2="357.27" stroke="#5a5aee" stroke-width="0.8" />
<line x1="499.95" y1="329.33" x2="499.95" y2="357.99" stroke="#5a5aee" stroke-width="0.8" />
<line x1="497.75" y1="329.33" x2="502.15" y2="329.33" stroke="#5a5aee" stroke-width="0.8" />
<line x1="497.75" y1="357.99" x2="502.15" y2="357.99" stroke="#5a5aee" stroke-width="0.8" />
<line x1="509.84" y1="339" x2="509.84" y2="367.66" stroke="#5a5aee" stroke-width="0.8" />
<line x1="507.64" y1="339" x2="512.04" y2="339" stroke="#5a5aee" stroke-width="0.8" />
<line x1="507.64" y1="367.66" x2="512.04" y2="367.66" stroke="#5a5aee" stroke-width="0.8" />
<line x1="519.72" y1="326.11" x2="519.72" y2="347.6" stroke="#5a5aee" stroke-width="0.8" />
<line x1="517.52" y1="326.11" x2="521.92" y2="326.11" stroke="#5a5aee" stroke-width="0.8" />
<line x1="517.52" y1="347.6" x2="521.92" y2="347.6" stroke="#5a5aee" stroke-width="0.8" />
<line x1="529.61" y1="335.06" x2="529.61" y2="363.72" stroke="#5a5aee" stroke-width="0.8" />
<line x1="527.41" y1="335.06" x2="531.81" y2="335.06" stroke="#5a5aee" stroke-width="0.8" />
<line x1="527.41" y1="363.72" x2="531.81" y2="363.72" stroke="#5a5aee" stroke-width="0.8" />
<line x1="539.5" y1="336.14" x2="539.5" y2="357.63" stroke="#5a5aee" stroke-width="0.8" />
<line x1="537.3" y1="336.14" x2="541.7" y2="336.14" stroke="#5a5aee" stroke-width="0.8" />
<line x1="537.3" y1="357.63" x2="541.7" y2="357.63" stroke="#5a5aee" stroke-width="0.8" />
<line x1="549.39" y1="331.12" x2="549.39" y2="356.19" stroke="#5a5aee" stroke-width="0.8" />
<line x1="547.19" y1="331.12" x2="551.59" y2="331.12" stroke="#5a5aee" stroke-width="0.8" />
<line x1="547.19" y1="356.19" x2="551.59" y2="356.19" stroke="#5a5aee" stroke-width="0.8" />
<line x1="559.28" y1="325.75" x2="559.28" y2="352.25" stroke="#5a5aee" stroke-width="0.8" />
<line x1="557.08" y1="325.75" x2="561.48" y2="325.75" stroke="#5a5aee" stroke-width="0.8" />
<line x1="557.08" y1="352.25" x2="561.48" y2="352.25" stroke="#5a5aee" stroke-width="0.8" />
<line x1="569.16" y1="322.88" x2="569.16" y2="365.87" stroke="#5a5aee" stroke-width="0.8" />
<line x1="566.96" y1="322.88" x2="571.36" y2="322.88" stroke="#5a5aee" stroke-width="0.8" />
<line x1="566.96" y1="365.87" x2="571.36" y2="365.87" stroke="#5a5aee" stroke-width="0.8" />
<line x1="579.05" y1="331.12" x2="579.05" y2="356.19" stroke="#5a5aee" stroke-width="0.8" />
<line x1="576.85" y1="331.12" x2="581.25" y2="331.12" stroke="#5a5aee" stroke-width="0.8" />
<line x1="576.85" y1="356.19" x2="581.25" y2="356.19" stroke="#5a5aee" stroke-width="0.8" />
<line x1="588.94" y1="327.9" x2="588.94" y2="356.55" stroke="#5a5aee" stroke-width="0.8" />
<line x1="586.74" y1="327.9" x2="591.14" y2="327.9" stroke="#5a5aee" stroke-width="0.8" />
<line x1="586.74" y1="356.55" x2="591.14" y2="356.55" stroke="#5a5aee" stroke-width="0.8" />
<line x1="598.83" y1="336.49" x2="598.83" y2="354.4" stroke="#5a5aee" stroke-width="0.8" />
<line x1="596.63" y1="336.49" x2="601.03" y2="336.49" stroke="#5a5aee" stroke-width="0.8" />
<line x1="596.63" y1="354.4" x2="601.03" y2="354.4" stroke="#5a5aee" stroke-width="0.8" />
<line x1="608.72" y1="332.91" x2="608.72" y2="359.42" stroke="#5a5aee" stroke-width="0.8" />
<line x1="606.52" y1="332.91" x2="610.92" y2="332.91" stroke="#5a5aee" stroke-width="0.8" />
<line x1="606.52" y1="359.42" x2="610.92" y2="359.42" stroke="#5a5aee" stroke-width="0.8" />
<line x1="618.6" y1="334.7" x2="618.6" y2="356.19" stroke="#5a5aee" stroke-width="0.8" />
<line x1="616.4" y1="334.7" x2="620.8" y2="334.7" stroke="#5a5aee" stroke-width="0.8" />
<line x1="616.4" y1="356.19" x2="620.8" y2="356.19" stroke="#5a5aee" stroke-width="0.8" />
<line x1="628.49" y1="340.43" x2="628.49" y2="369.09" stroke="#5a5aee" stroke-width="0.8" />
<line x1="626.29" y1="340.43" x2="630.69" y2="340.43" stroke="#5a5aee" stroke-width="0.8" />
<line x1="626.29" y1="369.09" x2="630.69" y2="369.09" stroke="#5a5aee" stroke-width="0.8" />
<line x1="638.38" y1="336.49" x2="638.38" y2="357.99" stroke="#5a5aee" stroke-width="0.8" />
<line x1="636.18" y1="336.49" x2="640.58" y2="336.49" stroke="#5a5aee" stroke-width="0.8" />
<line x1="636.18" y1="357.99" x2="640.58" y2="357.99" stroke="#5a5aee" stroke-width="0.8" />
<line x1="648.27" y1="340.79" x2="648.27" y2="355.12" stroke="#5a5aee" stroke-width="0.8" />
<line x1="646.07" y1="340.79" x2="650.47" y2="340.79" stroke="#5a5aee" stroke-width="0.8" />
<line x1="646.07" y1="355.12" x2="650.47" y2="355.12" stroke="#5a5aee" stroke-width="0.8" />
<line x1="658.16" y1="341.51" x2="658.16" y2="352.25" stroke="#5a5aee" stroke-width="0.8" />
<line x1="655.96" y1="341.51" x2="660.36" y2="341.51" stroke="#5a5aee" stroke-width="0.8" />
<line x1="655.96" y1="352.25" x2="660.36" y2="352.25" stroke="#5a5aee" stroke-width="0.8" />
<polyline points="420.84,345.45 430.73,346.88 440.62,344.73 450.51,346.88 460.4,349.03 470.28,350.46 480.17,353.69 490.06,346.52 499.95,343.66 509.84,353.33 519.72,336.85 529.61,349.39 539.5,346.88 549.39,343.66 559.28,339 569.16,344.37 579.05,343.66 588.94,342.23 598.83,345.45 608.72,346.17 618.6,345.45 628.49,354.76 638.38,347.24 648.27,347.96 658.16,346.88" fill="none" stroke="#1a1ae6" stroke-width="1.5" stroke-linejoin="round" />
<circle cx="420.84" cy="345.45" r="2.0" fill="#1a1ae6"/>
<circle cx="430.73" cy="346.88" r="2.0" fill="#1a1ae6"/>
<circle cx="440.62" cy="344.73" r="2.0" fill="#1a1ae6"/>
<circle cx="450.51" cy="346.88" r="2.0" fill="#1a1ae6"/>
<circle cx="460.4" cy="349.03" r="2.0" fill="#1a1ae6"/>
<circle cx="470.28" cy="350.46" r="2.0" fill="#1a1ae6"/>
<circle cx="480.17" cy="353.69" r="2.0" fill="#1a1ae6"/>
<circle cx="490.06" cy="346.52" r="2.0" fill="#1a1ae6"/>
<circle cx="499.95" cy="343.66" r="2.0" fill="#1a1ae6"/>
<circle cx="509.84" cy="353.33" r="2.0" fill="#1a1ae6"/>
<circle cx="519.72" cy="336.85" r="2.0" fill="#1a1ae6"/>
<circle cx="529.61" cy="349.39" r="2.0" fill="#1a1ae6"/>
<circle cx="539.5" cy="346.88" r="2.0" fill="#1a1ae6"/>
<circle cx="549.39" cy="343.66" r="2.0" fill="#1a1ae6"/>
<circle cx="559.28" cy="339" r="2.0" fill="#1a1ae6"/>
<circle cx="569.16" cy="344.37" r="2.0" fill="#1a1ae6"/>
<circle cx="579.05" cy="343.66" r="2.0" fill="#1a1ae6"/>
<circle cx="588.94" cy="342.23" r="2.0" fill="#1a1ae6"/>
<circle cx="598.83" cy="345.45" r="2.0" fill="#1a1ae6"/>
<circle cx="608.72" cy="346.17" r="2.0" fill="#1a1ae6"/>
<circle cx="618.6" cy="345.45" r="2.0" fill="#1a1ae6"/>
<circle cx="628.49" cy="354.76" r="2.0" fill="#1a1ae6"/>
<circle cx="638.38" cy="347.24" r="2.0" fill="#1a1ae6"/>
<circle cx="648.27" cy="347.96" r="2.0" fill="#1a1ae6"/>
<circle cx="658.16" cy="346.88" r="2.0" fill="#1a1ae6"/>
<line x1="420.84" y1="335.06" x2="420.84" y2="349.39" stroke="#66ee66" stroke-width="0.8" />
<line x1="418.64" y1="335.06" x2="423.04" y2="335.06" stroke="#66ee66" stroke-width="0.8" />
<line x1="418.64" y1="349.39" x2="423.04" y2="349.39" stroke="#66ee66" stroke-width="0.8" />
<line x1="430.73" y1="333.63" x2="430.73" y2="347.96" stroke="#66ee66" stroke-width="0.8" />
<line x1="428.53" y1="333.63" x2="432.93" y2="333.63" stroke="#66ee66" stroke-width="0.8" />
<line x1="428.53" y1="347.96" x2="432.93" y2="347.96" stroke="#66ee66" stroke-width="0.8" />
<line x1="440.62" y1="332.91" x2="440.62" y2="347.24" stroke="#66ee66" stroke-width="0.8" />
<line x1="438.42" y1="332.91" x2="442.82" y2="332.91" stroke="#66ee66" stroke-width="0.8" />
<line x1="438.42" y1="347.24" x2="442.82" y2="347.24" stroke="#66ee66" stroke-width="0.8" />
<line x1="450.51" y1="332.55" x2="450.51" y2="346.88" stroke="#66ee66" stroke-width="0.8" />
<line x1="448.31" y1="332.55" x2="452.71" y2="332.55" stroke="#66ee66" stroke-width="0.8" />
<line x1="448.31" y1="346.88" x2="452.71" y2="346.88" stroke="#66ee66" stroke-width="0.8" />
<line x1="460.4" y1="333.63" x2="460.4" y2="347.96" stroke="#66ee66" stroke-width="0.8" />
<line x1="458.2" y1="333.63" x2="462.6" y2="333.63" stroke="#66ee66" stroke-width="0.8" />
<line x1="458.2" y1="347.96" x2="462.6" y2="347.96" stroke="#66ee66" stroke-width="0.8" />
<line x1="470.28" y1="332.55" x2="470.28" y2="350.46" stroke="#66ee66" stroke-width="0.8" />
<line x1="468.08" y1="332.55" x2="472.48" y2="332.55" stroke="#66ee66" stroke-width="0.8" />
<line x1="468.08" y1="350.46" x2="472.48" y2="350.46" stroke="#66ee66" stroke-width="0.8" />
<line x1="480.17" y1="330.4" x2="480.17" y2="348.31" stroke="#66ee66" stroke-width="0.8" />
<line x1="477.97" y1="330.4" x2="482.37" y2="330.4" stroke="#66ee66" stroke-width="0.8" />
<line x1="477.97" y1="348.31" x2="482.37" y2="348.31" stroke="#66ee66" stroke-width="0.8" />
<line x1="490.06" y1="332.55" x2="490.06" y2="350.46" stroke="#66ee66" stroke-width="0.8" />
<line x1="487.86" y1="332.55" x2="492.26" y2="332.55" stroke="#66ee66" stroke-width="0.8" />
<line x1="487.86" y1="350.46" x2="492.26" y2="350.46" stroke="#66ee66" stroke-width="0.8" />
<line x1="499.95" y1="341.15" x2="499.95" y2="355.48" stroke="#66ee66" stroke-width="0.8" />
<line x1="497.75" y1="341.15" x2="502.15" y2="341.15" stroke="#66ee66" stroke-width="0.8" />
<line x1="497.75" y1="355.48" x2="502.15" y2="355.48" stroke="#66ee66" stroke-width="0.8" />
<line x1="509.84" y1="333.63" x2="509.84" y2="351.54" stroke="#66ee66" stroke-width="0.8" />
<line x1="507.64" y1="333.63" x2="512.04" y2="333.63" stroke="#66ee66" stroke-width="0.8" />
<line x1="507.64" y1="351.54" x2="512.04" y2="351.54" stroke="#66ee66" stroke-width="0.8" />
<line x1="519.72" y1="337.21" x2="519.72" y2="351.54" stroke="#66ee66" stroke-width="0.8" />
<line x1="517.52" y1="337.21" x2="521.92" y2="337.21" stroke="#66ee66" stroke-width="0.8" />
<line x1="517.52" y1="351.54" x2="521.92" y2="351.54" stroke="#66ee66" stroke-width="0.8" />
<line x1="529.61" y1="340.43" x2="529.61" y2="358.34" stroke="#66ee66" stroke-width="0.8" />
<line x1="527.41" y1="340.43" x2="531.81" y2="340.43" stroke="#66ee66" stroke-width="0.8" />
<line x1="527.41" y1="358.34" x2="531.81" y2="358.34" stroke="#66ee66" stroke-width="0.8" />
<line x1="539.5" y1="345.81" x2="539.5" y2="360.14" stroke="#66ee66" stroke-width="0.8" />
<line x1="537.3" y1="345.81" x2="541.7" y2="345.81" stroke="#66ee66" stroke-width="0.8" />
<line x1="537.3" y1="360.14" x2="541.7" y2="360.14" stroke="#66ee66" stroke-width="0.8" />
<line x1="549.39" y1="343.66" x2="549.39" y2="357.99" stroke="#66ee66" stroke-width="0.8" />
<line x1="547.19" y1="343.66" x2="551.59" y2="343.66" stroke="#66ee66" stroke-width="0.8" />
<line x1="547.19" y1="357.99" x2="551.59" y2="357.99" stroke="#66ee66" stroke-width="0.8" />
<line x1="559.28" y1="346.52" x2="559.28" y2="364.43" stroke="#66ee66" stroke-width="0.8" />
<line x1="557.08" y1="346.52" x2="561.48" y2="346.52" stroke="#66ee66" stroke-width="0.8" />
<line x1="557.08" y1="364.43" x2="561.48" y2="364.43" stroke="#66ee66" stroke-width="0.8" />
<line x1="569.16" y1="335.78" x2="569.16" y2="360.85" stroke="#66ee66" stroke-width="0.8" />
<line x1="566.96" y1="335.78" x2="571.36" y2="335.78" stroke="#66ee66" stroke-width="0.8" />
<line x1="566.96" y1="360.85" x2="571.36" y2="360.85" stroke="#66ee66" stroke-width="0.8" />
<line x1="579.05" y1="335.42" x2="579.05" y2="356.91" stroke="#66ee66" stroke-width="0.8" />
<line x1="576.85" y1="335.42" x2="581.25" y2="335.42" stroke="#66ee66" stroke-width="0.8" />
<line x1="576.85" y1="356.91" x2="581.25" y2="356.91" stroke="#66ee66" stroke-width="0.8" />
<line x1="588.94" y1="342.94" x2="588.94" y2="360.85" stroke="#66ee66" stroke-width="0.8" />
<line x1="586.74" y1="342.94" x2="591.14" y2="342.94" stroke="#66ee66" stroke-width="0.8" />
<line x1="586.74" y1="360.85" x2="591.14" y2="360.85" stroke="#66ee66" stroke-width="0.8" />
<line x1="598.83" y1="347.96" x2="598.83" y2="362.28" stroke="#66ee66" stroke-width="0.8" />
<line x1="596.63" y1="347.96" x2="601.03" y2="347.96" stroke="#66ee66" stroke-width="0.8" />
<line x1="596.63" y1="362.28" x2="601.03" y2="362.28" stroke="#66ee66" stroke-width="0.8" />
<line x1="608.72" y1="340.08" x2="608.72" y2="357.99" stroke="#66ee66" stroke-width="0.8" />
<line x1="606.52" y1="340.08" x2="610.92" y2="340.08" stroke="#66ee66" stroke-width="0.8" />
<line x1="606.52" y1="357.99" x2="610.92" y2="357.99" stroke="#66ee66" stroke-width="0.8" />
<line x1="618.6" y1="341.87" x2="618.6" y2="356.19" stroke="#66ee66" stroke-width="0.8" />
<line x1="616.4" y1="341.87" x2="620.8" y2="341.87" stroke="#66ee66" stroke-width="0.8" />
<line x1="616.4" y1="356.19" x2="620.8" y2="356.19" stroke="#66ee66" stroke-width="0.8" />
<line x1="628.49" y1="342.94" x2="628.49" y2="357.27" stroke="#66ee66" stroke-width="0.8" />
<line x1="626.29" y1="342.94" x2="630.69" y2="342.94" stroke="#66ee66" stroke-width="0.8" />
<line x1="626.29" y1="357.27" x2="630.69" y2="357.27" stroke="#66ee66" stroke-width="0.8" />
<line x1="638.38" y1="341.87" x2="638.38" y2="356.19" stroke="#66ee66" stroke-width="0.8" />
<line x1="636.18" y1="341.87" x2="640.58" y2="341.87" stroke="#66ee66" stroke-width="0.8" />
<line x1="636.18" y1="356.19" x2="640.58" y2="356.19" stroke="#66ee66" stroke-width="0.8" />
<line x1="648.27" y1="344.73" x2="648.27" y2="359.06" stroke="#66ee66" stroke-width="0.8" />
<line x1="646.07" y1="344.73" x2="650.47" y2="344.73" stroke="#66ee66" stroke-width="0.8" />
<line x1="646.07" y1="359.06" x2="650.47" y2="359.06" stroke="#66ee66" stroke-width="0.8" />
<line x1="658.16" y1="342.94" x2="658.16" y2="368.02" stroke="#66ee66" stroke-width="0.8" />
<line x1="655.96" y1="342.94" x2="660.36" y2="342.94" stroke="#66ee66" stroke-width="0.8" />
<line x1="655.96" y1="368.02" x2="660.36" y2="368.02" stroke="#66ee66" stroke-width="0.8" />
<polyline points="420.84,342.23 430.73,340.79 440.62,340.08 450.51,339.72 460.4,340.79 470.28,341.51 480.17,339.36 490.06,341.51 499.95,348.31 509.84,342.58 519.72,344.37 529.61,349.39 539.5,352.97 549.39,350.82 559.28,355.48 569.16,348.31 579.05,346.17 588.94,351.9 598.83,355.12 608.72,349.03 618.6,349.03 628.49,350.11 638.38,349.03 648.27,351.9 658.16,355.48" fill="none" stroke="#22ee22" stroke-width="1.5" stroke-linejoin="round" />
<circle cx="420.84" cy="342.23" r="2.0" fill="#22ee22"/>
<circle cx="430.73" cy="340.79" r="2.0" fill="#22ee22"/>
<circle cx="440.62" cy="340.08" r="2.0" fill="#22ee22"/>
<circle cx="450.51" cy="339.72" r="2.0" fill="#22ee22"/>
<circle cx="460.4" cy="340.79" r="2.0" fill="#22ee22"/>
<circle cx="470.28" cy="341.51" r="2.0" fill="#22ee22"/>
<circle cx="480.17" cy="339.36" r="2.0" fill="#22ee22"/>
<circle cx="490.06" cy="341.51" r="2.0" fill="#22ee22"/>
<circle cx="499.95" cy="348.31" r="2.0" fill="#22ee22"/>
<circle cx="509.84" cy="342.58" r="2.0" fill="#22ee22"/>
<circle cx="519.72" cy="344.37" r="2.0" fill="#22ee22"/>
<circle cx="529.61" cy="349.39" r="2.0" fill="#22ee22"/>
<circle cx="539.5" cy="352.97" r="2.0" fill="#22ee22"/>
<circle cx="549.39" cy="350.82" r="2.0" fill="#22ee22"/>
<circle cx="559.28" cy="355.48" r="2.0" fill="#22ee22"/>
<circle cx="569.16" cy="348.31" r="2.0" fill="#22ee22"/>
<circle cx="579.05" cy="346.17" r="2.0" fill="#22ee22"/>
<circle cx="588.94" cy="351.9" r="2.0" fill="#22ee22"/>
<circle cx="598.83" cy="355.12" r="2.0" fill="#22ee22"/>
<circle cx="608.72" cy="349.03" r="2.0" fill="#22ee22"/>
<circle cx="618.6" cy="349.03" r="2.0" fill="#22ee22"/>
<circle cx="628.49" cy="350.11" r="2.0" fill="#22ee22"/>
<circle cx="638.38" cy="349.03" r="2.0" fill="#22ee22"/>
<circle cx="648.27" cy="351.9" r="2.0" fill="#22ee22"/>
<circle cx="658.16" cy="355.48" r="2.0" fill="#22ee22"/>
<line x1="420.84" y1="322.52" x2="420.84" y2="356.91" stroke="#555" stroke-width="0.8" />
<line x1="418.64" y1="322.52" x2="423.04" y2="322.52" stroke="#555" stroke-width="0.8" />
<line x1="418.64" y1="356.91" x2="423.04" y2="356.91" stroke="#555" stroke-width="0.8" />
<line x1="430.73" y1="313.93" x2="430.73" y2="359.78" stroke="#555" stroke-width="0.8" />
<line x1="428.53" y1="313.93" x2="432.93" y2="313.93" stroke="#555" stroke-width="0.8" />
<line x1="428.53" y1="359.78" x2="432.93" y2="359.78" stroke="#555" stroke-width="0.8" />
<line x1="440.62" y1="321.09" x2="440.62" y2="367.66" stroke="#555" stroke-width="0.8" />
<line x1="438.42" y1="321.09" x2="442.82" y2="321.09" stroke="#555" stroke-width="0.8" />
<line x1="438.42" y1="367.66" x2="442.82" y2="367.66" stroke="#555" stroke-width="0.8" />
<line x1="450.51" y1="330.76" x2="450.51" y2="363" stroke="#555" stroke-width="0.8" />
<line x1="448.31" y1="330.76" x2="452.71" y2="330.76" stroke="#555" stroke-width="0.8" />
<line x1="448.31" y1="363" x2="452.71" y2="363" stroke="#555" stroke-width="0.8" />
<line x1="460.4" y1="318.58" x2="460.4" y2="366.58" stroke="#555" stroke-width="0.8" />
<line x1="458.2" y1="318.58" x2="462.6" y2="318.58" stroke="#555" stroke-width="0.8" />
<line x1="458.2" y1="366.58" x2="462.6" y2="366.58" stroke="#555" stroke-width="0.8" />
<line x1="470.28" y1="321.09" x2="470.28" y2="367.66" stroke="#555" stroke-width="0.8" />
<line x1="468.08" y1="321.09" x2="472.48" y2="321.09" stroke="#555" stroke-width="0.8" />
<line x1="468.08" y1="367.66" x2="472.48" y2="367.66" stroke="#555" stroke-width="0.8" />
<line x1="480.17" y1="308.55" x2="480.17" y2="362.28" stroke="#555" stroke-width="0.8" />
<line x1="477.97" y1="308.55" x2="482.37" y2="308.55" stroke="#555" stroke-width="0.8" />
<line x1="477.97" y1="362.28" x2="482.37" y2="362.28" stroke="#555" stroke-width="0.8" />
<line x1="490.06" y1="318.58" x2="490.06" y2="361.57" stroke="#555" stroke-width="0.8" />
<line x1="487.86" y1="318.58" x2="492.26" y2="318.58" stroke="#555" stroke-width="0.8" />
<line x1="487.86" y1="361.57" x2="492.26" y2="361.57" stroke="#555" stroke-width="0.8" />
<line x1="499.95" y1="320.02" x2="499.95" y2="363" stroke="#555" stroke-width="0.8" />
<line x1="497.75" y1="320.02" x2="502.15" y2="320.02" stroke="#555" stroke-width="0.8" />
<line x1="497.75" y1="363" x2="502.15" y2="363" stroke="#555" stroke-width="0.8" />
<line x1="509.84" y1="329.69" x2="509.84" y2="384.13" stroke="#555" stroke-width="0.8" />
<line x1="507.64" y1="329.69" x2="512.04" y2="329.69" stroke="#555" stroke-width="0.8" />
<line x1="507.64" y1="384.13" x2="512.04" y2="384.13" stroke="#555" stroke-width="0.8" />
<line x1="519.72" y1="324.32" x2="519.72" y2="360.14" stroke="#555" stroke-width="0.8" />
<line x1="517.52" y1="324.32" x2="521.92" y2="324.32" stroke="#555" stroke-width="0.8" />
<line x1="517.52" y1="360.14" x2="521.92" y2="360.14" stroke="#555" stroke-width="0.8" />
<line x1="529.61" y1="338.64" x2="529.61" y2="367.3" stroke="#555" stroke-width="0.8" />
<line x1="527.41" y1="338.64" x2="531.81" y2="338.64" stroke="#555" stroke-width="0.8" />
<line x1="527.41" y1="367.3" x2="531.81" y2="367.3" stroke="#555" stroke-width="0.8" />
<line x1="539.5" y1="353.69" x2="539.5" y2="382.34" stroke="#555" stroke-width="0.8" />
<line x1="537.3" y1="353.69" x2="541.7" y2="353.69" stroke="#555" stroke-width="0.8" />
<line x1="537.3" y1="382.34" x2="541.7" y2="382.34" stroke="#555" stroke-width="0.8" />
<line x1="549.39" y1="356.19" x2="549.39" y2="388.43" stroke="#555" stroke-width="0.8" />
<line x1="547.19" y1="356.19" x2="551.59" y2="356.19" stroke="#555" stroke-width="0.8" />
<line x1="547.19" y1="388.43" x2="551.59" y2="388.43" stroke="#555" stroke-width="0.8" />
<line x1="559.28" y1="360.49" x2="559.28" y2="410.64" stroke="#555" stroke-width="0.8" />
<line x1="557.08" y1="360.49" x2="561.48" y2="360.49" stroke="#555" stroke-width="0.8" />
<line x1="557.08" y1="410.64" x2="561.48" y2="410.64" stroke="#555" stroke-width="0.8" />
<line x1="569.16" y1="375.18" x2="569.16" y2="416.01" stroke="#555" stroke-width="0.8" />
<line x1="566.96" y1="375.18" x2="571.36" y2="375.18" stroke="#555" stroke-width="0.8" />
<line x1="566.96" y1="416.01" x2="571.36" y2="416.01" stroke="#555" stroke-width="0.8" />
<line x1="579.05" y1="380.55" x2="579.05" y2="417.09" stroke="#555" stroke-width="0.8" />
<line x1="576.85" y1="380.55" x2="581.25" y2="380.55" stroke="#555" stroke-width="0.8" />
<line x1="576.85" y1="417.09" x2="581.25" y2="417.09" stroke="#555" stroke-width="0.8" />
<line x1="588.94" y1="371.6" x2="588.94" y2="414.58" stroke="#555" stroke-width="0.8" />
<line x1="586.74" y1="371.6" x2="591.14" y2="371.6" stroke="#555" stroke-width="0.8" />
<line x1="586.74" y1="414.58" x2="591.14" y2="414.58" stroke="#555" stroke-width="0.8" />
<line x1="598.83" y1="375.54" x2="598.83" y2="414.94" stroke="#555" stroke-width="0.8" />
<line x1="596.63" y1="375.54" x2="601.03" y2="375.54" stroke="#555" stroke-width="0.8" />
<line x1="596.63" y1="414.94" x2="601.03" y2="414.94" stroke="#555" stroke-width="0.8" />
<line x1="608.72" y1="375.9" x2="608.72" y2="416.73" stroke="#555" stroke-width="0.8" />
<line x1="606.52" y1="375.9" x2="610.92" y2="375.9" stroke="#555" stroke-width="0.8" />
<line x1="606.52" y1="416.73" x2="610.92" y2="416.73" stroke="#555" stroke-width="0.8" />
<line x1="618.6" y1="380.19" x2="618.6" y2="423.18" stroke="#555" stroke-width="0.8" />
<line x1="616.4" y1="380.19" x2="620.8" y2="380.19" stroke="#555" stroke-width="0.8" />
<line x1="616.4" y1="423.18" x2="620.8" y2="423.18" stroke="#555" stroke-width="0.8" />
<line x1="628.49" y1="376.61" x2="628.49" y2="417.45" stroke="#555" stroke-width="0.8" />
<line x1="626.29" y1="376.61" x2="630.69" y2="376.61" stroke="#555" stroke-width="0.8" />
<line x1="626.29" y1="417.45" x2="630.69" y2="417.45" stroke="#555" stroke-width="0.8" />
<line x1="638.38" y1="373.39" x2="638.38" y2="424.25" stroke="#555" stroke-width="0.8" />
<line x1="636.18" y1="373.39" x2="640.58" y2="373.39" stroke="#555" stroke-width="0.8" />
<line x1="636.18" y1="424.25" x2="640.58" y2="424.25" stroke="#555" stroke-width="0.8" />
<line x1="648.27" y1="383.78" x2="648.27" y2="412.43" stroke="#555" stroke-width="0.8" />
<line x1="646.07" y1="383.78" x2="650.47" y2="383.78" stroke="#555" stroke-width="0.8" />
<line x1="646.07" y1="412.43" x2="650.47" y2="412.43" stroke="#555" stroke-width="0.8" />
<line x1="658.16" y1="379.48" x2="658.16" y2="405.98" stroke="#555" stroke-width="0.8" />
<line x1="655.96" y1="379.48" x2="660.36" y2="379.48" stroke="#555" stroke-width="0.8" />
<line x1="655.96" y1="405.98" x2="660.36" y2="405.98" stroke="#555" stroke-width="0.8" />
<polyline points="420.84,339.72 430.73,336.85 440.62,344.37 450.51,346.88 460.4,342.58 470.28,344.37 480.17,335.42 490.06,340.08 499.95,341.51 509.84,356.91 519.72,342.23 529.61,352.97 539.5,368.02 549.39,372.31 559.28,385.57 569.16,395.6 579.05,398.82 588.94,393.09 598.83,395.24 608.72,396.31 618.6,401.69 628.49,397.03 638.38,398.82 648.27,398.1 658.16,392.73" fill="none" stroke="#000" stroke-width="1.5" stroke-linejoin="round" />
<circle cx="420.84" cy="339.72" r="2.0" fill="#000"/>
<circle cx="430.73" cy="336.85" r="2.0" fill="#000"/>
<circle cx="440.62" cy="344.37" r="2.0" fill="#000"/>
<circle cx="450.51" cy="346.88" r="2.0" fill="#000"/>
<circle cx="460.4" cy="342.58" r="2.0" fill="#000"/>
<circle cx="470.28" cy="344.37" r="2.0" fill="#000"/>
<circle cx="480.17" cy="335.42" r="2.0" fill="#000"/>
<circle cx="490.06" cy="340.08" r="2.0" fill="#000"/>
<circle cx="499.95" cy="341.51" r="2.0" fill="#000"/>
<circle cx="509.84" cy="356.91" r="2.0" fill="#000"/>
<circle cx="519.72" cy="342.23" r="2.0" fill="#000"/>
<circle cx="529.61" cy="352.97" r="2.0" fill="#000"/>
<circle cx="539.5" cy="368.02" r="2.0" fill="#000"/>
<circle cx="549.39" cy="372.31" r="2.0" fill="#000"/>
<circle cx="559.28" cy="385.57" r="2.0" fill="#000"/>
<circle cx="569.16" cy="395.6" r="2.0" fill="#000"/>
<circle cx="579.05" cy="398.82" r="2.0" fill="#000"/>
<circle cx="588.94" cy="393.09" r="2.0" fill="#000"/>
<circle cx="598.83" cy="395.24" r="2.0" fill="#000"/>
<circle cx="608.72" cy="396.31" r="2.0" fill="#000"/>
<circle cx="618.6" cy="401.69" r="2.0" fill="#000"/>
<circle cx="628.49" cy="397.03" r="2.0" fill="#000"/>
<circle cx="638.38" cy="398.82" r="2.0" fill="#000"/>
<circle cx="648.27" cy="398.1" r="2.0" fill="#000"/>
<circle cx="658.16" cy="392.73" r="2.0" fill="#000"/>
<text x="477.1" y="296.8" font-size="12" fill="#000" stroke="#000" stroke-width="0.15" textLength="48.6" lengthAdjust="spacingAndGlyphs" >(<tspan font-style="italic">c</tspan><tspan font-size="8" dy="2.5">L</tspan><tspan dy="-2.5">, </tspan><tspan font-style="italic">c</tspan><tspan font-size="8" dy="2.5">R</tspan><tspan dy="-2.5">) [%]</tspan></text>
<line x1="532.4" y1="291.2" x2="551.9" y2="291.2" stroke="#1a1ae6" stroke-width="1.5" />
<circle cx="542.15" cy="291.2" r="1.8" fill="#1a1ae6"/>
<text x="556.6" y="295.8" font-size="12.5" fill="#000" stroke="#000" stroke-width="0.15" textLength="24.6" lengthAdjust="spacingAndGlyphs" >(1, 1)</text>
<line x1="600" y1="291.2" x2="619.5" y2="291.2" stroke="#22ee22" stroke-width="1.5" />
<circle cx="609.75" cy="291.2" r="1.8" fill="#22ee22"/>
<text x="624.2" y="295.8" font-size="12.5" fill="#000" stroke="#000" stroke-width="0.15" textLength="24.1" lengthAdjust="spacingAndGlyphs" >(5, 5)</text>
<line x1="532.4" y1="305.6" x2="551.9" y2="305.6" stroke="#ee1c1c" stroke-width="1.5" />
<circle cx="542.15" cy="305.6" r="1.8" fill="#ee1c1c"/>
<text x="556.6" y="310.2" font-size="12.5" fill="#000" stroke="#000" stroke-width="0.15" textLength="36.4" lengthAdjust="spacingAndGlyphs" >(50, 50)</text>
<line x1="600" y1="305.6" x2="619.5" y2="305.6" stroke="#000" stroke-width="1.5" />
<circle cx="609.75" cy="305.6" r="1.8" fill="#000"/>
<text x="624.2" y="310.2" font-size="12.5" fill="#000" stroke="#000" stroke-width="0.15" textLength="30.4" lengthAdjust="spacingAndGlyphs" >(1, 50)</text>
<text x="-0.62" y="511.7" font-size="27.6" textLength="6.56" lengthAdjust="spacingAndGlyphs">(</text>
<text x="7.71" y="511.7" font-size="26" textLength="14.43" lengthAdjust="spacingAndGlyphs">e</text>
<text x="24.07" y="511.7" font-size="27.6" textLength="7.06" lengthAdjust="spacingAndGlyphs">)</text>
<line x1="63.4" y1="700.57" x2="65.7" y2="700.57" stroke="#000" stroke-width="1" />
<line x1="330.4" y1="700.57" x2="328.1" y2="700.57" stroke="#000" stroke-width="1" />
<line x1="63.4" y1="692.84" x2="65.7" y2="692.84" stroke="#000" stroke-width="1" />
<line x1="330.4" y1="692.84" x2="328.1" y2="692.84" stroke="#000" stroke-width="1" />
<line x1="63.4" y1="685.1" x2="65.7" y2="685.1" stroke="#000" stroke-width="1" />
<line x1="330.4" y1="685.1" x2="328.1" y2="685.1" stroke="#000" stroke-width="1" />
<line x1="63.4" y1="677.37" x2="65.7" y2="677.37" stroke="#000" stroke-width="1" />
<line x1="330.4" y1="677.37" x2="328.1" y2="677.37" stroke="#000" stroke-width="1" />
<line x1="63.4" y1="669.64" x2="67.4" y2="669.64" stroke="#000" stroke-width="1" />
<line x1="330.4" y1="669.64" x2="326.4" y2="669.64" stroke="#000" stroke-width="1" />
<line x1="63.4" y1="661.91" x2="65.7" y2="661.91" stroke="#000" stroke-width="1" />
<line x1="330.4" y1="661.91" x2="328.1" y2="661.91" stroke="#000" stroke-width="1" />
<line x1="63.4" y1="654.18" x2="65.7" y2="654.18" stroke="#000" stroke-width="1" />
<line x1="330.4" y1="654.18" x2="328.1" y2="654.18" stroke="#000" stroke-width="1" />
<line x1="63.4" y1="646.44" x2="65.7" y2="646.44" stroke="#000" stroke-width="1" />
<line x1="330.4" y1="646.44" x2="328.1" y2="646.44" stroke="#000" stroke-width="1" />
<line x1="63.4" y1="638.71" x2="65.7" y2="638.71" stroke="#000" stroke-width="1" />
<line x1="330.4" y1="638.71" x2="328.1" y2="638.71" stroke="#000" stroke-width="1" />
<line x1="63.4" y1="630.98" x2="67.4" y2="630.98" stroke="#000" stroke-width="1" />
<line x1="330.4" y1="630.98" x2="326.4" y2="630.98" stroke="#000" stroke-width="1" />
<line x1="63.4" y1="623.25" x2="65.7" y2="623.25" stroke="#000" stroke-width="1" />
<line x1="330.4" y1="623.25" x2="328.1" y2="623.25" stroke="#000" stroke-width="1" />
<line x1="63.4" y1="615.52" x2="65.7" y2="615.52" stroke="#000" stroke-width="1" />
<line x1="330.4" y1="615.52" x2="328.1" y2="615.52" stroke="#000" stroke-width="1" />
<line x1="63.4" y1="607.78" x2="65.7" y2="607.78" stroke="#000" stroke-width="1" />
<line x1="330.4" y1="607.78" x2="328.1" y2="607.78" stroke="#000" stroke-width="1" />
<line x1="63.4" y1="600.05" x2="65.7" y2="600.05" stroke="#000" stroke-width="1" />
<line x1="330.4" y1="600.05" x2="328.1" y2="600.05" stroke="#000" stroke-width="1" />
<line x1="63.4" y1="592.32" x2="67.4" y2="592.32" stroke="#000" stroke-width="1" />
<line x1="330.4" y1="592.32" x2="326.4" y2="592.32" stroke="#000" stroke-width="1" />
<line x1="63.4" y1="584.59" x2="65.7" y2="584.59" stroke="#000" stroke-width="1" />
<line x1="330.4" y1="584.59" x2="328.1" y2="584.59" stroke="#000" stroke-width="1" />
<line x1="63.4" y1="576.86" x2="65.7" y2="576.86" stroke="#000" stroke-width="1" />
<line x1="330.4" y1="576.86" x2="328.1" y2="576.86" stroke="#000" stroke-width="1" />
<line x1="63.4" y1="569.12" x2="65.7" y2="569.12" stroke="#000" stroke-width="1" />
<line x1="330.4" y1="569.12" x2="328.1" y2="569.12" stroke="#000" stroke-width="1" />
<line x1="63.4" y1="561.39" x2="65.7" y2="561.39" stroke="#000" stroke-width="1" />
<line x1="330.4" y1="561.39" x2="328.1" y2="561.39" stroke="#000" stroke-width="1" />
<line x1="63.4" y1="553.66" x2="67.4" y2="553.66" stroke="#000" stroke-width="1" />
<line x1="330.4" y1="553.66" x2="326.4" y2="553.66" stroke="#000" stroke-width="1" />
<line x1="63.4" y1="545.93" x2="65.7" y2="545.93" stroke="#000" stroke-width="1" />
<line x1="330.4" y1="545.93" x2="328.1" y2="545.93" stroke="#000" stroke-width="1" />
<line x1="63.4" y1="538.2" x2="65.7" y2="538.2" stroke="#000" stroke-width="1" />
<line x1="330.4" y1="538.2" x2="328.1" y2="538.2" stroke="#000" stroke-width="1" />
<line x1="63.4" y1="530.46" x2="65.7" y2="530.46" stroke="#000" stroke-width="1" />
<line x1="330.4" y1="530.46" x2="328.1" y2="530.46" stroke="#000" stroke-width="1" />
<line x1="63.4" y1="522.73" x2="65.7" y2="522.73" stroke="#000" stroke-width="1" />
<line x1="330.4" y1="522.73" x2="328.1" y2="522.73" stroke="#000" stroke-width="1" />
<line x1="80.09" y1="708.3" x2="80.09" y2="706" stroke="#000" stroke-width="1" />
<line x1="80.09" y1="515" x2="80.09" y2="517.3" stroke="#000" stroke-width="1" />
<line x1="96.78" y1="708.3" x2="96.78" y2="704.3" stroke="#000" stroke-width="1" />
<line x1="96.78" y1="515" x2="96.78" y2="519" stroke="#000" stroke-width="1" />
<line x1="113.46" y1="708.3" x2="113.46" y2="706" stroke="#000" stroke-width="1" />
<line x1="113.46" y1="515" x2="113.46" y2="517.3" stroke="#000" stroke-width="1" />
<line x1="130.15" y1="708.3" x2="130.15" y2="706" stroke="#000" stroke-width="1" />
<line x1="130.15" y1="515" x2="130.15" y2="517.3" stroke="#000" stroke-width="1" />
<line x1="146.84" y1="708.3" x2="146.84" y2="706" stroke="#000" stroke-width="1" />
<line x1="146.84" y1="515" x2="146.84" y2="517.3" stroke="#000" stroke-width="1" />
<line x1="163.53" y1="708.3" x2="163.53" y2="706" stroke="#000" stroke-width="1" />
<line x1="163.53" y1="515" x2="163.53" y2="517.3" stroke="#000" stroke-width="1" />
<line x1="180.21" y1="708.3" x2="180.21" y2="704.3" stroke="#000" stroke-width="1" />
<line x1="180.21" y1="515" x2="180.21" y2="519" stroke="#000" stroke-width="1" />
<line x1="196.9" y1="708.3" x2="196.9" y2="706" stroke="#000" stroke-width="1" />
<line x1="196.9" y1="515" x2="196.9" y2="517.3" stroke="#000" stroke-width="1" />
<line x1="213.59" y1="708.3" x2="213.59" y2="706" stroke="#000" stroke-width="1" />
<line x1="213.59" y1="515" x2="213.59" y2="517.3" stroke="#000" stroke-width="1" />
<line x1="230.28" y1="708.3" x2="230.28" y2="706" stroke="#000" stroke-width="1" />
<line x1="230.28" y1="515" x2="230.28" y2="517.3" stroke="#000" stroke-width="1" />
<line x1="246.96" y1="708.3" x2="246.96" y2="706" stroke="#000" stroke-width="1" />
<line x1="246.96" y1="515" x2="246.96" y2="517.3" stroke="#000" stroke-width="1" />
<line x1="263.65" y1="708.3" x2="263.65" y2="704.3" stroke="#000" stroke-width="1" />
<line x1="263.65" y1="515" x2="263.65" y2="519" stroke="#000" stroke-width="1" />
<line x1="280.34" y1="708.3" x2="280.34" y2="706" stroke="#000" stroke-width="1" />
<line x1="280.34" y1="515" x2="280.34" y2="517.3" stroke="#000" stroke-width="1" />
<line x1="297.02" y1="708.3" x2="297.02" y2="706" stroke="#000" stroke-width="1" />
<line x1="297.02" y1="515" x2="297.02" y2="517.3" stroke="#000" stroke-width="1" />
<line x1="313.71" y1="708.3" x2="313.71" y2="706" stroke="#000" stroke-width="1" />
<line x1="313.71" y1="515" x2="313.71" y2="517.3" stroke="#000" stroke-width="1" />
<text x="57.6" y="711.5" font-size="16" text-anchor="end" fill="#000" stroke="#000" stroke-width="0.15" >0</text>
<text x="57.6" y="672.84" font-size="16" text-anchor="end" fill="#000" stroke="#000" stroke-width="0.15" >1</text>
<text x="57.6" y="634.18" font-size="16" text-anchor="end" fill="#000" stroke="#000" stroke-width="0.15" >2</text>
<text x="57.6" y="595.52" font-size="16" text-anchor="end" fill="#000" stroke="#000" stroke-width="0.15" >3</text>
<text x="57.6" y="556.86" font-size="16" text-anchor="end" fill="#000" stroke="#000" stroke-width="0.15" >4</text>
<text x="57.6" y="518.2" font-size="16" text-anchor="end" fill="#000" stroke="#000" stroke-width="0.15" >5</text>
<text x="96.78" y="725.7" font-size="15" text-anchor="middle" fill="#000" stroke="#000" stroke-width="0.15" textLength="20.5" lengthAdjust="spacingAndGlyphs" >7.0</text>
<text x="180.21" y="725.7" font-size="15" text-anchor="middle" fill="#000" stroke="#000" stroke-width="0.15" textLength="20.5" lengthAdjust="spacingAndGlyphs" >7.5</text>
<text x="263.65" y="725.7" font-size="15" text-anchor="middle" fill="#000" stroke="#000" stroke-width="0.15" textLength="20.5" lengthAdjust="spacingAndGlyphs" >8.0</text>
<text x="196.85" y="743.7" font-size="16" text-anchor="middle" fill="#000" stroke="#000" stroke-width="0.15" textLength="19.2" lengthAdjust="spacingAndGlyphs" >pH</text>
<text x="18.1" y="706.1" font-size="16" fill="#000" stroke="#000" stroke-width="0.15" textLength="185.5" lengthAdjust="spacingAndGlyphs" transform="rotate(-90 18.1 706.1)" >Average migration speed</text>
<text x="41.3" y="653.2" font-size="16" fill="#000" stroke="#000" stroke-width="0.15" textLength="84" lengthAdjust="spacingAndGlyphs" transform="rotate(-90 41.3 653.2)" ><tspan font-style="italic">V</tspan> [μm/min]</text>
<line x1="63.4" y1="646.75" x2="323.72" y2="578" stroke="#808080" stroke-width="1.4" stroke-dasharray="4 3"/>
<line x1="67.74" y1="620.16" x2="67.74" y2="671.57" stroke="#888" stroke-width="0.9" />
<line x1="65.14" y1="620.16" x2="70.34" y2="620.16" stroke="#888" stroke-width="0.9" />
<line x1="65.14" y1="671.57" x2="70.34" y2="671.57" stroke="#888" stroke-width="0.9" />
<line x1="68.41" y1="621.31" x2="68.41" y2="673.51" stroke="#888" stroke-width="0.9" />
<line x1="65.81" y1="621.31" x2="71.01" y2="621.31" stroke="#888" stroke-width="0.9" />
<line x1="65.81" y1="673.51" x2="71.01" y2="673.51" stroke="#888" stroke-width="0.9" />
<line x1="69.74" y1="626.34" x2="69.74" y2="672.73" stroke="#888" stroke-width="0.9" />
<line x1="67.14" y1="626.34" x2="72.34" y2="626.34" stroke="#888" stroke-width="0.9" />
<line x1="67.14" y1="672.73" x2="72.34" y2="672.73" stroke="#888" stroke-width="0.9" />
<line x1="71.74" y1="627.11" x2="71.74" y2="671.57" stroke="#888" stroke-width="0.9" />
<line x1="69.14" y1="627.11" x2="74.34" y2="627.11" stroke="#888" stroke-width="0.9" />
<line x1="69.14" y1="671.57" x2="74.34" y2="671.57" stroke="#888" stroke-width="0.9" />
<line x1="70.91" y1="623.25" x2="70.91" y2="669.64" stroke="#888" stroke-width="0.9" />
<line x1="68.31" y1="623.25" x2="73.51" y2="623.25" stroke="#888" stroke-width="0.9" />
<line x1="68.31" y1="669.64" x2="73.51" y2="669.64" stroke="#888" stroke-width="0.9" />
<line x1="75.42" y1="623.25" x2="75.42" y2="665.77" stroke="#888" stroke-width="0.9" />
<line x1="72.82" y1="623.25" x2="78.02" y2="623.25" stroke="#888" stroke-width="0.9" />
<line x1="72.82" y1="665.77" x2="78.02" y2="665.77" stroke="#888" stroke-width="0.9" />
<line x1="74.44" y1="624.39" x2="74.44" y2="662.78" stroke="#ee2222" stroke-width="0.7" />
<line x1="72.14" y1="624.39" x2="76.74" y2="624.39" stroke="#ee2222" stroke-width="0.7" />
<line x1="72.14" y1="662.78" x2="76.74" y2="662.78" stroke="#ee2222" stroke-width="0.7" />
<line x1="74.53" y1="614.26" x2="74.53" y2="660.06" stroke="#ee2222" stroke-width="0.7" />
<line x1="72.23" y1="614.26" x2="76.83" y2="614.26" stroke="#ee2222" stroke-width="0.7" />
<line x1="72.23" y1="660.06" x2="76.83" y2="660.06" stroke="#ee2222" stroke-width="0.7" />
<line x1="74.54" y1="643.64" x2="74.54" y2="667.41" stroke="#ee2222" stroke-width="0.7" />
<line x1="72.24" y1="643.64" x2="76.84" y2="643.64" stroke="#ee2222" stroke-width="0.7" />
<line x1="72.24" y1="667.41" x2="76.84" y2="667.41" stroke="#ee2222" stroke-width="0.7" />
<line x1="73.99" y1="623.32" x2="73.99" y2="662.81" stroke="#ee2222" stroke-width="0.7" />
<line x1="71.69" y1="623.32" x2="76.29" y2="623.32" stroke="#ee2222" stroke-width="0.7" />
<line x1="71.69" y1="662.81" x2="76.29" y2="662.81" stroke="#ee2222" stroke-width="0.7" />
<line x1="74.28" y1="630.03" x2="74.28" y2="663.33" stroke="#ee2222" stroke-width="0.7" />
<line x1="71.98" y1="630.03" x2="76.58" y2="630.03" stroke="#ee2222" stroke-width="0.7" />
<line x1="71.98" y1="663.33" x2="76.58" y2="663.33" stroke="#ee2222" stroke-width="0.7" />
<line x1="74.06" y1="627.07" x2="74.06" y2="662.07" stroke="#ee2222" stroke-width="0.7" />
<line x1="71.76" y1="627.07" x2="76.36" y2="627.07" stroke="#ee2222" stroke-width="0.7" />
<line x1="71.76" y1="662.07" x2="76.36" y2="662.07" stroke="#ee2222" stroke-width="0.7" />
<line x1="74.42" y1="635.01" x2="74.42" y2="665.97" stroke="#ee2222" stroke-width="0.7" />
<line x1="72.12" y1="635.01" x2="76.72" y2="635.01" stroke="#ee2222" stroke-width="0.7" />
<line x1="72.12" y1="665.97" x2="76.72" y2="665.97" stroke="#ee2222" stroke-width="0.7" />
<line x1="74.01" y1="638.99" x2="74.01" y2="666.81" stroke="#ee2222" stroke-width="0.7" />
<line x1="71.71" y1="638.99" x2="76.31" y2="638.99" stroke="#ee2222" stroke-width="0.7" />
<line x1="71.71" y1="666.81" x2="76.31" y2="666.81" stroke="#ee2222" stroke-width="0.7" />
<line x1="73.91" y1="625.51" x2="73.91" y2="661.88" stroke="#ee2222" stroke-width="0.7" />
<line x1="71.61" y1="625.51" x2="76.21" y2="625.51" stroke="#ee2222" stroke-width="0.7" />
<line x1="71.61" y1="661.88" x2="76.21" y2="661.88" stroke="#ee2222" stroke-width="0.7" />
<line x1="74.06" y1="617.34" x2="74.06" y2="659.85" stroke="#ee2222" stroke-width="0.7" />
<line x1="71.76" y1="617.34" x2="76.36" y2="617.34" stroke="#ee2222" stroke-width="0.7" />
<line x1="71.76" y1="659.85" x2="76.36" y2="659.85" stroke="#ee2222" stroke-width="0.7" />
<line x1="74.11" y1="612.79" x2="74.11" y2="659.93" stroke="#ee2222" stroke-width="0.7" />
<line x1="71.81" y1="612.79" x2="76.41" y2="612.79" stroke="#ee2222" stroke-width="0.7" />
<line x1="71.81" y1="659.93" x2="76.41" y2="659.93" stroke="#ee2222" stroke-width="0.7" />
<line x1="74.37" y1="613.97" x2="74.37" y2="659.59" stroke="#ee2222" stroke-width="0.7" />
<line x1="72.07" y1="613.97" x2="76.67" y2="613.97" stroke="#ee2222" stroke-width="0.7" />
<line x1="72.07" y1="659.59" x2="76.67" y2="659.59" stroke="#ee2222" stroke-width="0.7" />
<line x1="74.37" y1="637.34" x2="74.37" y2="666.65" stroke="#ee2222" stroke-width="0.7" />
<line x1="72.07" y1="637.34" x2="76.67" y2="637.34" stroke="#ee2222" stroke-width="0.7" />
<line x1="72.07" y1="666.65" x2="76.67" y2="666.65" stroke="#ee2222" stroke-width="0.7" />
<line x1="74.11" y1="613.26" x2="74.11" y2="660.1" stroke="#ee2222" stroke-width="0.7" />
<line x1="71.81" y1="613.26" x2="76.41" y2="613.26" stroke="#ee2222" stroke-width="0.7" />
<line x1="71.81" y1="660.1" x2="76.41" y2="660.1" stroke="#ee2222" stroke-width="0.7" />
<line x1="74.01" y1="633.58" x2="74.01" y2="664.12" stroke="#ee2222" stroke-width="0.7" />
<line x1="71.71" y1="633.58" x2="76.31" y2="633.58" stroke="#ee2222" stroke-width="0.7" />
<line x1="71.71" y1="664.12" x2="76.31" y2="664.12" stroke="#ee2222" stroke-width="0.7" />
<line x1="74.32" y1="642.75" x2="74.32" y2="666.85" stroke="#ee2222" stroke-width="0.7" />
<line x1="72.02" y1="642.75" x2="76.62" y2="642.75" stroke="#ee2222" stroke-width="0.7" />
<line x1="72.02" y1="666.85" x2="76.62" y2="666.85" stroke="#ee2222" stroke-width="0.7" />
<line x1="74.14" y1="644.13" x2="74.14" y2="667.95" stroke="#ee2222" stroke-width="0.7" />
<line x1="71.84" y1="644.13" x2="76.44" y2="644.13" stroke="#ee2222" stroke-width="0.7" />
<line x1="71.84" y1="667.95" x2="76.44" y2="667.95" stroke="#ee2222" stroke-width="0.7" />
<line x1="74.23" y1="634.19" x2="74.23" y2="665.56" stroke="#ee2222" stroke-width="0.7" />
<line x1="71.93" y1="634.19" x2="76.53" y2="634.19" stroke="#ee2222" stroke-width="0.7" />
<line x1="71.93" y1="665.56" x2="76.53" y2="665.56" stroke="#ee2222" stroke-width="0.7" />
<line x1="74.38" y1="634.53" x2="74.38" y2="664.99" stroke="#ee2222" stroke-width="0.7" />
<line x1="72.08" y1="634.53" x2="76.68" y2="634.53" stroke="#ee2222" stroke-width="0.7" />
<line x1="72.08" y1="664.99" x2="76.68" y2="664.99" stroke="#ee2222" stroke-width="0.7" />
<line x1="73.93" y1="641.97" x2="73.93" y2="667.96" stroke="#ee2222" stroke-width="0.7" />
<line x1="71.63" y1="641.97" x2="76.23" y2="641.97" stroke="#ee2222" stroke-width="0.7" />
<line x1="71.63" y1="667.96" x2="76.23" y2="667.96" stroke="#ee2222" stroke-width="0.7" />
<line x1="73.93" y1="620.21" x2="73.93" y2="661.86" stroke="#ee2222" stroke-width="0.7" />
<line x1="71.63" y1="620.21" x2="76.23" y2="620.21" stroke="#ee2222" stroke-width="0.7" />
<line x1="71.63" y1="661.86" x2="76.23" y2="661.86" stroke="#ee2222" stroke-width="0.7" />
<line x1="74.3" y1="619.75" x2="74.3" y2="660.8" stroke="#ee2222" stroke-width="0.7" />
<line x1="72" y1="619.75" x2="76.6" y2="619.75" stroke="#ee2222" stroke-width="0.7" />
<line x1="72" y1="660.8" x2="76.6" y2="660.8" stroke="#ee2222" stroke-width="0.7" />
<line x1="74.03" y1="644.92" x2="74.03" y2="666.93" stroke="#ee2222" stroke-width="0.7" />
<line x1="71.73" y1="644.92" x2="76.33" y2="644.92" stroke="#ee2222" stroke-width="0.7" />
<line x1="71.73" y1="666.93" x2="76.33" y2="666.93" stroke="#ee2222" stroke-width="0.7" />
<line x1="74.42" y1="614.7" x2="74.42" y2="659.11" stroke="#ee2222" stroke-width="0.7" />
<line x1="72.12" y1="614.7" x2="76.72" y2="614.7" stroke="#ee2222" stroke-width="0.7" />
<line x1="72.12" y1="659.11" x2="76.72" y2="659.11" stroke="#ee2222" stroke-width="0.7" />
<line x1="74.14" y1="614.36" x2="74.14" y2="660.48" stroke="#ee2222" stroke-width="0.7" />
<line x1="71.84" y1="614.36" x2="76.44" y2="614.36" stroke="#ee2222" stroke-width="0.7" />
<line x1="71.84" y1="660.48" x2="76.44" y2="660.48" stroke="#ee2222" stroke-width="0.7" />
<line x1="74.43" y1="633.23" x2="74.43" y2="664.73" stroke="#ee2222" stroke-width="0.7" />
<line x1="72.13" y1="633.23" x2="76.73" y2="633.23" stroke="#ee2222" stroke-width="0.7" />
<line x1="72.13" y1="664.73" x2="76.73" y2="664.73" stroke="#ee2222" stroke-width="0.7" />
<line x1="74.45" y1="640.7" x2="74.45" y2="667.17" stroke="#ee2222" stroke-width="0.7" />
<line x1="72.15" y1="640.7" x2="76.75" y2="640.7" stroke="#ee2222" stroke-width="0.7" />
<line x1="72.15" y1="667.17" x2="76.75" y2="667.17" stroke="#ee2222" stroke-width="0.7" />
<line x1="74.54" y1="617.97" x2="74.54" y2="659.68" stroke="#ee2222" stroke-width="0.7" />
<line x1="72.24" y1="617.97" x2="76.84" y2="617.97" stroke="#ee2222" stroke-width="0.7" />
<line x1="72.24" y1="659.68" x2="76.84" y2="659.68" stroke="#ee2222" stroke-width="0.7" />
<line x1="74.32" y1="641.87" x2="74.32" y2="666.69" stroke="#ee2222" stroke-width="0.7" />
<line x1="72.02" y1="641.87" x2="76.62" y2="641.87" stroke="#ee2222" stroke-width="0.7" />
<line x1="72.02" y1="666.69" x2="76.62" y2="666.69" stroke="#ee2222" stroke-width="0.7" />
<line x1="74.53" y1="615.65" x2="74.53" y2="659.65" stroke="#ee2222" stroke-width="0.7" />
<line x1="72.23" y1="615.65" x2="76.83" y2="615.65" stroke="#ee2222" stroke-width="0.7" />
<line x1="72.23" y1="659.65" x2="76.83" y2="659.65" stroke="#ee2222" stroke-width="0.7" />
<circle cx="74.44" cy="643.59" r="2.3" fill="#ee1111"/>
<circle cx="74.53" cy="637.16" r="2.3" fill="#ee1111"/>
<circle cx="74.54" cy="655.53" r="2.3" fill="#ee1111"/>
<circle cx="73.99" cy="643.06" r="2.3" fill="#ee1111"/>
<circle cx="74.28" cy="646.68" r="2.3" fill="#ee1111"/>
<circle cx="74.06" cy="644.57" r="2.3" fill="#ee1111"/>
<circle cx="74.42" cy="650.49" r="2.3" fill="#ee1111"/>
<circle cx="74.01" cy="652.9" r="2.3" fill="#ee1111"/>
<circle cx="73.91" cy="643.7" r="2.3" fill="#ee1111"/>
<circle cx="74.06" cy="638.59" r="2.3" fill="#ee1111"/>
<circle cx="74.11" cy="636.36" r="2.3" fill="#ee1111"/>
<circle cx="74.37" cy="636.78" r="2.3" fill="#ee1111"/>
<circle cx="74.37" cy="651.99" r="2.3" fill="#ee1111"/>
<circle cx="74.11" cy="636.68" r="2.3" fill="#ee1111"/>
<circle cx="74.01" cy="648.85" r="2.3" fill="#ee1111"/>
<circle cx="74.32" cy="654.8" r="2.3" fill="#ee1111"/>
<circle cx="74.14" cy="656.04" r="2.3" fill="#ee1111"/>
<circle cx="74.23" cy="649.88" r="2.3" fill="#ee1111"/>
<circle cx="74.38" cy="649.76" r="2.3" fill="#ee1111"/>
<circle cx="73.93" cy="654.96" r="2.3" fill="#ee1111"/>
<circle cx="73.93" cy="641.04" r="2.3" fill="#ee1111"/>
<circle cx="74.3" cy="640.27" r="2.3" fill="#ee1111"/>
<circle cx="74.03" cy="655.93" r="2.3" fill="#ee1111"/>
<circle cx="74.42" cy="636.91" r="2.3" fill="#ee1111"/>
<circle cx="74.14" cy="637.42" r="2.3" fill="#ee1111"/>
<circle cx="74.43" cy="648.98" r="2.3" fill="#ee1111"/>
<circle cx="74.45" cy="653.94" r="2.3" fill="#ee1111"/>
<circle cx="74.54" cy="638.83" r="2.3" fill="#ee1111"/>
<circle cx="74.32" cy="654.28" r="2.3" fill="#ee1111"/>
<circle cx="74.53" cy="637.65" r="2.3" fill="#ee1111"/>
<circle cx="67.74" cy="640.26" r="2.9" fill="#000"/>
<circle cx="68.41" cy="645.67" r="2.9" fill="#000"/>
<circle cx="69.74" cy="647.22" r="2.9" fill="#000"/>
<circle cx="71.74" cy="649.92" r="2.9" fill="#000"/>
<circle cx="70.91" cy="648.38" r="2.9" fill="#000"/>
<circle cx="75.42" cy="644.51" r="2.9" fill="#000"/>
<line x1="210.12" y1="584.4" x2="210.12" y2="598.29" stroke="#33dd33" stroke-width="0.7" />
<line x1="207.92" y1="584.4" x2="212.32" y2="584.4" stroke="#33dd33" stroke-width="0.7" />
<line x1="207.92" y1="598.29" x2="212.32" y2="598.29" stroke="#33dd33" stroke-width="0.7" />
<line x1="210.02" y1="589.99" x2="210.02" y2="609.41" stroke="#33dd33" stroke-width="0.7" />
<line x1="207.82" y1="589.99" x2="212.22" y2="589.99" stroke="#33dd33" stroke-width="0.7" />
<line x1="207.82" y1="609.41" x2="212.22" y2="609.41" stroke="#33dd33" stroke-width="0.7" />
<line x1="209.95" y1="590.46" x2="209.95" y2="609.11" stroke="#33dd33" stroke-width="0.7" />
<line x1="207.75" y1="590.46" x2="212.15" y2="590.46" stroke="#33dd33" stroke-width="0.7" />
<line x1="207.75" y1="609.11" x2="212.15" y2="609.11" stroke="#33dd33" stroke-width="0.7" />
<line x1="210.07" y1="584.19" x2="210.07" y2="602.38" stroke="#33dd33" stroke-width="0.7" />
<line x1="207.87" y1="584.19" x2="212.27" y2="584.19" stroke="#33dd33" stroke-width="0.7" />
<line x1="207.87" y1="602.38" x2="212.27" y2="602.38" stroke="#33dd33" stroke-width="0.7" />
<line x1="210.2" y1="582.78" x2="210.2" y2="598.88" stroke="#33dd33" stroke-width="0.7" />
<line x1="208" y1="582.78" x2="212.4" y2="582.78" stroke="#33dd33" stroke-width="0.7" />
<line x1="208" y1="598.88" x2="212.4" y2="598.88" stroke="#33dd33" stroke-width="0.7" />
<line x1="210.25" y1="594.92" x2="210.25" y2="611.02" stroke="#33dd33" stroke-width="0.7" />
<line x1="208.05" y1="594.92" x2="212.45" y2="594.92" stroke="#33dd33" stroke-width="0.7" />
<line x1="208.05" y1="611.02" x2="212.45" y2="611.02" stroke="#33dd33" stroke-width="0.7" />
<line x1="210.55" y1="577.82" x2="210.55" y2="596" stroke="#33dd33" stroke-width="0.7" />
<line x1="208.35" y1="577.82" x2="212.75" y2="577.82" stroke="#33dd33" stroke-width="0.7" />
<line x1="208.35" y1="596" x2="212.75" y2="596" stroke="#33dd33" stroke-width="0.7" />
<line x1="210.21" y1="590.12" x2="210.21" y2="606.33" stroke="#33dd33" stroke-width="0.7" />
<line x1="208.01" y1="590.12" x2="212.41" y2="590.12" stroke="#33dd33" stroke-width="0.7" />
<line x1="208.01" y1="606.33" x2="212.41" y2="606.33" stroke="#33dd33" stroke-width="0.7" />
<line x1="210.22" y1="586.31" x2="210.22" y2="606.49" stroke="#33dd33" stroke-width="0.7" />
<line x1="208.02" y1="586.31" x2="212.42" y2="586.31" stroke="#33dd33" stroke-width="0.7" />
<line x1="208.02" y1="606.49" x2="212.42" y2="606.49" stroke="#33dd33" stroke-width="0.7" />
<line x1="210.22" y1="573.18" x2="210.22" y2="590.43" stroke="#33dd33" stroke-width="0.7" />
<line x1="208.02" y1="573.18" x2="212.42" y2="573.18" stroke="#33dd33" stroke-width="0.7" />
<line x1="208.02" y1="590.43" x2="212.42" y2="590.43" stroke="#33dd33" stroke-width="0.7" />
<line x1="210.11" y1="585.88" x2="210.11" y2="600.03" stroke="#33dd33" stroke-width="0.7" />
<line x1="207.91" y1="585.88" x2="212.31" y2="585.88" stroke="#33dd33" stroke-width="0.7" />
<line x1="207.91" y1="600.03" x2="212.31" y2="600.03" stroke="#33dd33" stroke-width="0.7" />
<line x1="210.58" y1="585.7" x2="210.58" y2="604.66" stroke="#33dd33" stroke-width="0.7" />
<line x1="208.38" y1="585.7" x2="212.78" y2="585.7" stroke="#33dd33" stroke-width="0.7" />
<line x1="208.38" y1="604.66" x2="212.78" y2="604.66" stroke="#33dd33" stroke-width="0.7" />
<line x1="210.14" y1="584.88" x2="210.14" y2="598.16" stroke="#33dd33" stroke-width="0.7" />
<line x1="207.94" y1="584.88" x2="212.34" y2="584.88" stroke="#33dd33" stroke-width="0.7" />
<line x1="207.94" y1="598.16" x2="212.34" y2="598.16" stroke="#33dd33" stroke-width="0.7" />
<line x1="210.5" y1="576.82" x2="210.5" y2="593.74" stroke="#33dd33" stroke-width="0.7" />
<line x1="208.3" y1="576.82" x2="212.7" y2="576.82" stroke="#33dd33" stroke-width="0.7" />
<line x1="208.3" y1="593.74" x2="212.7" y2="593.74" stroke="#33dd33" stroke-width="0.7" />
<line x1="210.38" y1="577.08" x2="210.38" y2="595.29" stroke="#33dd33" stroke-width="0.7" />
<line x1="208.18" y1="577.08" x2="212.58" y2="577.08" stroke="#33dd33" stroke-width="0.7" />
<line x1="208.18" y1="595.29" x2="212.58" y2="595.29" stroke="#33dd33" stroke-width="0.7" />
<line x1="210.39" y1="586.63" x2="210.39" y2="601.78" stroke="#33dd33" stroke-width="0.7" />
<line x1="208.19" y1="586.63" x2="212.59" y2="586.63" stroke="#33dd33" stroke-width="0.7" />
<line x1="208.19" y1="601.78" x2="212.59" y2="601.78" stroke="#33dd33" stroke-width="0.7" />
<line x1="210.38" y1="576.33" x2="210.38" y2="593.67" stroke="#33dd33" stroke-width="0.7" />
<line x1="208.18" y1="576.33" x2="212.58" y2="576.33" stroke="#33dd33" stroke-width="0.7" />
<line x1="208.18" y1="593.67" x2="212.58" y2="593.67" stroke="#33dd33" stroke-width="0.7" />
<line x1="210.3" y1="580.59" x2="210.3" y2="594.78" stroke="#33dd33" stroke-width="0.7" />
<line x1="208.1" y1="580.59" x2="212.5" y2="580.59" stroke="#33dd33" stroke-width="0.7" />
<line x1="208.1" y1="594.78" x2="212.5" y2="594.78" stroke="#33dd33" stroke-width="0.7" />
<line x1="210.36" y1="587.36" x2="210.36" y2="604.89" stroke="#33dd33" stroke-width="0.7" />
<line x1="208.16" y1="587.36" x2="212.56" y2="587.36" stroke="#33dd33" stroke-width="0.7" />
<line x1="208.16" y1="604.89" x2="212.56" y2="604.89" stroke="#33dd33" stroke-width="0.7" />
<line x1="210.45" y1="580.18" x2="210.45" y2="596.38" stroke="#33dd33" stroke-width="0.7" />
<line x1="208.25" y1="580.18" x2="212.65" y2="580.18" stroke="#33dd33" stroke-width="0.7" />
<line x1="208.25" y1="596.38" x2="212.65" y2="596.38" stroke="#33dd33" stroke-width="0.7" />
<line x1="210.47" y1="577.44" x2="210.47" y2="594.58" stroke="#33dd33" stroke-width="0.7" />
<line x1="208.27" y1="577.44" x2="212.67" y2="577.44" stroke="#33dd33" stroke-width="0.7" />
<line x1="208.27" y1="594.58" x2="212.67" y2="594.58" stroke="#33dd33" stroke-width="0.7" />
<line x1="210.38" y1="574.26" x2="210.38" y2="594.82" stroke="#33dd33" stroke-width="0.7" />
<line x1="208.18" y1="574.26" x2="212.58" y2="574.26" stroke="#33dd33" stroke-width="0.7" />
<line x1="208.18" y1="594.82" x2="212.58" y2="594.82" stroke="#33dd33" stroke-width="0.7" />
<line x1="210.27" y1="581.89" x2="210.27" y2="598.14" stroke="#33dd33" stroke-width="0.7" />
<line x1="208.07" y1="581.89" x2="212.47" y2="581.89" stroke="#33dd33" stroke-width="0.7" />
<line x1="208.07" y1="598.14" x2="212.47" y2="598.14" stroke="#33dd33" stroke-width="0.7" />
<line x1="210.23" y1="574" x2="210.23" y2="592.15" stroke="#33dd33" stroke-width="0.7" />
<line x1="208.03" y1="574" x2="212.43" y2="574" stroke="#33dd33" stroke-width="0.7" />
<line x1="208.03" y1="592.15" x2="212.43" y2="592.15" stroke="#33dd33" stroke-width="0.7" />
<line x1="210.03" y1="578.81" x2="210.03" y2="596.72" stroke="#33dd33" stroke-width="0.7" />
<line x1="207.83" y1="578.81" x2="212.23" y2="578.81" stroke="#33dd33" stroke-width="0.7" />
<line x1="207.83" y1="596.72" x2="212.23" y2="596.72" stroke="#33dd33" stroke-width="0.7" />
<line x1="210.2" y1="579.21" x2="210.2" y2="597.3" stroke="#33dd33" stroke-width="0.7" />
<line x1="208" y1="579.21" x2="212.4" y2="579.21" stroke="#33dd33" stroke-width="0.7" />
<line x1="208" y1="597.3" x2="212.4" y2="597.3" stroke="#33dd33" stroke-width="0.7" />
<line x1="210.4" y1="582.64" x2="210.4" y2="595.11" stroke="#33dd33" stroke-width="0.7" />
<line x1="208.2" y1="582.64" x2="212.6" y2="582.64" stroke="#33dd33" stroke-width="0.7" />
<line x1="208.2" y1="595.11" x2="212.6" y2="595.11" stroke="#33dd33" stroke-width="0.7" />
<line x1="210.35" y1="584.14" x2="210.35" y2="599.93" stroke="#33dd33" stroke-width="0.7" />
<line x1="208.15" y1="584.14" x2="212.55" y2="584.14" stroke="#33dd33" stroke-width="0.7" />
<line x1="208.15" y1="599.93" x2="212.55" y2="599.93" stroke="#33dd33" stroke-width="0.7" />
<line x1="209.94" y1="582.45" x2="209.94" y2="597.29" stroke="#33dd33" stroke-width="0.7" />
<line x1="207.74" y1="582.45" x2="212.14" y2="582.45" stroke="#33dd33" stroke-width="0.7" />
<line x1="207.74" y1="597.29" x2="212.14" y2="597.29" stroke="#33dd33" stroke-width="0.7" />
<line x1="210.01" y1="594.26" x2="210.01" y2="608.17" stroke="#33dd33" stroke-width="0.7" />
<line x1="207.81" y1="594.26" x2="212.21" y2="594.26" stroke="#33dd33" stroke-width="0.7" />
<line x1="207.81" y1="608.17" x2="212.21" y2="608.17" stroke="#33dd33" stroke-width="0.7" />
<circle cx="210.12" cy="591.03" r="2.2" fill="#22ee22"/>
<circle cx="210.02" cy="600.41" r="2.2" fill="#22ee22"/>
<circle cx="209.95" cy="598.74" r="2.2" fill="#22ee22"/>
<circle cx="210.07" cy="593.83" r="2.2" fill="#22ee22"/>
<circle cx="210.2" cy="592.82" r="2.2" fill="#22ee22"/>
<circle cx="210.25" cy="601.33" r="2.2" fill="#22ee22"/>
<circle cx="210.55" cy="587.28" r="2.2" fill="#22ee22"/>
<circle cx="210.21" cy="599.84" r="2.2" fill="#22ee22"/>
<circle cx="210.22" cy="596.06" r="2.2" fill="#22ee22"/>
<circle cx="210.22" cy="582.36" r="2.2" fill="#22ee22"/>
<circle cx="210.11" cy="592.35" r="2.2" fill="#22ee22"/>
<circle cx="210.58" cy="594.41" r="2.2" fill="#22ee22"/>
<circle cx="210.14" cy="591.95" r="2.2" fill="#22ee22"/>
<circle cx="210.5" cy="586.26" r="2.2" fill="#22ee22"/>
<circle cx="210.38" cy="586.41" r="2.2" fill="#22ee22"/>
<circle cx="210.39" cy="594.68" r="2.2" fill="#22ee22"/>
<circle cx="210.38" cy="586.51" r="2.2" fill="#22ee22"/>
<circle cx="210.3" cy="588.92" r="2.2" fill="#22ee22"/>
<circle cx="210.36" cy="596.95" r="2.2" fill="#22ee22"/>
<circle cx="210.45" cy="588.97" r="2.2" fill="#22ee22"/>
<circle cx="210.47" cy="587.15" r="2.2" fill="#22ee22"/>
<circle cx="210.38" cy="584.5" r="2.2" fill="#22ee22"/>
<circle cx="210.27" cy="591.57" r="2.2" fill="#22ee22"/>
<circle cx="210.23" cy="583.14" r="2.2" fill="#22ee22"/>
<circle cx="210.03" cy="587.3" r="2.2" fill="#22ee22"/>
<circle cx="210.2" cy="588.61" r="2.2" fill="#22ee22"/>
<circle cx="210.4" cy="589.18" r="2.2" fill="#22ee22"/>
<circle cx="210.35" cy="593.12" r="2.2" fill="#22ee22"/>
<circle cx="209.94" cy="589.3" r="2.2" fill="#22ee22"/>
<circle cx="210.01" cy="600.9" r="2.2" fill="#22ee22"/>
<line x1="81.09" y1="617.45" x2="81.09" y2="663.84" stroke="#555" stroke-width="0.9" />
<line x1="78.49" y1="617.45" x2="83.69" y2="617.45" stroke="#555" stroke-width="0.9" />
<line x1="78.49" y1="663.84" x2="83.69" y2="663.84" stroke="#555" stroke-width="0.9" />
<line x1="88.93" y1="627.11" x2="88.93" y2="666.16" stroke="#555" stroke-width="0.9" />
<line x1="86.33" y1="627.11" x2="91.53" y2="627.11" stroke="#555" stroke-width="0.9" />
<line x1="86.33" y1="666.16" x2="91.53" y2="666.16" stroke="#555" stroke-width="0.9" />
<line x1="102.28" y1="621.31" x2="102.28" y2="665" stroke="#555" stroke-width="0.9" />
<line x1="99.68" y1="621.31" x2="104.88" y2="621.31" stroke="#555" stroke-width="0.9" />
<line x1="99.68" y1="665" x2="104.88" y2="665" stroke="#555" stroke-width="0.9" />
<line x1="122.31" y1="611.26" x2="122.31" y2="653.79" stroke="#555" stroke-width="0.9" />
<line x1="119.71" y1="611.26" x2="124.91" y2="611.26" stroke="#555" stroke-width="0.9" />
<line x1="119.71" y1="653.79" x2="124.91" y2="653.79" stroke="#555" stroke-width="0.9" />
<line x1="150.01" y1="603.14" x2="150.01" y2="632.53" stroke="#555" stroke-width="0.9" />
<line x1="147.41" y1="603.14" x2="152.61" y2="603.14" stroke="#555" stroke-width="0.9" />
<line x1="147.41" y1="632.53" x2="152.61" y2="632.53" stroke="#555" stroke-width="0.9" />
<line x1="190.22" y1="598.12" x2="190.22" y2="629.43" stroke="#555" stroke-width="0.9" />
<line x1="187.62" y1="598.12" x2="192.82" y2="598.12" stroke="#555" stroke-width="0.9" />
<line x1="187.62" y1="629.43" x2="192.82" y2="629.43" stroke="#555" stroke-width="0.9" />
<line x1="225.6" y1="582.27" x2="225.6" y2="612.42" stroke="#555" stroke-width="0.9" />
<line x1="223" y1="582.27" x2="228.2" y2="582.27" stroke="#555" stroke-width="0.9" />
<line x1="223" y1="612.42" x2="228.2" y2="612.42" stroke="#555" stroke-width="0.9" />
<line x1="259.48" y1="566.42" x2="259.48" y2="605.08" stroke="#555" stroke-width="0.9" />
<line x1="256.88" y1="566.42" x2="262.08" y2="566.42" stroke="#555" stroke-width="0.9" />
<line x1="256.88" y1="605.08" x2="262.08" y2="605.08" stroke="#555" stroke-width="0.9" />
<line x1="283.67" y1="572.22" x2="283.67" y2="631.37" stroke="#555" stroke-width="0.9" />
<line x1="281.07" y1="572.22" x2="286.27" y2="572.22" stroke="#555" stroke-width="0.9" />
<line x1="281.07" y1="631.37" x2="286.27" y2="631.37" stroke="#555" stroke-width="0.9" />
<line x1="297.53" y1="562.17" x2="297.53" y2="608.17" stroke="#555" stroke-width="0.9" />
<line x1="294.93" y1="562.17" x2="300.13" y2="562.17" stroke="#555" stroke-width="0.9" />
<line x1="294.93" y1="608.17" x2="300.13" y2="608.17" stroke="#555" stroke-width="0.9" />
<line x1="305.37" y1="561.01" x2="305.37" y2="605.85" stroke="#555" stroke-width="0.9" />
<line x1="302.77" y1="561.01" x2="307.97" y2="561.01" stroke="#555" stroke-width="0.9" />
<line x1="302.77" y1="605.85" x2="307.97" y2="605.85" stroke="#555" stroke-width="0.9" />
<line x1="312.04" y1="549.41" x2="312.04" y2="607.01" stroke="#aaa" stroke-width="0.9" />
<line x1="309.44" y1="549.41" x2="314.64" y2="549.41" stroke="#aaa" stroke-width="0.9" />
<line x1="309.44" y1="607.01" x2="314.64" y2="607.01" stroke="#aaa" stroke-width="0.9" />
<line x1="317.88" y1="563.33" x2="317.88" y2="613.2" stroke="#555" stroke-width="0.8" />
<line x1="315.88" y1="563.33" x2="319.88" y2="563.33" stroke="#555" stroke-width="0.8" />
<line x1="315.88" y1="613.2" x2="319.88" y2="613.2" stroke="#555" stroke-width="0.8" />
<line x1="319.22" y1="564.48" x2="319.22" y2="611.65" stroke="#555" stroke-width="0.8" />
<line x1="317.22" y1="564.48" x2="321.22" y2="564.48" stroke="#555" stroke-width="0.8" />
<line x1="317.22" y1="611.65" x2="321.22" y2="611.65" stroke="#555" stroke-width="0.8" />
<line x1="320.55" y1="562.94" x2="320.55" y2="613.2" stroke="#555" stroke-width="0.8" />
<line x1="318.55" y1="562.94" x2="322.55" y2="562.94" stroke="#555" stroke-width="0.8" />
<line x1="318.55" y1="613.2" x2="322.55" y2="613.2" stroke="#555" stroke-width="0.8" />
<line x1="322.06" y1="565.26" x2="322.06" y2="609.72" stroke="#555" stroke-width="0.8" />
<line x1="320.06" y1="565.26" x2="324.06" y2="565.26" stroke="#555" stroke-width="0.8" />
<line x1="320.06" y1="609.72" x2="324.06" y2="609.72" stroke="#555" stroke-width="0.8" />
<circle cx="81.09" cy="640.64" r="2.9" fill="#000"/>
<circle cx="88.93" cy="646.83" r="2.9" fill="#000"/>
<circle cx="102.28" cy="643.35" r="2.9" fill="#000"/>
<circle cx="122.31" cy="632.53" r="2.9" fill="#000"/>
<circle cx="150.01" cy="617.84" r="2.9" fill="#000"/>
<circle cx="190.22" cy="613.58" r="2.9" fill="#000"/>
<circle cx="225.6" cy="597.35" r="2.9" fill="#000"/>
<circle cx="259.48" cy="585.36" r="2.9" fill="#000"/>
<circle cx="283.67" cy="601.99" r="2.9" fill="#000"/>
<circle cx="297.53" cy="584.59" r="2.9" fill="#000"/>
<circle cx="305.37" cy="583.81" r="2.9" fill="#000"/>
<circle cx="312.04" cy="578.4" r="2.9" fill="#000"/>
<circle cx="317.88" cy="590.39" r="2.9" fill="#000"/>
<circle cx="319.22" cy="588.45" r="2.9" fill="#000"/>
<circle cx="320.55" cy="584.59" r="2.9" fill="#000"/>
<circle cx="322.06" cy="580.72" r="2.9" fill="#000"/>
<circle cx="319.05" cy="592.32" r="2.9" fill="#000"/>
<line x1="324.25" y1="585.88" x2="324.25" y2="607.29" stroke="#3a3aee" stroke-width="0.7" />
<line x1="322.05" y1="585.88" x2="326.45" y2="585.88" stroke="#3a3aee" stroke-width="0.7" />
<line x1="322.05" y1="607.29" x2="326.45" y2="607.29" stroke="#3a3aee" stroke-width="0.7" />
<line x1="324.62" y1="571.24" x2="324.62" y2="596.07" stroke="#3a3aee" stroke-width="0.7" />
<line x1="322.42" y1="571.24" x2="326.82" y2="571.24" stroke="#3a3aee" stroke-width="0.7" />
<line x1="322.42" y1="596.07" x2="326.82" y2="596.07" stroke="#3a3aee" stroke-width="0.7" />
<line x1="324.5" y1="589.48" x2="324.5" y2="609.07" stroke="#3a3aee" stroke-width="0.7" />
<line x1="322.3" y1="589.48" x2="326.7" y2="589.48" stroke="#3a3aee" stroke-width="0.7" />
<line x1="322.3" y1="609.07" x2="326.7" y2="609.07" stroke="#3a3aee" stroke-width="0.7" />
<line x1="324.78" y1="591.48" x2="324.78" y2="607.83" stroke="#3a3aee" stroke-width="0.7" />
<line x1="322.58" y1="591.48" x2="326.98" y2="591.48" stroke="#3a3aee" stroke-width="0.7" />
<line x1="322.58" y1="607.83" x2="326.98" y2="607.83" stroke="#3a3aee" stroke-width="0.7" />
<line x1="324.29" y1="577.75" x2="324.29" y2="599.6" stroke="#3a3aee" stroke-width="0.7" />
<line x1="322.09" y1="577.75" x2="326.49" y2="577.75" stroke="#3a3aee" stroke-width="0.7" />
<line x1="322.09" y1="599.6" x2="326.49" y2="599.6" stroke="#3a3aee" stroke-width="0.7" />
<line x1="324.87" y1="577.49" x2="324.87" y2="603.44" stroke="#3a3aee" stroke-width="0.7" />
<line x1="322.67" y1="577.49" x2="327.07" y2="577.49" stroke="#3a3aee" stroke-width="0.7" />
<line x1="322.67" y1="603.44" x2="327.07" y2="603.44" stroke="#3a3aee" stroke-width="0.7" />
<line x1="324.65" y1="575.95" x2="324.65" y2="593.48" stroke="#3a3aee" stroke-width="0.7" />
<line x1="322.45" y1="575.95" x2="326.85" y2="575.95" stroke="#3a3aee" stroke-width="0.7" />
<line x1="322.45" y1="593.48" x2="326.85" y2="593.48" stroke="#3a3aee" stroke-width="0.7" />
<line x1="324.6" y1="570.82" x2="324.6" y2="604.74" stroke="#3a3aee" stroke-width="0.7" />
<line x1="322.4" y1="570.82" x2="326.8" y2="570.82" stroke="#3a3aee" stroke-width="0.7" />
<line x1="322.4" y1="604.74" x2="326.8" y2="604.74" stroke="#3a3aee" stroke-width="0.7" />
<line x1="324.46" y1="581.77" x2="324.46" y2="603.74" stroke="#3a3aee" stroke-width="0.7" />
<line x1="322.26" y1="581.77" x2="326.66" y2="581.77" stroke="#3a3aee" stroke-width="0.7" />
<line x1="322.26" y1="603.74" x2="326.66" y2="603.74" stroke="#3a3aee" stroke-width="0.7" />
<line x1="324.6" y1="590.41" x2="324.6" y2="610.77" stroke="#3a3aee" stroke-width="0.7" />
<line x1="322.4" y1="590.41" x2="326.8" y2="590.41" stroke="#3a3aee" stroke-width="0.7" />
<line x1="322.4" y1="610.77" x2="326.8" y2="610.77" stroke="#3a3aee" stroke-width="0.7" />
<line x1="324.82" y1="576.35" x2="324.82" y2="597.31" stroke="#3a3aee" stroke-width="0.7" />
<line x1="322.62" y1="576.35" x2="327.02" y2="576.35" stroke="#3a3aee" stroke-width="0.7" />
<line x1="322.62" y1="597.31" x2="327.02" y2="597.31" stroke="#3a3aee" stroke-width="0.7" />
<line x1="324.42" y1="585.21" x2="324.42" y2="612.49" stroke="#3a3aee" stroke-width="0.7" />
<line x1="322.22" y1="585.21" x2="326.62" y2="585.21" stroke="#3a3aee" stroke-width="0.7" />
<line x1="322.22" y1="612.49" x2="326.62" y2="612.49" stroke="#3a3aee" stroke-width="0.7" />
<line x1="324.84" y1="571.55" x2="324.84" y2="593.07" stroke="#3a3aee" stroke-width="0.7" />
<line x1="322.64" y1="571.55" x2="327.04" y2="571.55" stroke="#3a3aee" stroke-width="0.7" />
<line x1="322.64" y1="593.07" x2="327.04" y2="593.07" stroke="#3a3aee" stroke-width="0.7" />
<line x1="324.56" y1="570.45" x2="324.56" y2="590.57" stroke="#3a3aee" stroke-width="0.7" />
<line x1="322.36" y1="570.45" x2="326.76" y2="570.45" stroke="#3a3aee" stroke-width="0.7" />
<line x1="322.36" y1="590.57" x2="326.76" y2="590.57" stroke="#3a3aee" stroke-width="0.7" />
<line x1="324.55" y1="568.55" x2="324.55" y2="589.01" stroke="#3a3aee" stroke-width="0.7" />
<line x1="322.35" y1="568.55" x2="326.75" y2="568.55" stroke="#3a3aee" stroke-width="0.7" />
<line x1="322.35" y1="589.01" x2="326.75" y2="589.01" stroke="#3a3aee" stroke-width="0.7" />
<line x1="324.64" y1="588.36" x2="324.64" y2="608.5" stroke="#3a3aee" stroke-width="0.7" />
<line x1="322.44" y1="588.36" x2="326.84" y2="588.36" stroke="#3a3aee" stroke-width="0.7" />
<line x1="322.44" y1="608.5" x2="326.84" y2="608.5" stroke="#3a3aee" stroke-width="0.7" />
<line x1="324.78" y1="572.06" x2="324.78" y2="589.99" stroke="#3a3aee" stroke-width="0.7" />
<line x1="322.58" y1="572.06" x2="326.98" y2="572.06" stroke="#3a3aee" stroke-width="0.7" />
<line x1="322.58" y1="589.99" x2="326.98" y2="589.99" stroke="#3a3aee" stroke-width="0.7" />
<line x1="324.85" y1="585.79" x2="324.85" y2="609.31" stroke="#3a3aee" stroke-width="0.7" />
<line x1="322.65" y1="585.79" x2="327.05" y2="585.79" stroke="#3a3aee" stroke-width="0.7" />
<line x1="322.65" y1="609.31" x2="327.05" y2="609.31" stroke="#3a3aee" stroke-width="0.7" />
<line x1="324.33" y1="585.37" x2="324.33" y2="611.83" stroke="#3a3aee" stroke-width="0.7" />
<line x1="322.13" y1="585.37" x2="326.53" y2="585.37" stroke="#3a3aee" stroke-width="0.7" />
<line x1="322.13" y1="611.83" x2="326.53" y2="611.83" stroke="#3a3aee" stroke-width="0.7" />
<line x1="324.54" y1="574.79" x2="324.54" y2="600.87" stroke="#3a3aee" stroke-width="0.7" />
<line x1="322.34" y1="574.79" x2="326.74" y2="574.79" stroke="#3a3aee" stroke-width="0.7" />
<line x1="322.34" y1="600.87" x2="326.74" y2="600.87" stroke="#3a3aee" stroke-width="0.7" />
<line x1="324.3" y1="575.53" x2="324.3" y2="599.44" stroke="#3a3aee" stroke-width="0.7" />
<line x1="322.1" y1="575.53" x2="326.5" y2="575.53" stroke="#3a3aee" stroke-width="0.7" />
<line x1="322.1" y1="599.44" x2="326.5" y2="599.44" stroke="#3a3aee" stroke-width="0.7" />
<line x1="324.45" y1="577.18" x2="324.45" y2="598.36" stroke="#3a3aee" stroke-width="0.7" />
<line x1="322.25" y1="577.18" x2="326.65" y2="577.18" stroke="#3a3aee" stroke-width="0.7" />
<line x1="322.25" y1="598.36" x2="326.65" y2="598.36" stroke="#3a3aee" stroke-width="0.7" />
<line x1="324.47" y1="577.89" x2="324.47" y2="604.98" stroke="#3a3aee" stroke-width="0.7" />
<line x1="322.27" y1="577.89" x2="326.67" y2="577.89" stroke="#3a3aee" stroke-width="0.7" />
<line x1="322.27" y1="604.98" x2="326.67" y2="604.98" stroke="#3a3aee" stroke-width="0.7" />
<line x1="324.39" y1="582.88" x2="324.39" y2="610.39" stroke="#3a3aee" stroke-width="0.7" />
<line x1="322.19" y1="582.88" x2="326.59" y2="582.88" stroke="#3a3aee" stroke-width="0.7" />
<line x1="322.19" y1="610.39" x2="326.59" y2="610.39" stroke="#3a3aee" stroke-width="0.7" />
<line x1="324.59" y1="567.03" x2="324.59" y2="587.83" stroke="#3a3aee" stroke-width="0.7" />
<line x1="322.39" y1="567.03" x2="326.79" y2="567.03" stroke="#3a3aee" stroke-width="0.7" />
<line x1="322.39" y1="587.83" x2="326.79" y2="587.83" stroke="#3a3aee" stroke-width="0.7" />
<line x1="324.61" y1="578.16" x2="324.61" y2="605.3" stroke="#3a3aee" stroke-width="0.7" />
<line x1="322.41" y1="578.16" x2="326.81" y2="578.16" stroke="#3a3aee" stroke-width="0.7" />
<line x1="322.41" y1="605.3" x2="326.81" y2="605.3" stroke="#3a3aee" stroke-width="0.7" />
<line x1="324.83" y1="579.83" x2="324.83" y2="600.45" stroke="#3a3aee" stroke-width="0.7" />
<line x1="322.63" y1="579.83" x2="327.03" y2="579.83" stroke="#3a3aee" stroke-width="0.7" />
<line x1="322.63" y1="600.45" x2="327.03" y2="600.45" stroke="#3a3aee" stroke-width="0.7" />
<line x1="324.36" y1="567.17" x2="324.36" y2="591.83" stroke="#3a3aee" stroke-width="0.7" />
<line x1="322.16" y1="567.17" x2="326.56" y2="567.17" stroke="#3a3aee" stroke-width="0.7" />
<line x1="322.16" y1="591.83" x2="326.56" y2="591.83" stroke="#3a3aee" stroke-width="0.7" />
<line x1="324.78" y1="587.88" x2="324.78" y2="612.55" stroke="#3a3aee" stroke-width="0.7" />
<line x1="322.58" y1="587.88" x2="326.98" y2="587.88" stroke="#3a3aee" stroke-width="0.7" />
<line x1="322.58" y1="612.55" x2="326.98" y2="612.55" stroke="#3a3aee" stroke-width="0.7" />
<line x1="324.75" y1="586.73" x2="324.75" y2="610.55" stroke="#3a3aee" stroke-width="0.7" />
<line x1="322.55" y1="586.73" x2="326.95" y2="586.73" stroke="#3a3aee" stroke-width="0.7" />
<line x1="322.55" y1="610.55" x2="326.95" y2="610.55" stroke="#3a3aee" stroke-width="0.7" />
<circle cx="324.25" cy="596.09" r="2.2" fill="#1a1ae6"/>
<circle cx="324.62" cy="587.52" r="2.2" fill="#1a1ae6"/>
<circle cx="324.5" cy="600.04" r="2.2" fill="#1a1ae6"/>
<circle cx="324.78" cy="597.69" r="2.2" fill="#1a1ae6"/>
<circle cx="324.29" cy="587.48" r="2.2" fill="#1a1ae6"/>
<circle cx="324.87" cy="588.15" r="2.2" fill="#1a1ae6"/>
<circle cx="324.65" cy="583.39" r="2.2" fill="#1a1ae6"/>
<circle cx="324.6" cy="587.84" r="2.2" fill="#1a1ae6"/>
<circle cx="324.46" cy="587.58" r="2.2" fill="#1a1ae6"/>
<circle cx="324.6" cy="597.84" r="2.2" fill="#1a1ae6"/>
<circle cx="324.82" cy="587.15" r="2.2" fill="#1a1ae6"/>
<circle cx="324.42" cy="595.41" r="2.2" fill="#1a1ae6"/>
<circle cx="324.84" cy="580.36" r="2.2" fill="#1a1ae6"/>
<circle cx="324.56" cy="579.95" r="2.2" fill="#1a1ae6"/>
<circle cx="324.55" cy="579.88" r="2.2" fill="#1a1ae6"/>
<circle cx="324.64" cy="597.55" r="2.2" fill="#1a1ae6"/>
<circle cx="324.78" cy="584.03" r="2.2" fill="#1a1ae6"/>
<circle cx="324.85" cy="594.44" r="2.2" fill="#1a1ae6"/>
<circle cx="324.33" cy="594.57" r="2.2" fill="#1a1ae6"/>
<circle cx="324.54" cy="587.59" r="2.2" fill="#1a1ae6"/>
<circle cx="324.3" cy="584.82" r="2.2" fill="#1a1ae6"/>
<circle cx="324.45" cy="589.12" r="2.2" fill="#1a1ae6"/>
<circle cx="324.47" cy="590.54" r="2.2" fill="#1a1ae6"/>
<circle cx="324.39" cy="599.31" r="2.2" fill="#1a1ae6"/>
<circle cx="324.59" cy="581.86" r="2.2" fill="#1a1ae6"/>
<circle cx="324.61" cy="591.29" r="2.2" fill="#1a1ae6"/>
<circle cx="324.83" cy="590.18" r="2.2" fill="#1a1ae6"/>
<circle cx="324.36" cy="582.6" r="2.2" fill="#1a1ae6"/>
<circle cx="324.78" cy="598.7" r="2.2" fill="#1a1ae6"/>
<circle cx="324.75" cy="594.18" r="2.2" fill="#1a1ae6"/>
<line x1="70.08" y1="646.44" x2="76.75" y2="642.58" stroke="#000" stroke-width="2"/>
<text x="73.9" y="534.2" font-size="13" fill="#000" stroke="#000" stroke-width="0.15" textLength="52.5" lengthAdjust="spacingAndGlyphs" >(<tspan font-style="italic">c</tspan><tspan font-size="8.5" dy="2.5">L</tspan><tspan dy="-2.5">, </tspan><tspan font-style="italic">c</tspan><tspan font-size="8.5" dy="2.5">R</tspan><tspan dy="-2.5">) [%]</tspan></text>
<circle cx="89.5" cy="548.7" r="2.4" fill="#1a1ae6"/>
<text x="105.4" y="552.7" font-size="13" fill="#000" stroke="#000" stroke-width="0.15" textLength="27.1" lengthAdjust="spacingAndGlyphs" >(1, 1)</text>
<circle cx="89.5" cy="564.6" r="2.4" fill="#22ee22"/>
<text x="105.4" y="568.6" font-size="13" fill="#000" stroke="#000" stroke-width="0.15" textLength="26.6" lengthAdjust="spacingAndGlyphs" >(5, 5)</text>
<circle cx="89.5" cy="580.2" r="2.4" fill="#ee1c1c"/>
<text x="105.4" y="584.2" font-size="13" fill="#000" stroke="#000" stroke-width="0.15" textLength="40.5" lengthAdjust="spacingAndGlyphs" >(50, 50)</text>
<circle cx="89.5" cy="596.1" r="2.4" fill="#000"/>
<text x="105.4" y="600.1" font-size="13" fill="#000" stroke="#000" stroke-width="0.15" textLength="33.9" lengthAdjust="spacingAndGlyphs" >(1, 50)</text>
<line x1="130.5" y1="691.4" x2="160.1" y2="691.4" stroke="#808080" stroke-width="1.4" stroke-dasharray="3.5 2.5"/>
<text x="169.3" y="695.8" font-size="12.5" fill="#000" stroke="#000" stroke-width="0.15" textLength="148.5" lengthAdjust="spacingAndGlyphs" ><tspan font-style="italic">V</tspan> = 1.14pH - 6.16 (<tspan font-style="italic">R</tspan><tspan font-size="8.5" dy="-5">2</tspan><tspan dy="5"> = 0.95 )</tspan></text>
<rect x="63.4" y="515" width="267" height="193.3" fill="none" stroke="#000" stroke-width="1.4" />
<text x="352.68" y="511.7" font-size="27.6" textLength="6.56" lengthAdjust="spacingAndGlyphs">(</text>
<text x="361.37" y="511.7" font-size="26" textLength="8.57" lengthAdjust="spacingAndGlyphs">f</text>
<text x="372.17" y="511.7" font-size="27.6" textLength="7.06" lengthAdjust="spacingAndGlyphs">)</text>
<line x1="415.6" y1="708.71" x2="417.9" y2="708.71" stroke="#000" stroke-width="1" />
<line x1="663.3" y1="708.71" x2="661" y2="708.71" stroke="#000" stroke-width="1" />
<line x1="415.6" y1="700.62" x2="417.9" y2="700.62" stroke="#000" stroke-width="1" />
<line x1="663.3" y1="700.62" x2="661" y2="700.62" stroke="#000" stroke-width="1" />
<line x1="415.6" y1="692.52" x2="417.9" y2="692.52" stroke="#000" stroke-width="1" />
<line x1="663.3" y1="692.52" x2="661" y2="692.52" stroke="#000" stroke-width="1" />
<line x1="415.6" y1="684.43" x2="417.9" y2="684.43" stroke="#000" stroke-width="1" />
<line x1="663.3" y1="684.43" x2="661" y2="684.43" stroke="#000" stroke-width="1" />
<line x1="415.6" y1="676.34" x2="419.6" y2="676.34" stroke="#000" stroke-width="1" />
<line x1="663.3" y1="676.34" x2="659.3" y2="676.34" stroke="#000" stroke-width="1" />
<line x1="415.6" y1="668.25" x2="417.9" y2="668.25" stroke="#000" stroke-width="1" />
<line x1="663.3" y1="668.25" x2="661" y2="668.25" stroke="#000" stroke-width="1" />
<line x1="415.6" y1="660.16" x2="417.9" y2="660.16" stroke="#000" stroke-width="1" />
<line x1="663.3" y1="660.16" x2="661" y2="660.16" stroke="#000" stroke-width="1" />
<line x1="415.6" y1="652.06" x2="417.9" y2="652.06" stroke="#000" stroke-width="1" />
<line x1="663.3" y1="652.06" x2="661" y2="652.06" stroke="#000" stroke-width="1" />
<line x1="415.6" y1="643.97" x2="417.9" y2="643.97" stroke="#000" stroke-width="1" />
<line x1="663.3" y1="643.97" x2="661" y2="643.97" stroke="#000" stroke-width="1" />
<line x1="415.6" y1="635.88" x2="419.6" y2="635.88" stroke="#000" stroke-width="1" />
<line x1="663.3" y1="635.88" x2="659.3" y2="635.88" stroke="#000" stroke-width="1" />
<line x1="415.6" y1="627.79" x2="417.9" y2="627.79" stroke="#000" stroke-width="1" />
<line x1="663.3" y1="627.79" x2="661" y2="627.79" stroke="#000" stroke-width="1" />
<line x1="415.6" y1="619.7" x2="417.9" y2="619.7" stroke="#000" stroke-width="1" />
<line x1="663.3" y1="619.7" x2="661" y2="619.7" stroke="#000" stroke-width="1" />
<line x1="415.6" y1="611.6" x2="417.9" y2="611.6" stroke="#000" stroke-width="1" />
<line x1="663.3" y1="611.6" x2="661" y2="611.6" stroke="#000" stroke-width="1" />
<line x1="415.6" y1="603.51" x2="417.9" y2="603.51" stroke="#000" stroke-width="1" />
<line x1="663.3" y1="603.51" x2="661" y2="603.51" stroke="#000" stroke-width="1" />
<line x1="415.6" y1="595.42" x2="419.6" y2="595.42" stroke="#000" stroke-width="1" />
<line x1="663.3" y1="595.42" x2="659.3" y2="595.42" stroke="#000" stroke-width="1" />
<line x1="415.6" y1="587.33" x2="417.9" y2="587.33" stroke="#000" stroke-width="1" />
<line x1="663.3" y1="587.33" x2="661" y2="587.33" stroke="#000" stroke-width="1" />
<line x1="415.6" y1="579.24" x2="417.9" y2="579.24" stroke="#000" stroke-width="1" />
<line x1="663.3" y1="579.24" x2="661" y2="579.24" stroke="#000" stroke-width="1" />
<line x1="415.6" y1="571.14" x2="417.9" y2="571.14" stroke="#000" stroke-width="1" />
<line x1="663.3" y1="571.14" x2="661" y2="571.14" stroke="#000" stroke-width="1" />
<line x1="415.6" y1="563.05" x2="417.9" y2="563.05" stroke="#000" stroke-width="1" />
<line x1="663.3" y1="563.05" x2="661" y2="563.05" stroke="#000" stroke-width="1" />
<line x1="415.6" y1="554.96" x2="419.6" y2="554.96" stroke="#000" stroke-width="1" />
<line x1="663.3" y1="554.96" x2="659.3" y2="554.96" stroke="#000" stroke-width="1" />
<line x1="415.6" y1="546.87" x2="417.9" y2="546.87" stroke="#000" stroke-width="1" />
<line x1="663.3" y1="546.87" x2="661" y2="546.87" stroke="#000" stroke-width="1" />
<line x1="415.6" y1="538.78" x2="417.9" y2="538.78" stroke="#000" stroke-width="1" />
<line x1="663.3" y1="538.78" x2="661" y2="538.78" stroke="#000" stroke-width="1" />
<line x1="415.6" y1="530.68" x2="417.9" y2="530.68" stroke="#000" stroke-width="1" />
<line x1="663.3" y1="530.68" x2="661" y2="530.68" stroke="#000" stroke-width="1" />
<line x1="415.6" y1="522.59" x2="417.9" y2="522.59" stroke="#000" stroke-width="1" />
<line x1="663.3" y1="522.59" x2="661" y2="522.59" stroke="#000" stroke-width="1" />
<text x="410.4" y="721.1" font-size="14" text-anchor="end" fill="#000" stroke="#000" stroke-width="0.15" >0</text>
<text x="410.4" y="680.64" font-size="14" text-anchor="end" fill="#000" stroke="#000" stroke-width="0.15" textLength="18.6" lengthAdjust="spacingAndGlyphs" >0.1</text>
<text x="410.4" y="640.18" font-size="14" text-anchor="end" fill="#000" stroke="#000" stroke-width="0.15" textLength="18.6" lengthAdjust="spacingAndGlyphs" >0.2</text>
<text x="410.4" y="599.72" font-size="14" text-anchor="end" fill="#000" stroke="#000" stroke-width="0.15" textLength="18.6" lengthAdjust="spacingAndGlyphs" >0.3</text>
<text x="410.4" y="559.26" font-size="14" text-anchor="end" fill="#000" stroke="#000" stroke-width="0.15" textLength="18.6" lengthAdjust="spacingAndGlyphs" >0.4</text>
<text x="410.4" y="518.8" font-size="14" text-anchor="end" fill="#000" stroke="#000" stroke-width="0.15" textLength="18.6" lengthAdjust="spacingAndGlyphs" >0.5</text>
<text x="386.5" y="673.5" font-size="17" fill="#000" stroke="#000" stroke-width="0.15" textLength="114" lengthAdjust="spacingAndGlyphs" transform="rotate(-90 386.5 673.5)" >Persistence [-]</text>
<line x1="432.1" y1="559.01" x2="432.1" y2="621.72" stroke="#999" stroke-width="1" />
<line x1="432.1" y1="691.71" x2="432.1" y2="702.64" stroke="#999" stroke-width="1" />
<line x1="429.6" y1="559.01" x2="434.6" y2="559.01" stroke="#999" stroke-width="1" />
<line x1="429.6" y1="702.64" x2="434.6" y2="702.64" stroke="#999" stroke-width="1" />
<rect x="426.2" y="621.72" width="11.8" height="70" fill="#ffffff" stroke="#999" stroke-width="1" />
<rect x="429.9" y="642.18" width="4.4" height="4.4" fill="none" stroke="#222" stroke-width="0.9" />
<circle cx="432.1" cy="660.97" r="2.5" fill="none" stroke="#222" stroke-width="0.9"/>
<line x1="448.65" y1="590.16" x2="448.65" y2="627.38" stroke="#777" stroke-width="1" />
<line x1="448.65" y1="688.88" x2="448.65" y2="701.43" stroke="#777" stroke-width="1" />
<line x1="446.15" y1="590.16" x2="451.15" y2="590.16" stroke="#777" stroke-width="1" />
<line x1="446.15" y1="701.43" x2="451.15" y2="701.43" stroke="#777" stroke-width="1" />
<rect x="442.5" y="627.38" width="12.3" height="61.5" fill="#c0c0c0" stroke="#666" stroke-width="1" />
<rect x="446.45" y="647.84" width="4.4" height="4.4" fill="none" stroke="#222" stroke-width="0.9" />
<circle cx="448.65" cy="660.56" r="2.5" fill="none" stroke="#222" stroke-width="0.9"/>
<line x1="465.05" y1="629.81" x2="465.05" y2="663.39" stroke="#a0a0a0" stroke-width="1" />
<line x1="465.05" y1="701.43" x2="465.05" y2="716.8" stroke="#a0a0a0" stroke-width="1" />
<line x1="462.55" y1="629.81" x2="467.55" y2="629.81" stroke="#a0a0a0" stroke-width="1" />
<rect x="459" y="663.39" width="12.1" height="38.03" fill="#808080" stroke="#666" stroke-width="1" />
<rect x="462.85" y="669.69" width="4.4" height="4.4" fill="none" stroke="#222" stroke-width="0.9" />
<circle cx="465.05" cy="689.29" r="2.5" fill="none" stroke="#222" stroke-width="0.9"/>
<line x1="481.55" y1="595.42" x2="481.55" y2="635.88" stroke="#555" stroke-width="1" />
<line x1="481.55" y1="690.91" x2="481.55" y2="702.64" stroke="#555" stroke-width="1" />
<line x1="479.05" y1="595.42" x2="484.05" y2="595.42" stroke="#555" stroke-width="1" />
<line x1="479.05" y1="702.64" x2="484.05" y2="702.64" stroke="#555" stroke-width="1" />
<rect x="475.4" y="635.88" width="12.3" height="55.03" fill="#000000" stroke="#000" stroke-width="1" />
<rect x="479.35" y="653.1" width="4.4" height="4.4" fill="none" stroke="#fff" stroke-width="0.9" />
<circle cx="481.55" cy="673.51" r="2.5" fill="none" stroke="#fff" stroke-width="0.9"/>
<line x1="514.45" y1="590.56" x2="514.45" y2="640.33" stroke="#999" stroke-width="1" />
<line x1="514.45" y1="690.91" x2="514.45" y2="702.23" stroke="#999" stroke-width="1" />
<line x1="511.95" y1="590.56" x2="516.95" y2="590.56" stroke="#999" stroke-width="1" />
<line x1="511.95" y1="702.23" x2="516.95" y2="702.23" stroke="#999" stroke-width="1" />
<rect x="508.3" y="640.33" width="12.3" height="50.57" fill="#ffffff" stroke="#999" stroke-width="1" />
<rect x="512.25" y="657.55" width="4.4" height="4.4" fill="none" stroke="#222" stroke-width="0.9" />
<circle cx="514.45" cy="674.32" r="2.5" fill="none" stroke="#222" stroke-width="0.9"/>
<line x1="531" y1="594.21" x2="531" y2="628.6" stroke="#777" stroke-width="1" />
<line x1="531" y1="684.84" x2="531" y2="697.38" stroke="#777" stroke-width="1" />
<line x1="528.5" y1="594.21" x2="533.5" y2="594.21" stroke="#777" stroke-width="1" />
<line x1="528.5" y1="697.38" x2="533.5" y2="697.38" stroke="#777" stroke-width="1" />
<rect x="524.8" y="628.6" width="12.4" height="56.24" fill="#c0c0c0" stroke="#666" stroke-width="1" />
<rect x="528.8" y="649.46" width="4.4" height="4.4" fill="none" stroke="#222" stroke-width="0.9" />
<circle cx="531" cy="661.37" r="2.5" fill="none" stroke="#222" stroke-width="0.9"/>
<line x1="547.5" y1="613.22" x2="547.5" y2="656.51" stroke="#a0a0a0" stroke-width="1" />
<line x1="547.5" y1="699" x2="547.5" y2="716.8" stroke="#a0a0a0" stroke-width="1" />
<line x1="545" y1="613.22" x2="550" y2="613.22" stroke="#a0a0a0" stroke-width="1" />
<rect x="541.4" y="656.51" width="12.2" height="42.48" fill="#808080" stroke="#666" stroke-width="1" />
<rect x="545.3" y="665.24" width="4.4" height="4.4" fill="none" stroke="#222" stroke-width="0.9" />
<circle cx="547.5" cy="682.81" r="2.5" fill="none" stroke="#222" stroke-width="0.9"/>
<line x1="564" y1="619.7" x2="564" y2="652.87" stroke="#555" stroke-width="1" />
<line x1="564" y1="697.78" x2="564" y2="706.68" stroke="#555" stroke-width="1" />
<line x1="561.5" y1="619.7" x2="566.5" y2="619.7" stroke="#555" stroke-width="1" />
<line x1="561.5" y1="706.68" x2="566.5" y2="706.68" stroke="#555" stroke-width="1" />
<rect x="558" y="652.87" width="12" height="44.91" fill="#000000" stroke="#000" stroke-width="1" />
<rect x="561.8" y="660.79" width="4.4" height="4.4" fill="none" stroke="#fff" stroke-width="0.9" />
<circle cx="564" cy="681.2" r="2.5" fill="none" stroke="#fff" stroke-width="0.9"/>
<line x1="597.3" y1="583.28" x2="597.3" y2="616.86" stroke="#999" stroke-width="1" />
<line x1="597.3" y1="689.69" x2="597.3" y2="703.45" stroke="#999" stroke-width="1" />
<line x1="594.8" y1="583.28" x2="599.8" y2="583.28" stroke="#999" stroke-width="1" />
<line x1="594.8" y1="703.45" x2="599.8" y2="703.45" stroke="#999" stroke-width="1" />
<rect x="591.1" y="616.86" width="12.4" height="72.83" fill="#ffffff" stroke="#999" stroke-width="1" />
<rect x="595.1" y="646.63" width="4.4" height="4.4" fill="none" stroke="#222" stroke-width="0.9" />
<circle cx="597.3" cy="663.39" r="2.5" fill="none" stroke="#222" stroke-width="0.9"/>
<line x1="613.55" y1="585.3" x2="613.55" y2="630.62" stroke="#777" stroke-width="1" />
<line x1="613.55" y1="687.67" x2="613.55" y2="701.83" stroke="#777" stroke-width="1" />
<line x1="611.05" y1="585.3" x2="616.05" y2="585.3" stroke="#777" stroke-width="1" />
<line x1="611.05" y1="701.83" x2="616.05" y2="701.83" stroke="#777" stroke-width="1" />
<rect x="607.5" y="630.62" width="12.1" height="57.05" fill="#c0c0c0" stroke="#666" stroke-width="1" />
<rect x="611.35" y="650.27" width="4.4" height="4.4" fill="none" stroke="#222" stroke-width="0.9" />
<circle cx="613.55" cy="664.2" r="2.5" fill="none" stroke="#222" stroke-width="0.9"/>
<line x1="630.2" y1="621.72" x2="630.2" y2="659.75" stroke="#a0a0a0" stroke-width="1" />
<line x1="630.2" y1="703.85" x2="630.2" y2="716.8" stroke="#a0a0a0" stroke-width="1" />
<line x1="627.7" y1="621.72" x2="632.7" y2="621.72" stroke="#a0a0a0" stroke-width="1" />
<rect x="624.1" y="659.75" width="12.2" height="44.1" fill="#808080" stroke="#666" stroke-width="1" />
<rect x="628" y="668.88" width="4.4" height="4.4" fill="none" stroke="#222" stroke-width="0.9" />
<circle cx="630.2" cy="687.26" r="2.5" fill="none" stroke="#222" stroke-width="0.9"/>
<line x1="646.65" y1="605.13" x2="646.65" y2="656.92" stroke="#555" stroke-width="1" />
<line x1="646.65" y1="695.76" x2="646.65" y2="703.45" stroke="#555" stroke-width="1" />
<line x1="644.15" y1="605.13" x2="649.15" y2="605.13" stroke="#555" stroke-width="1" />
<line x1="644.15" y1="703.45" x2="649.15" y2="703.45" stroke="#555" stroke-width="1" />
<rect x="640.7" y="656.92" width="11.9" height="38.84" fill="#000000" stroke="#000" stroke-width="1" />
<rect x="644.45" y="655.93" width="4.4" height="4.4" fill="none" stroke="#fff" stroke-width="0.9" />
<circle cx="646.65" cy="680.39" r="2.5" fill="none" stroke="#fff" stroke-width="0.9"/>
<line x1="436" y1="555" x2="462.6" y2="555" stroke="#555" stroke-width="1.1" />
<text x="444.3 449.6 454.9" y="556.3" font-size="10.5" text-anchor="middle" fill="#222">***</text>
<line x1="452" y1="564.3" x2="462.6" y2="564.3" stroke="#444" stroke-width="1.1" />
<text x="452.3 457.6 462.9" y="565.6" font-size="10.5" text-anchor="middle" fill="#222">***</text>
<line x1="467.7" y1="572.4" x2="478.9" y2="572.4" stroke="#444" stroke-width="1.1" />
<text x="468.3 473.6 478.9" y="573.7" font-size="10.5" text-anchor="middle" fill="#222">***</text>
<line x1="516.7" y1="554.6" x2="559.6" y2="554.6" stroke="#999" stroke-width="1.1" />
<text x="535.8 541.1" y="555.9" font-size="10.5" text-anchor="middle" fill="#222">**</text>
<line x1="533.6" y1="563.4" x2="559.6" y2="563.4" stroke="#444" stroke-width="1.1" />
<text x="541.6 546.9 552.2" y="564.7" font-size="10.5" text-anchor="middle" fill="#222">***</text>
<line x1="516.7" y1="572.2" x2="544.5" y2="572.2" stroke="#444" stroke-width="1.1" />
<text x="525.6 530.9 536.2" y="573.5" font-size="10.5" text-anchor="middle" fill="#222">***</text>
<line x1="516.7" y1="580.9" x2="527.5" y2="580.9" stroke="#444" stroke-width="1.1" />
<text x="519.75 525.05" y="582.2" font-size="10.5" text-anchor="middle" fill="#222">**</text>
<line x1="533.6" y1="589.7" x2="545.9" y2="589.7" stroke="#444" stroke-width="1.1" />
<text x="534.75 540.05 545.35" y="591" font-size="10.5" text-anchor="middle" fill="#222">***</text>
<line x1="600.5" y1="554.6" x2="643.7" y2="554.6" stroke="#444" stroke-width="1.1" />
<text x="617.1 622.4 627.7" y="555.9" font-size="10.5" text-anchor="middle" fill="#222">***</text>
<line x1="616.9" y1="563.4" x2="643.7" y2="563.4" stroke="#444" stroke-width="1.1" />
<text x="625.3 630.6 635.9" y="564.7" font-size="10.5" text-anchor="middle" fill="#222">***</text>
<line x1="600.5" y1="572.2" x2="627.7" y2="572.2" stroke="#444" stroke-width="1.1" />
<text x="609.1 614.4 619.7" y="573.5" font-size="10.5" text-anchor="middle" fill="#222">***</text>
<line x1="616.9" y1="580.9" x2="628.5" y2="580.9" stroke="#444" stroke-width="1.1" />
<text x="617.7 623 628.3" y="582.2" font-size="10.5" text-anchor="middle" fill="#222">***</text>
<line x1="632.6" y1="589.7" x2="644.3" y2="589.7" stroke="#444" stroke-width="1.1" />
<text x="633.45 638.75 644.05" y="591" font-size="10.5" text-anchor="middle" fill="#222">***</text>
<text x="481" y="530.5" font-size="11.5" fill="#000" stroke="#000" stroke-width="0.15" textLength="44.5" lengthAdjust="spacingAndGlyphs" >(<tspan font-style="italic">c</tspan><tspan font-size="8" dy="2.5">L</tspan><tspan dy="-2.5">, </tspan><tspan font-style="italic">c</tspan><tspan font-size="8" dy="2.5">R</tspan><tspan dy="-2.5">) [%]</tspan></text>
<rect x="529.3" y="518.7" width="26.2" height="12.2" fill="#fff" stroke="#888" stroke-width="1" />
<text x="560.5" y="528.3" font-size="11.8" fill="#000" stroke="#000" stroke-width="0.15" textLength="23.6" lengthAdjust="spacingAndGlyphs" >(1, 1)</text>
<rect x="599.3" y="518.7" width="26.2" height="12.2" fill="#c0c0c0" stroke="#777" stroke-width="1" />
<text x="630.5" y="528.3" font-size="11.8" fill="#000" stroke="#000" stroke-width="0.15" textLength="23.6" lengthAdjust="spacingAndGlyphs" >(5, 5)</text>
<rect x="529.3" y="533.3" width="26.2" height="12.2" fill="#808080" stroke="#666" stroke-width="1" />
<text x="560.5" y="542.9" font-size="11.8" fill="#000" stroke="#000" stroke-width="0.15" textLength="34.2" lengthAdjust="spacingAndGlyphs" >(50, 50)</text>
<rect x="599.3" y="533.3" width="26.2" height="12.2" fill="#000" stroke="#000" stroke-width="1" />
<text x="630.5" y="542.9" font-size="11.8" fill="#000" stroke="#000" stroke-width="0.15" textLength="27" lengthAdjust="spacingAndGlyphs" >(1, 50)</text>
<rect x="415.6" y="514.5" width="247.7" height="202.3" fill="none" stroke="#000" stroke-width="1.4" />
<text x="457" y="735.1" font-size="18" text-anchor="middle" fill="#000" stroke="#000" stroke-width="0.15" textLength="21.5" lengthAdjust="spacingAndGlyphs" >A2</text>
<text x="539.3" y="735.1" font-size="18" text-anchor="middle" fill="#000" stroke="#000" stroke-width="0.15" textLength="21.5" lengthAdjust="spacingAndGlyphs" >A3</text>
<text x="621.6" y="735.1" font-size="18" text-anchor="middle" fill="#000" stroke="#000" stroke-width="0.15" textLength="21.5" lengthAdjust="spacingAndGlyphs" >A4</text>
</svg></body></html>
